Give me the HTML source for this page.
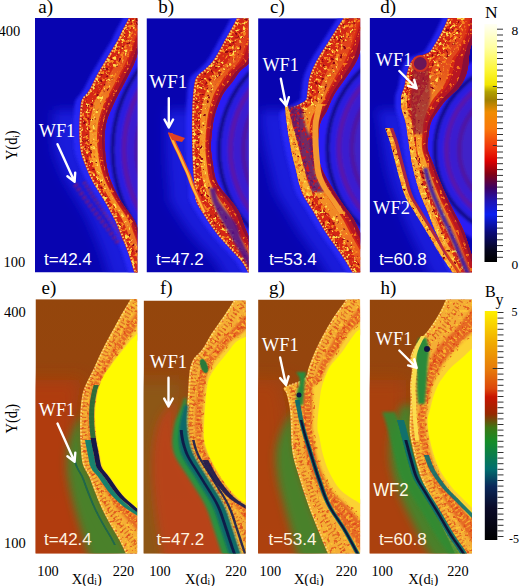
<!DOCTYPE html>
<html><head><meta charset="utf-8"><style>
html,body{margin:0;padding:0;background:#fff;}
body{width:520px;height:586px;overflow:hidden;position:relative;}
svg{position:absolute;left:0;top:0;}
</style></head><body>
<svg width="520" height="586" viewBox="0 0 520 586">
<defs>
<filter id="blur1" x="-20%" y="-20%" width="140%" height="140%"><feGaussianBlur stdDeviation="0.8"/></filter>
<filter id="blur2" x="-20%" y="-20%" width="140%" height="140%"><feGaussianBlur stdDeviation="1.5"/></filter>
<filter id="blur4" x="-20%" y="-20%" width="140%" height="140%"><feGaussianBlur stdDeviation="4"/></filter>
<filter id="blur07" x="-20%" y="-20%" width="140%" height="140%"><feGaussianBlur stdDeviation="0.7"/></filter>
<filter id="blur8" x="-30%" y="-30%" width="160%" height="160%"><feGaussianBlur stdDeviation="8"/></filter>
<filter id="blur3" x="-30%" y="-30%" width="160%" height="160%"><feGaussianBlur stdDeviation="3"/></filter>
<filter id="blur6" x="-30%" y="-30%" width="160%" height="160%"><feGaussianBlur stdDeviation="6"/></filter>
<filter id="blur05" x="-20%" y="-20%" width="140%" height="140%"><feGaussianBlur stdDeviation="0.5"/></filter>
<filter id="blur15" x="-20%" y="-20%" width="140%" height="140%"><feGaussianBlur stdDeviation="1.5"/></filter>
<filter id="speck" color-interpolation-filters="sRGB" x="0" y="0" width="520" height="586" filterUnits="userSpaceOnUse">
<feTurbulence type="fractalNoise" baseFrequency="0.28" numOctaves="2" seed="7" result="n"/>
<feColorMatrix in="n" type="matrix" values="0 0 0 0 0.97  0 0 0 0 0.52  0 0 0 0 0.12  9 0 0 0 -4.9" result="o"/>
<feColorMatrix in="n" type="matrix" values="0 0 0 0 1  0 0 0 0 0.88  0 0 0 0 0.3  0 10 0 0 -6.2" result="y"/>
<feColorMatrix in="n" type="matrix" values="0 0 0 0 0.55  0 0 0 0 0.02  0 0 0 0 0.08  0 0 9 0 -5.6" result="d"/>
<feMerge result="m"><feMergeNode in="d"/><feMergeNode in="o"/><feMergeNode in="y"/></feMerge>
<feComposite in="m" in2="SourceGraphic" operator="in"/>
<feGaussianBlur stdDeviation="0.45"/>
</filter>
<filter id="speckR" color-interpolation-filters="sRGB" x="0" y="0" width="520" height="586" filterUnits="userSpaceOnUse">
<feTurbulence type="fractalNoise" baseFrequency="0.3" numOctaves="2" seed="5" result="n"/>
<feColorMatrix in="n" type="matrix" values="0 0 0 0 0.8  0 0 0 0 0.08  0 0 0 0 0.12  9 0 0 0 -5.0"/>
<feComposite in2="SourceGraphic" operator="in"/>
<feGaussianBlur stdDeviation="0.5"/>
</filter>
<filter id="speckS" color-interpolation-filters="sRGB" x="0" y="0" width="520" height="586" filterUnits="userSpaceOnUse">
<feTurbulence type="fractalNoise" baseFrequency="0.3" numOctaves="2" seed="3" result="n"/>
<feColorMatrix in="n" type="matrix" values="0 0 0 0 0.96  0 0 0 0 0.45  0 0 0 0 0.1  10 0 0 0 -6.0"/>
<feComposite in2="SourceGraphic" operator="in"/>
<feGaussianBlur stdDeviation="0.5"/>
</filter>
<filter id="speckB" color-interpolation-filters="sRGB" x="0" y="0" width="520" height="586" filterUnits="userSpaceOnUse">
<feTurbulence type="fractalNoise" baseFrequency="0.3" numOctaves="2" seed="11" result="n"/>
<feColorMatrix in="n" type="matrix" values="0 0 0 0 1  0 0 0 0 0.82  0 0 0 0 0.2  9 0 0 0 -5.4" result="y"/>
<feColorMatrix in="n" type="matrix" values="0 0 0 0 0.85  0 0 0 0 0.2  0 0 0 0 0.08  0 9 0 0 -5.2" result="r"/>
<feMerge result="m"><feMergeNode in="r"/><feMergeNode in="y"/></feMerge>
<feComposite in="m" in2="SourceGraphic" operator="in"/>
</filter>
<linearGradient id="gBrown" gradientUnits="userSpaceOnUse" x1="0" y1="299" x2="0" y2="554">
<stop offset="0" stop-color="#94460c"/><stop offset="0.45" stop-color="#96440e"/><stop offset="1" stop-color="#a44414"/></linearGradient>
<linearGradient id="gGreen" gradientUnits="userSpaceOnUse" x1="0" y1="400" x2="0" y2="554">
<stop offset="0" stop-color="#3a8a2c"/><stop offset="1" stop-color="#3c8c28"/></linearGradient>
<linearGradient id="gEdge" gradientUnits="userSpaceOnUse" x1="0" y1="18" x2="0" y2="272">
<stop offset="0" stop-color="#f06a20"/><stop offset="0.35" stop-color="#f89028"/><stop offset="0.7" stop-color="#f07020"/><stop offset="1" stop-color="#e85018"/></linearGradient>
<linearGradient id="gMix" gradientUnits="userSpaceOnUse" x1="0" y1="18" x2="0" y2="272">
<stop offset="0" stop-color="#d83018"/><stop offset="0.35" stop-color="#e85a1c"/><stop offset="0.7" stop-color="#e04818"/><stop offset="1" stop-color="#d02818"/></linearGradient>
<linearGradient id="gCore" gradientUnits="userSpaceOnUse" x1="0" y1="18" x2="0" y2="272">
<stop offset="0" stop-color="#dc3018"/><stop offset="0.2" stop-color="#e4521c"/><stop offset="0.35" stop-color="#f08a26"/><stop offset="0.55" stop-color="#f8a42c"/><stop offset="0.8" stop-color="#f08426"/><stop offset="1" stop-color="#e44418"/></linearGradient>
</defs>
<clipPath id="clipa"><rect x="35.0" y="18.0" width="102.5" height="254.5"/></clipPath><g clip-path="url(#clipa)">
<rect x="35.0" y="18.0" width="102.5" height="254.5" fill="#0804b0"/>
<g filter="url(#blur15)">
<circle cx="249.5" cy="150.0" r="151.0" fill="#2a1ef5"/>
<circle cx="249.5" cy="150.0" r="142.0" fill="none" stroke="#2a1ef5" stroke-width="6.0"/>
<circle cx="249.5" cy="150.0" r="137.0" fill="none" stroke="#100a78" stroke-width="4.0"/>
<circle cx="249.5" cy="150.0" r="131.5" fill="none" stroke="#2c1ae0" stroke-width="7.0"/>
<circle cx="249.5" cy="150.0" r="125.5" fill="none" stroke="#5a18a8" stroke-width="5.0"/>
<circle cx="249.5" cy="150.0" r="119.0" fill="none" stroke="#3a1ad0" stroke-width="8.0"/>
<circle cx="249.5" cy="150.0" r="112.5" fill="none" stroke="#5018a0" stroke-width="5.0"/>
<circle cx="249.5" cy="150.0" r="110.0" fill="#4020c8"/>
</g>
<g filter="url(#blur6)">
<path d="M54.1,110C54,111 53.8,114 53.6,116C53.5,118 53.4,120 53.3,122C53.3,124 53.2,126 53.2,128C53.2,130 53.2,132 53.3,134C53.3,136 53.4,138 53.5,140C53.6,142 53.8,144 54,146C54.2,148 54.4,150 54.9,152C55.3,154 55.9,156 56.6,158C57.2,160 58,162 58.8,164C59.5,166 60.3,168 61.1,170C62,172 62.8,174 63.8,176C64.7,178 65.7,180 66.8,182C67.9,184 69.1,186 70.3,188C71.6,190 72.9,192 74.1,194C75.4,196 76.6,198 77.8,200C79,202 80.1,204 81.3,206C82.4,208 83.5,210 84.6,212C85.6,214 86.7,216 87.7,218C88.7,220 89.7,222 90.5,224C91.4,226 92.2,228 93,230C93.8,232 94.6,234 95.4,236C96.2,238 97.1,240 97.9,242C98.7,244 99.5,246 100.3,248C101,250 101.7,252 102.4,254C103.1,256 103.8,258 104.4,260C105.1,262 105.7,264 106.3,266C106.9,268 107.5,270 108.1,272C108.7,274 109.4,276.6 109.8,278C110.2,279.4 110.4,280.1 110.6,280.5 L138.6,280.5C138.4,280.1 138.2,279.4 137.8,278C137.4,276.6 136.7,274 136.1,272C135.5,270 134.9,268 134.3,266C133.7,264 133.1,262 132.4,260C131.8,258 131.1,256 130.4,254C129.7,252 129,250 128.3,248C127.5,246 126.7,244 125.9,242C125.1,240 124.2,238 123.4,236C122.6,234 121.8,232 121,230C120.2,228 119.4,226 118.5,224C117.7,222 116.7,220 115.7,218C114.7,216 113.6,214 112.6,212C111.5,210 110.4,208 109.3,206C108.1,204 107,202 105.8,200C104.6,198 103.4,196 102.1,194C100.9,192 99.6,190 98.3,188C97.1,186 95.9,184 94.8,182C93.7,180 92.7,178 91.8,176C90.8,174 90,172 89.1,170C88.3,168 87.5,166 86.8,164C86,162 85.2,160 84.6,158C83.9,156 83.3,154 82.9,152C82.4,150 82.2,148 82,146C81.8,144 81.6,142 81.5,140C81.4,138 81.3,136 81.3,134C81.2,132 81.2,130 81.2,128C81.2,126 81.3,124 81.3,122C81.4,120 81.5,118 81.6,116C81.8,114 82,111 82.1,110 Z" fill="#2a30ff" fill-opacity="0.55" />
</g>
<g filter="url(#blur2)">
<path d="M124.6,10C124.4,11 124.1,14 123.5,16C122.8,18 121.9,20 120.9,22C119.9,24 118.6,26 117.6,28C116.5,30 115.6,32 114.6,34C113.7,36 112.8,38 111.8,40C110.7,42 109.4,44 108.2,46C107,48 105.7,50 104.5,52C103.3,54 102.1,56 100.9,58C99.8,60 98.6,62 97.4,64C96.2,66 95,68 93.8,70C92.6,72 91.5,74 90.4,76C89.4,78 88.4,80 87.4,82C86.4,84 85.5,86 84.4,88C83.3,90 82,92 80.6,94C79.1,96 76.7,98 75.7,100C74.7,102 74.8,104 74.5,106C74.2,108 74.1,110 73.9,112C73.8,114 73.6,116 73.5,118C73.4,120 73.3,122 73.3,124C73.2,126 73.2,128 73.2,130C73.2,132 73.2,134 73.3,136C73.4,138 73.5,140 73.6,142C73.8,144 73.9,146 74.2,148C74.5,150 74.8,152 75.3,154C75.8,156 76.6,158 77.3,160C78,162 78.7,164 79.5,166C80.3,168 81.1,170 82,172C82.8,174 83.7,176 84.7,178C85.7,180 86.8,182 87.9,184C89.1,186 90.4,188 91.6,190C92.8,192 94.2,194 95.4,196C96.6,198 97.8,200 99,202C100.1,204 101.3,206 102.4,208C103.5,210 104.6,212 105.6,214C106.7,216 107.7,218 108.7,220C109.7,222 110.5,224 111.4,226C112.2,228 113,230 113.8,232C114.6,234 115.4,236 116.2,238C117.1,240 117.9,242 118.7,244C119.5,246 120.3,248 121,250C121.7,252 122.4,254 123.1,256C123.8,258 124.4,260 125.1,262C125.7,264 126.3,266 126.9,268C127.5,270 128.1,272 128.7,274C129.3,276 130.1,278.9 130.4,280C130.7,281.1 130.5,280.4 130.6,280.5 L138.6,280.5C138.5,280.4 138.7,281.1 138.4,280C138.1,278.9 137.3,276 136.7,274C136.1,272 135.5,270 134.9,268C134.3,266 133.7,264 133.1,262C132.4,260 131.8,258 131.1,256C130.4,254 129.7,252 129,250C128.3,248 127.5,246 126.7,244C125.9,242 125.1,240 124.2,238C123.4,236 122.6,234 121.8,232C121,230 120.2,228 119.4,226C118.5,224 117.7,222 116.7,220C115.7,218 114.7,216 113.6,214C112.6,212 111.5,210 110.4,208C109.3,206 108.1,204 107,202C105.8,200 104.6,198 103.4,196C102.2,194 100.8,192 99.6,190C98.4,188 97.1,186 95.9,184C94.8,182 93.7,180 92.7,178C91.7,176 90.8,174 90,172C89.1,170 88.3,168 87.5,166C86.7,164 86,162 85.3,160C84.6,158 83.8,156 83.3,154C82.8,152 82.5,150 82.2,148C81.9,146 81.8,144 81.6,142C81.5,140 81.4,138 81.3,136C81.2,134 81.2,132 81.2,130C81.2,128 81.2,126 81.3,124C81.3,122 81.4,120 81.5,118C81.6,116 81.8,114 81.9,112C82.1,110 82.2,108 82.5,106C82.8,104 82.7,102 83.7,100C84.7,98 87.1,96 88.6,94C90,92 91.3,90 92.4,88C93.5,86 94.4,84 95.4,82C96.4,80 97.4,78 98.4,76C99.5,74 100.6,72 101.8,70C103,68 104.2,66 105.4,64C106.6,62 107.8,60 108.9,58C110.1,56 111.3,54 112.5,52C113.7,50 115,48 116.2,46C117.4,44 118.7,42 119.8,40C120.8,38 121.7,36 122.6,34C123.6,32 124.5,30 125.6,28C126.6,26 127.9,24 128.9,22C129.9,20 130.8,18 131.5,16C132.1,14 132.4,11 132.6,10 Z" fill="#2c2cff" fill-opacity="0.8" />
</g>
<path d="M75,184 L86,200 L98,216 L109,230 L119,244" stroke="#a81850" stroke-width="5" fill="none" opacity="0.55" stroke-dasharray="3 2" filter="url(#blur1)"/>
<path d="M84,182 L94,198 L105,214 L116,228 L124,240" stroke="#b82040" stroke-width="4" fill="none" opacity="0.6" stroke-dasharray="2 2" filter="url(#blur1)"/>
<g filter="url(#blur05)">
<path d="M130.6,10C130.4,11 130.1,14 129.5,16C128.8,18 127.9,20 126.9,22C125.9,24 124.6,26 123.6,28C122.5,30 121.6,32 120.6,34C119.7,36 118.8,38 117.8,40C116.7,42 115.4,44 114.2,46C113,48 111.7,50 110.5,52C109.3,54 108.1,56 106.9,58C105.8,60 104.6,62 103.4,64C102.2,66 101,68 99.8,70C98.6,72 97.5,74 96.4,76C95.4,78 94.4,80 93.4,82C92.4,84 91.5,86 90.4,88C89.3,90 88,92 86.6,94C85.1,96 82.7,98 81.7,100C80.7,102 80.8,104 80.5,106C80.2,108 80.1,110 79.9,112C79.8,114 79.6,116 79.5,118C79.4,120 79.3,122 79.3,124C79.2,126 79.2,128 79.2,130C79.2,132 79.2,134 79.3,136C79.4,138 79.5,140 79.6,142C79.8,144 79.9,146 80.2,148C80.5,150 80.8,152 81.3,154C81.8,156 82.6,158 83.3,160C84,162 84.7,164 85.5,166C86.3,168 87.1,170 88,172C88.8,174 89.7,176 90.7,178C91.7,180 92.8,182 93.9,184C95.1,186 96.4,188 97.6,190C98.8,192 100.2,194 101.4,196C102.6,198 103.8,200 105,202C106.1,204 107.3,206 108.4,208C109.5,210 110.6,212 111.6,214C112.7,216 113.7,218 114.7,220C115.7,222 116.5,224 117.4,226C118.2,228 119,230 119.8,232C120.6,234 121.4,236 122.2,238C123.1,240 123.9,242 124.7,244C125.5,246 126.3,248 127,250C127.7,252 128.4,254 129.1,256C129.8,258 130.4,260 131.1,262C131.7,264 132.3,266 132.9,268C133.5,270 134.1,272 134.7,274C135.3,276 136.1,278.9 136.4,280C136.7,281.1 136.5,280.4 136.6,280.5 L154.6,280.5C154.5,280.4 154.7,281.1 154.4,280C154.1,278.9 153.3,276 152.7,274C152.1,272 151.5,270 150.9,268C150.3,266 149.7,264 149,262C148.4,260 147.7,258 147,256C146.4,254 145.7,252 145,250C144.3,248 143.7,246 143,244C142.4,242 141.7,240 141.1,238C140.4,236 139.7,234 138.9,232C138.2,230 137.6,228 136.8,226C136,224 135.1,222 134,220C132.9,218 131.5,216 130.1,214C128.7,212 127,210 125.6,208C124.1,206 122.7,204 121.4,202C120.1,200 119,198 117.9,196C116.9,194 115.8,192 114.8,190C113.8,188 112.9,186 112.1,184C111.2,182 110.4,180 109.7,178C109,176 108.4,174 108,172C107.5,170 107,168 106.7,166C106.3,164 106,162 105.8,160C105.6,158 105.4,156 105.3,154C105.1,152 105,150 104.8,148C104.7,146 104.6,144 104.5,142C104.5,140 104.5,138 104.6,136C104.7,134 104.9,132 105.1,130C105.4,128 105.6,126 106,124C106.5,122 107,120 107.6,118C108.3,116 109.2,114 110,112C110.9,110 111.8,108 112.7,106C113.6,104 114.5,102 115.5,100C116.5,98 117.5,96 118.5,94C119.6,92 120.7,90 121.7,88C122.8,86 123.8,84 124.9,82C125.9,80 127,78 128,76C129,74 130.1,72 131.1,70C132.1,68 133.1,66 134,64C134.8,62 135.5,60 136.2,58C136.9,56 137.4,54 138,52C138.6,50 139,48 139.5,46C140.1,44 140.5,42 141.2,40C141.8,38 142.7,36 143.5,34C144.2,32 145,30 145.7,28C146.4,26 147.2,24 147.8,22C148.4,20 149,18 149.5,16C150,14 150.4,11 150.6,10 Z" fill="#d42818" fill-opacity="1" />
<path d="M138.6,10C138.4,11 138,14 137.5,16C136.9,18 136.1,20 135.3,22C134.4,24 133.3,26 132.4,28C131.5,30 130.6,32 129.8,34C128.9,36 128,38 127.1,40C126.2,42 125.3,44 124.4,46C123.4,48 122.5,50 121.5,52C120.5,54 119.6,56 118.6,58C117.7,60 116.7,62 115.6,64C114.6,66 113.4,68 112.3,70C111.2,72 110.1,74 109.1,76C108,78 107,80 106,82C105,84 104,86 102.9,88C101.8,90 100.7,92 99.4,94C98.1,96 96.2,98 95.2,100C94.2,102 93.9,104 93.4,106C92.8,108 92.4,110 92,112C91.5,114 91.1,116 90.8,118C90.4,120 90.2,122 90,124C89.8,126 89.7,128 89.6,130C89.5,132 89.4,134 89.4,136C89.4,138 89.5,140 89.6,142C89.7,144 89.8,146 90.1,148C90.3,150 90.6,152 90.9,154C91.3,156 91.8,158 92.3,160C92.8,162 93.4,164 94,166C94.6,168 95.3,170 96,172C96.7,174 97.4,176 98.3,178C99.2,180 100.2,182 101.2,184C102.2,186 103.3,188 104.5,190C105.6,192 106.8,194 108,196C109.2,198 110.3,200 111.5,202C112.8,204 114,206 115.3,208C116.5,210 117.8,212 119,214C120.2,216 121.4,218 122.4,220C123.4,222 124.3,224 125.2,226C126,228 126.7,230 127.5,232C128.2,234 129,236 129.8,238C130.5,240 131.3,242 132,244C132.8,246 133.5,248 134.2,250C134.9,252 135.6,254 136.3,256C136.9,258 137.6,260 138.2,262C138.9,264 139.5,266 140.1,268C140.7,270 141.3,272 141.9,274C142.5,276 143.3,278.9 143.6,280C143.9,281.1 143.7,280.4 143.8,280.5 L149.2,280.5C149.1,280.4 149.3,281.1 149,280C148.7,278.9 147.9,276 147.3,274C146.7,272 146.1,270 145.5,268C144.9,266 144.3,264 143.6,262C143,260 142.3,258 141.7,256C141,254 140.3,252 139.6,250C138.9,248 138.2,246 137.5,244C136.8,242 136.1,240 135.4,238C134.7,236 133.9,234 133.2,232C132.5,230 131.8,228 131,226C130.1,224 129.3,222 128.2,220C127.1,218 125.8,216 124.5,214C123.2,212 121.8,210 120.4,208C119.1,206 117.7,204 116.5,202C115.2,200 114.1,198 113,196C111.8,194 110.7,192 109.7,190C108.6,188 107.6,186 106.6,184C105.7,182 104.8,180 104,178C103.2,176 102.6,174 102,172C101.4,170 100.8,168 100.3,166C99.9,164 99.4,162 99,160C98.7,158 98.4,156 98.1,154C97.8,152 97.6,150 97.5,148C97.3,146 97.1,144 97.1,142C97,140 97,138 97,136C97.1,134 97.2,132 97.3,130C97.5,128 97.7,126 98,124C98.3,122 98.7,120 99.2,118C99.7,116 100.4,114 101,112C101.6,110 102.3,108 103,106C103.8,104 104.4,102 105.4,100C106.4,98 107.8,96 109,94C110.1,92 111.2,90 112.3,88C113.4,86 114.4,84 115.4,82C116.5,80 117.5,78 118.5,76C119.6,74 120.6,72 121.7,70C122.7,68 123.8,66 124.8,64C125.8,62 126.6,60 127.4,58C128.2,56 129,54 129.8,52C130.5,50 131.2,48 131.9,46C132.7,44 133.4,42 134.1,40C134.9,38 135.8,36 136.6,34C137.4,32 138.2,30 139.1,28C139.9,26 140.8,24 141.5,22C142.3,20 143,18 143.5,16C144,14 144.4,11 144.6,10 Z" fill="url(#gCore)" fill-opacity="1" />
<path d="M145.8,10C145.6,11 145.2,14 144.7,16C144.2,18 143.5,20 142.8,22C142.1,24 141.2,26 140.4,28C139.6,30 138.8,32 138,34C137.2,36 136.3,38 135.5,40C134.8,42 134.1,44 133.5,46C132.8,48 132.1,50 131.4,52C130.7,54 130,56 129.2,58C128.4,60 127.6,62 126.6,64C125.7,66 124.6,68 123.6,70C122.5,72 121.4,74 120.4,76C119.4,78 118.4,80 117.3,82C116.3,84 115.3,86 114.2,88C113.1,90 112,92 110.9,94C109.7,96 108.4,98 107.4,100C106.4,102 105.7,104 105,106C104.2,108 103.5,110 102.8,112C102.1,114 101.4,116 100.9,118C100.4,120 99.9,122 99.6,124C99.3,126 99.1,128 98.9,130C98.7,132 98.6,134 98.5,136C98.5,138 98.5,140 98.5,142C98.6,144 98.8,146 98.9,148C99.1,150 99.3,152 99.5,154C99.8,156 100,158 100.4,160C100.7,162 101.1,164 101.6,166C102.1,168 102.6,170 103.2,172C103.7,174 104.4,176 105.1,178C105.9,180 106.8,182 107.7,184C108.6,186 109.6,188 110.7,190C111.7,192 112.8,194 114,196C115.1,198 116.2,200 117.5,202C118.7,204 120.1,206 121.5,208C122.8,210 124.3,212 125.6,214C127,216 128.3,218 129.4,220C130.5,222 131.3,224 132.1,226C133,228 133.6,230 134.3,232C135.1,234 135.8,236 136.5,238C137.3,240 138,242 138.6,244C139.3,246 140,248 140.7,250C141.4,252 142.1,254 142.7,256C143.4,258 144.1,260 144.7,262C145.4,264 146,266 146.6,268C147.2,270 147.8,272 148.4,274C148.9,276 149.8,278.9 150.1,280C150.4,281.1 150.2,280.4 150.2,280.5 L154.6,280.5C154.5,280.4 154.7,281.1 154.4,280C154.1,278.9 153.3,276 152.7,274C152.1,272 151.5,270 150.9,268C150.3,266 149.7,264 149,262C148.4,260 147.7,258 147,256C146.4,254 145.7,252 145,250C144.3,248 143.7,246 143,244C142.4,242 141.7,240 141.1,238C140.4,236 139.7,234 138.9,232C138.2,230 137.6,228 136.8,226C136,224 135.1,222 134,220C132.9,218 131.5,216 130.1,214C128.7,212 127,210 125.6,208C124.1,206 122.7,204 121.4,202C120.1,200 119,198 117.9,196C116.9,194 115.8,192 114.8,190C113.8,188 112.9,186 112.1,184C111.2,182 110.4,180 109.7,178C109,176 108.4,174 108,172C107.5,170 107,168 106.7,166C106.3,164 106,162 105.8,160C105.6,158 105.4,156 105.3,154C105.1,152 105,150 104.8,148C104.7,146 104.6,144 104.5,142C104.5,140 104.5,138 104.6,136C104.7,134 104.9,132 105.1,130C105.4,128 105.6,126 106,124C106.5,122 107,120 107.6,118C108.3,116 109.2,114 110,112C110.9,110 111.8,108 112.7,106C113.6,104 114.5,102 115.5,100C116.5,98 117.5,96 118.5,94C119.6,92 120.7,90 121.7,88C122.8,86 123.8,84 124.9,82C125.9,80 127,78 128,76C129,74 130.1,72 131.1,70C132.1,68 133.1,66 134,64C134.8,62 135.5,60 136.2,58C136.9,56 137.4,54 138,52C138.6,50 139,48 139.5,46C140.1,44 140.5,42 141.2,40C141.8,38 142.7,36 143.5,34C144.2,32 145,30 145.7,28C146.4,26 147.2,24 147.8,22C148.4,20 149,18 149.5,16C150,14 150.4,11 150.6,10 Z" fill="#b81820" fill-opacity="1" />
<path d="M148.6,10C148.4,11 148,14 147.5,16C147,18 146.4,20 145.7,22C145,24 144.3,26 143.5,28C142.7,30 142,32 141.2,34C140.4,36 139.5,38 138.8,40C138.1,42 137.6,44 137,46C136.4,48 135.9,50 135.2,52C134.6,54 134,56 133.3,58C132.6,60 131.8,62 130.9,64C130,66 128.9,68 127.9,70C126.9,72 125.9,74 124.8,76C123.8,78 122.8,80 121.7,82C120.7,84 119.7,86 118.6,88C117.5,90 116.4,92 115.3,94C114.3,96 113.1,98 112.1,100C111.2,102 110.3,104 109.5,106C108.6,108 107.8,110 107,112C106.3,114 105.4,116 104.8,118C104.2,120 103.7,122 103.4,124C103,126 102.7,128 102.5,130C102.3,132 102.1,134 102.1,136C102,138 102,140 102,142C102.1,144 102.2,146 102.4,148C102.5,150 102.7,152 102.9,154C103.1,156 103.3,158 103.5,160C103.8,162 104.2,164 104.6,166C105,168 105.4,170 106,172C106.5,174 107.1,176 107.8,178C108.5,180 109.4,182 110.2,184C111.1,186 112.1,188 113.1,190C114.1,192 115.2,194 116.3,196C117.4,198 118.5,200 119.8,202C121,204 122.5,206 123.9,208C125.3,210 126.9,212 128.2,214C129.6,216 131,218 132.1,220C133.2,222 134,224 134.9,226C135.7,228 136.3,230 137,232C137.7,234 138.5,236 139.2,238C139.9,240 140.5,242 141.2,244C141.9,246 142.5,248 143.2,250C143.9,252 144.6,254 145.2,256C145.9,258 146.6,260 147.2,262C147.9,264 148.5,266 149.1,268C149.7,270 150.3,272 150.9,274C151.5,276 152.3,278.9 152.6,280C152.9,281.1 152.7,280.4 152.8,280.5 L154.6,280.5C154.5,280.4 154.7,281.1 154.4,280C154.1,278.9 153.3,276 152.7,274C152.1,272 151.5,270 150.9,268C150.3,266 149.7,264 149,262C148.4,260 147.7,258 147,256C146.4,254 145.7,252 145,250C144.3,248 143.7,246 143,244C142.4,242 141.7,240 141.1,238C140.4,236 139.7,234 138.9,232C138.2,230 137.6,228 136.8,226C136,224 135.1,222 134,220C132.9,218 131.5,216 130.1,214C128.7,212 127,210 125.6,208C124.1,206 122.7,204 121.4,202C120.1,200 119,198 117.9,196C116.9,194 115.8,192 114.8,190C113.8,188 112.9,186 112.1,184C111.2,182 110.4,180 109.7,178C109,176 108.4,174 108,172C107.5,170 107,168 106.7,166C106.3,164 106,162 105.8,160C105.6,158 105.4,156 105.3,154C105.1,152 105,150 104.8,148C104.7,146 104.6,144 104.5,142C104.5,140 104.5,138 104.6,136C104.7,134 104.9,132 105.1,130C105.4,128 105.6,126 106,124C106.5,122 107,120 107.6,118C108.3,116 109.2,114 110,112C110.9,110 111.8,108 112.7,106C113.6,104 114.5,102 115.5,100C116.5,98 117.5,96 118.5,94C119.6,92 120.7,90 121.7,88C122.8,86 123.8,84 124.9,82C125.9,80 127,78 128,76C129,74 130.1,72 131.1,70C132.1,68 133.1,66 134,64C134.8,62 135.5,60 136.2,58C136.9,56 137.4,54 138,52C138.6,50 139,48 139.5,46C140.1,44 140.5,42 141.2,40C141.8,38 142.7,36 143.5,34C144.2,32 145,30 145.7,28C146.4,26 147.2,24 147.8,22C148.4,20 149,18 149.5,16C150,14 150.4,11 150.6,10 Z" fill="#8a0c38" fill-opacity="1" />
</g>
<g filter="url(#speck)">
<path d="M131.2,10C131,11 130.7,14 130.1,16C129.4,18 128.5,20 127.6,22C126.6,24 125.3,26 124.2,28C123.2,30 122.3,32 121.3,34C120.3,36 119.5,38 118.5,40C117.4,42 116.2,44 115,46C113.8,48 112.5,50 111.3,52C110.1,54 109,56 107.8,58C106.7,60 105.5,62 104.3,64C103.1,66 101.9,68 100.7,70C99.6,72 98.4,74 97.4,76C96.3,78 95.4,80 94.4,82C93.4,84 92.5,86 91.3,88C90.2,90 89,92 87.5,94C86.1,96 83.7,98 82.7,100C81.7,102 81.8,104 81.5,106C81.2,108 81,110 80.8,112C80.6,114 80.5,116 80.4,118C80.2,120 80.1,122 80.1,124C80,126 80,128 80,130C80,132 80,134 80.1,136C80.1,138 80.2,140 80.4,142C80.5,144 80.7,146 81,148C81.2,150 81.6,152 82.1,154C82.6,156 83.2,158 83.9,160C84.6,162 85.4,164 86.2,166C86.9,168 87.7,170 88.6,172C89.4,174 90.3,176 91.3,178C92.3,180 93.3,182 94.5,184C95.6,186 96.9,188 98.1,190C99.3,192 100.7,194 101.9,196C103.1,198 104.3,200 105.5,202C106.6,204 107.8,206 108.9,208C110,210 111.1,212 112.2,214C113.3,216 114.3,218 115.3,220C116.2,222 117.1,224 118,226C118.8,228 119.6,230 120.4,232C121.2,234 122,236 122.8,238C123.6,240 124.4,242 125.2,244C126,246 126.8,248 127.5,250C128.3,252 129,254 129.6,256C130.3,258 131,260 131.6,262C132.2,264 132.9,266 133.5,268C134.1,270 134.6,272 135.2,274C135.8,276 136.6,278.9 137,280C137.3,281.1 137.1,280.4 137.1,280.5 L147.4,280.5C147.3,280.4 147.5,281.1 147.2,280C146.9,278.9 146.1,276 145.5,274C144.9,272 144.3,270 143.7,268C143.1,266 142.5,264 141.8,262C141.2,260 140.5,258 139.9,256C139.2,254 138.5,252 137.8,250C137.1,248 136.4,246 135.7,244C135,242 134.3,240 133.5,238C132.8,236 132,234 131.3,232C130.5,230 129.9,228 129,226C128.2,224 127.3,222 126.3,220C125.2,218 124,216 122.7,214C121.4,212 120,210 118.7,208C117.4,206 116.1,204 114.8,202C113.6,200 112.5,198 111.3,196C110.2,194 109,192 107.9,190C106.8,188 105.8,186 104.8,184C103.8,182 102.9,180 102.1,178C101.3,176 100.6,174 100,172C99.3,170 98.8,168 98.2,166C97.7,164 97.2,162 96.8,160C96.4,158 96,156 95.7,154C95.4,152 95.2,150 95,148C94.8,146 94.7,144 94.6,142C94.5,140 94.4,138 94.5,136C94.5,134 94.6,132 94.8,130C94.9,128 95.1,126 95.3,124C95.6,122 95.9,120 96.4,118C96.8,116 97.4,114 98,112C98.6,110 99.2,108 99.8,106C100.5,104 101,102 102,100C103,98 104.6,96 105.8,94C107,92 108.1,90 109.2,88C110.3,86 111.3,84 112.3,82C113.3,80 114.3,78 115.4,76C116.4,74 117.5,72 118.6,70C119.6,68 120.8,66 121.7,64C122.7,62 123.6,60 124.5,58C125.4,56 126.2,54 127,52C127.8,50 128.6,48 129.4,46C130.2,44 131,42 131.8,40C132.6,38 133.5,36 134.3,34C135.2,32 136,30 136.9,28C137.7,26 138.7,24 139.4,22C140.2,20 140.9,18 141.5,16C142,14 142.4,11 142.6,10 Z" fill="#000" fill-opacity="1" />
</g>
<g filter="url(#speckS)">
<path d="M142.6,10C142.4,11 142,14 141.5,16C140.9,18 140.2,20 139.4,22C138.7,24 137.7,26 136.9,28C136,30 135.2,32 134.3,34C133.5,36 132.6,38 131.8,40C131,42 130.2,44 129.4,46C128.6,48 127.8,50 127,52C126.2,54 125.4,56 124.5,58C123.6,60 122.7,62 121.7,64C120.8,66 119.6,68 118.6,70C117.5,72 116.4,74 115.4,76C114.3,78 113.3,80 112.3,82C111.3,84 110.3,86 109.2,88C108.1,90 107,92 105.8,94C104.6,96 103,98 102,100C101,102 100.5,104 99.8,106C99.2,108 98.6,110 98,112C97.4,114 96.8,116 96.4,118C95.9,120 95.6,122 95.3,124C95.1,126 94.9,128 94.8,130C94.6,132 94.5,134 94.5,136C94.4,138 94.5,140 94.6,142C94.7,144 94.8,146 95,148C95.2,150 95.4,152 95.7,154C96,156 96.4,158 96.8,160C97.2,162 97.7,164 98.2,166C98.8,168 99.3,170 100,172C100.6,174 101.3,176 102.1,178C102.9,180 103.8,182 104.8,184C105.8,186 106.8,188 107.9,190C109,192 110.2,194 111.3,196C112.5,198 113.6,200 114.8,202C116.1,204 117.4,206 118.7,208C120,210 121.4,212 122.7,214C124,216 125.2,218 126.3,220C127.3,222 128.2,224 129,226C129.9,228 130.5,230 131.3,232C132,234 132.8,236 133.5,238C134.3,240 135,242 135.7,244C136.4,246 137.1,248 137.8,250C138.5,252 139.2,254 139.9,256C140.5,258 141.2,260 141.8,262C142.5,264 143.1,266 143.7,268C144.3,270 144.9,272 145.5,274C146.1,276 146.9,278.9 147.2,280C147.5,281.1 147.3,280.4 147.4,280.5 L152.8,280.5C152.7,280.4 152.9,281.1 152.6,280C152.3,278.9 151.5,276 150.9,274C150.3,272 149.7,270 149.1,268C148.5,266 147.9,264 147.2,262C146.6,260 145.9,258 145.2,256C144.6,254 143.9,252 143.2,250C142.5,248 141.9,246 141.2,244C140.5,242 139.9,240 139.2,238C138.5,236 137.7,234 137,232C136.3,230 135.7,228 134.9,226C134,224 133.2,222 132.1,220C131,218 129.6,216 128.2,214C126.9,212 125.3,210 123.9,208C122.5,206 121,204 119.8,202C118.5,200 117.4,198 116.3,196C115.2,194 114.1,192 113.1,190C112.1,188 111.1,186 110.2,184C109.4,182 108.5,180 107.8,178C107.1,176 106.5,174 106,172C105.4,170 105,168 104.6,166C104.2,164 103.8,162 103.5,160C103.3,158 103.1,156 102.9,154C102.7,152 102.5,150 102.4,148C102.2,146 102.1,144 102,142C102,140 102,138 102.1,136C102.1,134 102.3,132 102.5,130C102.7,128 103,126 103.4,124C103.7,122 104.2,120 104.8,118C105.4,116 106.3,114 107,112C107.8,110 108.6,108 109.5,106C110.3,104 111.2,102 112.1,100C113.1,98 114.3,96 115.3,94C116.4,92 117.5,90 118.6,88C119.7,86 120.7,84 121.7,82C122.8,80 123.8,78 124.8,76C125.9,74 126.9,72 127.9,70C128.9,68 130,66 130.9,64C131.8,62 132.6,60 133.3,58C134,56 134.6,54 135.2,52C135.9,50 136.4,48 137,46C137.6,44 138.1,42 138.8,40C139.5,38 140.4,36 141.2,34C142,32 142.7,30 143.5,28C144.3,26 145,24 145.7,22C146.4,20 147,18 147.5,16C148,14 148.4,11 148.6,10 Z" fill="#000" fill-opacity="1" />
</g>
<path d="M131.8,10C131.7,10.5 131.5,12 131.3,13C131.1,14 130.9,15 130.7,16C130.4,17 130,18 129.6,19C129.2,20 128.6,21 128.1,22C127.6,23 127,24 126.5,25C125.9,26 125.3,27 124.8,28C124.2,29 123.7,30 123.2,31C122.7,32 122.3,33 121.8,34C121.4,35 120.9,36 120.5,37C120,38 119.5,39 119,40C118.4,41 117.9,42 117.3,43C116.7,44 116.1,45 115.4,46C114.8,47 114.2,48 113.5,49C112.9,50 112.3,51 111.7,52C111.1,53 110.5,54 109.9,55C109.3,56 108.7,57 108.1,58C107.6,59 107,60 106.4,61C105.8,62 105.2,63 104.6,64C104,65 103.4,66 102.8,67C102.2,68 101.6,69 101,70C100.4,71 99.8,72 99.3,73C98.7,74 98.2,75 97.6,76C97.1,77 96.6,78 96.1,79C95.6,80 95.1,81 94.6,82C94.1,83 93.6,84 93.1,85C92.6,86 92.1,87 91.6,88C91.1,89 90.6,90 90,91C89.4,92 88.7,93 87.8,94C86.9,95 85.2,96 84.4,97C83.6,98 83.3,99 82.9,100C82.5,101 82.3,102 82.1,103C81.9,104 81.8,105 81.7,106C81.6,107 81.5,108 81.4,109C81.3,110 81.2,111 81.1,112C81,113 81,114 80.9,115C80.8,116 80.8,117 80.7,118C80.7,119 80.6,120 80.6,121C80.5,122 80.5,123 80.5,124C80.4,125 80.4,126 80.4,127C80.4,128 80.4,129 80.4,130C80.4,131 80.4,132 80.4,133C80.4,134 80.5,135 80.5,136C80.5,137 80.6,138 80.6,139C80.7,140 80.7,141 80.8,142C80.9,143 81,144 81.1,145C81.2,146 81.3,147 81.4,148C81.6,149 81.7,150 81.9,151C82.1,152 82.3,153 82.5,154C82.8,155 83.1,156 83.4,157C83.7,158 84.1,159 84.5,160C84.8,161 85.2,162 85.6,163C86,164 86.3,165 86.7,166C87.1,167 87.5,168 87.9,169C88.3,170 88.8,171 89.2,172C89.6,173 90.1,174 90.5,175C91,176 91.4,177 91.9,178C92.4,179 92.9,180 93.5,181C94,182 94.6,183 95.1,184C95.7,185 96.3,186 96.9,187C97.5,188 98.2,189 98.8,190C99.4,191 100.1,192 100.7,193C101.3,194 102,195 102.6,196C103.2,197 103.8,198 104.4,199C105,200 105.6,201 106.2,202C106.8,203 107.3,204 107.9,205C108.5,206 109,207 109.6,208C110.1,209 110.7,210 111.2,211C111.8,212 112.3,213 112.8,214C113.4,215 113.9,216 114.4,217C114.9,218 115.4,219 115.9,220C116.4,221 116.8,222 117.3,223C117.7,224 118.2,225 118.6,226C119,227 119.4,228 119.8,229C120.2,230 120.6,231 121,232C121.4,233 121.8,234 122.2,235C122.6,236 123,237 123.4,238C123.8,239 124.3,240 124.7,241C125.1,242 125.5,243 125.9,244C126.3,245 126.7,246 127.1,247C127.5,248 127.8,249 128.2,250C128.6,251 128.9,252 129.3,253C129.6,254 130,255 130.3,256C130.6,257 131,258 131.3,259C131.6,260 131.9,261 132.3,262C132.6,263 132.9,264 133.2,265C133.5,266 133.8,267 134.1,268C134.4,269 134.7,270 135,271C135.3,272 135.6,273 135.9,274C136.2,275 136.6,276.5 136.7,277" fill="none" stroke="#ffd870" stroke-width="1.8" stroke-dasharray="1.6 1.6" opacity="0.9"/>
</g>
<clipPath id="clipb"><rect x="146.5" y="18.2" width="102.2" height="254.3"/></clipPath><g clip-path="url(#clipb)">
<rect x="146.5" y="18.2" width="102.2" height="254.3" fill="#0804b0"/>
<g filter="url(#blur15)">
<circle cx="332.0" cy="150.0" r="127.0" fill="#2a1ef5"/>
<circle cx="332.0" cy="150.0" r="118.0" fill="none" stroke="#2a1ef5" stroke-width="6.0"/>
<circle cx="332.0" cy="150.0" r="113.0" fill="none" stroke="#100a78" stroke-width="4.0"/>
<circle cx="332.0" cy="150.0" r="107.5" fill="none" stroke="#2c1ae0" stroke-width="7.0"/>
<circle cx="332.0" cy="150.0" r="101.5" fill="none" stroke="#5a18a8" stroke-width="5.0"/>
<circle cx="332.0" cy="150.0" r="95.0" fill="none" stroke="#3a1ad0" stroke-width="8.0"/>
<circle cx="332.0" cy="150.0" r="88.5" fill="none" stroke="#5018a0" stroke-width="5.0"/>
<circle cx="332.0" cy="150.0" r="86.0" fill="#4020c8"/>
</g>
<g filter="url(#blur6)">
<path d="M166.2,110C166.2,111 166.1,114 166,116C166,118 166,120 166,122C165.9,124 165.9,126 165.9,128C166,130 166,132 166,134C166,136 166,138 166,140C166.1,142 166.1,144 166.1,146C166.2,148 166.2,150 166.3,152C166.4,154 166.4,156 166.5,158C166.6,160 166.7,162 166.8,164C166.9,166 167,168 167.1,170C167.3,172 167.4,174 167.6,176C167.8,178 168,180 168.2,182C168.4,184 168.7,186 168.8,188C169,190 168.9,192 169,194C169.1,196 168.9,198 169.5,200C170.1,202 171.3,204 172.4,206C173.5,208 174.9,210 176.1,212C177.4,214 178.6,216 179.9,218C181.2,220 182.5,222 183.9,224C185.3,226 186.7,228 188.2,230C189.6,232 191.1,234 192.8,236C194.4,238 196.2,240 198,242C199.8,244 201.7,246 203.5,248C205.4,250 207.3,252 209.1,254C210.9,256 212.9,258 214.5,260C216.1,262 217.4,264 218.7,266C219.9,268 220.8,270 221.8,272C222.8,274 223.8,276.6 224.4,278C225,279.4 225.2,280.1 225.4,280.5 L253.4,280.5C253.2,280.1 253,279.4 252.4,278C251.8,276.6 250.8,274 249.8,272C248.8,270 247.9,268 246.7,266C245.4,264 244.1,262 242.5,260C240.9,258 238.9,256 237.1,254C235.3,252 233.4,250 231.5,248C229.7,246 227.8,244 226,242C224.2,240 222.4,238 220.8,236C219.1,234 217.6,232 216.2,230C214.7,228 213.3,226 211.9,224C210.5,222 209.2,220 207.9,218C206.6,216 205.4,214 204.1,212C202.9,210 201.5,208 200.4,206C199.3,204 198.1,202 197.5,200C196.9,198 197.1,196 197,194C196.9,192 197,190 196.8,188C196.7,186 196.4,184 196.2,182C196,180 195.8,178 195.6,176C195.4,174 195.3,172 195.1,170C195,168 194.9,166 194.8,164C194.7,162 194.6,160 194.5,158C194.4,156 194.4,154 194.3,152C194.2,150 194.2,148 194.1,146C194.1,144 194.1,142 194,140C194,138 194,136 194,134C194,132 194,130 193.9,128C193.9,126 193.9,124 194,122C194,120 194,118 194,116C194.1,114 194.2,111 194.2,110 Z" fill="#2a30ff" fill-opacity="0.55" />
</g>
<g filter="url(#blur2)">
<path d="M233.4,10.2C233.1,11.2 232.5,14.2 231.7,16.2C231,18.2 229.9,20.2 228.9,22.2C227.9,24.2 226.8,26.2 225.7,28.2C224.6,30.2 223.4,32.2 222.3,34.2C221.2,36.2 220,38.2 218.9,40.2C217.8,42.2 216.7,44.2 215.7,46.2C214.6,48.2 213.5,50.2 212.4,52.2C211.3,54.2 210.2,56.2 208.9,58.2C207.5,60.2 206.1,62.2 204.3,64.2C202.5,66.2 200.3,68.2 198.1,70.2C195.9,72.2 192.7,74.2 191.1,76.2C189.5,78.2 189.3,80.2 188.7,82.2C188.2,84.2 188,86.2 187.7,88.2C187.4,90.2 187.2,92.2 187.1,94.2C186.9,96.2 186.7,98.2 186.6,100.2C186.5,102.2 186.4,104.2 186.3,106.2C186.3,108.2 186.2,110.2 186.2,112.2C186.1,114.2 186,116.2 186,118.2C186,120.2 186,122.2 185.9,124.2C185.9,126.2 185.9,128.2 186,130.2C186,132.2 186,134.2 186,136.2C186,138.2 186,140.2 186.1,142.2C186.1,144.2 186.1,146.2 186.2,148.2C186.2,150.2 186.3,152.2 186.4,154.2C186.4,156.2 186.5,158.2 186.6,160.2C186.7,162.2 186.8,164.2 186.9,166.2C187,168.2 187.1,170.2 187.3,172.2C187.4,174.2 187.6,176.2 187.8,178.2C188,180.2 188.2,182.2 188.4,184.2C188.6,186.2 188.9,188.2 189,190.2C189.1,192.2 188.7,194.2 188.9,196.2C189.2,198.2 189.6,200.2 190.4,202.2C191.2,204.2 192.6,206.2 193.7,208.2C194.9,210.2 196.2,212.2 197.5,214.2C198.7,216.2 200,218.2 201.3,220.2C202.6,222.2 204,224.2 205.4,226.2C206.8,228.2 208.3,230.2 209.8,232.2C211.3,234.2 212.9,236.2 214.6,238.2C216.3,240.2 218.2,242.2 220,244.2C221.8,246.2 223.7,248.2 225.5,250.2C227.4,252.2 229.4,254.2 231.2,256.2C233,258.2 234.8,260.2 236.2,262.2C237.7,264.2 238.8,266.2 239.9,268.2C241,270.2 241.9,272.2 242.8,274.2C243.7,276.2 244.8,279.1 245.3,280.2C245.7,281.2 245.4,280.4 245.4,280.5 L253.4,280.5C253.4,280.4 253.7,281.2 253.3,280.2C252.8,279.1 251.7,276.2 250.8,274.2C249.9,272.2 249,270.2 247.9,268.2C246.8,266.2 245.7,264.2 244.2,262.2C242.8,260.2 241,258.2 239.2,256.2C237.4,254.2 235.4,252.2 233.5,250.2C231.7,248.2 229.8,246.2 228,244.2C226.2,242.2 224.3,240.2 222.6,238.2C220.9,236.2 219.3,234.2 217.8,232.2C216.3,230.2 214.8,228.2 213.4,226.2C212,224.2 210.6,222.2 209.3,220.2C208,218.2 206.7,216.2 205.5,214.2C204.2,212.2 202.9,210.2 201.7,208.2C200.6,206.2 199.2,204.2 198.4,202.2C197.6,200.2 197.2,198.2 196.9,196.2C196.7,194.2 197.1,192.2 197,190.2C196.9,188.2 196.6,186.2 196.4,184.2C196.2,182.2 196,180.2 195.8,178.2C195.6,176.2 195.4,174.2 195.3,172.2C195.1,170.2 195,168.2 194.9,166.2C194.8,164.2 194.7,162.2 194.6,160.2C194.5,158.2 194.4,156.2 194.4,154.2C194.3,152.2 194.2,150.2 194.2,148.2C194.1,146.2 194.1,144.2 194.1,142.2C194,140.2 194,138.2 194,136.2C194,134.2 194,132.2 194,130.2C193.9,128.2 193.9,126.2 193.9,124.2C194,122.2 194,120.2 194,118.2C194,116.2 194.1,114.2 194.2,112.2C194.2,110.2 194.3,108.2 194.3,106.2C194.4,104.2 194.5,102.2 194.6,100.2C194.7,98.2 194.9,96.2 195.1,94.2C195.2,92.2 195.4,90.2 195.7,88.2C196,86.2 196.2,84.2 196.7,82.2C197.3,80.2 197.5,78.2 199.1,76.2C200.7,74.2 203.9,72.2 206.1,70.2C208.3,68.2 210.5,66.2 212.3,64.2C214.1,62.2 215.5,60.2 216.9,58.2C218.2,56.2 219.3,54.2 220.4,52.2C221.5,50.2 222.6,48.2 223.7,46.2C224.7,44.2 225.8,42.2 226.9,40.2C228,38.2 229.2,36.2 230.3,34.2C231.4,32.2 232.6,30.2 233.7,28.2C234.8,26.2 235.9,24.2 236.9,22.2C237.9,20.2 239,18.2 239.7,16.2C240.5,14.2 241.1,11.2 241.4,10.2 Z" fill="#2c2cff" fill-opacity="0.8" />
</g>
<g filter="url(#blur05)">
<path d="M239.4,10.2C239.1,11.2 238.5,14.2 237.7,16.2C237,18.2 235.9,20.2 234.9,22.2C233.9,24.2 232.8,26.2 231.7,28.2C230.6,30.2 229.4,32.2 228.3,34.2C227.2,36.2 226,38.2 224.9,40.2C223.8,42.2 222.7,44.2 221.7,46.2C220.6,48.2 219.5,50.2 218.4,52.2C217.3,54.2 216.2,56.2 214.9,58.2C213.5,60.2 212.1,62.2 210.3,64.2C208.5,66.2 206.3,68.2 204.1,70.2C201.9,72.2 198.7,74.2 197.1,76.2C195.5,78.2 195.3,80.2 194.7,82.2C194.2,84.2 194,86.2 193.7,88.2C193.4,90.2 193.2,92.2 193.1,94.2C192.9,96.2 192.7,98.2 192.6,100.2C192.5,102.2 192.4,104.2 192.3,106.2C192.3,108.2 192.2,110.2 192.2,112.2C192.1,114.2 192,116.2 192,118.2C192,120.2 192,122.2 191.9,124.2C191.9,126.2 191.9,128.2 192,130.2C192,132.2 192,134.2 192,136.2C192,138.2 192,140.2 192.1,142.2C192.1,144.2 192.1,146.2 192.2,148.2C192.2,150.2 192.3,152.2 192.4,154.2C192.4,156.2 192.5,158.2 192.6,160.2C192.7,162.2 192.8,164.2 192.9,166.2C193,168.2 193.1,170.2 193.3,172.2C193.4,174.2 193.6,176.2 193.8,178.2C194,180.2 194.2,182.2 194.4,184.2C194.6,186.2 194.9,188.2 195,190.2C195.1,192.2 194.7,194.2 194.9,196.2C195.2,198.2 195.6,200.2 196.4,202.2C197.2,204.2 198.6,206.2 199.7,208.2C200.9,210.2 202.2,212.2 203.5,214.2C204.7,216.2 206,218.2 207.3,220.2C208.6,222.2 210,224.2 211.4,226.2C212.8,228.2 214.3,230.2 215.8,232.2C217.3,234.2 218.9,236.2 220.6,238.2C222.3,240.2 224.2,242.2 226,244.2C227.8,246.2 229.7,248.2 231.5,250.2C233.4,252.2 235.4,254.2 237.2,256.2C239,258.2 240.8,260.2 242.2,262.2C243.7,264.2 244.8,266.2 245.9,268.2C247,270.2 247.9,272.2 248.8,274.2C249.7,276.2 250.8,279.1 251.3,280.2C251.7,281.2 251.4,280.4 251.4,280.5 L269.5,280.5C269.5,280.4 269.7,281.2 269.4,280.2C269,279.1 268.1,276.2 267.4,274.2C266.7,272.2 266.1,270.2 265.3,268.2C264.5,266.2 263.7,264.2 262.7,262.2C261.7,260.2 260.6,258.2 259.5,256.2C258.4,254.2 257.2,252.2 256.1,250.2C255,248.2 253.9,246.2 252.8,244.2C251.7,242.2 250.6,240.2 249.6,238.2C248.6,236.2 247.7,234.2 246.9,232.2C246,230.2 245.2,228.2 244.5,226.2C243.7,224.2 243,222.2 242.3,220.2C241.6,218.2 241,216.2 240.1,214.2C239.1,212.2 238,210.2 236.7,208.2C235.4,206.2 233.9,204.2 232.3,202.2C230.7,200.2 229,198.2 227.3,196.2C225.7,194.2 223.7,192.2 222.1,190.2C220.6,188.2 219.2,186.2 218,184.2C216.9,182.2 216.1,180.2 215.4,178.2C214.8,176.2 214.5,174.2 214.1,172.2C213.7,170.2 213.5,168.2 213.2,166.2C212.9,164.2 212.5,162.2 212.2,160.2C211.9,158.2 211.6,156.2 211.4,154.2C211.1,152.2 211,150.2 210.9,148.2C210.9,146.2 210.9,144.2 211,142.2C211.1,140.2 211.3,138.2 211.5,136.2C211.7,134.2 211.9,132.2 212.1,130.2C212.4,128.2 212.6,126.2 212.9,124.2C213.2,122.2 213.5,120.2 214,118.2C214.4,116.2 214.9,114.2 215.5,112.2C216.1,110.2 216.8,108.2 217.6,106.2C218.3,104.2 219.2,102.2 220.1,100.2C220.9,98.2 221.7,96.2 222.9,94.2C224.1,92.2 225.5,90.2 227.1,88.2C228.6,86.2 230.5,84.2 232.1,82.2C233.6,80.2 234.8,78.2 236.2,76.2C237.7,74.2 238.8,72.2 240.8,70.2C242.8,68.2 246.2,66.2 248.1,64.2C250,62.2 251.3,60.2 252.2,58.2C253.2,56.2 253.5,54.2 253.9,52.2C254.4,50.2 254.6,48.2 255,46.2C255.3,44.2 255.6,42.2 256,40.2C256.3,38.2 256.8,36.2 257.1,34.2C257.5,32.2 257.8,30.2 258.2,28.2C258.5,26.2 258.9,24.2 259.2,22.2C259.6,20.2 260,18.2 260.3,16.2C260.7,14.2 261.4,11.2 261.6,10.2 Z" fill="#d42818" fill-opacity="1" />
<path d="M248.3,10.2C248,11.2 247.4,14.2 246.8,16.2C246.2,18.2 245.4,20.2 244.7,22.2C243.9,24.2 243.1,26.2 242.3,28.2C241.5,30.2 240.7,32.2 239.8,34.2C239,36.2 238.1,38.2 237.3,40.2C236.5,42.2 235.8,44.2 235,46.2C234.2,48.2 233.5,50.2 232.6,52.2C231.8,54.2 231,56.2 229.8,58.2C228.6,60.2 227.3,62.2 225.4,64.2C223.6,66.2 220.9,68.2 218.8,70.2C216.7,72.2 214.3,74.2 212.7,76.2C211.2,78.2 210.6,80.2 209.7,82.2C208.7,84.2 207.8,86.2 207.1,88.2C206.3,90.2 205.6,92.2 205,94.2C204.4,96.2 204,98.2 203.6,100.2C203.1,102.2 202.8,104.2 202.4,106.2C202.1,108.2 201.8,110.2 201.5,112.2C201.2,114.2 201,116.2 200.8,118.2C200.6,120.2 200.4,122.2 200.3,124.2C200.2,126.2 200.1,128.2 200,130.2C199.9,132.2 199.9,134.2 199.8,136.2C199.7,138.2 199.7,140.2 199.6,142.2C199.6,144.2 199.6,146.2 199.7,148.2C199.7,150.2 199.8,152.2 200,154.2C200.1,156.2 200.3,158.2 200.4,160.2C200.6,162.2 200.8,164.2 201,166.2C201.2,168.2 201.4,170.2 201.6,172.2C201.8,174.2 202.1,176.2 202.4,178.2C202.8,180.2 203.3,182.2 203.9,184.2C204.5,186.2 205.2,188.2 205.9,190.2C206.5,192.2 207.1,194.2 207.9,196.2C208.7,198.2 209.6,200.2 210.7,202.2C211.8,204.2 213.3,206.2 214.5,208.2C215.7,210.2 217,212.2 218.1,214.2C219.2,216.2 220.2,218.2 221.3,220.2C222.4,222.2 223.5,224.2 224.6,226.2C225.8,228.2 227,230.2 228.2,232.2C229.5,234.2 230.8,236.2 232.2,238.2C233.6,240.2 235.2,242.2 236.7,244.2C238.2,246.2 239.8,248.2 241.4,250.2C242.9,252.2 244.6,254.2 246.1,256.2C247.6,258.2 249.1,260.2 250.4,262.2C251.7,264.2 252.7,266.2 253.6,268.2C254.6,270.2 255.5,272.2 256.3,274.2C257.1,276.2 258.1,279.1 258.5,280.2C258.9,281.2 258.6,280.4 258.6,280.5 L264.1,280.5C264,280.4 264.3,281.2 263.9,280.2C263.6,279.1 262.6,276.2 261.8,274.2C261.1,272.2 260.4,270.2 259.5,268.2C258.6,266.2 257.7,264.2 256.5,262.2C255.4,260.2 254.1,258.2 252.8,256.2C251.5,254.2 250.1,252.2 248.7,250.2C247.4,248.2 246.1,246.2 244.8,244.2C243.5,242.2 242.1,240.2 240.9,238.2C239.7,236.2 238.6,234.2 237.5,232.2C236.5,230.2 235.5,228.2 234.6,226.2C233.6,224.2 232.7,222.2 231.8,220.2C230.9,218.2 230.1,216.2 229.1,214.2C228.1,212.2 226.9,210.2 225.6,208.2C224.3,206.2 222.9,204.2 221.5,202.2C220.2,200.2 218.9,198.2 217.6,196.2C216.4,194.2 215.1,192.2 214,190.2C212.9,188.2 211.8,186.2 211,184.2C210.1,182.2 209.4,180.2 208.9,178.2C208.4,176.2 208.2,174.2 207.8,172.2C207.5,170.2 207.4,168.2 207.1,166.2C206.8,164.2 206.6,162.2 206.3,160.2C206.1,158.2 205.8,156.2 205.7,154.2C205.5,152.2 205.4,150.2 205.3,148.2C205.3,146.2 205.3,144.2 205.3,142.2C205.4,140.2 205.5,138.2 205.6,136.2C205.8,134.2 205.9,132.2 206.1,130.2C206.2,128.2 206.4,126.2 206.6,124.2C206.8,122.2 207.1,120.2 207.4,118.2C207.7,116.2 208.1,114.2 208.5,112.2C209,110.2 209.5,108.2 210,106.2C210.6,104.2 211.2,102.2 211.8,100.2C212.5,98.2 213.1,96.2 213.9,94.2C214.8,92.2 215.9,90.2 217.1,88.2C218.2,86.2 219.6,84.2 220.9,82.2C222.1,80.2 223,78.2 224.5,76.2C226,74.2 227.8,72.2 229.8,70.2C231.9,68.2 234.9,66.2 236.8,64.2C238.6,62.2 239.9,60.2 241,58.2C242.1,56.2 242.6,54.2 243.3,52.2C243.9,50.2 244.4,48.2 245,46.2C245.5,44.2 246.1,42.2 246.6,40.2C247.2,38.2 247.9,36.2 248.5,34.2C249.1,32.2 249.7,30.2 250.2,28.2C250.8,26.2 251.4,24.2 251.9,22.2C252.5,20.2 253.1,18.2 253.6,16.2C254.1,14.2 254.7,11.2 254.9,10.2 Z" fill="url(#gCore)" fill-opacity="1" />
<path d="M256.2,10.2C256,11.2 255.4,14.2 254.9,16.2C254.4,18.2 253.9,20.2 253.4,22.2C252.9,24.2 252.4,26.2 251.8,28.2C251.3,30.2 250.8,32.2 250.2,34.2C249.7,36.2 249,38.2 248.5,40.2C248,42.2 247.5,44.2 247,46.2C246.4,48.2 246,50.2 245.4,52.2C244.8,54.2 244.3,56.2 243.3,58.2C242.2,60.2 240.9,62.2 239,64.2C237.1,66.2 234,68.2 232,70.2C230,72.2 228.3,74.2 226.8,76.2C225.3,78.2 224.4,80.2 223.1,82.2C221.8,84.2 220.3,86.2 219.1,88.2C217.8,90.2 216.7,92.2 215.7,94.2C214.8,96.2 214.2,98.2 213.5,100.2C212.8,102.2 212.1,104.2 211.5,106.2C210.9,108.2 210.4,110.2 209.9,112.2C209.4,114.2 209,116.2 208.7,118.2C208.3,120.2 208.1,122.2 207.9,124.2C207.6,126.2 207.5,128.2 207.3,130.2C207.1,132.2 206.9,134.2 206.8,136.2C206.7,138.2 206.5,140.2 206.5,142.2C206.4,144.2 206.4,146.2 206.4,148.2C206.5,150.2 206.6,152.2 206.8,154.2C207,156.2 207.2,158.2 207.5,160.2C207.7,162.2 208.1,164.2 208.3,166.2C208.6,168.2 208.8,170.2 209.1,172.2C209.4,174.2 209.7,176.2 210.2,178.2C210.8,180.2 211.5,182.2 212.4,184.2C213.3,186.2 214.4,188.2 215.6,190.2C216.8,192.2 218.2,194.2 219.6,196.2C220.9,198.2 222.3,200.2 223.7,202.2C225.1,204.2 226.6,206.2 227.8,208.2C229.1,210.2 230.3,212.2 231.3,214.2C232.3,216.2 233,218.2 233.9,220.2C234.8,222.2 235.6,224.2 236.5,226.2C237.5,228.2 238.4,230.2 239.4,232.2C240.4,234.2 241.5,236.2 242.6,238.2C243.8,240.2 245.1,242.2 246.4,244.2C247.6,246.2 248.9,248.2 250.2,250.2C251.5,252.2 252.8,254.2 254.1,256.2C255.4,258.2 256.7,260.2 257.8,262.2C258.9,264.2 259.8,266.2 260.6,268.2C261.5,270.2 262.2,272.2 263,274.2C263.7,276.2 264.7,279.1 265,280.2C265.4,281.2 265.1,280.4 265.1,280.5 L269.5,280.5C269.5,280.4 269.7,281.2 269.4,280.2C269,279.1 268.1,276.2 267.4,274.2C266.7,272.2 266.1,270.2 265.3,268.2C264.5,266.2 263.7,264.2 262.7,262.2C261.7,260.2 260.6,258.2 259.5,256.2C258.4,254.2 257.2,252.2 256.1,250.2C255,248.2 253.9,246.2 252.8,244.2C251.7,242.2 250.6,240.2 249.6,238.2C248.6,236.2 247.7,234.2 246.9,232.2C246,230.2 245.2,228.2 244.5,226.2C243.7,224.2 243,222.2 242.3,220.2C241.6,218.2 241,216.2 240.1,214.2C239.1,212.2 238,210.2 236.7,208.2C235.4,206.2 233.9,204.2 232.3,202.2C230.7,200.2 229,198.2 227.3,196.2C225.7,194.2 223.7,192.2 222.1,190.2C220.6,188.2 219.2,186.2 218,184.2C216.9,182.2 216.1,180.2 215.4,178.2C214.8,176.2 214.5,174.2 214.1,172.2C213.7,170.2 213.5,168.2 213.2,166.2C212.9,164.2 212.5,162.2 212.2,160.2C211.9,158.2 211.6,156.2 211.4,154.2C211.1,152.2 211,150.2 210.9,148.2C210.9,146.2 210.9,144.2 211,142.2C211.1,140.2 211.3,138.2 211.5,136.2C211.7,134.2 211.9,132.2 212.1,130.2C212.4,128.2 212.6,126.2 212.9,124.2C213.2,122.2 213.5,120.2 214,118.2C214.4,116.2 214.9,114.2 215.5,112.2C216.1,110.2 216.8,108.2 217.6,106.2C218.3,104.2 219.2,102.2 220.1,100.2C220.9,98.2 221.7,96.2 222.9,94.2C224.1,92.2 225.5,90.2 227.1,88.2C228.6,86.2 230.5,84.2 232.1,82.2C233.6,80.2 234.8,78.2 236.2,76.2C237.7,74.2 238.8,72.2 240.8,70.2C242.8,68.2 246.2,66.2 248.1,64.2C250,62.2 251.3,60.2 252.2,58.2C253.2,56.2 253.5,54.2 253.9,52.2C254.4,50.2 254.6,48.2 255,46.2C255.3,44.2 255.6,42.2 256,40.2C256.3,38.2 256.8,36.2 257.1,34.2C257.5,32.2 257.8,30.2 258.2,28.2C258.5,26.2 258.9,24.2 259.2,22.2C259.6,20.2 260,18.2 260.3,16.2C260.7,14.2 261.4,11.2 261.6,10.2 Z" fill="#b81820" fill-opacity="1" />
<path d="M259.3,10.2C259.1,11.2 258.5,14.2 258.1,16.2C257.7,18.2 257.2,20.2 256.8,22.2C256.4,24.2 256,26.2 255.5,28.2C255.1,30.2 254.7,32.2 254.3,34.2C253.8,36.2 253.3,38.2 252.9,40.2C252.4,42.2 252,44.2 251.6,46.2C251.2,48.2 250.9,50.2 250.4,52.2C249.9,54.2 249.5,56.2 248.5,58.2C247.5,60.2 246.2,62.2 244.3,64.2C242.4,66.2 239.2,68.2 237.2,70.2C235.2,72.2 233.8,74.2 232.3,76.2C230.8,78.2 229.8,80.2 228.3,82.2C226.9,84.2 225.1,86.2 223.7,88.2C222.3,90.2 221,92.2 219.9,94.2C218.8,96.2 218.1,98.2 217.3,100.2C216.5,102.2 215.8,104.2 215.1,106.2C214.4,108.2 213.7,110.2 213.2,112.2C212.6,114.2 212.2,116.2 211.8,118.2C211.4,120.2 211.1,122.2 210.8,124.2C210.5,126.2 210.3,128.2 210.1,130.2C209.9,132.2 209.7,134.2 209.5,136.2C209.4,138.2 209.2,140.2 209.1,142.2C209,144.2 209,146.2 209.1,148.2C209.1,150.2 209.3,152.2 209.5,154.2C209.7,156.2 210,158.2 210.2,160.2C210.5,162.2 210.9,164.2 211.2,166.2C211.5,168.2 211.7,170.2 212,172.2C212.4,174.2 212.6,176.2 213.2,178.2C213.9,180.2 214.7,182.2 215.7,184.2C216.7,186.2 218,188.2 219.4,190.2C220.8,192.2 222.6,194.2 224.1,196.2C225.6,198.2 227.2,200.2 228.7,202.2C230.2,204.2 231.7,206.2 233,208.2C234.3,210.2 235.4,212.2 236.4,214.2C237.4,216.2 238,218.2 238.8,220.2C239.6,222.2 240.3,224.2 241.2,226.2C242,228.2 242.8,230.2 243.8,232.2C244.7,234.2 245.6,236.2 246.7,238.2C247.7,240.2 249,242.2 250.1,244.2C251.3,246.2 252.5,248.2 253.6,250.2C254.8,252.2 256.1,254.2 257.2,256.2C258.4,258.2 259.6,260.2 260.6,262.2C261.7,264.2 262.5,266.2 263.4,268.2C264.2,270.2 264.9,272.2 265.6,274.2C266.3,276.2 267.2,279.1 267.6,280.2C267.9,281.2 267.7,280.4 267.7,280.5 L269.5,280.5C269.5,280.4 269.7,281.2 269.4,280.2C269,279.1 268.1,276.2 267.4,274.2C266.7,272.2 266.1,270.2 265.3,268.2C264.5,266.2 263.7,264.2 262.7,262.2C261.7,260.2 260.6,258.2 259.5,256.2C258.4,254.2 257.2,252.2 256.1,250.2C255,248.2 253.9,246.2 252.8,244.2C251.7,242.2 250.6,240.2 249.6,238.2C248.6,236.2 247.7,234.2 246.9,232.2C246,230.2 245.2,228.2 244.5,226.2C243.7,224.2 243,222.2 242.3,220.2C241.6,218.2 241,216.2 240.1,214.2C239.1,212.2 238,210.2 236.7,208.2C235.4,206.2 233.9,204.2 232.3,202.2C230.7,200.2 229,198.2 227.3,196.2C225.7,194.2 223.7,192.2 222.1,190.2C220.6,188.2 219.2,186.2 218,184.2C216.9,182.2 216.1,180.2 215.4,178.2C214.8,176.2 214.5,174.2 214.1,172.2C213.7,170.2 213.5,168.2 213.2,166.2C212.9,164.2 212.5,162.2 212.2,160.2C211.9,158.2 211.6,156.2 211.4,154.2C211.1,152.2 211,150.2 210.9,148.2C210.9,146.2 210.9,144.2 211,142.2C211.1,140.2 211.3,138.2 211.5,136.2C211.7,134.2 211.9,132.2 212.1,130.2C212.4,128.2 212.6,126.2 212.9,124.2C213.2,122.2 213.5,120.2 214,118.2C214.4,116.2 214.9,114.2 215.5,112.2C216.1,110.2 216.8,108.2 217.6,106.2C218.3,104.2 219.2,102.2 220.1,100.2C220.9,98.2 221.7,96.2 222.9,94.2C224.1,92.2 225.5,90.2 227.1,88.2C228.6,86.2 230.5,84.2 232.1,82.2C233.6,80.2 234.8,78.2 236.2,76.2C237.7,74.2 238.8,72.2 240.8,70.2C242.8,68.2 246.2,66.2 248.1,64.2C250,62.2 251.3,60.2 252.2,58.2C253.2,56.2 253.5,54.2 253.9,52.2C254.4,50.2 254.6,48.2 255,46.2C255.3,44.2 255.6,42.2 256,40.2C256.3,38.2 256.8,36.2 257.1,34.2C257.5,32.2 257.8,30.2 258.2,28.2C258.5,26.2 258.9,24.2 259.2,22.2C259.6,20.2 260,18.2 260.3,16.2C260.7,14.2 261.4,11.2 261.6,10.2 Z" fill="#8a0c38" fill-opacity="1" />
</g>
<g filter="url(#speck)">
<path d="M240.1,10.2C239.8,11.2 239.2,14.2 238.4,16.2C237.7,18.2 236.6,20.2 235.7,22.2C234.7,24.2 233.6,26.2 232.5,28.2C231.4,30.2 230.3,32.2 229.2,34.2C228,36.2 226.9,38.2 225.8,40.2C224.7,42.2 223.7,44.2 222.7,46.2C221.6,48.2 220.6,50.2 219.5,52.2C218.4,54.2 217.3,56.2 216,58.2C214.6,60.2 213.2,62.2 211.5,64.2C209.7,66.2 207.4,68.2 205.2,70.2C203,72.2 199.8,74.2 198.3,76.2C196.7,78.2 196.4,80.2 195.8,82.2C195.2,84.2 195,86.2 194.7,88.2C194.4,90.2 194.2,92.2 194,94.2C193.7,96.2 193.6,98.2 193.4,100.2C193.3,102.2 193.2,104.2 193.1,106.2C193,108.2 192.9,110.2 192.9,112.2C192.8,114.2 192.7,116.2 192.7,118.2C192.6,120.2 192.6,122.2 192.6,124.2C192.6,126.2 192.6,128.2 192.6,130.2C192.6,132.2 192.6,134.2 192.6,136.2C192.6,138.2 192.6,140.2 192.6,142.2C192.7,144.2 192.7,146.2 192.8,148.2C192.8,150.2 192.9,152.2 192.9,154.2C193,156.2 193.1,158.2 193.2,160.2C193.3,162.2 193.4,164.2 193.5,166.2C193.6,168.2 193.8,170.2 193.9,172.2C194.1,174.2 194.2,176.2 194.4,178.2C194.6,180.2 194.9,182.2 195.1,184.2C195.4,186.2 195.7,188.2 195.8,190.2C196,192.2 195.6,194.2 195.9,196.2C196.2,198.2 196.6,200.2 197.4,202.2C198.3,204.2 199.7,206.2 200.8,208.2C202,210.2 203.3,212.2 204.6,214.2C205.8,216.2 207,218.2 208.4,220.2C209.7,222.2 211,224.2 212.4,226.2C213.8,228.2 215.2,230.2 216.7,232.2C218.2,234.2 219.8,236.2 221.5,238.2C223.1,240.2 225,242.2 226.8,244.2C228.6,246.2 230.4,248.2 232.3,250.2C234.1,252.2 236.1,254.2 237.8,256.2C239.6,258.2 241.4,260.2 242.8,262.2C244.3,264.2 245.4,266.2 246.4,268.2C247.5,270.2 248.5,272.2 249.4,274.2C250.3,276.2 251.4,279.1 251.8,280.2C252.2,281.2 251.9,280.4 251.9,280.5 L262.2,280.5C262.2,280.4 262.5,281.2 262.1,280.2C261.8,279.1 260.7,276.2 260,274.2C259.2,272.2 258.4,270.2 257.5,268.2C256.6,266.2 255.7,264.2 254.5,262.2C253.3,260.2 251.9,258.2 250.5,256.2C249.2,254.2 247.7,252.2 246.3,250.2C244.9,248.2 243.5,246.2 242.1,244.2C240.7,242.2 239.3,240.2 238,238.2C236.7,236.2 235.6,234.2 234.4,232.2C233.3,230.2 232.3,228.2 231.3,226.2C230.2,224.2 229.3,222.2 228.3,220.2C227.3,218.2 226.5,216.2 225.4,214.2C224.4,212.2 223.2,210.2 221.9,208.2C220.7,206.2 219.2,204.2 217.9,202.2C216.7,200.2 215.5,198.2 214.4,196.2C213.3,194.2 212.3,192.2 211.3,190.2C210.3,188.2 209.4,186.2 208.6,184.2C207.8,182.2 207.2,180.2 206.8,178.2C206.3,176.2 206,174.2 205.8,172.2C205.5,170.2 205.3,168.2 205.1,166.2C204.8,164.2 204.6,162.2 204.4,160.2C204.1,158.2 203.9,156.2 203.8,154.2C203.6,152.2 203.5,150.2 203.4,148.2C203.4,146.2 203.4,144.2 203.4,142.2C203.5,140.2 203.6,138.2 203.7,136.2C203.8,134.2 203.9,132.2 204.1,130.2C204.2,128.2 204.3,126.2 204.5,124.2C204.7,122.2 204.9,120.2 205.2,118.2C205.5,116.2 205.8,114.2 206.2,112.2C206.6,110.2 207,108.2 207.5,106.2C208,104.2 208.5,102.2 209.1,100.2C209.6,98.2 210.2,96.2 211,94.2C211.7,92.2 212.7,90.2 213.7,88.2C214.8,86.2 216,84.2 217.1,82.2C218.3,80.2 219.1,78.2 220.6,76.2C222.1,74.2 224.1,72.2 226.1,70.2C228.2,68.2 231.1,66.2 233,64.2C234.8,62.2 236.2,60.2 237.3,58.2C238.4,56.2 239,54.2 239.7,52.2C240.5,50.2 241,48.2 241.6,46.2C242.3,44.2 242.9,42.2 243.5,40.2C244.2,38.2 244.9,36.2 245.6,34.2C246.3,32.2 246.9,30.2 247.6,28.2C248.2,26.2 248.9,24.2 249.5,22.2C250.1,20.2 250.8,18.2 251.3,16.2C251.8,14.2 252.5,11.2 252.7,10.2 Z" fill="#000" fill-opacity="1" />
</g>
<g filter="url(#speckS)">
<path d="M252.7,10.2C252.5,11.2 251.8,14.2 251.3,16.2C250.8,18.2 250.1,20.2 249.5,22.2C248.9,24.2 248.2,26.2 247.6,28.2C246.9,30.2 246.3,32.2 245.6,34.2C244.9,36.2 244.2,38.2 243.5,40.2C242.9,42.2 242.3,44.2 241.6,46.2C241,48.2 240.5,50.2 239.7,52.2C239,54.2 238.4,56.2 237.3,58.2C236.2,60.2 234.8,62.2 233,64.2C231.1,66.2 228.2,68.2 226.1,70.2C224.1,72.2 222.1,74.2 220.6,76.2C219.1,78.2 218.3,80.2 217.1,82.2C216,84.2 214.8,86.2 213.7,88.2C212.7,90.2 211.7,92.2 211,94.2C210.2,96.2 209.6,98.2 209.1,100.2C208.5,102.2 208,104.2 207.5,106.2C207,108.2 206.6,110.2 206.2,112.2C205.8,114.2 205.5,116.2 205.2,118.2C204.9,120.2 204.7,122.2 204.5,124.2C204.3,126.2 204.2,128.2 204.1,130.2C203.9,132.2 203.8,134.2 203.7,136.2C203.6,138.2 203.5,140.2 203.4,142.2C203.4,144.2 203.4,146.2 203.4,148.2C203.5,150.2 203.6,152.2 203.8,154.2C203.9,156.2 204.1,158.2 204.4,160.2C204.6,162.2 204.8,164.2 205.1,166.2C205.3,168.2 205.5,170.2 205.8,172.2C206,174.2 206.3,176.2 206.8,178.2C207.2,180.2 207.8,182.2 208.6,184.2C209.4,186.2 210.3,188.2 211.3,190.2C212.3,192.2 213.3,194.2 214.4,196.2C215.5,198.2 216.7,200.2 217.9,202.2C219.2,204.2 220.7,206.2 221.9,208.2C223.2,210.2 224.4,212.2 225.4,214.2C226.5,216.2 227.3,218.2 228.3,220.2C229.3,222.2 230.2,224.2 231.3,226.2C232.3,228.2 233.3,230.2 234.4,232.2C235.6,234.2 236.7,236.2 238,238.2C239.3,240.2 240.7,242.2 242.1,244.2C243.5,246.2 244.9,248.2 246.3,250.2C247.7,252.2 249.2,254.2 250.5,256.2C251.9,258.2 253.3,260.2 254.5,262.2C255.7,264.2 256.6,266.2 257.5,268.2C258.4,270.2 259.2,272.2 260,274.2C260.7,276.2 261.8,279.1 262.1,280.2C262.5,281.2 262.2,280.4 262.2,280.5 L267.7,280.5C267.7,280.4 267.9,281.2 267.6,280.2C267.2,279.1 266.3,276.2 265.6,274.2C264.9,272.2 264.2,270.2 263.4,268.2C262.5,266.2 261.7,264.2 260.6,262.2C259.6,260.2 258.4,258.2 257.2,256.2C256.1,254.2 254.8,252.2 253.6,250.2C252.5,248.2 251.3,246.2 250.1,244.2C249,242.2 247.7,240.2 246.7,238.2C245.6,236.2 244.7,234.2 243.8,232.2C242.8,230.2 242,228.2 241.2,226.2C240.3,224.2 239.6,222.2 238.8,220.2C238,218.2 237.4,216.2 236.4,214.2C235.4,212.2 234.3,210.2 233,208.2C231.7,206.2 230.2,204.2 228.7,202.2C227.2,200.2 225.6,198.2 224.1,196.2C222.6,194.2 220.8,192.2 219.4,190.2C218,188.2 216.7,186.2 215.7,184.2C214.7,182.2 213.9,180.2 213.2,178.2C212.6,176.2 212.4,174.2 212,172.2C211.7,170.2 211.5,168.2 211.2,166.2C210.9,164.2 210.5,162.2 210.2,160.2C210,158.2 209.7,156.2 209.5,154.2C209.3,152.2 209.1,150.2 209.1,148.2C209,146.2 209,144.2 209.1,142.2C209.2,140.2 209.4,138.2 209.5,136.2C209.7,134.2 209.9,132.2 210.1,130.2C210.3,128.2 210.5,126.2 210.8,124.2C211.1,122.2 211.4,120.2 211.8,118.2C212.2,116.2 212.6,114.2 213.2,112.2C213.7,110.2 214.4,108.2 215.1,106.2C215.8,104.2 216.5,102.2 217.3,100.2C218.1,98.2 218.8,96.2 219.9,94.2C221,92.2 222.3,90.2 223.7,88.2C225.1,86.2 226.9,84.2 228.3,82.2C229.8,80.2 230.8,78.2 232.3,76.2C233.8,74.2 235.2,72.2 237.2,70.2C239.2,68.2 242.4,66.2 244.3,64.2C246.2,62.2 247.5,60.2 248.5,58.2C249.5,56.2 249.9,54.2 250.4,52.2C250.9,50.2 251.2,48.2 251.6,46.2C252,44.2 252.4,42.2 252.9,40.2C253.3,38.2 253.8,36.2 254.3,34.2C254.7,32.2 255.1,30.2 255.5,28.2C256,26.2 256.4,24.2 256.8,22.2C257.2,20.2 257.7,18.2 258.1,16.2C258.5,14.2 259.1,11.2 259.3,10.2 Z" fill="#000" fill-opacity="1" />
</g>
<path d="M240.7,10C240.5,10.5 240.2,12 239.9,13C239.6,14 239.4,15 239,16C238.7,17 238.2,18 237.7,19C237.3,20 236.7,21 236.2,22C235.7,23 235.2,24 234.7,25C234.1,26 233.6,27 233,28C232.4,29 231.9,30 231.3,31C230.7,32 230.2,33 229.6,34C229,35 228.5,36 227.9,37C227.3,38 226.8,39 226.2,40C225.6,41 225.1,42 224.6,43C224,44 223.5,45 223,46C222.4,47 221.9,48 221.4,49C220.8,50 220.3,51 219.7,52C219.2,53 218.6,54 218,55C217.4,56 216.8,57 216.2,58C215.5,59 214.9,60 214.2,61C213.5,62 212.6,63 211.7,64C210.8,65 209.7,66 208.7,67C207.6,68 206.6,69 205.5,70C204.4,71 203,72 201.8,73C200.7,74 199.3,75 198.5,76C197.6,77 197.3,78 196.9,79C196.5,80 196.2,81 196,82C195.7,83 195.5,84 195.4,85C195.2,86 195.1,87 194.9,88C194.8,89 194.7,90 194.6,91C194.5,92 194.4,93 194.3,94C194.2,95 194.1,96 194,97C193.9,98 193.9,99 193.8,100C193.7,101 193.7,102 193.6,103C193.6,104 193.6,105 193.5,106C193.5,107 193.5,108 193.4,109C193.4,110 193.4,111 193.4,112C193.3,113 193.3,114 193.3,115C193.2,116 193.2,117 193.2,118C193.2,119 193.2,120 193.2,121C193.2,122 193.2,123 193.1,124C193.1,125 193.1,126 193.1,127C193.1,128 193.1,129 193.2,130C193.2,131 193.2,132 193.2,133C193.2,134 193.2,135 193.2,136C193.2,137 193.2,138 193.2,139C193.2,140 193.3,141 193.3,142C193.3,143 193.3,144 193.3,145C193.3,146 193.4,147 193.4,148C193.4,149 193.4,150 193.5,151C193.5,152 193.5,153 193.6,154C193.6,155 193.6,156 193.7,157C193.7,158 193.7,159 193.8,160C193.8,161 193.9,162 193.9,163C194,164 194,165 194.1,166C194.1,167 194.2,168 194.3,169C194.3,170 194.4,171 194.5,172C194.5,173 194.6,174 194.7,175C194.8,176 194.9,177 195,178C195.1,179 195.2,180 195.3,181C195.4,182 195.5,183 195.6,184C195.7,185 195.8,186 195.9,187C196,188 196.2,189 196.2,190C196.2,191 196.2,192 196.2,193C196.2,194 196.1,195 196.1,196C196.2,197 196.2,198 196.4,199C196.7,200 197,201 197.5,202C197.9,203 198.5,204 199,205C199.6,206 200.2,207 200.8,208C201.4,209 202.1,210 202.7,211C203.3,212 203.9,213 204.5,214C205.2,215 205.8,216 206.4,217C207.1,218 207.7,219 208.4,220C209,221 209.7,222 210.4,223C211.1,224 211.8,225 212.5,226C213.2,227 213.9,228 214.6,229C215.4,230 216.1,231 216.8,232C217.6,233 218.4,234 219.2,235C220,236 220.8,237 221.6,238C222.5,239 223.4,240 224.3,241C225.2,242 226.1,243 227,244C227.9,245 228.9,246 229.8,247C230.7,248 231.6,249 232.5,250C233.5,251 234.4,252 235.3,253C236.3,254 237.3,255 238.2,256C239.1,257 240,258 240.9,259C241.7,260 242.5,261 243.3,262C244,263 244.6,264 245.3,265C245.9,266 246.4,267 247,268C247.5,269 248,270 248.5,271C249,272 249.5,273 249.9,274C250.4,275 251,276.5 251.2,277" fill="none" stroke="#ffd870" stroke-width="1.8" stroke-dasharray="1.6 1.6" opacity="0.9"/>
<g filter="url(#blur05)">
<path d="M168,133C168.4,134 169.5,137 170.3,139C171.1,141 171.9,143 172.8,145C173.7,147 174.8,149 175.7,151C176.7,153 177.6,155 178.5,157C179.4,159 180.2,161 181.1,163C181.9,165 182.9,167 183.8,169C184.8,171 185.7,173 186.5,175C187.3,177 187.9,179 188.6,181C189.4,183 190.1,185 190.9,187C191.7,189 192.7,191 193.6,193C194.5,195 195.5,197 196.4,199C197.3,201 198.2,203 199.2,205C200.1,207 201.4,209.8 202,211C202.5,212.2 202.4,211.8 202.5,212 L207,212C206.9,211.8 207,212.2 206.5,211C205.9,209.8 204.6,207 203.7,205C202.7,203 201.8,201 200.9,199C200,197 199,195 198.1,193C197.2,191 196.2,189 195.4,187C194.6,185 193.9,183 193.1,181C192.4,179 191.8,177 191,175C190.2,173 189.3,171 188.3,169C187.4,167 186.4,165 185.6,163C184.7,161 183.9,159 183,157C182.1,155 181.2,153 180.2,151C179.3,149 178.2,147 177.3,145C176.4,143 175.6,141 174.8,139C174,137 172.9,134 172.5,133 Z" fill="#e85020" fill-opacity="1" />
</g>
<g filter="url(#blur05)">
<path d="M169.7,136C170.1,137 171.2,140 172,142C172.9,144 173.8,146 174.7,148C175.7,150 176.8,152 177.7,154C178.6,156 179.4,158 180.3,160C181.2,162 182,164 182.9,166C183.8,168 184.9,170 185.7,172C186.6,174 187.4,176 188.1,178C188.9,180 189.4,182 190.2,184C191,186 191.9,188 192.7,190C193.6,192 194.6,194 195.5,196C196.5,198 197.4,200 198.3,202C199.2,204 200.3,206.3 201.1,208C201.8,209.7 202.7,211.3 203,212 L205.5,212C205.2,211.3 204.3,209.7 203.6,208C202.8,206.3 201.7,204 200.8,202C199.9,200 199,198 198,196C197.1,194 196.1,192 195.2,190C194.4,188 193.5,186 192.7,184C191.9,182 191.4,180 190.6,178C189.9,176 189.1,174 188.2,172C187.4,170 186.3,168 185.4,166C184.5,164 183.7,162 182.8,160C181.9,158 181.1,156 180.2,154C179.3,152 178.2,150 177.2,148C176.3,146 175.4,144 174.5,142C173.7,140 172.6,137 172.2,136 Z" fill="#ffb838" fill-opacity="1" />
</g>
<path d="M168,132 L185,138 L182,142 L172,140 Z" fill="#e04020" filter="url(#blur05)"/>
<g filter="url(#blur1)">
<path d="M209.4,188C209.6,189 210.1,192 210.5,194C211,196 211.4,198 212,200C212.6,202 213.4,204 214.2,206C215.1,208 216,210 217,212C218,214 219.1,216 220.2,218C221.3,220 222.5,222 223.7,224C224.8,226 225.9,228 227,230C228.2,232 229.3,234 230.4,236C231.6,238 232.7,240 233.9,242C235.1,244 236.2,246 237.4,248C238.6,250 239.8,252 240.9,254C242.1,256 243.3,258 244.4,260C245.6,262 246.7,264 247.8,266C248.9,268 250.6,271 251.1,272 L256.9,272C256.4,271 255.1,268 254.3,266C253.4,264 252.5,262 251.5,260C250.6,258 249.5,256 248.5,254C247.5,252 246.5,250 245.5,248C244.5,246 243.5,244 242.6,242C241.7,240 240.7,238 240,236C239.4,234 239.2,232 238.6,230C238,228 237.5,226 236.4,224C235.2,222 233.5,220 231.9,218C230.3,216 228.5,214 226.9,212C225.3,210 223.6,208 222.2,206C220.7,204 219.3,202 218.3,200C217.3,198 216.9,196 216.5,194C216,192 215.6,189 215.4,188 Z" fill="#4a1090" fill-opacity="0.85" />
</g>
</g>
<clipPath id="clipc"><rect x="258.1" y="18.2" width="102.2" height="254.3"/></clipPath><g clip-path="url(#clipc)">
<rect x="258.1" y="18.2" width="102.2" height="254.3" fill="#0804b0"/>
<g filter="url(#blur15)">
<circle cx="434.5" cy="148.0" r="121.0" fill="#2a1ef5"/>
<circle cx="434.5" cy="148.0" r="112.0" fill="none" stroke="#2a1ef5" stroke-width="6.0"/>
<circle cx="434.5" cy="148.0" r="107.0" fill="none" stroke="#100a78" stroke-width="4.0"/>
<circle cx="434.5" cy="148.0" r="101.5" fill="none" stroke="#2c1ae0" stroke-width="7.0"/>
<circle cx="434.5" cy="148.0" r="95.5" fill="none" stroke="#5a18a8" stroke-width="5.0"/>
<circle cx="434.5" cy="148.0" r="89.0" fill="none" stroke="#3a1ad0" stroke-width="8.0"/>
<circle cx="434.5" cy="148.0" r="82.5" fill="none" stroke="#5018a0" stroke-width="5.0"/>
<circle cx="434.5" cy="148.0" r="80.0" fill="#4020c8"/>
</g>
<g filter="url(#blur6)">
<path d="M261,110C260.8,111 260,114 259.9,116C259.9,118 260.5,120 260.7,122C260.9,124 261.2,126 261.4,128C261.7,130 262,132 262.3,134C262.6,136 263,138 263.3,140C263.7,142 264,144 264.4,146C264.8,148 265.2,150 265.6,152C266.1,154 266.5,156 267,158C267.4,160 268,162 268.5,164C269,166 269.5,168 270,170C270.5,172 270.9,174 271.4,176C271.8,178 272.2,180 272.7,182C273.2,184 273.7,186 274.3,188C275,190 275.6,192 276.5,194C277.4,196 278.7,198 279.9,200C281.1,202 282.5,204 283.7,206C285,208 286.3,210 287.5,212C288.7,214 289.9,216 291,218C292.2,220 293.3,222 294.5,224C295.7,226 296.9,228 298.2,230C299.4,232 300.7,234 302.1,236C303.5,238 304.9,240 306.4,242C307.8,244 309.3,246 310.7,248C312.1,250 313.5,252 314.9,254C316.2,256 317.5,258 318.8,260C320,262 321.3,264 322.5,266C323.7,268 325,270 326.2,272C327.4,274 328.9,276.6 329.7,278C330.5,279.4 330.9,280.1 331.1,280.5 L359.1,280.5C358.9,280.1 358.5,279.4 357.7,278C356.9,276.6 355.4,274 354.2,272C353,270 351.7,268 350.5,266C349.3,264 348,262 346.8,260C345.5,258 344.2,256 342.9,254C341.5,252 340.1,250 338.7,248C337.3,246 335.8,244 334.4,242C332.9,240 331.5,238 330.1,236C328.7,234 327.4,232 326.2,230C324.9,228 323.7,226 322.5,224C321.3,222 320.2,220 319,218C317.9,216 316.7,214 315.5,212C314.3,210 313,208 311.7,206C310.5,204 309.1,202 307.9,200C306.7,198 305.4,196 304.5,194C303.6,192 303,190 302.3,188C301.7,186 301.2,184 300.7,182C300.2,180 299.8,178 299.4,176C298.9,174 298.5,172 298,170C297.5,168 297,166 296.5,164C296,162 295.4,160 295,158C294.5,156 294.1,154 293.6,152C293.2,150 292.8,148 292.4,146C292,144 291.7,142 291.3,140C291,138 290.6,136 290.3,134C290,132 289.7,130 289.4,128C289.2,126 288.9,124 288.7,122C288.5,120 287.9,118 287.9,116C288,114 288.8,111 289,110 Z" fill="#2a30ff" fill-opacity="0.55" />
</g>
<g filter="url(#blur2)">
<path d="M343.3,10.2C342.6,11.2 340.3,14.2 338.8,16.2C337.4,18.2 336.1,20.2 334.8,22.2C333.5,24.2 332.2,26.2 330.9,28.2C329.7,30.2 328.4,32.2 327.1,34.2C325.9,36.2 324.6,38.2 323.4,40.2C322.1,42.2 320.8,44.2 319.5,46.2C318.2,48.2 316.9,50.2 315.7,52.2C314.4,54.2 313.2,56.2 312.1,58.2C310.9,60.2 309.8,62.2 308.8,64.2C307.8,66.2 306.9,68.2 306,70.2C305.2,72.2 304.4,74.2 303.8,76.2C303.3,78.2 302.9,80.2 302.5,82.2C302.2,84.2 302.1,86.2 301.8,88.2C301.6,90.2 301.3,92.2 301,94.2C300.6,96.2 301.7,98.2 299.7,100.2C297.8,102.2 292.8,104.2 289.5,106.2C286.3,108.2 281.8,110.2 280.3,112.2C278.7,114.2 280,116.2 280.1,118.2C280.2,120.2 280.8,122.2 281,124.2C281.3,126.2 281.4,128.2 281.7,130.2C282,132.2 282.3,134.2 282.6,136.2C283,138.2 283.3,140.2 283.7,142.2C284.1,144.2 284.5,146.2 284.9,148.2C285.3,150.2 285.7,152.2 286.1,154.2C286.6,156.2 287,158.2 287.5,160.2C288,162.2 288.5,164.2 289,166.2C289.5,168.2 290,170.2 290.5,172.2C291,174.2 291.4,176.2 291.8,178.2C292.3,180.2 292.7,182.2 293.3,184.2C293.8,186.2 294.3,188.2 295,190.2C295.8,192.2 296.6,194.2 297.6,196.2C298.7,198.2 300,200.2 301.3,202.2C302.5,204.2 303.9,206.2 305.2,208.2C306.4,210.2 307.6,212.2 308.8,214.2C310,216.2 311.1,218.2 312.3,220.2C313.5,222.2 314.6,224.2 315.8,226.2C317,228.2 318.3,230.2 319.6,232.2C320.9,234.2 322.2,236.2 323.6,238.2C325,240.2 326.5,242.2 327.9,244.2C329.4,246.2 330.9,248.2 332.2,250.2C333.6,252.2 335,254.2 336.3,256.2C337.6,258.2 338.9,260.2 340.2,262.2C341.4,264.2 342.6,266.2 343.9,268.2C345.1,270.2 346.3,272.2 347.5,274.2C348.7,276.2 350.4,279.1 351,280.2C351.6,281.2 351.1,280.4 351.1,280.5 L359.1,280.5C359.1,280.4 359.6,281.2 359,280.2C358.4,279.1 356.7,276.2 355.5,274.2C354.3,272.2 353.1,270.2 351.9,268.2C350.6,266.2 349.4,264.2 348.2,262.2C346.9,260.2 345.6,258.2 344.3,256.2C343,254.2 341.6,252.2 340.2,250.2C338.9,248.2 337.4,246.2 335.9,244.2C334.5,242.2 333,240.2 331.6,238.2C330.2,236.2 328.9,234.2 327.6,232.2C326.3,230.2 325,228.2 323.8,226.2C322.6,224.2 321.5,222.2 320.3,220.2C319.1,218.2 318,216.2 316.8,214.2C315.6,212.2 314.4,210.2 313.2,208.2C311.9,206.2 310.5,204.2 309.3,202.2C308,200.2 306.7,198.2 305.6,196.2C304.6,194.2 303.8,192.2 303,190.2C302.3,188.2 301.8,186.2 301.3,184.2C300.7,182.2 300.3,180.2 299.8,178.2C299.4,176.2 299,174.2 298.5,172.2C298,170.2 297.5,168.2 297,166.2C296.5,164.2 296,162.2 295.5,160.2C295,158.2 294.6,156.2 294.1,154.2C293.7,152.2 293.3,150.2 292.9,148.2C292.5,146.2 292.1,144.2 291.7,142.2C291.3,140.2 291,138.2 290.6,136.2C290.3,134.2 290,132.2 289.7,130.2C289.4,128.2 289.3,126.2 289,124.2C288.8,122.2 288.2,120.2 288.1,118.2C288,116.2 286.7,114.2 288.3,112.2C289.8,110.2 294.3,108.2 297.5,106.2C300.8,104.2 305.8,102.2 307.7,100.2C309.7,98.2 308.6,96.2 309,94.2C309.3,92.2 309.6,90.2 309.8,88.2C310.1,86.2 310.2,84.2 310.5,82.2C310.9,80.2 311.3,78.2 311.8,76.2C312.4,74.2 313.2,72.2 314,70.2C314.9,68.2 315.8,66.2 316.8,64.2C317.8,62.2 318.9,60.2 320.1,58.2C321.2,56.2 322.4,54.2 323.7,52.2C324.9,50.2 326.2,48.2 327.5,46.2C328.8,44.2 330.1,42.2 331.4,40.2C332.6,38.2 333.9,36.2 335.1,34.2C336.4,32.2 337.7,30.2 338.9,28.2C340.2,26.2 341.5,24.2 342.8,22.2C344.1,20.2 345.4,18.2 346.8,16.2C348.3,14.2 350.6,11.2 351.3,10.2 Z" fill="#2c2cff" fill-opacity="0.8" />
</g>
<g filter="url(#blur05)">
<path d="M349.3,10.2C348.6,11.2 346.3,14.2 344.8,16.2C343.4,18.2 342.1,20.2 340.8,22.2C339.5,24.2 338.2,26.2 336.9,28.2C335.7,30.2 334.4,32.2 333.1,34.2C331.9,36.2 330.6,38.2 329.4,40.2C328.1,42.2 326.8,44.2 325.5,46.2C324.2,48.2 322.9,50.2 321.7,52.2C320.4,54.2 319.2,56.2 318.1,58.2C316.9,60.2 315.8,62.2 314.8,64.2C313.8,66.2 312.9,68.2 312,70.2C311.2,72.2 310.4,74.2 309.8,76.2C309.3,78.2 308.9,80.2 308.5,82.2C308.2,84.2 308.1,86.2 307.8,88.2C307.6,90.2 307.3,92.2 307,94.2C306.6,96.2 307.7,98.2 305.7,100.2C303.8,102.2 298.8,104.2 295.5,106.2C292.3,108.2 287.8,110.2 286.3,112.2C284.7,114.2 286,116.2 286.1,118.2C286.2,120.2 286.8,122.2 287,124.2C287.3,126.2 287.4,128.2 287.7,130.2C288,132.2 288.3,134.2 288.6,136.2C289,138.2 289.3,140.2 289.7,142.2C290.1,144.2 290.5,146.2 290.9,148.2C291.3,150.2 291.7,152.2 292.1,154.2C292.6,156.2 293,158.2 293.5,160.2C294,162.2 294.5,164.2 295,166.2C295.5,168.2 296,170.2 296.5,172.2C297,174.2 297.4,176.2 297.8,178.2C298.3,180.2 298.7,182.2 299.3,184.2C299.8,186.2 300.3,188.2 301,190.2C301.8,192.2 302.6,194.2 303.6,196.2C304.7,198.2 306,200.2 307.3,202.2C308.5,204.2 309.9,206.2 311.2,208.2C312.4,210.2 313.6,212.2 314.8,214.2C316,216.2 317.1,218.2 318.3,220.2C319.5,222.2 320.6,224.2 321.8,226.2C323,228.2 324.3,230.2 325.6,232.2C326.9,234.2 328.2,236.2 329.6,238.2C331,240.2 332.5,242.2 333.9,244.2C335.4,246.2 336.9,248.2 338.2,250.2C339.6,252.2 341,254.2 342.3,256.2C343.6,258.2 344.9,260.2 346.2,262.2C347.4,264.2 348.6,266.2 349.9,268.2C351.1,270.2 352.3,272.2 353.5,274.2C354.7,276.2 356.4,279.1 357,280.2C357.6,281.2 357.1,280.4 357.1,280.5 L381.5,280.5C381.5,280.4 381.7,281.2 381.4,280.2C381,279.1 380.1,276.2 379.4,274.2C378.7,272.2 378.1,270.2 377.4,268.2C376.6,266.2 375.9,264.2 375.1,262.2C374.2,260.2 373.3,258.2 372.3,256.2C371.3,254.2 370.2,252.2 369.2,250.2C368.1,248.2 367.1,246.2 366.1,244.2C365.1,242.2 364.1,240.2 363.1,238.2C362.1,236.2 361.1,234.2 360.1,232.2C359.1,230.2 358.2,228.2 357.3,226.2C356.3,224.2 355.4,222.2 354.3,220.2C353.1,218.2 351.8,216.2 350.4,214.2C349,212.2 347.3,210.2 345.8,208.2C344.4,206.2 342.8,204.2 341.5,202.2C340.1,200.2 338.8,198.2 337.5,196.2C336.2,194.2 335,192.2 333.7,190.2C332.5,188.2 331.3,186.2 330,184.2C328.8,182.2 327.6,180.2 326.5,178.2C325.4,176.2 324.4,174.2 323.4,172.2C322.5,170.2 321.5,168.2 320.8,166.2C320,164.2 319.4,162.2 318.9,160.2C318.4,158.2 318.2,156.2 318,154.2C317.8,152.2 317.8,150.2 317.7,148.2C317.7,146.2 317.7,144.2 317.8,142.2C317.9,140.2 318.2,138.2 318.4,136.2C318.6,134.2 318.7,132.2 318.9,130.2C319.2,128.2 319.3,126.2 319.9,124.2C320.4,122.2 321.3,120.2 322.3,118.2C323.4,116.2 325,114.2 326.1,112.2C327.1,110.2 328,108.2 328.9,106.2C329.7,104.2 330.4,102.2 331.3,100.2C332.2,98.2 333.1,96.2 334.3,94.2C335.4,92.2 336.8,90.2 338.2,88.2C339.6,86.2 341.2,84.2 342.6,82.2C344.1,80.2 345.4,78.2 346.8,76.2C348.2,74.2 349.6,72.2 351,70.2C352.3,68.2 353.7,66.2 354.8,64.2C355.9,62.2 356.9,60.2 357.8,58.2C358.6,56.2 359.2,54.2 359.8,52.2C360.5,50.2 360.9,48.2 361.5,46.2C362,44.2 362.5,42.2 362.9,40.2C363.4,38.2 363.9,36.2 364.3,34.2C364.8,32.2 365.1,30.2 365.5,28.2C365.9,26.2 366.3,24.2 366.8,22.2C367.4,20.2 367.8,18.2 368.7,16.2C369.5,14.2 371.3,11.2 371.8,10.2 Z" fill="#d42818" fill-opacity="1" />
<path d="M358.3,10.2C357.7,11.2 355.6,14.2 354.4,16.2C353.2,18.2 352.2,20.2 351.2,22.2C350.2,24.2 349.3,26.2 348.4,28.2C347.4,30.2 346.6,32.2 345.6,34.2C344.7,36.2 343.8,38.2 342.8,40.2C341.8,42.2 340.9,44.2 339.9,46.2C338.9,48.2 337.9,50.2 336.9,52.2C336,54.2 335,56.2 333.9,58.2C332.9,60.2 331.9,62.2 330.8,64.2C329.8,66.2 328.6,68.2 327.6,70.2C326.6,72.2 325.5,74.2 324.6,76.2C323.7,78.2 322.9,80.2 322.2,82.2C321.4,84.2 320.7,86.2 320,88.2C319.3,90.2 318.6,92.2 317.9,94.2C317.2,96.2 317.5,98.2 316,100.2C314.5,102.2 311.2,104.2 308.9,106.2C306.6,108.2 303.6,110.2 302.2,112.2C300.8,114.2 300.9,116.2 300.6,118.2C300.3,120.2 300.2,122.2 300.2,124.2C300.1,126.2 300.1,128.2 300.2,130.2C300.3,132.2 300.4,134.2 300.5,136.2C300.7,138.2 300.8,140.2 301,142.2C301.1,144.2 301.4,146.2 301.6,148.2C301.9,150.2 302.1,152.2 302.5,154.2C302.8,156.2 303.2,158.2 303.7,160.2C304.1,162.2 304.7,164.2 305.3,166.2C305.9,168.2 306.6,170.2 307.3,172.2C307.9,174.2 308.6,176.2 309.3,178.2C310,180.2 310.8,182.2 311.6,184.2C312.4,186.2 313.2,188.2 314.1,190.2C315,192.2 316,194.2 317.2,196.2C318.3,198.2 319.6,200.2 320.9,202.2C322.2,204.2 323.7,206.2 325,208.2C326.4,210.2 327.8,212.2 329.1,214.2C330.3,216.2 331.5,218.2 332.7,220.2C333.9,222.2 334.9,224.2 336,226.2C337.1,228.2 338.2,230.2 339.4,232.2C340.6,234.2 341.8,236.2 343,238.2C344.3,240.2 345.5,242.2 346.8,244.2C348.1,246.2 349.4,248.2 350.6,250.2C351.9,252.2 353.1,254.2 354.3,256.2C355.5,258.2 356.6,260.2 357.7,262.2C358.8,264.2 359.8,266.2 360.9,268.2C361.9,270.2 362.9,272.2 363.9,274.2C364.8,276.2 366.2,279.1 366.7,280.2C367.2,281.2 366.8,280.4 366.9,280.5 L374.2,280.5C374.2,280.4 374.5,281.2 374.1,280.2C373.6,279.1 372.4,276.2 371.6,274.2C370.8,272.2 370,270.2 369.1,268.2C368.2,266.2 367.4,264.2 366.4,262.2C365.4,260.2 364.4,258.2 363.3,256.2C362.2,254.2 361,252.2 359.9,250.2C358.8,248.2 357.6,246.2 356.5,244.2C355.3,242.2 354.2,240.2 353.1,238.2C351.9,236.2 350.8,234.2 349.7,232.2C348.7,230.2 347.7,228.2 346.6,226.2C345.6,224.2 344.6,222.2 343.5,220.2C342.3,218.2 341.1,216.2 339.7,214.2C338.4,212.2 336.9,210.2 335.4,208.2C334,206.2 332.5,204.2 331.2,202.2C329.8,200.2 328.5,198.2 327.3,196.2C326.1,194.2 325,192.2 323.9,190.2C322.8,188.2 321.8,186.2 320.8,184.2C319.8,182.2 318.8,180.2 317.9,178.2C317,176.2 316.2,174.2 315.4,172.2C314.5,170.2 313.7,168.2 313.1,166.2C312.4,164.2 311.8,162.2 311.3,160.2C310.8,158.2 310.5,156.2 310.2,154.2C310,152.2 309.8,150.2 309.7,148.2C309.5,146.2 309.4,144.2 309.4,142.2C309.3,140.2 309.4,138.2 309.5,136.2C309.5,134.2 309.5,132.2 309.6,130.2C309.7,128.2 309.7,126.2 310,124.2C310.3,122.2 310.8,120.2 311.5,118.2C312.2,116.2 312.9,114.2 314.1,112.2C315.4,110.2 317.3,108.2 318.9,106.2C320.5,104.2 322.5,102.2 323.7,100.2C324.9,98.2 325.2,96.2 326.1,94.2C327,92.2 328,90.2 329.1,88.2C330.1,86.2 331.3,84.2 332.4,82.2C333.5,80.2 334.6,78.2 335.7,76.2C336.9,74.2 338.1,72.2 339.3,70.2C340.5,68.2 341.7,66.2 342.8,64.2C343.9,62.2 344.9,60.2 345.9,58.2C346.8,56.2 347.6,54.2 348.4,52.2C349.2,50.2 349.9,48.2 350.7,46.2C351.4,44.2 352.2,42.2 352.9,40.2C353.6,38.2 354.3,36.2 355,34.2C355.7,32.2 356.3,30.2 356.9,28.2C357.6,26.2 358.3,24.2 359,22.2C359.8,20.2 360.5,18.2 361.5,16.2C362.5,14.2 364.5,11.2 365.1,10.2 Z" fill="url(#gCore)" fill-opacity="1" />
<path d="M366.4,10.2C365.9,11.2 363.9,14.2 363,16.2C362,18.2 361.3,20.2 360.6,22.2C359.9,24.2 359.3,26.2 358.7,28.2C358,30.2 357.5,32.2 356.8,34.2C356.2,36.2 355.6,38.2 354.9,40.2C354.2,42.2 353.5,44.2 352.8,46.2C352.1,48.2 351.5,50.2 350.7,52.2C349.9,54.2 349.2,56.2 348.2,58.2C347.3,60.2 346.3,62.2 345.2,64.2C344.1,66.2 342.8,68.2 341.6,70.2C340.4,72.2 339.2,74.2 338,76.2C336.8,78.2 335.6,80.2 334.4,82.2C333.3,84.2 332,86.2 330.9,88.2C329.8,90.2 328.7,92.2 327.7,94.2C326.8,96.2 326.3,98.2 325.2,100.2C324.1,102.2 322.3,104.2 320.9,106.2C319.4,108.2 317.7,110.2 316.5,112.2C315.3,114.2 314.4,116.2 313.6,118.2C312.9,120.2 312.4,122.2 312,124.2C311.6,126.2 311.6,128.2 311.4,130.2C311.3,132.2 311.3,134.2 311.2,136.2C311.2,138.2 311.1,140.2 311.1,142.2C311.1,144.2 311.2,146.2 311.3,148.2C311.4,150.2 311.5,152.2 311.8,154.2C312.1,156.2 312.3,158.2 312.8,160.2C313.3,162.2 313.9,164.2 314.6,166.2C315.3,168.2 316.1,170.2 317,172.2C317.8,174.2 318.7,176.2 319.6,178.2C320.6,180.2 321.6,182.2 322.7,184.2C323.7,186.2 324.8,188.2 325.9,190.2C327,192.2 328.1,194.2 329.4,196.2C330.6,198.2 331.9,200.2 333.2,202.2C334.6,204.2 336.1,206.2 337.5,208.2C339,210.2 340.5,212.2 341.9,214.2C343.2,216.2 344.5,218.2 345.7,220.2C346.8,222.2 347.7,224.2 348.8,226.2C349.8,228.2 350.8,230.2 351.8,232.2C352.9,234.2 354,236.2 355.1,238.2C356.2,240.2 357.3,242.2 358.4,244.2C359.5,246.2 360.6,248.2 361.7,250.2C362.9,252.2 364,254.2 365.1,256.2C366.2,258.2 367.2,260.2 368.1,262.2C369.1,264.2 369.9,266.2 370.8,268.2C371.6,270.2 372.4,272.2 373.2,274.2C374,276.2 375.1,279.1 375.5,280.2C375.9,281.2 375.6,280.4 375.6,280.5 L381.5,280.5C381.5,280.4 381.7,281.2 381.4,280.2C381,279.1 380.1,276.2 379.4,274.2C378.7,272.2 378.1,270.2 377.4,268.2C376.6,266.2 375.9,264.2 375.1,262.2C374.2,260.2 373.3,258.2 372.3,256.2C371.3,254.2 370.2,252.2 369.2,250.2C368.1,248.2 367.1,246.2 366.1,244.2C365.1,242.2 364.1,240.2 363.1,238.2C362.1,236.2 361.1,234.2 360.1,232.2C359.1,230.2 358.2,228.2 357.3,226.2C356.3,224.2 355.4,222.2 354.3,220.2C353.1,218.2 351.8,216.2 350.4,214.2C349,212.2 347.3,210.2 345.8,208.2C344.4,206.2 342.8,204.2 341.5,202.2C340.1,200.2 338.8,198.2 337.5,196.2C336.2,194.2 335,192.2 333.7,190.2C332.5,188.2 331.3,186.2 330,184.2C328.8,182.2 327.6,180.2 326.5,178.2C325.4,176.2 324.4,174.2 323.4,172.2C322.5,170.2 321.5,168.2 320.8,166.2C320,164.2 319.4,162.2 318.9,160.2C318.4,158.2 318.2,156.2 318,154.2C317.8,152.2 317.8,150.2 317.7,148.2C317.7,146.2 317.7,144.2 317.8,142.2C317.9,140.2 318.2,138.2 318.4,136.2C318.6,134.2 318.7,132.2 318.9,130.2C319.2,128.2 319.3,126.2 319.9,124.2C320.4,122.2 321.3,120.2 322.3,118.2C323.4,116.2 325,114.2 326.1,112.2C327.1,110.2 328,108.2 328.9,106.2C329.7,104.2 330.4,102.2 331.3,100.2C332.2,98.2 333.1,96.2 334.3,94.2C335.4,92.2 336.8,90.2 338.2,88.2C339.6,86.2 341.2,84.2 342.6,82.2C344.1,80.2 345.4,78.2 346.8,76.2C348.2,74.2 349.6,72.2 351,70.2C352.3,68.2 353.7,66.2 354.8,64.2C355.9,62.2 356.9,60.2 357.8,58.2C358.6,56.2 359.2,54.2 359.8,52.2C360.5,50.2 360.9,48.2 361.5,46.2C362,44.2 362.5,42.2 362.9,40.2C363.4,38.2 363.9,36.2 364.3,34.2C364.8,32.2 365.1,30.2 365.5,28.2C365.9,26.2 366.3,24.2 366.8,22.2C367.4,20.2 367.8,18.2 368.7,16.2C369.5,14.2 371.3,11.2 371.8,10.2 Z" fill="#b81820" fill-opacity="1" />
<path d="M369.6,10.2C369,11.2 367.2,14.2 366.3,16.2C365.4,18.2 364.8,20.2 364.2,22.2C363.6,24.2 363.2,26.2 362.7,28.2C362.2,30.2 361.7,32.2 361.2,34.2C360.7,36.2 360.1,38.2 359.6,40.2C359,42.2 358.5,44.2 357.9,46.2C357.3,48.2 356.7,50.2 356,52.2C355.4,54.2 354.7,56.2 353.8,58.2C352.9,60.2 351.9,62.2 350.8,64.2C349.7,66.2 348.3,68.2 347.1,70.2C345.8,72.2 344.4,74.2 343.1,76.2C341.8,78.2 340.5,80.2 339.2,82.2C337.9,84.2 336.4,86.2 335.2,88.2C333.9,90.2 332.6,92.2 331.6,94.2C330.5,96.2 329.8,98.2 328.8,100.2C327.8,102.2 326.6,104.2 325.5,106.2C324.4,108.2 323.2,110.2 322.1,112.2C320.9,114.2 319.6,116.2 318.7,118.2C317.8,120.2 317.1,122.2 316.6,124.2C316.1,126.2 316,128.2 315.8,130.2C315.6,132.2 315.5,134.2 315.4,136.2C315.3,138.2 315.1,140.2 315,142.2C314.9,144.2 315,146.2 315,148.2C315.1,150.2 315.2,152.2 315.4,154.2C315.7,156.2 315.9,158.2 316.4,160.2C316.8,162.2 317.5,164.2 318.2,166.2C318.9,168.2 319.8,170.2 320.7,172.2C321.6,174.2 322.6,176.2 323.6,178.2C324.7,180.2 325.8,182.2 327,184.2C328.1,186.2 329.3,188.2 330.5,190.2C331.7,192.2 332.8,194.2 334.1,196.2C335.4,198.2 336.7,200.2 338,202.2C339.4,204.2 340.9,206.2 342.4,208.2C343.9,210.2 345.5,212.2 346.9,214.2C348.2,216.2 349.5,218.2 350.7,220.2C351.8,222.2 352.7,224.2 353.7,226.2C354.7,228.2 355.6,230.2 356.6,232.2C357.7,234.2 358.7,236.2 359.8,238.2C360.8,240.2 361.8,242.2 362.9,244.2C363.9,246.2 365,248.2 366.1,250.2C367.1,252.2 368.3,254.2 369.3,256.2C370.3,258.2 371.3,260.2 372.2,262.2C373.1,264.2 373.8,266.2 374.6,268.2C375.4,270.2 376.1,272.2 376.8,274.2C377.5,276.2 378.6,279.1 378.9,280.2C379.3,281.2 379,280.4 379,280.5 L381.5,280.5C381.5,280.4 381.7,281.2 381.4,280.2C381,279.1 380.1,276.2 379.4,274.2C378.7,272.2 378.1,270.2 377.4,268.2C376.6,266.2 375.9,264.2 375.1,262.2C374.2,260.2 373.3,258.2 372.3,256.2C371.3,254.2 370.2,252.2 369.2,250.2C368.1,248.2 367.1,246.2 366.1,244.2C365.1,242.2 364.1,240.2 363.1,238.2C362.1,236.2 361.1,234.2 360.1,232.2C359.1,230.2 358.2,228.2 357.3,226.2C356.3,224.2 355.4,222.2 354.3,220.2C353.1,218.2 351.8,216.2 350.4,214.2C349,212.2 347.3,210.2 345.8,208.2C344.4,206.2 342.8,204.2 341.5,202.2C340.1,200.2 338.8,198.2 337.5,196.2C336.2,194.2 335,192.2 333.7,190.2C332.5,188.2 331.3,186.2 330,184.2C328.8,182.2 327.6,180.2 326.5,178.2C325.4,176.2 324.4,174.2 323.4,172.2C322.5,170.2 321.5,168.2 320.8,166.2C320,164.2 319.4,162.2 318.9,160.2C318.4,158.2 318.2,156.2 318,154.2C317.8,152.2 317.8,150.2 317.7,148.2C317.7,146.2 317.7,144.2 317.8,142.2C317.9,140.2 318.2,138.2 318.4,136.2C318.6,134.2 318.7,132.2 318.9,130.2C319.2,128.2 319.3,126.2 319.9,124.2C320.4,122.2 321.3,120.2 322.3,118.2C323.4,116.2 325,114.2 326.1,112.2C327.1,110.2 328,108.2 328.9,106.2C329.7,104.2 330.4,102.2 331.3,100.2C332.2,98.2 333.1,96.2 334.3,94.2C335.4,92.2 336.8,90.2 338.2,88.2C339.6,86.2 341.2,84.2 342.6,82.2C344.1,80.2 345.4,78.2 346.8,76.2C348.2,74.2 349.6,72.2 351,70.2C352.3,68.2 353.7,66.2 354.8,64.2C355.9,62.2 356.9,60.2 357.8,58.2C358.6,56.2 359.2,54.2 359.8,52.2C360.5,50.2 360.9,48.2 361.5,46.2C362,44.2 362.5,42.2 362.9,40.2C363.4,38.2 363.9,36.2 364.3,34.2C364.8,32.2 365.1,30.2 365.5,28.2C365.9,26.2 366.3,24.2 366.8,22.2C367.4,20.2 367.8,18.2 368.7,16.2C369.5,14.2 371.3,11.2 371.8,10.2 Z" fill="#8a0c38" fill-opacity="1" />
</g>
<g filter="url(#speck)">
<path d="M350,10.2C349.3,11.2 347,14.2 345.6,16.2C344.2,18.2 342.9,20.2 341.6,22.2C340.3,24.2 339.1,26.2 337.8,28.2C336.5,30.2 335.3,32.2 334.1,34.2C332.8,36.2 331.6,38.2 330.4,40.2C329.1,42.2 327.9,44.2 326.6,46.2C325.3,48.2 324.1,50.2 322.8,52.2C321.6,54.2 320.4,56.2 319.3,58.2C318.1,60.2 317,62.2 316,64.2C315,66.2 314,68.2 313.2,70.2C312.4,72.2 311.6,74.2 310.9,76.2C310.3,78.2 309.9,80.2 309.5,82.2C309.2,84.2 309,86.2 308.8,88.2C308.5,90.2 308.2,92.2 307.8,94.2C307.4,96.2 308.4,98.2 306.5,100.2C304.6,102.2 299.7,104.2 296.5,106.2C293.4,108.2 289,110.2 287.5,112.2C285.9,114.2 287.1,116.2 287.2,118.2C287.3,120.2 287.8,122.2 288,124.2C288.3,126.2 288.4,128.2 288.6,130.2C288.9,132.2 289.2,134.2 289.5,136.2C289.9,138.2 290.2,140.2 290.6,142.2C290.9,144.2 291.3,146.2 291.7,148.2C292.1,150.2 292.5,152.2 292.9,154.2C293.3,156.2 293.8,158.2 294.3,160.2C294.7,162.2 295.3,164.2 295.8,166.2C296.3,168.2 296.8,170.2 297.3,172.2C297.8,174.2 298.2,176.2 298.7,178.2C299.2,180.2 299.7,182.2 300.2,184.2C300.8,186.2 301.3,188.2 302,190.2C302.8,192.2 303.6,194.2 304.7,196.2C305.7,198.2 307,200.2 308.3,202.2C309.5,204.2 310.9,206.2 312.2,208.2C313.5,210.2 314.7,212.2 315.9,214.2C317.1,216.2 318.2,218.2 319.4,220.2C320.6,222.2 321.7,224.2 322.9,226.2C324.1,228.2 325.3,230.2 326.6,232.2C327.9,234.2 329.3,236.2 330.6,238.2C332,240.2 333.5,242.2 334.9,244.2C336.3,246.2 337.8,248.2 339.2,250.2C340.6,252.2 341.9,254.2 343.2,256.2C344.5,258.2 345.8,260.2 347,262.2C348.3,264.2 349.5,266.2 350.7,268.2C351.9,270.2 353.1,272.2 354.3,274.2C355.4,276.2 357.1,279.1 357.7,280.2C358.3,281.2 357.8,280.4 357.9,280.5 L371.7,280.5C371.7,280.4 372.1,281.2 371.6,280.2C371.2,279.1 369.9,276.2 369,274.2C368.2,272.2 367.3,270.2 366.4,268.2C365.4,266.2 364.5,264.2 363.5,262.2C362.5,260.2 361.4,258.2 360.3,256.2C359.2,254.2 358,252.2 356.8,250.2C355.6,248.2 354.4,246.2 353.2,244.2C352.1,242.2 350.9,240.2 349.7,238.2C348.6,236.2 347.4,234.2 346.3,232.2C345.2,230.2 344.2,228.2 343.1,226.2C342,224.2 341,222.2 339.9,220.2C338.7,218.2 337.5,216.2 336.2,214.2C334.9,212.2 333.4,210.2 332,208.2C330.6,206.2 329.1,204.2 327.8,202.2C326.4,200.2 325.1,198.2 324,196.2C322.8,194.2 321.7,192.2 320.7,190.2C319.6,188.2 318.7,186.2 317.7,184.2C316.8,182.2 315.9,180.2 315,178.2C314.2,176.2 313.4,174.2 312.7,172.2C311.9,170.2 311.1,168.2 310.5,166.2C309.8,164.2 309.2,162.2 308.7,160.2C308.3,158.2 308,156.2 307.7,154.2C307.4,152.2 307.2,150.2 307,148.2C306.8,146.2 306.7,144.2 306.6,142.2C306.5,140.2 306.5,138.2 306.5,136.2C306.5,134.2 306.4,132.2 306.4,130.2C306.5,128.2 306.5,126.2 306.7,124.2C307,122.2 307.3,120.2 307.8,118.2C308.4,116.2 308.9,114.2 310.1,112.2C311.4,110.2 313.7,108.2 315.5,106.2C317.4,104.2 319.8,102.2 321.1,100.2C322.4,98.2 322.5,96.2 323.4,94.2C324.2,92.2 325.1,90.2 326.1,88.2C327,86.2 328,84.2 329,82.2C330,80.2 331,78.2 332,76.2C333.1,74.2 334.3,72.2 335.4,70.2C336.5,68.2 337.7,66.2 338.8,64.2C339.9,62.2 340.9,60.2 341.9,58.2C342.8,56.2 343.7,54.2 344.6,52.2C345.4,50.2 346.3,48.2 347.1,46.2C347.9,44.2 348.7,42.2 349.5,40.2C350.3,38.2 351.1,36.2 351.9,34.2C352.6,32.2 353.3,30.2 354.1,28.2C354.9,26.2 355.6,24.2 356.4,22.2C357.3,20.2 358.1,18.2 359.1,16.2C360.2,14.2 362.2,11.2 362.8,10.2 Z" fill="#000" fill-opacity="1" />
</g>
<g filter="url(#speckS)">
<path d="M362.8,10.2C362.2,11.2 360.2,14.2 359.1,16.2C358.1,18.2 357.3,20.2 356.4,22.2C355.6,24.2 354.9,26.2 354.1,28.2C353.3,30.2 352.6,32.2 351.9,34.2C351.1,36.2 350.3,38.2 349.5,40.2C348.7,42.2 347.9,44.2 347.1,46.2C346.3,48.2 345.4,50.2 344.6,52.2C343.7,54.2 342.8,56.2 341.9,58.2C340.9,60.2 339.9,62.2 338.8,64.2C337.7,66.2 336.5,68.2 335.4,70.2C334.3,72.2 333.1,74.2 332,76.2C331,78.2 330,80.2 329,82.2C328,84.2 327,86.2 326.1,88.2C325.1,90.2 324.2,92.2 323.4,94.2C322.5,96.2 322.4,98.2 321.1,100.2C319.8,102.2 317.4,104.2 315.5,106.2C313.7,108.2 311.4,110.2 310.1,112.2C308.9,114.2 308.4,116.2 307.8,118.2C307.3,120.2 307,122.2 306.7,124.2C306.5,126.2 306.5,128.2 306.4,130.2C306.4,132.2 306.5,134.2 306.5,136.2C306.5,138.2 306.5,140.2 306.6,142.2C306.7,144.2 306.8,146.2 307,148.2C307.2,150.2 307.4,152.2 307.7,154.2C308,156.2 308.3,158.2 308.7,160.2C309.2,162.2 309.8,164.2 310.5,166.2C311.1,168.2 311.9,170.2 312.7,172.2C313.4,174.2 314.2,176.2 315,178.2C315.9,180.2 316.8,182.2 317.7,184.2C318.7,186.2 319.6,188.2 320.7,190.2C321.7,192.2 322.8,194.2 324,196.2C325.1,198.2 326.4,200.2 327.8,202.2C329.1,204.2 330.6,206.2 332,208.2C333.4,210.2 334.9,212.2 336.2,214.2C337.5,216.2 338.7,218.2 339.9,220.2C341,222.2 342,224.2 343.1,226.2C344.2,228.2 345.2,230.2 346.3,232.2C347.4,234.2 348.6,236.2 349.7,238.2C350.9,240.2 352.1,242.2 353.2,244.2C354.4,246.2 355.6,248.2 356.8,250.2C358,252.2 359.2,254.2 360.3,256.2C361.4,258.2 362.5,260.2 363.5,262.2C364.5,264.2 365.4,266.2 366.4,268.2C367.3,270.2 368.2,272.2 369,274.2C369.9,276.2 371.2,279.1 371.6,280.2C372.1,281.2 371.7,280.4 371.7,280.5 L379,280.5C379,280.4 379.3,281.2 378.9,280.2C378.6,279.1 377.5,276.2 376.8,274.2C376.1,272.2 375.4,270.2 374.6,268.2C373.8,266.2 373.1,264.2 372.2,262.2C371.3,260.2 370.3,258.2 369.3,256.2C368.3,254.2 367.1,252.2 366.1,250.2C365,248.2 363.9,246.2 362.9,244.2C361.8,242.2 360.8,240.2 359.8,238.2C358.7,236.2 357.7,234.2 356.6,232.2C355.6,230.2 354.7,228.2 353.7,226.2C352.7,224.2 351.8,222.2 350.7,220.2C349.5,218.2 348.2,216.2 346.9,214.2C345.5,212.2 343.9,210.2 342.4,208.2C340.9,206.2 339.4,204.2 338,202.2C336.7,200.2 335.4,198.2 334.1,196.2C332.8,194.2 331.7,192.2 330.5,190.2C329.3,188.2 328.1,186.2 327,184.2C325.8,182.2 324.7,180.2 323.6,178.2C322.6,176.2 321.6,174.2 320.7,172.2C319.8,170.2 318.9,168.2 318.2,166.2C317.5,164.2 316.8,162.2 316.4,160.2C315.9,158.2 315.7,156.2 315.4,154.2C315.2,152.2 315.1,150.2 315,148.2C315,146.2 314.9,144.2 315,142.2C315.1,140.2 315.3,138.2 315.4,136.2C315.5,134.2 315.6,132.2 315.8,130.2C316,128.2 316.1,126.2 316.6,124.2C317.1,122.2 317.8,120.2 318.7,118.2C319.6,116.2 320.9,114.2 322.1,112.2C323.2,110.2 324.4,108.2 325.5,106.2C326.6,104.2 327.8,102.2 328.8,100.2C329.8,98.2 330.5,96.2 331.6,94.2C332.6,92.2 333.9,90.2 335.2,88.2C336.4,86.2 337.9,84.2 339.2,82.2C340.5,80.2 341.8,78.2 343.1,76.2C344.4,74.2 345.8,72.2 347.1,70.2C348.3,68.2 349.7,66.2 350.8,64.2C351.9,62.2 352.9,60.2 353.8,58.2C354.7,56.2 355.4,54.2 356,52.2C356.7,50.2 357.3,48.2 357.9,46.2C358.5,44.2 359,42.2 359.6,40.2C360.1,38.2 360.7,36.2 361.2,34.2C361.7,32.2 362.2,30.2 362.7,28.2C363.2,26.2 363.6,24.2 364.2,22.2C364.8,20.2 365.4,18.2 366.3,16.2C367.2,14.2 369,11.2 369.6,10.2 Z" fill="#000" fill-opacity="1" />
</g>
<path d="M350.7,10C350.3,10.5 349.2,12 348.4,13C347.7,14 346.9,15 346.2,16C345.5,17 344.8,18 344.1,19C343.5,20 342.8,21 342.1,22C341.5,23 340.8,24 340.2,25C339.6,26 338.9,27 338.3,28C337.6,29 337,30 336.4,31C335.7,32 335.1,33 334.5,34C333.8,35 333.2,36 332.6,37C332,38 331.3,39 330.7,40C330.1,41 329.4,42 328.8,43C328.1,44 327.5,45 326.9,46C326.2,47 325.6,48 324.9,49C324.3,50 323.6,51 323,52C322.4,53 321.8,54 321.2,55C320.5,56 319.9,57 319.4,58C318.8,59 318.2,60 317.7,61C317.2,62 316.6,63 316.1,64C315.6,65 315.1,66 314.7,67C314.2,68 313.7,69 313.3,70C312.9,71 312.5,72 312.1,73C311.8,74 311.4,75 311.1,76C310.8,77 310.5,78 310.3,79C310.1,80 309.9,81 309.8,82C309.6,83 309.5,84 309.4,85C309.3,86 309.2,87 309.1,88C308.9,89 308.8,90 308.7,91C308.6,92 308.3,93 308.2,94C308.1,95 308,96 307.8,97C307.6,98 307.6,99 307,100C306.5,101 305.9,102 304.3,103C302.6,104 299.7,105 297.2,106C294.7,107 291.1,108 289.4,109C287.8,110 287.9,111 287.5,112C287.1,113 287.2,114 287.1,115C287.1,116 287.2,117 287.3,118C287.4,119 287.6,120 287.7,121C287.9,122 288.1,123 288.2,124C288.3,125 288.4,126 288.5,127C288.6,128 288.7,129 288.9,130C289,131 289.2,132 289.3,133C289.5,134 289.6,135 289.8,136C290,137 290.2,138 290.3,139C290.5,140 290.7,141 290.9,142C291.1,143 291.2,144 291.4,145C291.6,146 291.8,147 292,148C292.2,149 292.4,150 292.6,151C292.8,152 293.1,153 293.3,154C293.5,155 293.7,156 293.9,157C294.2,158 294.4,159 294.6,160C294.9,161 295.1,162 295.4,163C295.7,164 295.9,165 296.2,166C296.4,167 296.7,168 296.9,169C297.2,170 297.4,171 297.7,172C297.9,173 298.1,174 298.4,175C298.6,176 298.8,177 299,178C299.2,179 299.4,180 299.7,181C299.9,182 300.2,183 300.4,184C300.7,185 301,186 301.3,187C301.6,188 301.8,189 302.2,190C302.5,191 302.8,192 303.3,193C303.7,194 304.2,195 304.7,196C305.3,197 305.9,198 306.5,199C307.1,200 307.7,201 308.3,202C309,203 309.6,204 310.3,205C310.9,206 311.6,207 312.2,208C312.9,209 313.5,210 314.1,211C314.7,212 315.3,213 315.9,214C316.5,215 317.1,216 317.6,217C318.2,218 318.8,219 319.4,220C320,221 320.6,222 321.1,223C321.7,224 322.3,225 322.9,226C323.5,227 324.1,228 324.7,229C325.4,230 326,231 326.6,232C327.3,233 328,234 328.6,235C329.3,236 330,237 330.7,238C331.4,239 332.1,240 332.8,241C333.6,242 334.3,243 335,244C335.7,245 336.5,246 337.2,247C337.9,248 338.6,249 339.3,250C340,251 340.7,252 341.4,253C342.1,254 342.7,255 343.4,256C344.1,257 344.7,258 345.3,259C346,260 346.6,261 347.2,262C347.9,263 348.5,264 349.1,265C349.7,266 350.3,267 350.9,268C351.6,269 352.2,270 352.8,271C353.4,272 354,273 354.6,274C355.2,275 356,276.5 356.3,277" fill="none" stroke="#ffd870" stroke-width="1.8" stroke-dasharray="1.6 1.6" opacity="0.9"/>
<g filter="url(#blur1)">
<path d="M287.9,106C288.1,107 288.8,110 289.3,112C289.7,114 290.2,116 290.6,118C291.1,120 291.6,122 292.1,124C292.6,126 293.1,128 293.7,130C294.3,132 294.9,134 295.5,136C296.1,138 296.7,140 297.3,142C297.8,144 298.3,146 298.9,148C299.4,150 299.9,152 300.4,154C300.9,156 301.4,158 301.9,160C302.4,162 302.9,164 303.4,166C303.9,168 304.5,170 305,172C305.5,174 306,176 306.6,178C307.2,180 307.6,182 308.4,184C309.1,186 310.4,188.7 311,190C311.6,191.3 311.6,191.7 311.7,192 L324.1,192C323.9,191.7 323.7,191.3 323,190C322.3,188.7 320.9,186 319.9,184C319,182 317.9,180 317.1,178C316.3,176 315.7,174 315.2,172C314.8,170 314.7,168 314.4,166C314.2,164 314,162 313.8,160C313.6,158 313.4,156 313.3,154C313.1,152 313,150 313,148C312.9,146 313.3,144 312.9,142C312.5,140 311.6,138 310.6,136C309.6,134 307.9,132 306.9,130C306,128 305.5,126 305,124C304.5,122 304.4,120 304,118C303.6,116 302.9,114 302.4,112C301.8,110 300.9,107 300.6,106 Z" fill="#5a1470" fill-opacity="0.85" />
</g>
<g filter="url(#speckR)">
<path d="M287.9,106C288.1,107 288.8,110 289.3,112C289.7,114 290.2,116 290.6,118C291.1,120 291.6,122 292.1,124C292.6,126 293.1,128 293.7,130C294.3,132 294.9,134 295.5,136C296.1,138 296.7,140 297.3,142C297.8,144 298.3,146 298.9,148C299.4,150 299.9,152 300.4,154C300.9,156 301.4,158 301.9,160C302.4,162 302.9,164 303.4,166C303.9,168 304.5,170 305,172C305.5,174 306,176 306.6,178C307.2,180 307.6,182 308.4,184C309.1,186 310.4,188.7 311,190C311.6,191.3 311.6,191.7 311.7,192 L324.1,192C323.9,191.7 323.7,191.3 323,190C322.3,188.7 320.9,186 319.9,184C319,182 317.9,180 317.1,178C316.3,176 315.7,174 315.2,172C314.8,170 314.7,168 314.4,166C314.2,164 314,162 313.8,160C313.6,158 313.4,156 313.3,154C313.1,152 313,150 313,148C312.9,146 313.3,144 312.9,142C312.5,140 311.6,138 310.6,136C309.6,134 307.9,132 306.9,130C306,128 305.5,126 305,124C304.5,122 304.4,120 304,118C303.6,116 302.9,114 302.4,112C301.8,110 300.9,107 300.6,106 Z" fill="#000" fill-opacity="1" />
</g>
<g filter="url(#blur05)">
<path d="M317,104C316.7,105 315.9,108 315.4,110C314.9,112 314.4,114 314,116C313.6,118 313.1,120 312.8,122C312.6,124 312.4,126 312.4,128C312.3,130 312.3,132 312.4,134C312.4,136 312.4,138 312.5,140C312.6,142 312.6,144 312.7,146C312.9,148 313,150 313.1,152C313.3,154 313.4,156 313.6,158C313.8,160 314,162 314.2,164C314.4,166 314.5,168 314.9,170C315.3,172 315.7,174 316.3,176C317,178 317.9,180 318.8,182C319.8,184 320.8,186 322,188C323.2,190 324.5,192 325.8,194C327.2,196 328.6,198 330,200C331.4,202 332.7,204 334,206C335.3,208 337.1,210.7 338,212C338.9,213.3 339.1,213.7 339.3,214 L345.3,214C345.1,213.7 344.9,213.3 344,212C343.1,210.7 341.3,208 340,206C338.7,204 337.4,202 336,200C334.6,198 333.2,196 331.8,194C330.5,192 329.2,190 328,188C326.8,186 325.8,184 324.8,182C323.9,180 323,178 322.3,176C321.7,174 321.3,172 320.9,170C320.5,168 320.4,166 320.2,164C320,162 319.8,160 319.6,158C319.4,156 319.3,154 319.1,152C319,150 318.9,148 318.7,146C318.6,144 318.6,142 318.5,140C318.4,138 318.4,136 318.4,134C318.3,132 318.3,130 318.4,128C318.4,126 318.6,124 318.8,122C319.1,120 319.6,118 320,116C320.4,114 320.9,112 321.4,110C321.9,108 322.7,105 323,104 Z" fill="#f8a030" fill-opacity="0.95" />
</g>
<g filter="url(#blur05)">
<path d="M284.8,106C285,107 285.3,110 285.5,112C285.8,114 286,116 286.2,118C286.5,120 286.7,122 287,124C287.2,126 287.5,128 287.8,130C288.1,132 288.4,134 288.7,136C289,138 289.3,140 289.7,142C290,144 290.4,146 290.8,148C291.2,150 291.6,152 292.1,154C292.5,156 293,158 293.4,160C293.9,162 294.5,164 295,166C295.5,168 296,170 296.5,172C296.9,174 297.3,176 297.8,178C298.2,180 298.5,182 299.2,184C299.9,186 301.2,188 302.2,190C303.1,192 304.3,195 304.7,196 L313,196C312.7,195 311.8,192 311,190C310.2,188 309.1,186 308.4,184C307.6,182 307.2,180 306.6,178C306,176 305.5,174 305,172C304.5,170 303.9,168 303.4,166C302.9,164 302.4,162 301.9,160C301.4,158 300.9,156 300.4,154C299.9,152 299.4,150 298.9,148C298.3,146 297.8,144 297.3,142C296.7,140 296.1,138 295.5,136C294.9,134 294.3,132 293.7,130C293.1,128 292.6,126 292.1,124C291.6,122 291.1,120 290.6,118C290.2,116 289.7,114 289.3,112C288.8,110 288.1,107 287.9,106 Z" fill="#f8b030" fill-opacity="1" />
</g>
<g filter="url(#speck)">
<path d="M284.8,106C285,107 285.3,110 285.5,112C285.8,114 286,116 286.2,118C286.5,120 286.7,122 287,124C287.2,126 287.5,128 287.8,130C288.1,132 288.4,134 288.7,136C289,138 289.3,140 289.7,142C290,144 290.4,146 290.8,148C291.2,150 291.6,152 292.1,154C292.5,156 293,158 293.4,160C293.9,162 294.5,164 295,166C295.5,168 296,170 296.5,172C296.9,174 297.3,176 297.8,178C298.2,180 298.5,182 299.2,184C299.9,186 301.2,188 302.2,190C303.1,192 304.3,195 304.7,196 L313,196C312.7,195 311.8,192 311,190C310.2,188 309.1,186 308.4,184C307.6,182 307.2,180 306.6,178C306,176 305.5,174 305,172C304.5,170 303.9,168 303.4,166C302.9,164 302.4,162 301.9,160C301.4,158 300.9,156 300.4,154C299.9,152 299.4,150 298.9,148C298.3,146 297.8,144 297.3,142C296.7,140 296.1,138 295.5,136C294.9,134 294.3,132 293.7,130C293.1,128 292.6,126 292.1,124C291.6,122 291.1,120 290.6,118C290.2,116 289.7,114 289.3,112C288.8,110 288.1,107 287.9,106 Z" fill="#000" fill-opacity="1" />
</g>
</g>
<clipPath id="clipd"><rect x="369.6" y="18.0" width="102.4" height="254.5"/></clipPath><g clip-path="url(#clipd)">
<rect x="369.6" y="18.0" width="102.4" height="254.5" fill="#0804b0"/>
<g filter="url(#blur15)">
<circle cx="523.0" cy="150.0" r="102.0" fill="#2a1ef5"/>
<circle cx="523.0" cy="150.0" r="93.0" fill="none" stroke="#2a1ef5" stroke-width="6.0"/>
<circle cx="523.0" cy="150.0" r="88.0" fill="none" stroke="#100a78" stroke-width="4.0"/>
<circle cx="523.0" cy="150.0" r="82.5" fill="none" stroke="#2c1ae0" stroke-width="7.0"/>
<circle cx="523.0" cy="150.0" r="76.5" fill="none" stroke="#5a18a8" stroke-width="5.0"/>
<circle cx="523.0" cy="150.0" r="70.0" fill="none" stroke="#3a1ad0" stroke-width="8.0"/>
<circle cx="523.0" cy="150.0" r="63.5" fill="none" stroke="#5018a0" stroke-width="5.0"/>
<circle cx="523.0" cy="150.0" r="61.0" fill="#4020c8"/>
</g>
<g filter="url(#blur6)">
<path d="M375.8,110C376.1,111 377.1,114 377.7,116C378.4,118 379.1,120 379.6,122C380.1,124 380.4,126 380.6,128C380.9,130 381.1,132 381.4,134C381.7,136 382,138 382.3,140C382.6,142 382.9,144 383.2,146C383.5,148 383.8,150 384.1,152C384.4,154 384.7,156 385,158C385.4,160 385.7,162 386.1,164C386.5,166 386.9,168 387.4,170C387.9,172 388.4,174 388.9,176C389.4,178 390,180 390.6,182C391.1,184 391.7,186 392.3,188C392.9,190 393.6,192 394.3,194C395,196 395.8,198 396.6,200C397.4,202 398.4,204 399.3,206C400.1,208 401,210 401.8,212C402.6,214 403.4,216 404.2,218C404.9,220 405.7,222 406.5,224C407.3,226 408.1,228 409,230C409.9,232 410.8,234 411.8,236C412.7,238 413.7,240 414.6,242C415.6,244 416.6,246 417.6,248C418.6,250 419.5,252 420.5,254C421.4,256 422.4,258 423.3,260C424.3,262 425.2,264 426.1,266C427.1,268 428,270 429,272C430,274 431.3,276.6 432,278C432.7,279.4 433,280.1 433.2,280.5 L461.2,280.5C461,280.1 460.7,279.4 460,278C459.3,276.6 458,274 457,272C456,270 455.1,268 454.1,266C453.2,264 452.3,262 451.3,260C450.4,258 449.4,256 448.5,254C447.5,252 446.6,250 445.6,248C444.6,246 443.6,244 442.6,242C441.7,240 440.7,238 439.8,236C438.8,234 437.9,232 437,230C436.1,228 435.3,226 434.5,224C433.7,222 432.9,220 432.2,218C431.4,216 430.6,214 429.8,212C429,210 428.1,208 427.3,206C426.4,204 425.4,202 424.6,200C423.8,198 423,196 422.3,194C421.6,192 420.9,190 420.3,188C419.7,186 419.1,184 418.6,182C418,180 417.4,178 416.9,176C416.4,174 415.9,172 415.4,170C414.9,168 414.5,166 414.1,164C413.7,162 413.4,160 413,158C412.7,156 412.4,154 412.1,152C411.8,150 411.5,148 411.2,146C410.9,144 410.6,142 410.3,140C410,138 409.7,136 409.4,134C409.1,132 408.9,130 408.6,128C408.4,126 408.1,124 407.6,122C407.1,120 406.4,118 405.7,116C405.1,114 404.1,111 403.8,110 Z" fill="#2a30ff" fill-opacity="0.55" />
</g>
<g filter="url(#blur2)">
<path d="M444.4,10C444.1,11 443.4,14 442.7,16C442,18 441.2,20 440.4,22C439.5,24 438.6,26 437.7,28C436.7,30 435.7,32 434.7,34C433.6,36 432.6,38 431.4,40C430.2,42 429,44 427.7,46C426.4,48 426.6,50 423.5,52C420.4,54 412.3,56 409,58C405.7,60 405.2,62 404,64C402.8,66 402.4,68 401.8,70C401.2,72 400.7,74 400.3,76C399.9,78 399.6,80 399.2,82C398.8,84 398.5,86 397.9,88C397.3,90 396.2,92 395.7,94C395.2,96 395.2,98 395.1,100C395,102 395,104 395.2,106C395.4,108 395.8,110 396.3,112C396.9,114 397.8,116 398.4,118C399.1,120 399.6,122 400,124C400.4,126 400.6,128 400.9,130C401.2,132 401.4,134 401.7,136C402,138 402.3,140 402.6,142C402.9,144 403.2,146 403.5,148C403.8,150 404.1,152 404.4,154C404.7,156 405,158 405.4,160C405.7,162 406.1,164 406.5,166C406.9,168 407.4,170 407.9,172C408.4,174 408.9,176 409.4,178C410,180 410.6,182 411.1,184C411.7,186 412.3,188 413,190C413.6,192 414.2,194 415,196C415.8,198 416.6,200 417.5,202C418.3,204 419.3,206 420.2,208C421,210 421.8,212 422.6,214C423.4,216 424.1,218 424.9,220C425.7,222 426.5,224 427.3,226C428.1,228 429,230 429.9,232C430.8,234 431.8,236 432.7,238C433.7,240 434.6,242 435.6,244C436.6,246 437.6,248 438.6,250C439.5,252 440.5,254 441.4,256C442.4,258 443.3,260 444.2,262C445.2,264 446.1,266 447.1,268C448,270 449,272 450,274C451,276 452.4,278.9 453,280C453.5,281.1 453.2,280.4 453.2,280.5 L461.2,280.5C461.2,280.4 461.5,281.1 461,280C460.4,278.9 459,276 458,274C457,272 456,270 455.1,268C454.1,266 453.2,264 452.2,262C451.3,260 450.4,258 449.4,256C448.5,254 447.5,252 446.6,250C445.6,248 444.6,246 443.6,244C442.6,242 441.7,240 440.7,238C439.8,236 438.8,234 437.9,232C437,230 436.1,228 435.3,226C434.5,224 433.7,222 432.9,220C432.1,218 431.4,216 430.6,214C429.8,212 429,210 428.2,208C427.3,206 426.3,204 425.5,202C424.6,200 423.8,198 423,196C422.2,194 421.6,192 421,190C420.3,188 419.7,186 419.1,184C418.6,182 418,180 417.4,178C416.9,176 416.4,174 415.9,172C415.4,170 414.9,168 414.5,166C414.1,164 413.7,162 413.4,160C413,158 412.7,156 412.4,154C412.1,152 411.8,150 411.5,148C411.2,146 410.9,144 410.6,142C410.3,140 410,138 409.7,136C409.4,134 409.2,132 408.9,130C408.6,128 408.4,126 408,124C407.6,122 407.1,120 406.4,118C405.8,116 404.9,114 404.3,112C403.8,110 403.4,108 403.2,106C403,104 403,102 403.1,100C403.2,98 403.2,96 403.7,94C404.2,92 405.3,90 405.9,88C406.5,86 406.8,84 407.2,82C407.6,80 407.9,78 408.3,76C408.7,74 409.2,72 409.8,70C410.4,68 410.8,66 412,64C413.2,62 413.7,60 417,58C420.3,56 428.4,54 431.5,52C434.6,50 434.4,48 435.7,46C437,44 438.2,42 439.4,40C440.6,38 441.6,36 442.7,34C443.7,32 444.7,30 445.7,28C446.6,26 447.5,24 448.4,22C449.2,20 450,18 450.7,16C451.4,14 452.1,11 452.4,10 Z" fill="#2c2cff" fill-opacity="0.8" />
</g>
<g filter="url(#blur05)">
<path d="M450.4,10C450.1,11 449.4,14 448.7,16C448,18 447.2,20 446.4,22C445.5,24 444.6,26 443.7,28C442.7,30 441.7,32 440.7,34C439.6,36 438.6,38 437.4,40C436.2,42 435,44 433.7,46C432.4,48 432.6,50 429.5,52C426.4,54 418.3,56 415,58C411.7,60 411.2,62 410,64C408.8,66 408.4,68 407.8,70C407.2,72 406.7,74 406.3,76C405.9,78 405.6,80 405.2,82C404.8,84 404.5,86 403.9,88C403.3,90 402.2,92 401.7,94C401.2,96 401.2,98 401.1,100C401,102 401,104 401.2,106C401.4,108 401.8,110 402.3,112C402.9,114 403.8,116 404.4,118C405.1,120 405.6,122 406,124C406.4,126 406.6,128 406.9,130C407.2,132 407.4,134 407.7,136C408,138 408.3,140 408.6,142C408.9,144 409.2,146 409.5,148C409.8,150 410.1,152 410.4,154C410.7,156 411,158 411.4,160C411.7,162 412.1,164 412.5,166C412.9,168 413.4,170 413.9,172C414.4,174 414.9,176 415.4,178C416,180 416.6,182 417.1,184C417.7,186 418.3,188 419,190C419.6,192 420.2,194 421,196C421.8,198 422.6,200 423.5,202C424.3,204 425.3,206 426.2,208C427,210 427.8,212 428.6,214C429.4,216 430.1,218 430.9,220C431.7,222 432.5,224 433.3,226C434.1,228 435,230 435.9,232C436.8,234 437.8,236 438.7,238C439.7,240 440.6,242 441.6,244C442.6,246 443.6,248 444.6,250C445.5,252 446.5,254 447.4,256C448.4,258 449.3,260 450.2,262C451.2,264 452.1,266 453.1,268C454,270 455,272 456,274C457,276 458.4,278.9 459,280C459.5,281.1 459.2,280.4 459.2,280.5 L482.2,280.5C482.2,280.4 482.5,281.1 482,280C481.4,278.9 479.8,276 478.9,274C478,272 477.2,270 476.4,268C475.6,266 474.9,264 474.2,262C473.4,260 472.7,258 472,256C471.4,254 470.6,252 470,250C469.3,248 468.7,246 468.1,244C467.5,242 466.9,240 466.2,238C465.6,236 464.9,234 464.1,232C463.3,230 462.4,228 461.5,226C460.5,224 459.4,222 458.4,220C457.3,218 456.2,216 455.1,214C454,212 453,210 452,208C451,206 450.1,204 449.1,202C448.2,200 447.3,198 446.4,196C445.5,194 444.6,192 443.7,190C442.8,188 441.9,186 441.1,184C440.3,182 439.5,180 438.7,178C437.9,176 437.1,174 436.3,172C435.5,170 434.8,168 434,166C433.2,164 432.4,162 431.6,160C430.7,158 429.7,156 429,154C428.3,152 427.6,150 427.4,148C427.2,146 427.3,144 427.5,142C427.7,140 428.1,138 428.4,136C428.6,134 428.8,132 429.2,130C429.5,128 429.8,126 430.4,124C431,122 431.9,120 433,118C434.1,116 435.7,114 437,112C438.4,110 439.7,108 441.2,106C442.7,104 444.1,102 446,100C447.9,98 450.3,96 452.4,94C454.5,92 457,90 458.7,88C460.4,86 461.6,84 462.8,82C463.9,80 464.8,78 465.6,76C466.4,74 467,72 467.4,70C467.9,68 468.1,66 468.4,64C468.6,62 468.7,60 468.9,58C469.1,56 469.2,54 469.6,52C469.9,50 470.3,48 471,46C471.6,44 472.6,42 473.4,40C474.2,38 475.2,36 475.7,34C476.3,32 476.6,30 476.9,28C477.1,26 477.1,24 477.4,22C477.7,20 478,18 478.5,16C479,14 480.1,11 480.4,10 Z" fill="#d42818" fill-opacity="1" />
<path d="M462.4,10C462.1,11 461.2,14 460.6,16C460,18 459.4,20 458.8,22C458.2,24 457.6,26 457,28C456.3,30 455.6,32 454.7,34C453.8,36 452.8,38 451.8,40C450.8,42 449.7,44 448.6,46C447.6,48 447.5,50 445.5,52C443.5,54 438.6,56 436.6,58C434.5,60 434.2,62 433.3,64C432.5,66 432.2,68 431.6,70C431.1,72 430.6,74 430,76C429.5,78 428.9,80 428.2,82C427.5,84 426.9,86 425.8,88C424.8,90 423.1,92 422,94C420.8,96 419.8,98 419,100C418.3,102 417.7,104 417.2,106C416.7,108 416.4,110 416.2,112C416,114 415.9,116 415.9,118C415.8,120 415.8,122 415.8,124C415.8,126 415.8,128 415.8,130C415.8,132 415.9,134 416,136C416,138 416,140 416.1,142C416.3,144 416.4,146 416.6,148C416.9,150 417.4,152 417.8,154C418.3,156 418.9,158 419.4,160C420,162 420.5,164 421.1,166C421.7,168 422.2,170 422.8,172C423.5,174 424.1,176 424.7,178C425.4,180 426,182 426.7,184C427.4,186 428.1,188 428.8,190C429.6,192 430.3,194 431.1,196C432,198 432.8,200 433.7,202C434.6,204 435.6,206 436.5,208C437.4,210 438.3,212 439.2,214C440.1,216 441,218 441.9,220C442.8,222 443.7,224 444.6,226C445.4,228 446.3,230 447.2,232C448,234 448.9,236 449.7,238C450.6,240 451.4,242 452.2,244C453.1,246 453.9,248 454.7,250C455.6,252 456.4,254 457.3,256C458.1,258 459,260 459.8,262C460.7,264 461.5,266 462.4,268C463.3,270 464.2,272 465.1,274C466.1,276 467.6,278.9 468.2,280C468.7,281.1 468.4,280.4 468.4,280.5 L475.3,280.5C475.3,280.4 475.6,281.1 475.1,280C474.5,278.9 473,276 472,274C471.1,272 470.2,270 469.4,268C468.6,266 467.8,264 467,262C466.2,260 465.4,258 464.7,256C463.9,254 463.1,252 462.4,250C461.6,248 460.9,246 460.2,244C459.4,242 458.7,240 458,238C457.2,236 456.5,234 455.6,232C454.8,230 453.9,228 453,226C452.1,224 451.1,222 450.1,220C449.2,218 448.1,216 447.1,214C446.2,212 445.2,210 444.2,208C443.3,206 442.4,204 441.4,202C440.5,200 439.6,198 438.8,196C437.9,194 437.1,192 436.3,190C435.5,188 434.7,186 433.9,184C433.2,182 432.4,180 431.7,178C431,176 430.3,174 429.6,172C428.9,170 428.2,168 427.5,166C426.9,164 426.2,162 425.5,160C424.8,158 424,156 423.4,154C422.8,152 422.3,150 422,148C421.8,146 421.8,144 421.8,142C421.8,140 422,138 422.2,136C422.3,134 422.3,132 422.5,130C422.7,128 422.8,126 423.1,124C423.4,122 423.8,120 424.4,118C425,116 425.8,114 426.6,112C427.4,110 428.2,108 429.2,106C430.2,104 431.2,102 432.5,100C433.8,98 435.6,96 437.2,94C438.8,92 440.9,90 442.3,88C443.7,86 444.6,84 445.5,82C446.4,80 447.1,78 447.8,76C448.5,74 449,72 449.5,70C450,68 450.3,66 450.9,64C451.4,62 451.6,60 452.7,58C453.9,56 456.4,54 457.5,52C458.7,50 459,48 459.8,46C460.6,44 461.7,42 462.6,40C463.5,38 464.5,36 465.2,34C465.9,32 466.4,30 466.9,28C467.4,26 467.7,24 468.1,22C468.5,20 469,18 469.5,16C470.1,14 471.1,11 471.4,10 Z" fill="url(#gCore)" fill-opacity="1" />
<path d="M473.2,10C472.9,11 471.9,14 471.3,16C470.8,18 470.4,20 470,22C469.6,24 469.3,26 468.9,28C468.5,30 468,32 467.3,34C466.6,36 465.7,38 464.8,40C463.9,42 462.8,44 462,46C461.2,48 461,50 459.9,52C458.9,54 456.9,56 456,58C455,60 454.8,62 454.4,64C453.9,66 453.6,68 453.1,70C452.6,72 452,74 451.4,76C450.7,78 449.9,80 449,82C448,84 447,86 445.6,88C444.1,90 441.9,92 440.2,94C438.5,96 436.7,98 435.2,100C433.8,102 432.7,104 431.6,106C430.5,108 429.6,110 428.7,112C427.8,114 426.8,116 426.1,118C425.5,120 424.9,122 424.6,124C424.2,126 424,128 423.8,130C423.6,132 423.5,134 423.4,136C423.3,138 423,140 423,142C422.9,144 422.8,146 423.1,148C423.4,150 423.9,152 424.5,154C425.1,156 426,158 426.7,160C427.4,162 428.1,164 428.8,166C429.5,168 430.2,170 430.9,172C431.6,174 432.3,176 433.1,178C433.8,180 434.6,182 435.4,184C436.1,186 436.9,188 437.8,190C438.6,192 439.4,194 440.3,196C441.1,198 442.1,200 443,202C443.9,204 444.8,206 445.8,208C446.8,210 447.7,212 448.7,214C449.7,216 450.8,218 451.8,220C452.8,222 453.8,224 454.7,226C455.6,228 456.5,230 457.3,232C458.2,234 458.9,236 459.6,238C460.4,240 461.1,242 461.8,244C462.5,246 463.2,248 463.9,250C464.6,252 465.4,254 466.1,256C466.9,258 467.6,260 468.4,262C469.2,264 470,266 470.8,268C471.6,270 472.4,272 473.4,274C474.3,276 475.9,278.9 476.5,280C477,281.1 476.7,280.4 476.7,280.5 L482.2,280.5C482.2,280.4 482.5,281.1 482,280C481.4,278.9 479.8,276 478.9,274C478,272 477.2,270 476.4,268C475.6,266 474.9,264 474.2,262C473.4,260 472.7,258 472,256C471.4,254 470.6,252 470,250C469.3,248 468.7,246 468.1,244C467.5,242 466.9,240 466.2,238C465.6,236 464.9,234 464.1,232C463.3,230 462.4,228 461.5,226C460.5,224 459.4,222 458.4,220C457.3,218 456.2,216 455.1,214C454,212 453,210 452,208C451,206 450.1,204 449.1,202C448.2,200 447.3,198 446.4,196C445.5,194 444.6,192 443.7,190C442.8,188 441.9,186 441.1,184C440.3,182 439.5,180 438.7,178C437.9,176 437.1,174 436.3,172C435.5,170 434.8,168 434,166C433.2,164 432.4,162 431.6,160C430.7,158 429.7,156 429,154C428.3,152 427.6,150 427.4,148C427.2,146 427.3,144 427.5,142C427.7,140 428.1,138 428.4,136C428.6,134 428.8,132 429.2,130C429.5,128 429.8,126 430.4,124C431,122 431.9,120 433,118C434.1,116 435.7,114 437,112C438.4,110 439.7,108 441.2,106C442.7,104 444.1,102 446,100C447.9,98 450.3,96 452.4,94C454.5,92 457,90 458.7,88C460.4,86 461.6,84 462.8,82C463.9,80 464.8,78 465.6,76C466.4,74 467,72 467.4,70C467.9,68 468.1,66 468.4,64C468.6,62 468.7,60 468.9,58C469.1,56 469.2,54 469.6,52C469.9,50 470.3,48 471,46C471.6,44 472.6,42 473.4,40C474.2,38 475.2,36 475.7,34C476.3,32 476.6,30 476.9,28C477.1,26 477.1,24 477.4,22C477.7,20 478,18 478.5,16C479,14 480.1,11 480.4,10 Z" fill="#b81820" fill-opacity="1" />
<path d="M477.4,10C477.1,11 476,14 475.5,16C475,18 474.6,20 474.3,22C474,24 473.9,26 473.5,28C473.2,30 472.8,32 472.2,34C471.6,36 470.6,38 469.8,40C469,42 468,44 467.3,46C466.5,48 466.2,50 465.6,52C464.9,54 464,56 463.5,58C463,60 462.9,62 462.5,64C462.2,66 461.9,68 461.5,70C461,72 460.4,74 459.7,76C458.9,78 458.1,80 457,82C455.9,84 454.8,86 453.2,88C451.6,90 449.3,92 447.3,94C445.4,96 443.2,98 441.5,100C439.8,102 438.5,104 437.2,106C435.9,108 434.7,110 433.6,112C432.4,114 431.1,116 430.1,118C429.2,120 428.5,122 428,124C427.4,126 427.2,128 427,130C426.7,132 426.5,134 426.3,136C426.1,138 425.7,140 425.6,142C425.5,144 425.4,146 425.6,148C425.9,150 426.5,152 427.1,154C427.8,156 428.8,158 429.6,160C430.3,162 431.1,164 431.8,166C432.6,168 433.3,170 434.1,172C434.8,174 435.6,176 436.3,178C437.1,180 437.9,182 438.7,184C439.5,186 440.4,188 441.2,190C442.1,192 442.9,194 443.8,196C444.7,198 445.6,200 446.6,202C447.5,204 448.4,206 449.4,208C450.4,210 451.4,212 452.4,214C453.5,216 454.6,218 455.6,220C456.7,222 457.7,224 458.7,226C459.6,228 460.5,230 461.3,232C462.1,234 462.8,236 463.5,238C464.2,240 464.8,242 465.5,244C466.1,246 466.8,248 467.4,250C468.1,252 468.9,254 469.6,256C470.3,258 471,260 471.8,262C472.5,264 473.3,266 474.1,268C474.9,270 475.7,272 476.6,274C477.5,276 479.1,278.9 479.7,280C480.2,281.1 479.9,280.4 479.9,280.5 L482.2,280.5C482.2,280.4 482.5,281.1 482,280C481.4,278.9 479.8,276 478.9,274C478,272 477.2,270 476.4,268C475.6,266 474.9,264 474.2,262C473.4,260 472.7,258 472,256C471.4,254 470.6,252 470,250C469.3,248 468.7,246 468.1,244C467.5,242 466.9,240 466.2,238C465.6,236 464.9,234 464.1,232C463.3,230 462.4,228 461.5,226C460.5,224 459.4,222 458.4,220C457.3,218 456.2,216 455.1,214C454,212 453,210 452,208C451,206 450.1,204 449.1,202C448.2,200 447.3,198 446.4,196C445.5,194 444.6,192 443.7,190C442.8,188 441.9,186 441.1,184C440.3,182 439.5,180 438.7,178C437.9,176 437.1,174 436.3,172C435.5,170 434.8,168 434,166C433.2,164 432.4,162 431.6,160C430.7,158 429.7,156 429,154C428.3,152 427.6,150 427.4,148C427.2,146 427.3,144 427.5,142C427.7,140 428.1,138 428.4,136C428.6,134 428.8,132 429.2,130C429.5,128 429.8,126 430.4,124C431,122 431.9,120 433,118C434.1,116 435.7,114 437,112C438.4,110 439.7,108 441.2,106C442.7,104 444.1,102 446,100C447.9,98 450.3,96 452.4,94C454.5,92 457,90 458.7,88C460.4,86 461.6,84 462.8,82C463.9,80 464.8,78 465.6,76C466.4,74 467,72 467.4,70C467.9,68 468.1,66 468.4,64C468.6,62 468.7,60 468.9,58C469.1,56 469.2,54 469.6,52C469.9,50 470.3,48 471,46C471.6,44 472.6,42 473.4,40C474.2,38 475.2,36 475.7,34C476.3,32 476.6,30 476.9,28C477.1,26 477.1,24 477.4,22C477.7,20 478,18 478.5,16C479,14 480.1,11 480.4,10 Z" fill="#8a0c38" fill-opacity="1" />
</g>
<g filter="url(#speck)">
<path d="M451.3,10C451,11 450.3,14 449.6,16C448.9,18 448.1,20 447.3,22C446.5,24 445.6,26 444.7,28C443.8,30 442.8,32 441.7,34C440.7,36 439.6,38 438.5,40C437.3,42 436.1,44 434.8,46C433.5,48 433.7,50 430.7,52C427.7,54 419.8,56 416.6,58C413.5,60 412.9,62 411.7,64C410.6,66 410.2,68 409.6,70C409,72 408.5,74 408.1,76C407.7,78 407.4,80 407,82C406.5,84 406.2,86 405.6,88C404.9,90 403.7,92 403.2,94C402.7,96 402.6,98 402.4,100C402.3,102 402.2,104 402.4,106C402.6,108 402.9,110 403.4,112C403.9,114 404.7,116 405.3,118C405.9,120 406.4,122 406.8,124C407.1,126 407.3,128 407.6,130C407.8,132 408,134 408.3,136C408.6,138 408.9,140 409.1,142C409.4,144 409.7,146 410,148C410.3,150 410.6,152 411,154C411.3,156 411.6,158 412,160C412.3,162 412.7,164 413.2,166C413.6,168 414.1,170 414.6,172C415.1,174 415.6,176 416.1,178C416.7,180 417.3,182 417.9,184C418.4,186 419,188 419.7,190C420.3,192 421,194 421.8,196C422.5,198 423.4,200 424.2,202C425.1,204 426.1,206 426.9,208C427.8,210 428.6,212 429.4,214C430.2,216 431,218 431.7,220C432.5,222 433.3,224 434.1,226C435,228 435.8,230 436.7,232C437.6,234 438.6,236 439.5,238C440.5,240 441.5,242 442.4,244C443.4,246 444.4,248 445.3,250C446.3,252 447.2,254 448.2,256C449.1,258 450,260 451,262C451.9,264 452.8,266 453.8,268C454.7,270 455.7,272 456.7,274C457.6,276 459.1,278.9 459.7,280C460.2,281.1 459.9,280.4 459.9,280.5 L473,280.5C473,280.4 473.3,281.1 472.8,280C472.2,278.9 470.7,276 469.7,274C468.8,272 467.9,270 467.1,268C466.2,266 465.4,264 464.6,262C463.8,260 463,258 462.2,256C461.4,254 460.6,252 459.8,250C459,248 458.3,246 457.5,244C456.8,242 456,240 455.2,238C454.4,236 453.7,234 452.8,232C452,230 451.1,228 450.2,226C449.3,224 448.3,222 447.4,220C446.4,218 445.5,216 444.5,214C443.5,212 442.6,210 441.7,208C440.7,206 439.8,204 438.9,202C438,200 437.1,198 436.2,196C435.4,194 434.6,192 433.8,190C433,188 432.3,186 431.5,184C430.8,182 430.1,180 429.4,178C428.7,176 428,174 427.3,172C426.7,170 426,168 425.4,166C424.7,164 424.1,162 423.5,160C422.8,158 422.1,156 421.5,154C421,152 420.5,150 420.2,148C420,146 420,144 419.9,142C419.9,140 420,138 420.1,136C420.2,134 420.2,132 420.3,130C420.4,128 420.4,126 420.7,124C420.9,122 421.2,120 421.6,118C422,116 422.5,114 423.2,112C423.8,110 424.4,108 425.2,106C426,104 426.9,102 428,100C429.2,98 430.6,96 432.1,94C433.6,92 435.5,90 436.8,88C438.1,86 438.9,84 439.7,82C440.6,80 441.2,78 441.9,76C442.5,74 443,72 443.6,70C444.1,68 444.4,66 445,64C445.7,62 445.9,60 447.3,58C448.8,56 452.1,54 453.5,52C455,50 455.2,48 456.1,46C457,44 458.1,42 459,40C460,38 460.9,36 461.7,34C462.5,32 463,30 463.6,28C464.1,26 464.5,24 465,22C465.5,20 466,18 466.6,16C467.1,14 468.1,11 468.4,10 Z" fill="#000" fill-opacity="1" />
</g>
<g filter="url(#speckS)">
<path d="M468.4,10C468.1,11 467.1,14 466.6,16C466,18 465.5,20 465,22C464.5,24 464.1,26 463.6,28C463,30 462.5,32 461.7,34C460.9,36 460,38 459,40C458.1,42 457,44 456.1,46C455.2,48 455,50 453.5,52C452.1,54 448.8,56 447.3,58C445.9,60 445.7,62 445,64C444.4,66 444.1,68 443.6,70C443,72 442.5,74 441.9,76C441.2,78 440.6,80 439.7,82C438.9,84 438.1,86 436.8,88C435.5,90 433.6,92 432.1,94C430.6,96 429.2,98 428,100C426.9,102 426,104 425.2,106C424.4,108 423.8,110 423.2,112C422.5,114 422,116 421.6,118C421.2,120 420.9,122 420.7,124C420.4,126 420.4,128 420.3,130C420.2,132 420.2,134 420.1,136C420,138 419.9,140 419.9,142C420,144 420,146 420.2,148C420.5,150 421,152 421.5,154C422.1,156 422.8,158 423.5,160C424.1,162 424.7,164 425.4,166C426,168 426.7,170 427.3,172C428,174 428.7,176 429.4,178C430.1,180 430.8,182 431.5,184C432.3,186 433,188 433.8,190C434.6,192 435.4,194 436.2,196C437.1,198 438,200 438.9,202C439.8,204 440.7,206 441.7,208C442.6,210 443.5,212 444.5,214C445.5,216 446.4,218 447.4,220C448.3,222 449.3,224 450.2,226C451.1,228 452,230 452.8,232C453.7,234 454.4,236 455.2,238C456,240 456.8,242 457.5,244C458.3,246 459,248 459.8,250C460.6,252 461.4,254 462.2,256C463,258 463.8,260 464.6,262C465.4,264 466.2,266 467.1,268C467.9,270 468.8,272 469.7,274C470.7,276 472.2,278.9 472.8,280C473.3,281.1 473,280.4 473,280.5 L479.9,280.5C479.9,280.4 480.2,281.1 479.7,280C479.1,278.9 477.5,276 476.6,274C475.7,272 474.9,270 474.1,268C473.3,266 472.5,264 471.8,262C471,260 470.3,258 469.6,256C468.9,254 468.1,252 467.4,250C466.8,248 466.1,246 465.5,244C464.8,242 464.2,240 463.5,238C462.8,236 462.1,234 461.3,232C460.5,230 459.6,228 458.7,226C457.7,224 456.7,222 455.6,220C454.6,218 453.5,216 452.4,214C451.4,212 450.4,210 449.4,208C448.4,206 447.5,204 446.6,202C445.6,200 444.7,198 443.8,196C442.9,194 442.1,192 441.2,190C440.4,188 439.5,186 438.7,184C437.9,182 437.1,180 436.3,178C435.6,176 434.8,174 434.1,172C433.3,170 432.6,168 431.8,166C431.1,164 430.3,162 429.6,160C428.8,158 427.8,156 427.1,154C426.5,152 425.9,150 425.6,148C425.4,146 425.5,144 425.6,142C425.7,140 426.1,138 426.3,136C426.5,134 426.7,132 427,130C427.2,128 427.4,126 428,124C428.5,122 429.2,120 430.1,118C431.1,116 432.4,114 433.6,112C434.7,110 435.9,108 437.2,106C438.5,104 439.8,102 441.5,100C443.2,98 445.4,96 447.3,94C449.3,92 451.6,90 453.2,88C454.8,86 455.9,84 457,82C458.1,80 458.9,78 459.7,76C460.4,74 461,72 461.5,70C461.9,68 462.2,66 462.5,64C462.9,62 463,60 463.5,58C464,56 464.9,54 465.6,52C466.2,50 466.5,48 467.3,46C468,44 469,42 469.8,40C470.6,38 471.6,36 472.2,34C472.8,32 473.2,30 473.5,28C473.9,26 474,24 474.3,22C474.6,20 475,18 475.5,16C476,14 477.1,11 477.4,10 Z" fill="#000" fill-opacity="1" />
</g>
<path d="M451.6,10C451.5,10.5 451.1,12 450.8,13C450.5,14 450.3,15 449.9,16C449.6,17 449.2,18 448.8,19C448.4,20 448,21 447.6,22C447.1,23 446.7,24 446.3,25C445.8,26 445.4,27 444.9,28C444.4,29 443.9,30 443.4,31C442.9,32 442.4,33 441.9,34C441.4,35 440.8,36 440.3,37C439.7,38 439.2,39 438.6,40C438,41 437.4,42 436.8,43C436.2,44 435.6,45 434.9,46C434.2,47 433.5,48 432.8,49C432.1,50 431.5,51 430.7,52C429.8,53 430,54 427.6,55C425.2,56 418.7,57 416.2,58C413.7,59 413.5,60 412.7,61C411.9,62 411.6,63 411.2,64C410.7,65 410.3,66 409.9,67C409.6,68 409.3,69 409,70C408.7,71 408.4,72 408.2,73C407.9,74 407.7,75 407.5,76C407.3,77 407.1,78 407,79C406.8,80 406.6,81 406.4,82C406.3,83 406.1,84 405.9,85C405.6,86 405.4,87 405.1,88C404.8,89 404.3,90 403.9,91C403.6,92 403.1,93 402.9,94C402.6,95 402.6,96 402.5,97C402.4,98 402.3,99 402.3,100C402.2,101 402.2,102 402.2,103C402.3,104 402.3,105 402.4,106C402.5,107 402.6,108 402.8,109C403,110 403.2,111 403.5,112C403.8,113 404.2,114 404.6,115C404.9,116 405.3,117 405.6,118C406,119 406.3,120 406.6,121C406.8,122 407,123 407.2,124C407.4,125 407.6,126 407.7,127C407.9,128 408,129 408.1,130C408.2,131 408.3,132 408.5,133C408.6,134 408.7,135 408.9,136C409,137 409.2,138 409.3,139C409.5,140 409.6,141 409.8,142C409.9,143 410.1,144 410.2,145C410.4,146 410.5,147 410.7,148C410.8,149 411,150 411.1,151C411.3,152 411.4,153 411.6,154C411.8,155 411.9,156 412.1,157C412.2,158 412.4,159 412.6,160C412.7,161 412.9,162 413.1,163C413.3,164 413.5,165 413.7,166C413.9,167 414.1,168 414.4,169C414.6,170 414.8,171 415.1,172C415.3,173 415.6,174 415.8,175C416.1,176 416.4,177 416.6,178C416.9,179 417.2,180 417.5,181C417.8,182 418,183 418.3,184C418.6,185 418.9,186 419.2,187C419.5,188 419.8,189 420.2,190C420.5,191 420.8,192 421.1,193C421.5,194 421.8,195 422.2,196C422.6,197 423,198 423.4,199C423.8,200 424.2,201 424.7,202C425.1,203 425.6,204 426,205C426.5,206 426.9,207 427.4,208C427.8,209 428.2,210 428.6,211C429,212 429.4,213 429.8,214C430.2,215 430.6,216 431,217C431.4,218 431.7,219 432.1,220C432.5,221 432.9,222 433.3,223C433.7,224 434.1,225 434.5,226C434.9,227 435.3,228 435.8,229C436.2,230 436.6,231 437.1,232C437.5,233 438,234 438.5,235C438.9,236 439.4,237 439.9,238C440.4,239 440.9,240 441.4,241C441.8,242 442.3,243 442.8,244C443.3,245 443.8,246 444.3,247C444.8,248 445.3,249 445.8,250C446.2,251 446.7,252 447.2,253C447.7,254 448.1,255 448.6,256C449.1,257 449.6,258 450,259C450.5,260 451,261 451.4,262C451.9,263 452.4,264 452.9,265C453.3,266 453.8,267 454.3,268C454.8,269 455.2,270 455.7,271C456.2,272 456.7,273 457.2,274C457.7,275 458.4,276.5 458.7,277" fill="none" stroke="#ffd870" stroke-width="1.8" stroke-dasharray="1.6 1.6" opacity="0.9"/>
<g filter="url(#blur1)">
<path d="M413.4,60C413.2,61 412.1,64 412,66C411.9,68 412.6,70 412.7,72C412.9,74 412.9,76 412.8,78C412.7,80 412.2,82 411.9,84C411.6,86 411.4,88 411.1,90C410.8,92 410.5,94 410.3,96C410.1,98 410,100 410,102C410,104 410.2,106 410.3,108C410.5,110 410.7,112 410.9,114C411.1,116 411.4,118 411.7,120C412,122 412.4,124 412.7,126C413,128 413.3,130.7 413.5,132C413.7,133.3 413.7,133.7 413.8,134 L423.2,134C423.3,133.7 423.2,133.3 423.4,132C423.6,130.7 424,128 424.4,126C424.8,124 425.3,122 425.8,120C426.3,118 426.7,116 427.2,114C427.7,112 428.3,110 428.7,108C429.1,106 429.5,104 429.8,102C430.1,100 430.2,98 430.3,96C430.4,94 430.4,92 430.4,90C430.3,88 430.3,86 430.1,84C430,82 429.7,80 429.4,78C429.2,76 428.9,74 428.8,72C428.7,70 429.1,68 429,66C428.9,64 428.4,61 428.3,60 Z" fill="#901838" fill-opacity="0.7" />
</g>
<circle cx="420.3" cy="63.5" r="7.5" fill="#6a1458" stroke="#d03020" stroke-width="2.2" filter="url(#blur05)"/>
<g filter="url(#blur05)">
<path d="M401.5,95C401.4,96 401.1,99 401,101C401,103 401,105 401.3,107C401.6,109 402.1,111 402.7,113C403.2,115 404.2,117 404.8,119C405.4,121 405.8,123 406.2,125C406.6,127 406.8,129 407,131C407.3,133 407.6,135 407.8,137C408.1,139 408.4,141 408.7,143C409,145 409.3,147 409.6,149C409.9,151 410.2,153 410.6,155C410.9,157 411.2,159 411.5,161C411.9,163 412.3,165 412.7,167C413.2,169 413.6,171 414.1,173C414.6,175 415.2,177 415.7,179C416.3,181 416.8,183 417.4,185C418,187 418.6,189 419.3,191C419.9,193 420.6,195 421.4,197C422.2,199 423.1,201 423.9,203C424.8,205 425.7,207 426.6,209C427.4,211 428.2,213 429,215C429.8,217 430.5,219 431.3,221C432.1,223 432.9,225 433.7,227C434.6,229 435.4,231 436.4,233C437.3,235 438.2,237 439.2,239C440.1,241 441.1,243 442.1,245C443.1,247 444.1,249 445,251C446,253 446.9,255 447.9,257C448.8,259 449.8,261 450.7,263C451.7,265 452.6,267 453.6,269C454.5,271 455.5,273 456.5,275C457.5,277 458.9,279.8 459.5,281C460.1,282.2 459.9,281.8 460,282 L466,282C465.9,281.8 466.1,282.2 465.5,281C464.9,279.8 463.5,277 462.5,275C461.5,273 460.5,271 459.6,269C458.6,267 457.7,265 456.7,263C455.8,261 454.8,259 453.9,257C452.9,255 452,253 451,251C450.1,249 449.1,247 448.1,245C447.1,243 446.1,241 445.2,239C444.2,237 443.3,235 442.4,233C441.4,231 440.6,229 439.7,227C438.9,225 438.1,223 437.3,221C436.5,219 435.8,217 435,215C434.2,213 433.4,211 432.6,209C431.7,207 430.8,205 429.9,203C429.1,201 428.2,199 427.4,197C426.6,195 425.9,193 425.3,191C424.6,189 424,187 423.4,185C422.8,183 422.3,181 421.7,179C421.2,177 420.6,175 420.1,173C419.6,171 419.2,169 418.7,167C418.3,165 417.9,163 417.5,161C417.2,159 416.9,157 416.6,155C416.2,153 415.9,151 415.6,149C415.3,147 415,145 414.7,143C414.4,141 414.1,139 413.8,137C413.6,135 413.3,133 413,131C412.8,129 412.6,127 412.2,125C411.8,123 411.4,121 410.8,119C410.2,117 409.2,115 408.7,113C408.1,111 407.6,109 407.3,107C407,105 407,103 407,101C407.1,99 407.4,96 407.5,95 Z" fill="#fcb838" fill-opacity="0.9" />
</g>
<g filter="url(#speck)">
<path d="M401.5,95C401.4,96 401.1,99 401,101C401,103 401,105 401.3,107C401.6,109 402.1,111 402.7,113C403.2,115 404.2,117 404.8,119C405.4,121 405.8,123 406.2,125C406.6,127 406.8,129 407,131C407.3,133 407.6,135 407.8,137C408.1,139 408.4,141 408.7,143C409,145 409.3,147 409.6,149C409.9,151 410.2,153 410.6,155C410.9,157 411.2,159 411.5,161C411.9,163 412.3,165 412.7,167C413.2,169 413.6,171 414.1,173C414.6,175 415.2,177 415.7,179C416.3,181 416.8,183 417.4,185C418,187 418.6,189 419.3,191C419.9,193 420.6,195 421.4,197C422.2,199 423.1,201 423.9,203C424.8,205 425.7,207 426.6,209C427.4,211 428.2,213 429,215C429.8,217 430.5,219 431.3,221C432.1,223 432.9,225 433.7,227C434.6,229 435.4,231 436.4,233C437.3,235 438.2,237 439.2,239C440.1,241 441.1,243 442.1,245C443.1,247 444.1,249 445,251C446,253 446.9,255 447.9,257C448.8,259 449.8,261 450.7,263C451.7,265 452.6,267 453.6,269C454.5,271 455.5,273 456.5,275C457.5,277 458.9,279.8 459.5,281C460.1,282.2 459.9,281.8 460,282 L466,282C465.9,281.8 466.1,282.2 465.5,281C464.9,279.8 463.5,277 462.5,275C461.5,273 460.5,271 459.6,269C458.6,267 457.7,265 456.7,263C455.8,261 454.8,259 453.9,257C452.9,255 452,253 451,251C450.1,249 449.1,247 448.1,245C447.1,243 446.1,241 445.2,239C444.2,237 443.3,235 442.4,233C441.4,231 440.6,229 439.7,227C438.9,225 438.1,223 437.3,221C436.5,219 435.8,217 435,215C434.2,213 433.4,211 432.6,209C431.7,207 430.8,205 429.9,203C429.1,201 428.2,199 427.4,197C426.6,195 425.9,193 425.3,191C424.6,189 424,187 423.4,185C422.8,183 422.3,181 421.7,179C421.2,177 420.6,175 420.1,173C419.6,171 419.2,169 418.7,167C418.3,165 417.9,163 417.5,161C417.2,159 416.9,157 416.6,155C416.2,153 415.9,151 415.6,149C415.3,147 415,145 414.7,143C414.4,141 414.1,139 413.8,137C413.6,135 413.3,133 413,131C412.8,129 412.6,127 412.2,125C411.8,123 411.4,121 410.8,119C410.2,117 409.2,115 408.7,113C408.1,111 407.6,109 407.3,107C407,105 407,103 407,101C407.1,99 407.4,96 407.5,95 Z" fill="#000" fill-opacity="1" />
</g>
<g filter="url(#blur1)">
<path d="M423,168C423.3,169 423.9,172 424.4,174C424.9,176 425.5,178 426,180C426.6,182 427.2,184 427.9,186C428.6,188 429.3,190 430,192C430.8,194 431.6,196 432.4,198C433.3,200 434.1,202 435,204C435.8,206 436.7,208 437.6,210C438.5,212 439.4,214 440.4,216C441.3,218 442.3,220 443.2,222C444.2,224 445.2,226 446.1,228C447,230 447.9,232 448.8,234C449.7,236 450.5,238 451.4,240C452.3,242 453.1,244 454,246C454.9,248 455.7,250 456.6,252C457.4,254 458.3,256 459.1,258C459.9,260 460.7,262 461.6,264C462.4,266 463.2,268 464.1,270C465,272 465.9,274 466.9,276C467.9,278 469.5,281 470,282 L474.5,282C474,281 472.4,278 471.4,276C470.4,274 469.5,272 468.6,270C467.7,268 466.9,266 466.1,264C465.2,262 464.4,260 463.6,258C462.8,256 461.9,254 461.1,252C460.2,250 459.4,248 458.5,246C457.6,244 456.8,242 455.9,240C455,238 454.2,236 453.3,234C452.4,232 451.5,230 450.6,228C449.7,226 448.7,224 447.7,222C446.8,220 445.8,218 444.9,216C443.9,214 443,212 442.1,210C441.2,208 440.3,206 439.5,204C438.6,202 437.8,200 436.9,198C436.1,196 435.3,194 434.5,192C433.8,190 433.1,188 432.4,186C431.7,184 431.1,182 430.5,180C430,178 429.4,176 428.9,174C428.4,172 427.8,169 427.5,168 Z" fill="#3018b0" fill-opacity="0.9" />
</g>
<g filter="url(#blur05)">
<path d="M386.2,128C386.5,129 387.6,132 388.3,134C389,136 389.7,138 390.4,140C391,142 391.6,144 392.1,146C392.6,148 393.1,150 393.6,152C394.1,154 394.6,156 395.1,158C395.7,160 396.2,162 396.7,164C397.3,166 397.8,168 398.3,170C398.8,172 399.3,174 399.9,176C400.4,178 401,180 401.6,182C402.1,184 402.6,186 403.2,188C403.8,190 404.4,192 405.2,194C406,196 406.9,198 408,200C409.1,202 410.5,204 411.8,206C413,208 414.2,210 415.4,212C416.6,214 417.9,216 419.1,218C420.3,220 421.6,222 422.8,224C424,226 425.3,228 426.5,230C427.7,232 428.9,234 430.1,236C431.3,238 432.4,240 433.6,242C434.8,244 436,246 437.2,248C438.4,250 439.6,252 440.9,254C442.2,256 443.5,258 444.9,260C446.3,262 447.7,264 449.1,266C450.4,268 451.8,270 453,272C454.2,274 455.3,276.3 456.1,278C456.9,279.7 457.7,281.3 458,282 L465,282C464.7,281.3 463.9,279.7 463.1,278C462.3,276.3 461.2,274 460,272C458.8,270 457.4,268 456.1,266C454.7,264 453.3,262 451.9,260C450.5,258 449.2,256 447.9,254C446.6,252 445.4,250 444.2,248C443,246 441.8,244 440.6,242C439.4,240 438.3,238 437.1,236C435.9,234 434.7,232 433.5,230C432.3,228 431,226 429.8,224C428.6,222 427.3,220 426.1,218C424.9,216 423.6,214 422.4,212C421.2,210 420,208 418.8,206C417.5,204 416.1,202 415,200C413.9,198 413,196 412.2,194C411.4,192 410.8,190 410.2,188C409.6,186 409.1,184 408.6,182C408,180 407.4,178 406.9,176C406.3,174 405.8,172 405.3,170C404.8,168 404.3,166 403.7,164C403.2,162 402.7,160 402.1,158C401.6,156 401.1,154 400.6,152C400.1,150 399.6,148 399.1,146C398.6,144 398,142 397.4,140C396.7,138 396,136 395.3,134C394.6,132 393.5,129 393.2,128 Z" fill="#d02818" fill-opacity="0.8" />
</g>
<g filter="url(#blur05)">
<path d="M385.2,128C385.5,129 386.6,132 387.3,134C388,136 388.7,138 389.4,140C390,142 390.6,144 391.1,146C391.6,148 392.1,150 392.6,152C393.1,154 393.6,156 394.1,158C394.7,160 395.2,162 395.7,164C396.3,166 396.8,168 397.3,170C397.8,172 398.3,174 398.9,176C399.4,178 400,180 400.6,182C401.1,184 401.6,186 402.2,188C402.8,190 403.4,192 404.2,194C405,196 405.9,198 407,200C408.1,202 409.5,204 410.8,206C412,208 413.2,210 414.4,212C415.6,214 416.9,216 418.1,218C419.3,220 420.6,222 421.8,224C423,226 424.3,228 425.5,230C426.7,232 427.9,234 429.1,236C430.3,238 431.4,240 432.6,242C433.8,244 435,246 436.2,248C437.4,250 438.6,252 439.9,254C441.2,256 442.5,258 443.9,260C445.3,262 446.7,264 448.1,266C449.4,268 450.8,270 452,272C453.2,274 454.3,276.3 455.1,278C455.9,279.7 456.7,281.3 457,282 L461.5,282C461.2,281.3 460.4,279.7 459.6,278C458.8,276.3 457.7,274 456.5,272C455.3,270 453.9,268 452.6,266C451.2,264 449.8,262 448.4,260C447,258 445.7,256 444.4,254C443.1,252 441.9,250 440.7,248C439.5,246 438.3,244 437.1,242C435.9,240 434.8,238 433.6,236C432.4,234 431.2,232 430,230C428.8,228 427.5,226 426.3,224C425.1,222 423.8,220 422.6,218C421.4,216 420.1,214 418.9,212C417.7,210 416.5,208 415.3,206C414,204 412.6,202 411.5,200C410.4,198 409.5,196 408.7,194C407.9,192 407.3,190 406.7,188C406.1,186 405.6,184 405.1,182C404.5,180 403.9,178 403.4,176C402.8,174 402.3,172 401.8,170C401.3,168 400.8,166 400.2,164C399.7,162 399.2,160 398.6,158C398.1,156 397.6,154 397.1,152C396.6,150 396.1,148 395.6,146C395.1,144 394.5,142 393.9,140C393.2,138 392.5,136 391.8,134C391.1,132 390,129 389.7,128 Z" fill="#ffb030" fill-opacity="1" />
</g>
<g filter="url(#speck)">
<path d="M385.2,128C385.5,129 386.6,132 387.3,134C388,136 388.7,138 389.4,140C390,142 390.6,144 391.1,146C391.6,148 392.1,150 392.6,152C393.1,154 393.6,156 394.1,158C394.7,160 395.2,162 395.7,164C396.3,166 396.8,168 397.3,170C397.8,172 398.3,174 398.9,176C399.4,178 400,180 400.6,182C401.1,184 401.6,186 402.2,188C402.8,190 403.4,192 404.2,194C405,196 405.9,198 407,200C408.1,202 409.5,204 410.8,206C412,208 413.2,210 414.4,212C415.6,214 416.9,216 418.1,218C419.3,220 420.6,222 421.8,224C423,226 424.3,228 425.5,230C426.7,232 427.9,234 429.1,236C430.3,238 431.4,240 432.6,242C433.8,244 435,246 436.2,248C437.4,250 438.6,252 439.9,254C441.2,256 442.5,258 443.9,260C445.3,262 446.7,264 448.1,266C449.4,268 450.8,270 452,272C453.2,274 454.3,276.3 455.1,278C455.9,279.7 456.7,281.3 457,282 L461.5,282C461.2,281.3 460.4,279.7 459.6,278C458.8,276.3 457.7,274 456.5,272C455.3,270 453.9,268 452.6,266C451.2,264 449.8,262 448.4,260C447,258 445.7,256 444.4,254C443.1,252 441.9,250 440.7,248C439.5,246 438.3,244 437.1,242C435.9,240 434.8,238 433.6,236C432.4,234 431.2,232 430,230C428.8,228 427.5,226 426.3,224C425.1,222 423.8,220 422.6,218C421.4,216 420.1,214 418.9,212C417.7,210 416.5,208 415.3,206C414,204 412.6,202 411.5,200C410.4,198 409.5,196 408.7,194C407.9,192 407.3,190 406.7,188C406.1,186 405.6,184 405.1,182C404.5,180 403.9,178 403.4,176C402.8,174 402.3,172 401.8,170C401.3,168 400.8,166 400.2,164C399.7,162 399.2,160 398.6,158C398.1,156 397.6,154 397.1,152C396.6,150 396.1,148 395.6,146C395.1,144 394.5,142 393.9,140C393.2,138 392.5,136 391.8,134C391.1,132 390,129 389.7,128 Z" fill="#000" fill-opacity="1" />
</g>
</g>
<clipPath id="clipe"><rect x="35.5" y="299.2" width="101.7" height="254.3"/></clipPath><g clip-path="url(#clipe)">
<rect x="35.5" y="299.2" width="101.7" height="254.3" fill="url(#gBrown)"/>
<g filter="url(#blur8)">
<path d="M-72,380C-72.5,381 -74,384 -74.8,386C-75.6,388 -76.4,390 -77,392C-77.6,394 -77.9,396 -78.2,398C-78.5,400 -78.8,402 -79,404C-79.2,406 -79.4,408 -79.5,410C-79.6,412 -79.8,414 -79.9,416C-79.9,418 -80,420 -80,422C-80,424 -80,426 -80,428C-80,430 -80,432 -79.9,434C-79.9,436 -79.8,438 -79.7,440C-79.6,442 -79.5,444 -79.3,446C-79.2,448 -79,450 -78.8,452C-78.7,454 -78.6,456 -78.4,458C-78.1,460 -77.9,462 -77.3,464C-76.7,466 -75.6,468 -74.6,470C-73.5,472 -72.1,474 -71.1,476C-70.1,478 -69.5,480 -68.7,482C-67.9,484 -67.3,486 -66.5,488C-65.8,490 -65,492 -64.2,494C-63.4,496 -62.6,498 -61.8,500C-61,502 -60.1,504 -59.2,506C-58.3,508 -57.4,510 -56.4,512C-55.4,514 -54.3,516 -53.3,518C-52.2,520 -51.1,522 -50,524C-48.9,526 -47.7,528 -46.5,530C-45.3,532 -44,534 -42.9,536C-41.7,538 -40.6,540 -39.6,542C-38.6,544 -37.7,546 -36.8,548C-35.8,550 -35,552 -34,554C-33,556 -32,558 -31,560C-30,562 -29,564 -28,566C-27,568 -25.8,570.5 -25,572C-24.2,573.5 -23.8,574.5 -23.5,575 L132.5,575C132.2,574.5 131.8,573.5 131,572C130.2,570.5 129,568 128,566C127,564 126,562 125,560C124,558 123,556 122,554C121,552 120.2,550 119.2,548C118.3,546 117.4,544 116.4,542C115.4,540 114.3,538 113.1,536C112,534 110.7,532 109.5,530C108.3,528 107.1,526 106,524C104.9,522 103.8,520 102.7,518C101.7,516 100.6,514 99.6,512C98.6,510 97.7,508 96.8,506C95.9,504 95,502 94.2,500C93.4,498 92.6,496 91.8,494C91,492 90.2,490 89.5,488C88.7,486 88.1,484 87.3,482C86.5,480 85.9,478 84.9,476C83.9,474 82.5,472 81.4,470C80.4,468 79.3,466 78.7,464C78.1,462 77.9,460 77.6,458C77.4,456 77.3,454 77.2,452C77,450 76.8,448 76.7,446C76.5,444 76.4,442 76.3,440C76.2,438 76.1,436 76.1,434C76,432 76,430 76,428C76,426 76,424 76,422C76,420 76.1,418 76.1,416C76.2,414 76.4,412 76.5,410C76.6,408 76.8,406 77,404C77.2,402 77.5,400 77.8,398C78.1,396 78.4,394 79,392C79.6,390 80.4,388 81.2,386C82,384 83.5,381 84,380 Z" fill="#b23c12" fill-opacity="0.9" />
</g>
<g filter="url(#blur4)">
<path d="M85.2,410C84.6,411 82.7,414 81.4,416C80,418 78.6,420 77.3,422C76.1,424 75,426 74,428C73,430 72.3,432 71.6,434C70.9,436 70.3,438 69.7,440C69.2,442 68.7,444 68.4,446C68,448 67.7,450 67.4,452C67.2,454 67.1,456 67,458C66.9,460 66.8,462 66.8,464C66.8,466 66.9,468 67,470C67.1,472 67.3,474 67.5,476C67.8,478 68.1,480 68.5,482C68.8,484 69.2,486 69.6,488C70,490 70.4,492 70.9,494C71.3,496 71.8,498 72.3,500C72.8,502 73.4,504 73.9,506C74.4,508 75,510 75.6,512C76.1,514 76.7,516 77.3,518C77.9,520 78.6,522 79.2,524C79.8,526 80.4,528 81,530C81.6,532 82.1,534 82.7,536C83.3,538 83.8,540 84.4,542C84.9,544 85.5,546 86.1,548C86.7,550 87.2,552 88,554C88.8,556 90.3,558.7 90.9,560C91.6,561.3 91.8,561.7 92,562 L133,562C132.8,561.7 132.7,561.3 132,560C131.3,558.7 130,556 129,554C128,552 127.2,550 126.2,548C125.3,546 124.4,544 123.4,542C122.4,540 121.3,538 120.1,536C119,534 117.7,532 116.5,530C115.3,528 114.1,526 113,524C111.9,522 110.8,520 109.7,518C108.7,516 107.6,514 106.6,512C105.6,510 104.7,508 103.8,506C102.9,504 102,502 101.2,500C100.4,498 99.6,496 98.8,494C98,492 97.2,490 96.5,488C95.7,486 95.1,484 94.3,482C93.5,480 92.9,478 91.9,476C90.9,474 89.5,472 88.4,470C87.4,468 86.3,466 85.7,464C85.1,462 84.9,460 84.6,458C84.4,456 84.3,454 84.2,452C84,450 83.8,448 83.7,446C83.5,444 83.4,442 83.3,440C83.2,438 83.1,436 83.1,434C83,432 83,430 83,428C83,426 83,424 83,422C83,420 83.1,418 83.1,416C83.2,414 83.4,411 83.5,410 Z" fill="#3c8a2c" fill-opacity="0.88" />
</g>
<g filter="url(#blur05)">
<path d="M134.4,291.2C133.9,292.2 132.5,295.2 131.5,297.2C130.4,299.2 129.3,301.2 128.2,303.2C127,305.2 125.7,307.2 124.6,309.2C123.4,311.2 122.2,313.2 121,315.2C119.9,317.2 118.8,319.2 117.7,321.2C116.6,323.2 115.6,325.2 114.5,327.2C113.4,329.2 112.2,331.2 111.1,333.2C110,335.2 108.9,337.2 107.9,339.2C106.8,341.2 105.7,343.2 104.7,345.2C103.7,347.2 102.6,349.2 101.7,351.2C100.7,353.2 99.7,355.2 98.8,357.2C97.9,359.2 97.1,361.2 96.2,363.2C95.3,365.2 94.4,367.2 93.5,369.2C92.5,371.2 91.4,373.2 90.4,375.2C89.4,377.2 88.4,379.2 87.4,381.2C86.5,383.2 85.5,385.2 84.7,387.2C83.9,389.2 83.2,391.2 82.7,393.2C82.2,395.2 81.9,397.2 81.6,399.2C81.3,401.2 81.1,403.2 80.9,405.2C80.7,407.2 80.5,409.2 80.4,411.2C80.3,413.2 80.2,415.2 80.1,417.2C80,419.2 80,421.2 80,423.2C80,425.2 80,427.2 80,429.2C80,431.2 80.1,433.2 80.1,435.2C80.2,437.2 80.3,439.2 80.4,441.2C80.5,443.2 80.6,445.2 80.8,447.2C80.9,449.2 81.1,451.2 81.2,453.2C81.4,455.2 81.5,457.2 81.8,459.2C82.1,461.2 82.3,463.2 83.1,465.2C83.8,467.2 85.1,469.2 86.2,471.2C87.3,473.2 88.5,475.2 89.4,477.2C90.3,479.2 91,481.2 91.7,483.2C92.5,485.2 93.2,487.2 93.9,489.2C94.7,491.2 95.5,493.2 96.3,495.2C97.1,497.2 97.9,499.2 98.7,501.2C99.6,503.2 100.4,505.2 101.3,507.2C102.3,509.2 103.2,511.2 104.2,513.2C105.2,515.2 106.3,517.2 107.4,519.2C108.5,521.2 109.5,523.2 110.7,525.2C111.8,527.2 113.1,529.2 114.3,531.2C115.4,533.2 116.7,535.2 117.8,537.2C119,539.2 120,541.2 121,543.2C122,545.2 122.9,547.2 123.8,549.2C124.7,551.2 125.6,553.2 126.6,555.2C127.6,557.2 129.1,560.2 129.6,561.2C130.1,562.2 129.7,561.5 129.7,561.5 L229.6,561.5C229.5,561.5 230.8,562.2 229.1,561.2C227.4,560.2 222.7,557.2 219.5,555.2C216.3,553.2 213.1,551.2 209.9,549.2C206.7,547.2 203.5,545.2 200.3,543.2C197.1,541.2 193.9,539.2 190.7,537.2C187.5,535.2 184.3,533.2 181.1,531.2C177.9,529.2 174.7,527.2 171.5,525.2C168.3,523.2 165.1,521.2 161.9,519.2C158.7,517.2 155.5,515.2 152.3,513.2C149.2,511.2 145.6,509.2 143,507.2C140.4,505.2 138.8,503.2 136.7,501.2C134.6,499.2 132.2,497.2 130.4,495.2C128.6,493.2 127.1,491.2 125.6,489.2C124.1,487.2 122.8,485.2 121.4,483.2C120.1,481.2 118.9,479.2 117.4,477.2C115.8,475.2 113.6,473.2 112.2,471.2C110.8,469.2 109.7,467.2 109,465.2C108.2,463.2 108.1,461.2 107.7,459.2C107.3,457.2 107,455.2 106.6,453.2C106.2,451.2 105.7,449.2 105.3,447.2C104.9,445.2 104.5,443.2 104.2,441.2C103.9,439.2 103.6,437.2 103.3,435.2C103.1,433.2 102.8,431.2 102.7,429.2C102.5,427.2 102.4,425.2 102.3,423.2C102.2,421.2 102.1,419.2 102.1,417.2C102.1,415.2 102.1,413.2 102.2,411.2C102.2,409.2 102.4,407.2 102.6,405.2C102.8,403.2 103.1,401.2 103.4,399.2C103.7,397.2 104.1,395.2 104.5,393.2C105,391.2 105.5,389.2 106.1,387.2C106.7,385.2 107.4,383.2 108.2,381.2C109,379.2 109.8,377.2 111,375.2C112.2,373.2 113.8,371.2 115.2,369.2C116.7,367.2 118,365.2 119.5,363.2C120.9,361.2 122.5,359.2 124.1,357.2C125.7,355.2 127.3,353.2 128.9,351.2C130.5,349.2 132,347.2 133.6,345.2C135.2,343.2 136.9,341.2 138.7,339.2C140.5,337.2 142.9,335.2 144.5,333.2C146.1,331.2 146.9,329.2 148.5,327.2C150.1,325.2 152.2,323.2 154,321.2C155.9,319.2 157.7,317.2 159.5,315.2C161.4,313.2 163.2,311.2 165,309.2C166.8,307.2 168.6,305.2 170.5,303.2C172.3,301.2 174.1,299.2 175.9,297.2C177.7,295.2 180.5,292.2 181.4,291.2 Z" fill="#f4ae36" fill-opacity="1" />
</g>
<g filter="url(#blur1)">
<path d="M151.3,291.2C150.7,292.2 148.8,295.2 147.5,297.2C146.1,299.2 144.8,301.2 143.4,303.2C142,305.2 140.5,307.2 139.1,309.2C137.7,311.2 136.3,313.2 134.9,315.2C133.5,317.2 132.2,319.2 130.8,321.2C129.4,323.2 128,325.2 126.7,327.2C125.4,329.2 124.4,331.2 123.1,333.2C121.9,335.2 120.3,337.2 119,339.2C117.6,341.2 116.4,343.2 115.1,345.2C113.9,347.2 112.7,349.2 111.5,351.2C110.3,353.2 109.1,355.2 107.9,357.2C106.8,359.2 105.7,361.2 104.6,363.2C103.5,365.2 102.4,367.2 101.3,369.2C100.2,371.2 98.9,373.2 97.8,375.2C96.7,377.2 95.8,379.2 94.9,381.2C94,383.2 93.1,385.2 92.4,387.2C91.7,389.2 91,391.2 90.6,393.2C90.1,395.2 89.8,397.2 89.5,399.2C89.2,401.2 88.9,403.2 88.7,405.2C88.5,407.2 88.4,409.2 88.2,411.2C88.1,413.2 88,415.2 88,417.2C88,419.2 88,421.2 88,423.2C88,425.2 88.1,427.2 88.2,429.2C88.2,431.2 88.3,433.2 88.5,435.2C88.6,437.2 88.8,439.2 88.9,441.2C89.1,443.2 89.4,445.2 89.6,447.2C89.8,449.2 90.1,451.2 90.4,453.2C90.6,455.2 90.8,457.2 91.1,459.2C91.5,461.2 91.6,463.2 92.4,465.2C93.1,467.2 94.4,469.2 95.6,471.2C96.7,473.2 98.3,475.2 99.5,477.2C100.6,479.2 101.5,481.2 102.4,483.2C103.4,485.2 104.3,487.2 105.3,489.2C106.4,491.2 107.4,493.2 108.6,495.2C109.7,497.2 111.1,499.2 112.4,501.2C113.7,503.2 114.8,505.2 116.3,507.2C117.9,509.2 119.8,511.2 121.5,513.2C123.3,515.2 125.2,517.2 127,519.2C128.9,521.2 130.7,523.2 132.6,525.2C134.5,527.2 136.4,529.2 138.3,531.2C140.2,533.2 142.2,535.2 144.1,537.2C146,539.2 147.8,541.2 149.6,543.2C151.4,545.2 153,547.2 154.8,549.2C156.5,551.2 158.3,553.2 160,555.2C161.8,557.2 164.5,560.2 165.4,561.2C166.4,562.2 165.7,561.5 165.7,561.5 L191.7,561.5C191.6,561.5 192.5,562.2 191.3,561.2C190.1,560.2 186.6,557.2 184.2,555.2C181.9,553.2 179.5,551.2 177.2,549.2C174.9,547.2 172.5,545.2 170.2,543.2C167.8,541.2 165.4,539.2 163,537.2C160.6,535.2 158.1,533.2 155.7,531.2C153.3,529.2 150.8,527.2 148.4,525.2C146,523.2 143.6,521.2 141.2,519.2C138.8,517.2 136.4,515.2 134,513.2C131.7,511.2 129.1,509.2 127.2,507.2C125.2,505.2 123.9,503.2 122.2,501.2C120.6,499.2 118.9,497.2 117.4,495.2C116,493.2 114.8,491.2 113.6,489.2C112.4,487.2 111.3,485.2 110.2,483.2C109,481.2 108.1,479.2 106.8,477.2C105.4,475.2 103.6,473.2 102.3,471.2C101.1,469.2 99.9,467.2 99.1,465.2C98.4,463.2 98.2,461.2 97.8,459.2C97.5,457.2 97.3,455.2 97,453.2C96.6,451.2 96.3,449.2 96,447.2C95.7,445.2 95.4,443.2 95.1,441.2C94.9,439.2 94.7,437.2 94.5,435.2C94.3,433.2 94.2,431.2 94.1,429.2C93.9,427.2 93.8,425.2 93.8,423.2C93.7,421.2 93.7,419.2 93.7,417.2C93.7,415.2 93.8,413.2 93.9,411.2C94,409.2 94.2,407.2 94.4,405.2C94.6,403.2 94.8,401.2 95.1,399.2C95.4,397.2 95.8,395.2 96.2,393.2C96.7,391.2 97.3,389.2 97.9,387.2C98.6,385.2 99.4,383.2 100.3,381.2C101.2,379.2 102,377.2 103.2,375.2C104.3,373.2 105.7,371.2 107,369.2C108.2,367.2 109.4,365.2 110.6,363.2C111.9,361.2 113.2,359.2 114.5,357.2C115.8,355.2 117.2,353.2 118.5,351.2C119.9,349.2 121.2,347.2 122.6,345.2C124,343.2 125.5,341.2 127,339.2C128.5,337.2 130.4,335.2 131.8,333.2C133.2,331.2 134.2,329.2 135.6,327.2C137,325.2 138.7,323.2 140.2,321.2C141.8,319.2 143.4,317.2 144.9,315.2C146.5,313.2 148.1,311.2 149.6,309.2C151.2,307.2 152.8,305.2 154.4,303.2C155.9,301.2 157.5,299.2 159,297.2C160.5,295.2 162.8,292.2 163.5,291.2 Z" fill="#e2581e" fill-opacity="0.8" />
<path d="M165.4,291.2C164.6,292.2 162.4,295.2 160.8,297.2C159.2,299.2 157.7,301.2 156.1,303.2C154.5,305.2 152.9,307.2 151.2,309.2C149.6,311.2 148,313.2 146.5,315.2C144.9,317.2 143.3,319.2 141.7,321.2C140.1,323.2 138.4,325.2 136.9,327.2C135.5,329.2 134.6,331.2 133.2,333.2C131.7,335.2 129.8,337.2 128.2,339.2C126.7,341.2 125.2,343.2 123.8,345.2C122.3,347.2 121,349.2 119.6,351.2C118.3,353.2 116.8,355.2 115.5,357.2C114.2,359.2 112.8,361.2 111.5,363.2C110.3,365.2 109.1,367.2 107.8,369.2C106.6,371.2 105.1,373.2 104,375.2C102.9,377.2 102,379.2 101.1,381.2C100.3,383.2 99.5,385.2 98.8,387.2C98.1,389.2 97.6,391.2 97.1,393.2C96.6,395.2 96.3,397.2 96,399.2C95.7,401.2 95.4,403.2 95.2,405.2C95,407.2 94.9,409.2 94.8,411.2C94.7,413.2 94.6,415.2 94.6,417.2C94.6,419.2 94.6,421.2 94.7,423.2C94.7,425.2 94.8,427.2 95,429.2C95.1,431.2 95.2,433.2 95.4,435.2C95.6,437.2 95.8,439.2 96.1,441.2C96.3,443.2 96.7,445.2 97,447.2C97.3,449.2 97.6,451.2 98,453.2C98.3,455.2 98.5,457.2 98.9,459.2C99.2,461.2 99.4,463.2 100.2,465.2C100.9,467.2 102.1,469.2 103.4,471.2C104.7,473.2 106.5,475.2 107.9,477.2C109.2,479.2 110.2,481.2 111.3,483.2C112.5,485.2 113.6,487.2 114.8,489.2C116.1,491.2 117.3,493.2 118.8,495.2C120.3,497.2 122.1,499.2 123.8,501.2C125.4,503.2 126.8,505.2 128.8,507.2C130.9,509.2 133.6,511.2 136,513.2C138.4,515.2 140.9,517.2 143.4,519.2C145.9,521.2 148.3,523.2 150.8,525.2C153.3,527.2 155.9,529.2 158.4,531.2C160.9,533.2 163.4,535.2 165.9,537.2C168.4,539.2 170.9,541.2 173.4,543.2C175.8,545.2 178.2,547.2 180.6,549.2C183.1,551.2 185.5,553.2 187.9,555.2C190.4,557.2 194,560.2 195.3,561.2C196.6,562.2 195.6,561.5 195.7,561.5 L229.6,561.5C229.5,561.5 230.8,562.2 229.1,561.2C227.4,560.2 222.7,557.2 219.5,555.2C216.3,553.2 213.1,551.2 209.9,549.2C206.7,547.2 203.5,545.2 200.3,543.2C197.1,541.2 193.9,539.2 190.7,537.2C187.5,535.2 184.3,533.2 181.1,531.2C177.9,529.2 174.7,527.2 171.5,525.2C168.3,523.2 165.1,521.2 161.9,519.2C158.7,517.2 155.5,515.2 152.3,513.2C149.2,511.2 145.6,509.2 143,507.2C140.4,505.2 138.8,503.2 136.7,501.2C134.6,499.2 132.2,497.2 130.4,495.2C128.6,493.2 127.1,491.2 125.6,489.2C124.1,487.2 122.8,485.2 121.4,483.2C120.1,481.2 118.9,479.2 117.4,477.2C115.8,475.2 113.6,473.2 112.2,471.2C110.8,469.2 109.7,467.2 109,465.2C108.2,463.2 108.1,461.2 107.7,459.2C107.3,457.2 107,455.2 106.6,453.2C106.2,451.2 105.7,449.2 105.3,447.2C104.9,445.2 104.5,443.2 104.2,441.2C103.9,439.2 103.6,437.2 103.3,435.2C103.1,433.2 102.8,431.2 102.7,429.2C102.5,427.2 102.4,425.2 102.3,423.2C102.2,421.2 102.1,419.2 102.1,417.2C102.1,415.2 102.1,413.2 102.2,411.2C102.2,409.2 102.4,407.2 102.6,405.2C102.8,403.2 103.1,401.2 103.4,399.2C103.7,397.2 104.1,395.2 104.5,393.2C105,391.2 105.5,389.2 106.1,387.2C106.7,385.2 107.4,383.2 108.2,381.2C109,379.2 109.8,377.2 111,375.2C112.2,373.2 113.8,371.2 115.2,369.2C116.7,367.2 118,365.2 119.5,363.2C120.9,361.2 122.5,359.2 124.1,357.2C125.7,355.2 127.3,353.2 128.9,351.2C130.5,349.2 132,347.2 133.6,345.2C135.2,343.2 136.9,341.2 138.7,339.2C140.5,337.2 142.9,335.2 144.5,333.2C146.1,331.2 146.9,329.2 148.5,327.2C150.1,325.2 152.2,323.2 154,321.2C155.9,319.2 157.7,317.2 159.5,315.2C161.4,313.2 163.2,311.2 165,309.2C166.8,307.2 168.6,305.2 170.5,303.2C172.3,301.2 174.1,299.2 175.9,297.2C177.7,295.2 180.5,292.2 181.4,291.2 Z" fill="#fcd432" fill-opacity="0.95" />
</g>
<path d="M142.5,291C142.3,291.3 141.7,292.3 141.4,293C141,293.7 140.6,294.3 140.3,295C139.9,295.7 139.5,296.3 139.1,297C138.8,297.7 138.4,298.3 138,299C137.6,299.7 137.2,300.3 136.7,301C136.3,301.7 135.9,302.3 135.5,303C135.1,303.7 134.6,304.3 134.2,305C133.7,305.7 133.3,306.3 132.9,307C132.4,307.7 132,308.3 131.6,309C131.1,309.7 130.7,310.3 130.3,311C129.8,311.7 129.4,312.3 129,313C128.6,313.7 128.1,314.3 127.7,315C127.3,315.7 126.9,316.3 126.5,317C126.1,317.7 125.7,318.3 125.3,319C124.8,319.7 124.4,320.3 124,321C123.6,321.7 123.2,322.3 122.8,323C122.4,323.7 122,324.3 121.6,325C121.2,325.7 120.8,326.3 120.4,327C120,327.7 119.6,328.3 119.2,329C118.8,329.7 118.4,330.3 118,331C117.7,331.7 117.3,332.3 116.9,333C116.5,333.7 116.1,334.3 115.7,335C115.3,335.7 114.9,336.3 114.5,337C114.1,337.7 113.6,338.3 113.2,339C112.8,339.7 112.4,340.3 112,341C111.6,341.7 111.2,342.3 110.9,343C110.5,343.7 110.1,344.3 109.7,345C109.4,345.7 109,346.3 108.6,347C108.2,347.7 107.9,348.3 107.5,349C107.1,349.7 106.8,350.3 106.4,351C106,351.7 105.7,352.3 105.3,353C105,353.7 104.6,354.3 104.2,355C103.9,355.7 103.5,356.3 103.2,357C102.9,357.7 102.5,358.3 102.2,359C101.9,359.7 101.5,360.3 101.2,361C100.9,361.7 100.6,362.3 100.2,363C99.9,363.7 99.6,364.3 99.3,365C99,365.7 98.6,366.3 98.3,367C98,367.7 97.6,368.3 97.3,369C96.9,369.7 96.6,370.3 96.2,371C95.8,371.7 95.4,372.3 95.1,373C94.7,373.7 94.3,374.3 94,375C93.6,375.7 93.3,376.3 93,377C92.6,377.7 92.3,378.3 92,379C91.7,379.7 91.4,380.3 91.1,381C90.8,381.7 90.4,382.3 90.1,383C89.8,383.7 89.5,384.3 89.2,385C88.9,385.7 88.7,386.3 88.4,387C88.1,387.7 87.9,388.3 87.6,389C87.4,389.7 87.2,390.3 87,391C86.8,391.7 86.6,392.3 86.5,393C86.3,393.7 86.2,394.3 86,395C85.9,395.7 85.8,396.3 85.7,397C85.6,397.7 85.4,398.3 85.3,399C85.2,399.7 85.2,400.3 85.1,401C85,401.7 84.9,402.3 84.8,403C84.8,403.7 84.7,404.3 84.6,405C84.6,405.7 84.5,406.3 84.4,407C84.4,407.7 84.3,408.3 84.3,409C84.2,409.7 84.2,410.3 84.1,411C84.1,411.7 84,412.3 84,413C84,413.7 83.9,414.3 83.9,415C83.9,415.7 83.9,416.3 83.8,417C83.8,417.7 83.8,418.3 83.8,419C83.8,419.7 83.8,420.3 83.8,421C83.8,421.7 83.8,422.3 83.8,423C83.8,423.7 83.8,424.3 83.8,425C83.8,425.7 83.8,426.3 83.8,427C83.8,427.7 83.8,428.3 83.8,429C83.9,429.7 83.9,430.3 83.9,431C83.9,431.7 83.9,432.3 84,433C84,433.7 84,434.3 84.1,435C84.1,435.7 84.1,436.3 84.2,437C84.2,437.7 84.2,438.3 84.3,439C84.3,439.7 84.4,440.3 84.4,441C84.5,441.7 84.5,442.3 84.6,443C84.6,443.7 84.7,444.3 84.7,445C84.8,445.7 84.9,446.3 84.9,447C85,447.7 85.1,448.3 85.1,449C85.2,449.7 85.3,450.3 85.3,451C85.4,451.7 85.5,452.3 85.5,453C85.6,453.7 85.7,454.3 85.7,455C85.8,455.7 85.9,456.3 85.9,457C86,457.7 86.1,458.3 86.2,459C86.3,459.7 86.4,460.3 86.5,461C86.6,461.7 86.7,462.3 86.9,463C87,463.7 87.2,464.3 87.4,465C87.6,465.7 87.9,466.3 88.2,467C88.5,467.7 88.8,468.3 89.2,469C89.6,469.7 90.1,470.3 90.5,471C90.9,471.7 91.4,472.3 91.8,473C92.2,473.7 92.7,474.3 93.1,475C93.4,475.7 93.8,476.3 94.1,477C94.4,477.7 94.7,478.3 95,479C95.3,479.7 95.6,480.3 95.9,481C96.2,481.7 96.4,482.3 96.7,483C97,483.7 97.3,484.3 97.5,485C97.8,485.7 98.1,486.3 98.4,487C98.7,487.7 98.9,488.3 99.2,489C99.5,489.7 99.8,490.3 100.1,491C100.4,491.7 100.7,492.3 101,493C101.3,493.7 101.7,494.3 102,495C102.3,495.7 102.6,496.3 103,497C103.3,497.7 103.6,498.3 104,499C104.3,499.7 104.7,500.3 105.1,501C105.4,501.7 105.8,502.3 106.2,503C106.5,503.7 106.9,504.3 107.2,505C107.6,505.7 107.9,506.3 108.3,507C108.7,507.7 109.1,508.3 109.5,509C110,509.7 110.4,510.3 110.9,511C111.3,511.7 111.8,512.3 112.3,513C112.7,513.7 113.2,514.3 113.7,515C114.1,515.7 114.6,516.3 115.1,517C115.6,517.7 116,518.3 116.5,519C117,519.7 117.5,520.3 117.9,521C118.4,521.7 118.9,522.3 119.4,523C119.9,523.7 120.4,524.3 120.9,525C121.4,525.7 121.9,526.3 122.4,527C122.9,527.7 123.4,528.3 123.9,529C124.4,529.7 124.9,530.3 125.5,531C126,531.7 126.5,532.3 127,533C127.5,533.7 128.1,534.3 128.6,535C129.1,535.7 129.6,536.3 130.1,537C130.6,537.7 131.1,538.3 131.6,539C132,539.7 132.5,540.3 133,541C133.5,541.7 133.9,542.3 134.4,543C134.8,543.7 135.3,544.3 135.7,545C136.1,545.7 136.6,546.3 137,547C137.4,547.7 137.9,548.3 138.3,549C138.7,549.7 139.2,550.3 139.6,551C140,551.7 140.5,552.3 140.9,553C141.3,553.7 141.8,554.3 142.2,555C142.7,555.7 143.2,556.3 143.6,557C144.1,557.7 144.8,558.7 145,559" fill="none" stroke="#d24a1c" stroke-width="5" stroke-dasharray="1.3 2.4" opacity="0.6" filter="url(#blur05)"/>
<path d="M158,291C157.8,291.3 157.1,292.3 156.6,293C156.2,293.7 155.7,294.3 155.2,295C154.8,295.7 154.3,296.3 153.8,297C153.4,297.7 152.9,298.3 152.4,299C151.9,299.7 151.4,300.3 150.9,301C150.5,301.7 150,302.3 149.5,303C149,303.7 148.5,304.3 148,305C147.5,305.7 146.9,306.3 146.4,307C145.9,307.7 145.4,308.3 144.9,309C144.4,309.7 143.9,310.3 143.4,311C142.9,311.7 142.4,312.3 141.9,313C141.4,313.7 140.9,314.3 140.4,315C140,315.7 139.5,316.3 139,317C138.5,317.7 138,318.3 137.5,319C137,319.7 136.5,320.3 136,321C135.5,321.7 135,322.3 134.5,323C134.1,323.7 133.6,324.3 133.1,325C132.6,325.7 132.1,326.3 131.6,327C131.2,327.7 130.7,328.3 130.2,329C129.8,329.7 129.4,330.3 129,331C128.7,331.7 128.3,332.3 127.9,333C127.5,333.7 127.1,334.3 126.6,335C126.1,335.7 125.6,336.3 125,337C124.5,337.7 124,338.3 123.5,339C122.9,339.7 122.4,340.3 122,341C121.5,341.7 121,342.3 120.6,343C120.1,343.7 119.7,344.3 119.3,345C118.9,345.7 118.4,346.3 118,347C117.6,347.7 117.1,348.3 116.7,349C116.3,349.7 115.8,350.3 115.4,351C115,351.7 114.5,352.3 114.1,353C113.7,353.7 113.3,354.3 112.8,355C112.4,355.7 112,356.3 111.6,357C111.2,357.7 110.7,358.3 110.3,359C109.9,359.7 109.5,360.3 109.1,361C108.7,361.7 108.3,362.3 107.9,363C107.6,363.7 107.2,364.3 106.8,365C106.4,365.7 106,366.3 105.7,367C105.3,367.7 104.9,368.3 104.5,369C104.1,369.7 103.6,370.3 103.2,371C102.8,371.7 102.4,372.3 102,373C101.6,373.7 101.2,374.3 100.8,375C100.4,375.7 100.1,376.3 99.7,377C99.4,377.7 99.1,378.3 98.8,379C98.5,379.7 98.2,380.3 97.9,381C97.6,381.7 97.3,382.3 97,383C96.8,383.7 96.5,384.3 96.2,385C96,385.7 95.7,386.3 95.4,387C95.2,387.7 95,388.3 94.7,389C94.5,389.7 94.3,390.3 94.1,391C94,391.7 93.8,392.3 93.7,393C93.5,393.7 93.4,394.3 93.2,395C93.1,395.7 93,396.3 92.9,397C92.8,397.7 92.7,398.3 92.5,399C92.4,399.7 92.3,400.3 92.3,401C92.2,401.7 92.1,402.3 92,403C91.9,403.7 91.9,404.3 91.8,405C91.7,405.7 91.7,406.3 91.6,407C91.5,407.7 91.5,408.3 91.4,409C91.4,409.7 91.3,410.3 91.3,411C91.3,411.7 91.2,412.3 91.2,413C91.2,413.7 91.1,414.3 91.1,415C91.1,415.7 91.1,416.3 91.1,417C91.1,417.7 91.1,418.3 91.1,419C91.1,419.7 91.1,420.3 91.1,421C91.1,421.7 91.1,422.3 91.1,423C91.1,423.7 91.1,424.3 91.2,425C91.2,425.7 91.2,426.3 91.2,427C91.3,427.7 91.3,428.3 91.3,429C91.4,429.7 91.4,430.3 91.4,431C91.5,431.7 91.5,432.3 91.6,433C91.6,433.7 91.6,434.3 91.7,435C91.8,435.7 91.8,436.3 91.9,437C91.9,437.7 92,438.3 92.1,439C92.1,439.7 92.2,440.3 92.3,441C92.3,441.7 92.4,442.3 92.5,443C92.6,443.7 92.7,444.3 92.7,445C92.8,445.7 92.9,446.3 93,447C93.1,447.7 93.2,448.3 93.3,449C93.4,449.7 93.5,450.3 93.6,451C93.7,451.7 93.8,452.3 93.9,453C94,453.7 94.1,454.3 94.2,455C94.3,455.7 94.3,456.3 94.4,457C94.5,457.7 94.6,458.3 94.7,459C94.8,459.7 94.9,460.3 95,461C95.1,461.7 95.3,462.3 95.4,463C95.6,463.7 95.7,464.3 95.9,465C96.2,465.7 96.4,466.3 96.7,467C97,467.7 97.3,468.3 97.7,469C98.1,469.7 98.6,470.3 99.1,471C99.5,471.7 100.1,472.3 100.6,473C101.1,473.7 101.6,474.3 102.1,475C102.5,475.7 102.9,476.3 103.3,477C103.7,477.7 104,478.3 104.4,479C104.8,479.7 105.1,480.3 105.5,481C105.8,481.7 106.1,482.3 106.5,483C106.8,483.7 107.2,484.3 107.5,485C107.9,485.7 108.2,486.3 108.6,487C108.9,487.7 109.3,488.3 109.7,489C110,489.7 110.4,490.3 110.8,491C111.2,491.7 111.6,492.3 112,493C112.4,493.7 112.8,494.3 113.2,495C113.6,495.7 114.1,496.3 114.5,497C115,497.7 115.4,498.3 115.9,499C116.4,499.7 117,500.3 117.5,501C118.1,501.7 118.6,502.3 119.1,503C119.7,503.7 120.1,504.3 120.6,505C121.1,505.7 121.5,506.3 122,507C122.6,507.7 123.2,508.3 123.8,509C124.4,509.7 125.2,510.3 125.9,511C126.6,511.7 127.4,512.3 128.1,513C128.8,513.7 129.5,514.3 130.2,515C130.9,515.7 131.6,516.3 132.3,517C133,517.7 133.7,518.3 134.4,519C135.1,519.7 135.9,520.3 136.6,521C137.3,521.7 138,522.3 138.7,523C139.4,523.7 140.2,524.3 140.9,525C141.6,525.7 142.3,526.3 143.1,527C143.8,527.7 144.5,528.3 145.3,529C146,529.7 146.7,530.3 147.5,531C148.2,531.7 148.9,532.3 149.7,533C150.4,533.7 151.1,534.3 151.9,535C152.6,535.7 153.3,536.3 154.1,537C154.8,537.7 155.5,538.3 156.2,539C156.9,539.7 157.7,540.3 158.4,541C159.1,541.7 159.8,542.3 160.5,543C161.2,543.7 161.8,544.3 162.5,545C163.2,545.7 163.9,546.3 164.6,547C165.3,547.7 166,548.3 166.6,549C167.3,549.7 168,550.3 168.7,551C169.4,551.7 170.1,552.3 170.8,553C171.5,553.7 172.1,554.3 172.8,555C173.5,555.7 174.2,556.3 174.9,557C175.6,557.7 176.7,558.7 177,559" fill="none" stroke="#ffc838" stroke-width="5" stroke-dasharray="1.4 2.6" opacity="0.55" filter="url(#blur05)"/>
<g filter="url(#speckB)" opacity="0.6">
<path d="M134.4,291.2C133.9,292.2 132.5,295.2 131.5,297.2C130.4,299.2 129.3,301.2 128.2,303.2C127,305.2 125.7,307.2 124.6,309.2C123.4,311.2 122.2,313.2 121,315.2C119.9,317.2 118.8,319.2 117.7,321.2C116.6,323.2 115.6,325.2 114.5,327.2C113.4,329.2 112.2,331.2 111.1,333.2C110,335.2 108.9,337.2 107.9,339.2C106.8,341.2 105.7,343.2 104.7,345.2C103.7,347.2 102.6,349.2 101.7,351.2C100.7,353.2 99.7,355.2 98.8,357.2C97.9,359.2 97.1,361.2 96.2,363.2C95.3,365.2 94.4,367.2 93.5,369.2C92.5,371.2 91.4,373.2 90.4,375.2C89.4,377.2 88.4,379.2 87.4,381.2C86.5,383.2 85.5,385.2 84.7,387.2C83.9,389.2 83.2,391.2 82.7,393.2C82.2,395.2 81.9,397.2 81.6,399.2C81.3,401.2 81.1,403.2 80.9,405.2C80.7,407.2 80.5,409.2 80.4,411.2C80.3,413.2 80.2,415.2 80.1,417.2C80,419.2 80,421.2 80,423.2C80,425.2 80,427.2 80,429.2C80,431.2 80.1,433.2 80.1,435.2C80.2,437.2 80.3,439.2 80.4,441.2C80.5,443.2 80.6,445.2 80.8,447.2C80.9,449.2 81.1,451.2 81.2,453.2C81.4,455.2 81.5,457.2 81.8,459.2C82.1,461.2 82.3,463.2 83.1,465.2C83.8,467.2 85.1,469.2 86.2,471.2C87.3,473.2 88.5,475.2 89.4,477.2C90.3,479.2 91,481.2 91.7,483.2C92.5,485.2 93.2,487.2 93.9,489.2C94.7,491.2 95.5,493.2 96.3,495.2C97.1,497.2 97.9,499.2 98.7,501.2C99.6,503.2 100.4,505.2 101.3,507.2C102.3,509.2 103.2,511.2 104.2,513.2C105.2,515.2 106.3,517.2 107.4,519.2C108.5,521.2 109.5,523.2 110.7,525.2C111.8,527.2 113.1,529.2 114.3,531.2C115.4,533.2 116.7,535.2 117.8,537.2C119,539.2 120,541.2 121,543.2C122,545.2 122.9,547.2 123.8,549.2C124.7,551.2 125.6,553.2 126.6,555.2C127.6,557.2 129.1,560.2 129.6,561.2C130.1,562.2 129.7,561.5 129.7,561.5 L199.6,561.5C199.6,561.5 200.6,562.2 199.3,561.2C197.9,560.2 194.2,557.2 191.6,555.2C189.1,553.2 186.6,551.2 184.1,549.2C181.6,547.2 179.1,545.2 176.5,543.2C174,541.2 171.4,539.2 168.9,537.2C166.3,535.2 163.7,533.2 161.1,531.2C158.5,529.2 155.8,527.2 153.3,525.2C150.7,523.2 148.1,521.2 145.6,519.2C143,517.2 140.4,515.2 137.9,513.2C135.4,511.2 132.6,509.2 130.5,507.2C128.4,505.2 127,503.2 125.3,501.2C123.6,499.2 121.7,497.2 120.2,495.2C118.6,493.2 117.4,491.2 116.1,489.2C114.8,487.2 113.7,485.2 112.5,483.2C111.4,481.2 110.3,479.2 109,477.2C107.6,475.2 105.7,473.2 104.4,471.2C103.1,469.2 101.9,467.2 101.2,465.2C100.4,463.2 100.3,461.2 99.9,459.2C99.6,457.2 99.3,455.2 99,453.2C98.6,451.2 98.3,449.2 97.9,447.2C97.6,445.2 97.3,443.2 97,441.2C96.8,439.2 96.6,437.2 96.4,435.2C96.2,433.2 96,431.2 95.9,429.2C95.7,427.2 95.6,425.2 95.6,423.2C95.5,421.2 95.5,419.2 95.5,417.2C95.5,415.2 95.5,413.2 95.6,411.2C95.7,409.2 95.9,407.2 96.1,405.2C96.3,403.2 96.6,401.2 96.9,399.2C97.2,397.2 97.5,395.2 98,393.2C98.4,391.2 99,389.2 99.7,387.2C100.3,385.2 101.1,383.2 102,381.2C102.8,379.2 103.7,377.2 104.8,375.2C105.9,373.2 107.4,371.2 108.7,369.2C110,367.2 111.2,365.2 112.5,363.2C113.8,361.2 115.1,359.2 116.5,357.2C117.9,355.2 119.3,353.2 120.7,351.2C122.1,349.2 123.5,347.2 124.9,345.2C126.4,343.2 127.9,341.2 129.5,339.2C131.1,337.2 133,335.2 134.5,333.2C136,331.2 136.9,329.2 138.3,327.2C139.7,325.2 141.5,323.2 143.1,321.2C144.8,319.2 146.4,317.2 148,315.2C149.6,313.2 151.2,311.2 152.9,309.2C154.5,307.2 156.1,305.2 157.8,303.2C159.4,301.2 161,299.2 162.6,297.2C164.2,295.2 166.5,292.2 167.3,291.2 Z" fill="#000" fill-opacity="1" />
</g>
<path d="M135.5,291C135.3,291.5 134.5,293 134,294C133.5,295 133.1,296 132.6,297C132.1,298 131.5,299 131,300C130.5,301 129.9,302 129.3,303C128.7,304 128.1,305 127.5,306C126.9,307 126.3,308 125.7,309C125.1,310 124.5,311 123.9,312C123.3,313 122.7,314 122.2,315C121.6,316 121,317 120.5,318C119.9,319 119.4,320 118.8,321C118.3,322 117.7,323 117.2,324C116.7,325 116.1,326 115.6,327C115,328 114.5,329 113.9,330C113.4,331 112.8,332 112.2,333C111.7,334 111.1,335 110.6,336C110,337 109.5,338 109,339C108.4,340 107.9,341 107.4,342C106.8,343 106.3,344 105.8,345C105.3,346 104.8,347 104.3,348C103.8,349 103.2,350 102.8,351C102.3,352 101.8,353 101.3,354C100.8,355 100.3,356 99.9,357C99.4,358 99,359 98.6,360C98.1,361 97.7,362 97.3,363C96.8,364 96.4,365 96,366C95.5,367 95,368 94.6,369C94.1,370 93.6,371 93.1,372C92.5,373 92,374 91.5,375C91,376 90.4,377 90,378C89.5,379 89,380 88.5,381C88.1,382 87.6,383 87.1,384C86.6,385 86.2,386 85.7,387C85.3,388 84.9,389 84.6,390C84.3,391 84,392 83.8,393C83.5,394 83.3,395 83.1,396C82.9,397 82.8,398 82.6,399C82.5,400 82.4,401 82.2,402C82.1,403 82,404 81.9,405C81.8,406 81.7,407 81.7,408C81.6,409 81.5,410 81.4,411C81.4,412 81.3,413 81.2,414C81.2,415 81.1,416 81.1,417C81.1,418 81,419 81,420C81,421 81,422 81,423C81,424 81,425 81,426C81,427 81,428 81,429C81,430 81,431 81,432C81.1,433 81.1,434 81.1,435C81.1,436 81.2,437 81.2,438C81.3,439 81.3,440 81.4,441C81.4,442 81.5,443 81.5,444C81.6,445 81.7,446 81.8,447C81.8,448 81.9,449 82,450C82.1,451 82.2,452 82.2,453C82.3,454 82.4,455 82.5,456C82.5,457 82.6,458 82.8,459C82.9,460 83,461 83.2,462C83.5,463 83.7,464 84,465C84.3,466 84.8,467 85.3,468C85.8,469 86.5,470 87.1,471C87.7,472 88.3,473 88.9,474C89.4,475 89.9,476 90.3,477C90.8,478 91.2,479 91.6,480C91.9,481 92.3,482 92.7,483C93,484 93.4,485 93.8,486C94.1,487 94.5,488 94.8,489C95.2,490 95.6,491 96,492C96.4,493 96.8,494 97.2,495C97.6,496 98,497 98.4,498C98.8,499 99.2,500 99.6,501C100,502 100.5,503 100.9,504C101.3,505 101.8,506 102.2,507C102.7,508 103.2,509 103.7,510C104.1,511 104.6,512 105.1,513C105.6,514 106.2,515 106.7,516C107.2,517 107.7,518 108.3,519C108.8,520 109.4,521 109.9,522C110.4,523 111,524 111.6,525C112.1,526 112.7,527 113.3,528C113.9,529 114.5,530 115.1,531C115.7,532 116.4,533 117,534C117.6,535 118.2,536 118.7,537C119.3,538 119.9,539 120.4,540C120.9,541 121.4,542 121.9,543C122.4,544 122.9,545 123.3,546C123.8,547 124.2,548 124.7,549C125.1,550 125.6,551 126.1,552C126.5,553 127,554 127.5,555C128,556 128.7,557.5 129,558" fill="none" stroke="#ffe890" stroke-width="1.5" stroke-dasharray="1.5 1.8" opacity="0.8"/>
<g filter="url(#blur05)">
<path d="M93.8,385C93.5,386 92.5,389 92,391C91.5,393 91.2,395 90.8,397C90.4,399 90.1,401 89.9,403C89.6,405 89.4,407 89.3,409C89.1,411 89.1,413 89.1,415C89,417 89.1,419 89.2,421C89.2,423 89.3,425 89.5,427C89.6,429 89.8,431 90.1,433C90.3,435 90.5,437 90.8,439C91.1,441 91.5,443.2 91.9,445C92.2,446.8 92.7,449.2 92.9,450 L97.9,450C97.7,449.2 97.2,446.8 96.9,445C96.5,443.2 96.1,441 95.8,439C95.5,437 95.3,435 95.1,433C94.8,431 94.6,429 94.5,427C94.3,425 94.2,423 94.2,421C94.1,419 94,417 94.1,415C94.1,413 94.1,411 94.3,409C94.4,407 94.6,405 94.9,403C95.1,401 95.4,399 95.8,397C96.2,395 96.5,393 97,391C97.5,389 98.5,386 98.8,385 Z" fill="#1e6a3a" fill-opacity="0.9" />
</g>
<g filter="url(#blur05)">
<path d="M85,440C85.2,441 85.7,444 86.1,446C86.5,448 86.9,450 87.3,452C87.7,454 88.1,456 88.5,458C88.9,460 89,462 89.6,464C90.2,466 90.9,468 92.2,470C93.6,472 95.9,474 97.5,476C99.1,478 100.3,480 101.6,482C103,484 104.3,486 105.8,488C107.2,490 108.6,492 110.4,494C112.1,496 114.1,498 116.2,500C118.3,502 120.3,504 122.8,506C125.3,508 128.3,510 131.4,512C134.4,514 138.9,516.7 141,518C143.1,519.3 143.7,519.7 144.2,520 L150.2,520C149.7,519.7 149.1,519.3 147,518C144.9,516.7 140.4,514 137.4,512C134.3,510 131.3,508 128.8,506C126.3,504 124.3,502 122.2,500C120.1,498 118.1,496 116.4,494C114.6,492 113.2,490 111.8,488C110.3,486 109,484 107.6,482C106.3,480 105.1,478 103.5,476C101.9,474 99.6,472 98.2,470C96.9,468 96.2,466 95.6,464C95,462 94.9,460 94.5,458C94.1,456 93.7,454 93.3,452C92.9,450 92.5,448 92.1,446C91.7,444 91.2,441 91,440 Z" fill="#108070" fill-opacity="0.95" />
</g>
<g filter="url(#blur05)">
<path d="M90.7,438C90.9,439 91.3,442 91.7,444C92,446 92.5,448 92.9,450C93.3,452 93.8,454 94.2,456C94.5,458 94.7,460 95.2,462C95.7,464 95.9,466 97,468C98.1,470 100.3,472 101.8,474C103.4,476 104.9,478 106.3,480C107.7,482 109,484 110.4,486C111.8,488 113.1,490 114.8,492C116.4,494 118,496 120,498C122,500 124.6,502 126.9,504C129.3,506 131.5,508.2 134,510C136.6,511.8 140.8,514.2 142.2,515 L147.2,515C145.8,514.2 141.6,511.8 139,510C136.5,508.2 134.3,506 131.9,504C129.6,502 127,500 125,498C123,496 121.4,494 119.8,492C118.1,490 116.8,488 115.4,486C114,484 112.7,482 111.3,480C109.9,478 108.4,476 106.8,474C105.3,472 103.1,470 102,468C100.9,466 100.7,464 100.2,462C99.7,460 99.5,458 99.2,456C98.8,454 98.3,452 97.9,450C97.5,448 97,446 96.7,444C96.3,442 95.9,439 95.7,438 Z" fill="#121848" fill-opacity="1" />
</g>
<g filter="url(#blur05)">
<path d="M73.6,458C73.8,459 74.1,462 74.7,464C75.3,466 76.4,468 77.4,470C78.5,472 79.9,474 80.9,476C81.9,478 82.5,480 83.3,482C84.1,484 84.7,486 85.5,488C86.2,490 87,492 87.8,494C88.6,496 89.4,498 90.2,500C91,502 91.9,504 92.8,506C93.7,508 94.6,510 95.6,512C96.6,514 97.7,516 98.7,518C99.8,520 100.9,522 102,524C103.1,526 104.3,528 105.5,530C106.7,532 108,534 109.1,536C110.3,538 111.6,540.5 112.4,542C113.2,543.5 113.6,544.5 113.9,545 L115.9,545C115.6,544.5 115.2,543.5 114.4,542C113.6,540.5 112.3,538 111.1,536C110,534 108.7,532 107.5,530C106.3,528 105.1,526 104,524C102.9,522 101.8,520 100.7,518C99.7,516 98.6,514 97.6,512C96.6,510 95.7,508 94.8,506C93.9,504 93,502 92.2,500C91.4,498 90.6,496 89.8,494C89,492 88.2,490 87.5,488C86.7,486 86.1,484 85.3,482C84.5,480 83.9,478 82.9,476C81.9,474 80.5,472 79.4,470C78.4,468 77.3,466 76.7,464C76.1,462 75.8,459 75.6,458 Z" fill="#0c5a5a" fill-opacity="0.7" />
</g>
<path d="M150,318C148.3,319.8 142.2,326.3 140,329C137.8,331.7 138.6,332 136.9,334C135.2,336 132.1,338.7 130,341C128,343.3 126.4,345.5 124.6,347.8C122.8,350.1 121,352.3 119.2,354.6C117.4,356.9 115.4,359.2 113.7,361.5C112,363.8 110.5,366.1 108.9,368.3C107.3,370.6 105.5,372.6 104.1,375C102.7,377.4 101.6,379.9 100.5,383C99.4,386.1 98.4,389 97.5,393.3C96.6,397.6 95.7,403.6 95.3,408.7C94.9,413.8 95,418.9 95.3,424C95.6,429.1 96.1,434.3 96.9,439.4C97.7,444.5 98.9,449.9 99.9,454.7C100.9,459.5 101.4,464.4 103,468C104.6,471.6 107.5,473.3 109.5,476C111.5,478.7 113.2,481.4 115,484C116.8,486.6 118.4,489 120.2,491.3C122,493.6 124,495.9 126,498C128.1,500.1 130.7,501.9 132.5,503.6C134.3,505.3 134.9,506.4 137,508C139.1,509.6 143.7,512.2 145,513 L600,513.0 L600,318.0 Z" fill="#fffa00" filter="url(#blur05)"/>
</g>
<clipPath id="clipf"><rect x="143.6" y="300.5" width="102.1" height="253.0"/></clipPath><g clip-path="url(#clipf)">
<rect x="143.6" y="300.5" width="102.1" height="253.0" fill="url(#gBrown)"/>
<g filter="url(#blur8)">
<path d="M28.8,380C28.7,381 28.5,384 28.3,386C28.2,388 28.1,390 28,392C27.9,394 27.8,396 27.7,398C27.6,400 27.5,402 27.3,404C27.2,406 27,408 26.8,410C26.6,412 26.4,414 26.3,416C26.2,418 26.1,420 26.1,422C26.2,424 26.3,426 26.5,428C26.6,430 26.8,432 27.1,434C27.4,436 27.7,438 28.1,440C28.5,442 29,444 29.6,446C30.1,448 30.8,450 31.6,452C32.4,454 33.4,456 34.4,458C35.5,460 36.7,462 37.9,464C39.1,466 40.5,468 41.7,470C43,472 44.3,474 45.6,476C46.8,478 48,480 49.2,482C50.5,484 51.7,486 53,488C54.3,490 55.6,492 56.8,494C58,496 59.3,498 60.4,500C61.5,502 62.5,504 63.5,506C64.4,508 65.2,510 66,512C66.8,514 67.4,516 68.1,518C68.8,520 69.4,522 70,524C70.7,526 71.3,528 72,530C72.7,532 73.3,534 74,536C74.7,538 75.3,540 75.9,542C76.6,544 77.2,546 77.9,548C78.6,550 79.2,552 80,554C80.8,556 82,558 83,560C84,562 85,564 86,566C87,568 88.2,570.5 89,572C89.8,573.5 90.2,574.5 90.5,575 L246.5,575C246.2,574.5 245.8,573.5 245,572C244.2,570.5 243,568 242,566C241,564 240,562 239,560C238,558 236.8,556 236,554C235.2,552 234.6,550 233.9,548C233.2,546 232.6,544 231.9,542C231.3,540 230.7,538 230,536C229.3,534 228.7,532 228,530C227.3,528 226.7,526 226,524C225.4,522 224.8,520 224.1,518C223.4,516 222.8,514 222,512C221.2,510 220.4,508 219.5,506C218.5,504 217.5,502 216.4,500C215.3,498 214,496 212.8,494C211.6,492 210.3,490 209,488C207.7,486 206.5,484 205.2,482C204,480 202.8,478 201.6,476C200.3,474 199,472 197.7,470C196.5,468 195.1,466 193.9,464C192.7,462 191.5,460 190.4,458C189.4,456 188.4,454 187.6,452C186.8,450 186.1,448 185.6,446C185,444 184.5,442 184.1,440C183.7,438 183.4,436 183.1,434C182.8,432 182.6,430 182.5,428C182.3,426 182.2,424 182.1,422C182.1,420 182.2,418 182.3,416C182.4,414 182.6,412 182.8,410C183,408 183.2,406 183.3,404C183.5,402 183.6,400 183.7,398C183.8,396 183.9,394 184,392C184.1,390 184.2,388 184.3,386C184.5,384 184.7,381 184.8,380 Z" fill="#8c5a18" fill-opacity="0.9" />
</g>
<g filter="url(#blur4)">
<path d="M178,398C177,399 173.9,402 171.8,404C169.8,406 167.5,408 165.8,410C164.1,412 162.6,414 161.4,416C160.3,418 159.5,420 158.7,422C157.9,424 157.2,426 156.6,428C156.1,430 155.6,432 155.2,434C154.7,436 154.3,438 154,440C153.7,442 153.3,444 153.1,446C152.8,448 152.7,450 152.5,452C152.4,454 152.3,456 152.2,458C152.1,460 152.1,462 152,464C152,466 152,468 152,470C152,472 152,474 152.1,476C152.2,478 152.3,480 152.4,482C152.5,484 152.7,486 152.9,488C153,490 153.2,492 153.4,494C153.6,496 153.8,498 154,500C154.2,502 154.4,504 154.7,506C154.9,508 155.1,510 155.4,512C155.7,514 156,516 156.2,518C156.5,520 156.8,522 157.1,524C157.4,526 157.7,528 158,530C158.3,532 158.6,534 158.9,536C159.2,538 159.5,540 159.9,542C160.2,544 160.6,546 160.9,548C161.3,550 161.6,552 162,554C162.4,556 163.1,558.7 163.5,560C163.8,561.3 163.9,561.7 164,562 L232,562C231.8,561.7 231.6,561.3 231,560C230.3,558.7 228.8,556 228,554C227.2,552 226.6,550 225.9,548C225.2,546 224.6,544 223.9,542C223.3,540 222.7,538 222,536C221.3,534 220.7,532 220,530C219.3,528 218.7,526 218,524C217.4,522 216.8,520 216.1,518C215.4,516 214.8,514 214,512C213.2,510 212.4,508 211.5,506C210.5,504 209.5,502 208.4,500C207.3,498 206,496 204.8,494C203.6,492 202.3,490 201,488C199.7,486 198.5,484 197.2,482C196,480 194.8,478 193.6,476C192.3,474 191,472 189.7,470C188.5,468 187.1,466 185.9,464C184.7,462 183.5,460 182.4,458C181.4,456 180.4,454 179.6,452C178.8,450 178.1,448 177.6,446C177,444 176.5,442 176.1,440C175.7,438 175.4,436 175.1,434C174.8,432 174.6,430 174.5,428C174.3,426 174.2,424 174.1,422C174.1,420 174.2,418 174.3,416C174.4,414 174.6,412 174.8,410C175,408 175.2,406 175.3,404C175.5,402 175.6,399 175.7,398 Z" fill="#c23e16" fill-opacity="0.8" />
</g>
<g filter="url(#blur15)">
<path d="M184,398C183.7,399 183.1,402 182.4,404C181.7,406 180.8,408 180,410C179.2,412 178.2,414 177.4,416C176.6,418 175.8,420 175.2,422C174.6,424 174.2,426 173.8,428C173.4,430 173.1,432 172.8,434C172.6,436 172.4,438 172.3,440C172.2,442 172.2,444 172.5,446C172.7,448 173,450 173.6,452C174.2,454 175,456 176,458C177,460 178.2,462 179.5,464C180.7,466 182.2,468 183.5,470C184.8,472 186.3,474 187.5,476C188.8,478 190,480 191.2,482C192.5,484 193.7,486 195,488C196.3,490 197.6,492 198.8,494C200,496 201.3,498 202.4,500C203.5,502 204.5,504 205.5,506C206.4,508 207.2,510 208,512C208.8,514 209.4,516 210.1,518C210.8,520 211.4,522 212,524C212.7,526 213.3,528 214,530C214.7,532 215.3,534 216,536C216.7,538 217.3,540 217.9,542C218.6,544 219.2,546 219.9,548C220.6,550 221.2,552 222,554C222.8,556 224.3,558.7 225,560C225.6,561.3 225.8,561.7 226,562 L243,562C242.8,561.7 242.6,561.3 242,560C241.3,558.7 239.8,556 239,554C238.2,552 237.6,550 236.9,548C236.2,546 235.6,544 234.9,542C234.3,540 233.7,538 233,536C232.3,534 231.7,532 231,530C230.3,528 229.7,526 229,524C228.4,522 227.8,520 227.1,518C226.4,516 225.8,514 225,512C224.2,510 223.4,508 222.5,506C221.5,504 220.5,502 219.4,500C218.3,498 217,496 215.8,494C214.6,492 213.3,490 212,488C210.7,486 209.5,484 208.2,482C207,480 205.8,478 204.6,476C203.3,474 202,472 200.7,470C199.5,468 198.1,466 196.9,464C195.7,462 194.5,460 193.4,458C192.4,456 191.4,454 190.6,452C189.8,450 189.1,448 188.6,446C188,444 187.5,442 187.1,440C186.7,438 186.4,436 186.1,434C185.8,432 185.6,430 185.5,428C185.3,426 185.2,424 185.1,422C185.1,420 185.2,418 185.3,416C185.4,414 185.6,412 185.8,410C186,408 186.2,406 186.3,404C186.5,402 186.6,399 186.7,398 Z" fill="#2a9040" fill-opacity="1" />
</g>
<g filter="url(#blur05)">
<path d="M237.8,292.5C237.3,293.5 236,296.5 234.9,298.5C233.9,300.5 232.6,302.5 231.4,304.5C230.2,306.5 228.9,308.5 227.6,310.5C226.3,312.5 225,314.5 223.6,316.5C222.2,318.5 220.8,320.5 219.4,322.5C218,324.5 216.5,326.5 215.1,328.5C213.7,330.5 212.3,332.5 211.1,334.5C209.8,336.5 208.7,338.5 207.6,340.5C206.4,342.5 205.5,344.5 204.2,346.5C202.8,348.5 201.5,350.5 199.8,352.5C198.1,354.5 195.4,356.5 193.9,358.5C192.5,360.5 191.9,362.5 191.2,364.5C190.5,366.5 190.1,368.5 189.7,370.5C189.4,372.5 189.2,374.5 189,376.5C188.8,378.5 188.7,380.5 188.6,382.5C188.5,384.5 188.3,386.5 188.2,388.5C188,390.5 188,392.5 187.9,394.5C187.8,396.5 187.7,398.5 187.6,400.5C187.4,402.5 187.3,404.5 187.1,406.5C186.9,408.5 186.7,410.5 186.6,412.5C186.4,414.5 186.3,416.5 186.2,418.5C186.1,420.5 186.1,422.5 186.2,424.5C186.3,426.5 186.5,428.5 186.7,430.5C186.9,432.5 187.2,434.5 187.5,436.5C187.8,438.5 188.2,440.5 188.6,442.5C189.1,444.5 189.7,446.5 190.3,448.5C191,450.5 191.8,452.5 192.7,454.5C193.6,456.5 194.7,458.5 195.8,460.5C196.9,462.5 198.2,464.5 199.5,466.5C200.7,468.5 202.1,470.5 203.3,472.5C204.6,474.5 205.9,476.5 207.1,478.5C208.3,480.5 209.5,482.5 210.8,484.5C212,486.5 213.3,488.5 214.6,490.5C215.9,492.5 217.2,494.5 218.3,496.5C219.5,498.5 220.7,500.5 221.7,502.5C222.8,504.5 223.7,506.5 224.6,508.5C225.4,510.5 226.2,512.5 226.9,514.5C227.6,516.5 228.2,518.5 228.9,520.5C229.6,522.5 230.2,524.5 230.8,526.5C231.5,528.5 232.2,530.5 232.9,532.5C233.5,534.5 234.2,536.5 234.8,538.5C235.4,540.5 236.1,542.5 236.7,544.5C237.4,546.5 238,548.5 238.7,550.5C239.5,552.5 240.3,554.7 241.1,556.5C241.9,558.3 243.3,560.7 243.7,561.5 L331.7,561.5C330.6,560.7 327.4,558.3 325,556.5C322.6,554.7 319.7,552.5 317,550.5C314.3,548.5 311.7,546.5 309,544.5C306.3,542.5 303.7,540.5 301,538.5C298.3,536.5 295.7,534.5 293,532.5C290.3,530.5 287.7,528.5 285,526.5C282.3,524.5 279.7,522.5 277,520.5C274.3,518.5 271.7,516.5 269,514.5C266.3,512.5 264,510.5 261.1,508.5C258.2,506.5 254.5,504.5 251.5,502.5C248.5,500.5 245.5,498.5 243.2,496.5C240.9,494.5 239.4,492.5 237.6,490.5C235.9,488.5 234.4,486.5 232.8,484.5C231.3,482.5 229.9,480.5 228.6,478.5C227.3,476.5 226.1,474.5 225,472.5C223.8,470.5 222.8,468.5 221.7,466.5C220.6,464.5 219.5,462.5 218.4,460.5C217.4,458.5 216.5,456.5 215.6,454.5C214.8,452.5 214,450.5 213.3,448.5C212.7,446.5 212,444.5 211.6,442.5C211.2,440.5 211,438.5 210.9,436.5C210.8,434.5 210.8,432.5 210.8,430.5C210.9,428.5 211,426.5 211.1,424.5C211.2,422.5 211.3,420.5 211.4,418.5C211.5,416.5 211.6,414.5 211.7,412.5C211.8,410.5 212,408.5 212.2,406.5C212.3,404.5 212.5,402.5 212.7,400.5C212.8,398.5 213,396.5 213.2,394.5C213.4,392.5 213.6,390.5 213.9,388.5C214.2,386.5 214.4,384.5 215,382.5C215.5,380.5 216.1,378.5 217,376.5C218,374.5 219.2,372.5 220.5,370.5C221.8,368.5 223.3,366.5 224.8,364.5C226.3,362.5 228,360.5 229.6,358.5C231.3,356.5 233,354.5 234.5,352.5C236.1,350.5 237.2,348.5 238.9,346.5C240.7,344.5 242,342.5 245.2,340.5C248.3,338.5 254.4,336.5 257.7,334.5C261,332.5 262.6,330.5 265,328.5C267.3,326.5 269.6,324.5 272,322.5C274.4,320.5 276.8,318.5 279.2,316.5C281.6,314.5 284,312.5 286.4,310.5C288.8,308.5 291.2,306.5 293.6,304.5C296,302.5 298.4,300.5 300.8,298.5C303.2,296.5 306.8,293.5 308,292.5 Z" fill="#f4ae36" fill-opacity="1" />
</g>
<g filter="url(#blur1)">
<path d="M263,292.5C262.3,293.5 260.2,296.5 258.6,298.5C257.1,300.5 255.4,302.5 253.8,304.5C252.1,306.5 250.4,308.5 248.7,310.5C247.1,312.5 245.4,314.5 243.6,316.5C241.9,318.5 240.1,320.5 238.3,322.5C236.6,324.5 234.8,326.5 233,328.5C231.3,330.5 229.8,332.5 227.8,334.5C225.9,336.5 223,338.5 221.1,340.5C219.2,342.5 218.1,344.5 216.7,346.5C215.2,348.5 213.9,350.5 212.3,352.5C210.6,354.5 208.3,356.5 206.8,358.5C205.3,360.5 204.3,362.5 203.3,364.5C202.3,366.5 201.5,368.5 200.8,370.5C200.1,372.5 199.6,374.5 199.1,376.5C198.7,378.5 198.4,380.5 198.1,382.5C197.8,384.5 197.6,386.5 197.4,388.5C197.2,390.5 197.1,392.5 197,394.5C196.8,396.5 196.7,398.5 196.6,400.5C196.5,402.5 196.3,404.5 196.1,406.5C196,408.5 195.8,410.5 195.6,412.5C195.5,414.5 195.3,416.5 195.2,418.5C195.2,420.5 195.1,422.5 195.2,424.5C195.2,426.5 195.3,428.5 195.4,430.5C195.5,432.5 195.6,434.5 195.9,436.5C196.2,438.5 196.5,440.5 196.9,442.5C197.4,444.5 197.9,446.5 198.6,448.5C199.3,450.5 200,452.5 200.9,454.5C201.8,456.5 202.9,458.5 204,460.5C205,462.5 206.3,464.5 207.5,466.5C208.7,468.5 209.9,470.5 211.1,472.5C212.4,474.5 213.6,476.5 214.8,478.5C216.1,480.5 217.4,482.5 218.7,484.5C220.1,486.5 221.5,488.5 222.9,490.5C224.3,492.5 225.7,494.5 227.3,496.5C228.9,498.5 230.7,500.5 232.5,502.5C234.2,504.5 236.1,506.5 237.7,508.5C239.3,510.5 240.6,512.5 242.1,514.5C243.5,516.5 244.8,518.5 246.2,520.5C247.6,522.5 248.9,524.5 250.3,526.5C251.7,528.5 253.1,530.5 254.5,532.5C255.9,534.5 257.3,536.5 258.6,538.5C260,540.5 261.4,542.5 262.7,544.5C264.1,546.5 265.5,548.5 266.9,550.5C268.3,552.5 269.9,554.7 271.3,556.5C272.7,558.3 274.7,560.7 275.4,561.5 L298.3,561.5C297.4,560.7 295,558.3 293.1,556.5C291.3,554.7 289.2,552.5 287.3,550.5C285.3,548.5 283.4,546.5 281.5,544.5C279.6,542.5 277.7,540.5 275.8,538.5C273.9,536.5 272,534.5 270.1,532.5C268.2,530.5 266.3,528.5 264.4,526.5C262.5,524.5 260.6,522.5 258.7,520.5C256.8,518.5 254.9,516.5 253,514.5C251.1,512.5 249.3,510.5 247.2,508.5C245.1,506.5 242.4,504.5 240.2,502.5C238,500.5 235.6,498.5 233.7,496.5C231.9,494.5 230.4,492.5 228.9,490.5C227.3,488.5 225.9,486.5 224.5,484.5C223.1,482.5 221.7,480.5 220.4,478.5C219.2,476.5 218,474.5 216.8,472.5C215.6,470.5 214.4,468.5 213.2,466.5C212.1,464.5 210.9,462.5 209.8,460.5C208.8,458.5 207.8,456.5 206.9,454.5C206,452.5 205.3,450.5 204.6,448.5C203.9,446.5 203.3,444.5 202.9,442.5C202.5,440.5 202.2,438.5 202,436.5C201.8,434.5 201.7,432.5 201.7,430.5C201.6,428.5 201.6,426.5 201.6,424.5C201.7,422.5 201.7,420.5 201.8,418.5C201.9,416.5 202,414.5 202.2,412.5C202.3,410.5 202.5,408.5 202.6,406.5C202.8,404.5 203,402.5 203.1,400.5C203.3,398.5 203.4,396.5 203.6,394.5C203.7,392.5 203.9,390.5 204.1,388.5C204.3,386.5 204.6,384.5 205,382.5C205.3,380.5 205.7,378.5 206.4,376.5C207,374.5 207.9,372.5 208.8,370.5C209.7,368.5 210.8,366.5 212,364.5C213.2,362.5 214.5,360.5 216.1,358.5C217.6,356.5 219.7,354.5 221.3,352.5C222.9,350.5 224.1,348.5 225.7,346.5C227.3,344.5 228.5,342.5 230.9,340.5C233.3,338.5 237.4,336.5 240,334.5C242.5,332.5 244,330.5 246,328.5C248,326.5 250,324.5 252,322.5C254,320.5 256.1,318.5 258.1,316.5C260.1,314.5 262.1,312.5 264,310.5C266,308.5 268,306.5 270,304.5C271.9,302.5 273.9,300.5 275.8,298.5C277.7,296.5 280.4,293.5 281.3,292.5 Z" fill="#e2581e" fill-opacity="0.8" />
<path d="M284.1,292.5C283.2,293.5 280.3,296.5 278.4,298.5C276.5,300.5 274.4,302.5 272.4,304.5C270.4,306.5 268.4,308.5 266.4,310.5C264.4,312.5 262.3,314.5 260.3,316.5C258.2,318.5 256.2,320.5 254.1,322.5C252.1,324.5 250.1,326.5 248,328.5C246,330.5 244.4,332.5 241.8,334.5C239.2,336.5 234.8,338.5 232.4,340.5C229.9,342.5 228.7,344.5 227.1,346.5C225.5,348.5 224.3,350.5 222.7,352.5C221.1,354.5 219.1,356.5 217.5,358.5C215.9,360.5 214.6,362.5 213.4,364.5C212.1,366.5 211,368.5 210,370.5C209.1,372.5 208.2,374.5 207.5,376.5C206.8,378.5 206.4,380.5 206,382.5C205.6,384.5 205.4,386.5 205.1,388.5C204.9,390.5 204.7,392.5 204.6,394.5C204.4,396.5 204.3,398.5 204.1,400.5C204,402.5 203.8,404.5 203.6,406.5C203.5,408.5 203.3,410.5 203.2,412.5C203,414.5 202.9,416.5 202.8,418.5C202.7,420.5 202.7,422.5 202.6,424.5C202.6,426.5 202.6,428.5 202.6,430.5C202.7,432.5 202.7,434.5 202.9,436.5C203.1,438.5 203.4,440.5 203.8,442.5C204.2,444.5 204.8,446.5 205.5,448.5C206.2,450.5 207,452.5 207.8,454.5C208.7,456.5 209.7,458.5 210.8,460.5C211.8,462.5 213,464.5 214.1,466.5C215.3,468.5 216.4,470.5 217.6,472.5C218.8,474.5 220,476.5 221.3,478.5C222.6,480.5 223.9,482.5 225.3,484.5C226.8,486.5 228.2,488.5 229.8,490.5C231.4,492.5 232.8,494.5 234.7,496.5C236.7,498.5 239.1,500.5 241.4,502.5C243.7,504.5 246.5,506.5 248.7,508.5C250.9,510.5 252.7,512.5 254.7,514.5C256.7,516.5 258.7,518.5 260.6,520.5C262.6,522.5 264.6,524.5 266.6,526.5C268.6,528.5 270.6,530.5 272.5,532.5C274.5,534.5 276.5,536.5 278.5,538.5C280.5,540.5 282.4,542.5 284.4,544.5C286.4,546.5 288.4,548.5 290.4,550.5C292.4,552.5 294.6,554.7 296.5,556.5C298.4,558.3 300.9,560.7 301.8,561.5 L331.7,561.5C330.6,560.7 327.4,558.3 325,556.5C322.6,554.7 319.7,552.5 317,550.5C314.3,548.5 311.7,546.5 309,544.5C306.3,542.5 303.7,540.5 301,538.5C298.3,536.5 295.7,534.5 293,532.5C290.3,530.5 287.7,528.5 285,526.5C282.3,524.5 279.7,522.5 277,520.5C274.3,518.5 271.7,516.5 269,514.5C266.3,512.5 264,510.5 261.1,508.5C258.2,506.5 254.5,504.5 251.5,502.5C248.5,500.5 245.5,498.5 243.2,496.5C240.9,494.5 239.4,492.5 237.6,490.5C235.9,488.5 234.4,486.5 232.8,484.5C231.3,482.5 229.9,480.5 228.6,478.5C227.3,476.5 226.1,474.5 225,472.5C223.8,470.5 222.8,468.5 221.7,466.5C220.6,464.5 219.5,462.5 218.4,460.5C217.4,458.5 216.5,456.5 215.6,454.5C214.8,452.5 214,450.5 213.3,448.5C212.7,446.5 212,444.5 211.6,442.5C211.2,440.5 211,438.5 210.9,436.5C210.8,434.5 210.8,432.5 210.8,430.5C210.9,428.5 211,426.5 211.1,424.5C211.2,422.5 211.3,420.5 211.4,418.5C211.5,416.5 211.6,414.5 211.7,412.5C211.8,410.5 212,408.5 212.2,406.5C212.3,404.5 212.5,402.5 212.7,400.5C212.8,398.5 213,396.5 213.2,394.5C213.4,392.5 213.6,390.5 213.9,388.5C214.2,386.5 214.4,384.5 215,382.5C215.5,380.5 216.1,378.5 217,376.5C218,374.5 219.2,372.5 220.5,370.5C221.8,368.5 223.3,366.5 224.8,364.5C226.3,362.5 228,360.5 229.6,358.5C231.3,356.5 233,354.5 234.5,352.5C236.1,350.5 237.2,348.5 238.9,346.5C240.7,344.5 242,342.5 245.2,340.5C248.3,338.5 254.4,336.5 257.7,334.5C261,332.5 262.6,330.5 265,328.5C267.3,326.5 269.6,324.5 272,322.5C274.4,320.5 276.8,318.5 279.2,316.5C281.6,314.5 284,312.5 286.4,310.5C288.8,308.5 291.2,306.5 293.6,304.5C296,302.5 298.4,300.5 300.8,298.5C303.2,296.5 306.8,293.5 308,292.5 Z" fill="#fcd432" fill-opacity="0.95" />
</g>
<path d="M250,292C249.8,292.3 249.2,293.3 248.8,294C248.4,294.7 248,295.3 247.6,296C247.3,296.7 246.9,297.3 246.4,298C246,298.7 245.6,299.3 245.1,300C244.7,300.7 244.2,301.3 243.7,302C243.3,302.7 242.8,303.3 242.3,304C241.8,304.7 241.4,305.3 240.9,306C240.4,306.7 239.9,307.3 239.4,308C238.9,308.7 238.4,309.3 237.9,310C237.4,310.7 236.9,311.3 236.4,312C235.9,312.7 235.4,313.3 234.9,314C234.4,314.7 233.9,315.3 233.4,316C232.9,316.7 232.4,317.3 231.9,318C231.4,318.7 230.9,319.3 230.3,320C229.8,320.7 229.3,321.3 228.7,322C228.2,322.7 227.7,323.3 227.1,324C226.6,324.7 226.1,325.3 225.5,326C225,326.7 224.5,327.3 224,328C223.4,328.7 222.9,329.3 222.4,330C221.9,330.7 221.4,331.3 220.9,332C220.4,332.7 219.9,333.3 219.4,334C218.8,334.7 218.3,335.3 217.7,336C217.2,336.7 216.6,337.3 216,338C215.4,338.7 214.9,339.3 214.4,340C213.8,340.7 213.3,341.3 212.9,342C212.4,342.7 212,343.3 211.6,344C211.2,344.7 210.8,345.3 210.4,346C210,346.7 209.6,347.3 209.1,348C208.7,348.7 208.3,349.3 207.8,350C207.3,350.7 206.8,351.3 206.2,352C205.5,352.7 204.8,353.3 204.1,354C203.4,354.7 202.6,355.3 201.9,356C201.3,356.7 200.8,357.3 200.3,358C199.9,358.7 199.5,359.3 199.1,360C198.7,360.7 198.4,361.3 198,362C197.7,362.7 197.4,363.3 197.1,364C196.8,364.7 196.5,365.3 196.3,366C196.1,366.7 195.8,367.3 195.6,368C195.4,368.7 195.3,369.3 195.1,370C194.9,370.7 194.7,371.3 194.6,372C194.4,372.7 194.3,373.3 194.2,374C194.1,374.7 194,375.3 193.8,376C193.7,376.7 193.7,377.3 193.6,378C193.5,378.7 193.4,379.3 193.3,380C193.3,380.7 193.2,381.3 193.1,382C193.1,382.7 193,383.3 192.9,384C192.9,384.7 192.8,385.3 192.7,386C192.7,386.7 192.6,387.3 192.6,388C192.5,388.7 192.5,389.3 192.4,390C192.4,390.7 192.3,391.3 192.3,392C192.3,392.7 192.2,393.3 192.2,394C192.2,394.7 192.1,395.3 192.1,396C192,396.7 192,397.3 192,398C191.9,398.7 191.9,399.3 191.9,400C191.8,400.7 191.8,401.3 191.7,402C191.7,402.7 191.6,403.3 191.6,404C191.5,404.7 191.5,405.3 191.4,406C191.4,406.7 191.3,407.3 191.2,408C191.2,408.7 191.1,409.3 191.1,410C191,410.7 190.9,411.3 190.9,412C190.8,412.7 190.8,413.3 190.7,414C190.7,414.7 190.6,415.3 190.6,416C190.6,416.7 190.5,417.3 190.5,418C190.5,418.7 190.4,419.3 190.4,420C190.4,420.7 190.4,421.3 190.4,422C190.4,422.7 190.4,423.3 190.4,424C190.4,424.7 190.5,425.3 190.5,426C190.5,426.7 190.6,427.3 190.6,428C190.7,428.7 190.7,429.3 190.8,430C190.8,430.7 190.9,431.3 190.9,432C191,432.7 191.1,433.3 191.1,434C191.2,434.7 191.3,435.3 191.4,436C191.5,436.7 191.6,437.3 191.7,438C191.8,438.7 191.9,439.3 192,440C192.2,440.7 192.3,441.3 192.4,442C192.6,442.7 192.7,443.3 192.9,444C193.1,444.7 193.3,445.3 193.5,446C193.7,446.7 193.9,447.3 194.1,448C194.3,448.7 194.5,449.3 194.8,450C195,450.7 195.2,451.3 195.5,452C195.8,452.7 196.1,453.3 196.4,454C196.6,454.7 197,455.3 197.3,456C197.6,456.7 197.9,457.3 198.3,458C198.6,458.7 199,459.3 199.4,460C199.8,460.7 200.1,461.3 200.5,462C200.9,462.7 201.3,463.3 201.7,464C202.1,464.7 202.5,465.3 202.9,466C203.4,466.7 203.8,467.3 204.2,468C204.6,468.7 205,469.3 205.4,470C205.9,470.7 206.3,471.3 206.7,472C207.1,472.7 207.6,473.3 208,474C208.4,474.7 208.8,475.3 209.2,476C209.6,476.7 210,477.3 210.5,478C210.9,478.7 211.3,479.3 211.7,480C212.1,480.7 212.5,481.3 212.9,482C213.3,482.7 213.8,483.3 214.2,484C214.6,484.7 215.1,485.3 215.5,486C216,486.7 216.4,487.3 216.8,488C217.3,488.7 217.7,489.3 218.2,490C218.6,490.7 219.1,491.3 219.5,492C220,492.7 220.4,493.3 220.9,494C221.3,494.7 221.8,495.3 222.2,496C222.7,496.7 223.1,497.3 223.6,498C224,498.7 224.5,499.3 225,500C225.4,500.7 225.9,501.3 226.4,502C226.9,502.7 227.5,503.3 228,504C228.5,504.7 228.9,505.3 229.3,506C229.7,506.7 230.1,507.3 230.5,508C230.9,508.7 231.3,509.3 231.6,510C232,510.7 232.4,511.3 232.7,512C233.1,512.7 233.4,513.3 233.8,514C234.1,514.7 234.5,515.3 234.8,516C235.2,516.7 235.5,517.3 235.8,518C236.2,518.7 236.5,519.3 236.8,520C237.2,520.7 237.5,521.3 237.8,522C238.1,522.7 238.5,523.3 238.8,524C239.1,524.7 239.5,525.3 239.8,526C240.1,526.7 240.4,527.3 240.8,528C241.1,528.7 241.5,529.3 241.8,530C242.1,530.7 242.5,531.3 242.8,532C243.2,532.7 243.5,533.3 243.8,534C244.2,534.7 244.5,535.3 244.8,536C245.2,536.7 245.5,537.3 245.8,538C246.1,538.7 246.5,539.3 246.8,540C247.1,540.7 247.4,541.3 247.8,542C248.1,542.7 248.4,543.3 248.8,544C249.1,544.7 249.4,545.3 249.8,546C250.1,546.7 250.4,547.3 250.8,548C251.1,548.7 251.4,549.3 251.8,550C252.1,550.7 252.5,551.3 252.8,552C253.2,552.7 253.5,553.3 253.9,554C254.3,554.7 254.6,555.3 255,556C255.5,556.7 255.9,557.3 256.3,558C256.8,558.7 257.5,559.7 257.7,560" fill="none" stroke="#d24a1c" stroke-width="5" stroke-dasharray="1.3 2.4" opacity="0.6" filter="url(#blur05)"/>
<path d="M273.3,292C273,292.3 272.2,293.3 271.6,294C271.1,294.7 270.5,295.3 270,296C269.4,296.7 268.9,297.3 268.3,298C267.7,298.7 267.1,299.3 266.6,300C266,300.7 265.4,301.3 264.8,302C264.2,302.7 263.6,303.3 262.9,304C262.3,304.7 261.7,305.3 261.1,306C260.5,306.7 259.9,307.3 259.3,308C258.7,308.7 258.1,309.3 257.4,310C256.8,310.7 256.2,311.3 255.6,312C255,312.7 254.4,313.3 253.7,314C253.1,314.7 252.5,315.3 251.9,316C251.2,316.7 250.6,317.3 250,318C249.4,318.7 248.7,319.3 248.1,320C247.5,320.7 246.8,321.3 246.2,322C245.5,322.7 244.9,323.3 244.3,324C243.6,324.7 243,325.3 242.3,326C241.7,326.7 241.1,327.3 240.5,328C239.9,328.7 239.3,329.3 238.6,330C238,330.7 237.4,331.3 236.8,332C236.2,332.7 235.6,333.3 234.9,334C234.1,334.7 233.4,335.3 232.5,336C231.6,336.7 230.5,337.3 229.6,338C228.7,338.7 227.8,339.3 227,340C226.2,340.7 225.4,341.3 224.8,342C224.2,342.7 223.7,343.3 223.2,344C222.7,344.7 222.3,345.3 221.9,346C221.4,346.7 221,347.3 220.6,348C220.1,348.7 219.7,349.3 219.2,350C218.7,350.7 218.2,351.3 217.6,352C217,352.7 216.3,353.3 215.7,354C215,354.7 214.4,355.3 213.8,356C213.2,356.7 212.6,357.3 212.1,358C211.6,358.7 211.2,359.3 210.8,360C210.3,360.7 209.9,361.3 209.5,362C209.1,362.7 208.7,363.3 208.3,364C207.9,364.7 207.5,365.3 207.2,366C206.8,366.7 206.5,367.3 206.2,368C205.9,368.7 205.6,369.3 205.3,370C205,370.7 204.8,371.3 204.5,372C204.3,372.7 204,373.3 203.8,374C203.6,374.7 203.4,375.3 203.2,376C203,376.7 202.8,377.3 202.6,378C202.5,378.7 202.4,379.3 202.2,380C202.1,380.7 202,381.3 201.9,382C201.8,382.7 201.7,383.3 201.6,384C201.5,384.7 201.4,385.3 201.3,386C201.2,386.7 201.1,387.3 201.1,388C201,388.7 200.9,389.3 200.9,390C200.8,390.7 200.8,391.3 200.7,392C200.7,392.7 200.6,393.3 200.6,394C200.5,394.7 200.5,395.3 200.4,396C200.4,396.7 200.3,397.3 200.3,398C200.2,398.7 200.2,399.3 200.1,400C200.1,400.7 200.1,401.3 200,402C200,402.7 199.9,403.3 199.8,404C199.8,404.7 199.7,405.3 199.7,406C199.6,406.7 199.6,407.3 199.5,408C199.5,408.7 199.4,409.3 199.3,410C199.3,410.7 199.2,411.3 199.2,412C199.1,412.7 199.1,413.3 199,414C199,414.7 198.9,415.3 198.9,416C198.9,416.7 198.8,417.3 198.8,418C198.8,418.7 198.7,419.3 198.7,420C198.7,420.7 198.7,421.3 198.7,422C198.7,422.7 198.7,423.3 198.6,424C198.6,424.7 198.7,425.3 198.7,426C198.7,426.7 198.7,427.3 198.7,428C198.7,428.7 198.7,429.3 198.8,430C198.8,430.7 198.8,431.3 198.8,432C198.9,432.7 198.9,433.3 199,434C199,434.7 199.1,435.3 199.1,436C199.2,436.7 199.3,437.3 199.4,438C199.4,438.7 199.5,439.3 199.6,440C199.8,440.7 199.9,441.3 200,442C200.2,442.7 200.3,443.3 200.5,444C200.7,444.7 200.8,445.3 201,446C201.2,446.7 201.4,447.3 201.7,448C201.9,448.7 202.1,449.3 202.4,450C202.6,450.7 202.9,451.3 203.1,452C203.4,452.7 203.6,453.3 203.9,454C204.2,454.7 204.5,455.3 204.8,456C205.1,456.7 205.5,457.3 205.8,458C206.2,458.7 206.5,459.3 206.9,460C207.2,460.7 207.6,461.3 208,462C208.3,462.7 208.7,463.3 209.1,464C209.5,464.7 209.9,465.3 210.3,466C210.7,466.7 211.1,467.3 211.5,468C211.9,468.7 212.3,469.3 212.7,470C213.1,470.7 213.5,471.3 213.9,472C214.3,472.7 214.7,473.3 215.1,474C215.5,474.7 215.9,475.3 216.3,476C216.7,476.7 217.1,477.3 217.5,478C218,478.7 218.4,479.3 218.8,480C219.2,480.7 219.7,481.3 220.1,482C220.6,482.7 221,483.3 221.5,484C221.9,484.7 222.4,485.3 222.9,486C223.3,486.7 223.8,487.3 224.3,488C224.8,488.7 225.3,489.3 225.8,490C226.2,490.7 226.7,491.3 227.3,492C227.8,492.7 228.3,493.3 228.8,494C229.3,494.7 229.8,495.3 230.4,496C230.9,496.7 231.5,497.3 232,498C232.6,498.7 233.2,499.3 233.8,500C234.5,500.7 235.1,501.3 235.9,502C236.7,502.7 238,503.3 238.8,504C239.6,504.7 240.1,505.3 240.7,506C241.3,506.7 241.8,507.3 242.4,508C243,508.7 243.5,509.3 244.1,510C244.7,510.7 245.3,511.3 245.8,512C246.4,512.7 247,513.3 247.5,514C248.1,514.7 248.7,515.3 249.2,516C249.8,516.7 250.3,517.3 250.9,518C251.4,518.7 252,519.3 252.5,520C253.1,520.7 253.6,521.3 254.2,522C254.7,522.7 255.3,523.3 255.8,524C256.4,524.7 256.9,525.3 257.5,526C258.1,526.7 258.6,527.3 259.2,528C259.7,528.7 260.3,529.3 260.8,530C261.4,530.7 262,531.3 262.5,532C263.1,532.7 263.6,533.3 264.2,534C264.7,534.7 265.3,535.3 265.8,536C266.4,536.7 266.9,537.3 267.5,538C268,538.7 268.6,539.3 269.1,540C269.7,540.7 270.2,541.3 270.8,542C271.3,542.7 271.9,543.3 272.4,544C273,544.7 273.6,545.3 274.1,546C274.7,546.7 275.2,547.3 275.8,548C276.3,548.7 276.9,549.3 277.4,550C278,550.7 278.6,551.3 279.1,552C279.7,552.7 280.3,553.3 280.8,554C281.4,554.7 282,555.3 282.6,556C283.2,556.7 283.8,557.3 284.4,558C285.1,558.7 286,559.7 286.3,560" fill="none" stroke="#ffc838" stroke-width="5" stroke-dasharray="1.4 2.6" opacity="0.55" filter="url(#blur05)"/>
<g filter="url(#speckB)" opacity="0.6">
<path d="M237.8,292.5C237.3,293.5 236,296.5 234.9,298.5C233.9,300.5 232.6,302.5 231.4,304.5C230.2,306.5 228.9,308.5 227.6,310.5C226.3,312.5 225,314.5 223.6,316.5C222.2,318.5 220.8,320.5 219.4,322.5C218,324.5 216.5,326.5 215.1,328.5C213.7,330.5 212.3,332.5 211.1,334.5C209.8,336.5 208.7,338.5 207.6,340.5C206.4,342.5 205.5,344.5 204.2,346.5C202.8,348.5 201.5,350.5 199.8,352.5C198.1,354.5 195.4,356.5 193.9,358.5C192.5,360.5 191.9,362.5 191.2,364.5C190.5,366.5 190.1,368.5 189.7,370.5C189.4,372.5 189.2,374.5 189,376.5C188.8,378.5 188.7,380.5 188.6,382.5C188.5,384.5 188.3,386.5 188.2,388.5C188,390.5 188,392.5 187.9,394.5C187.8,396.5 187.7,398.5 187.6,400.5C187.4,402.5 187.3,404.5 187.1,406.5C186.9,408.5 186.7,410.5 186.6,412.5C186.4,414.5 186.3,416.5 186.2,418.5C186.1,420.5 186.1,422.5 186.2,424.5C186.3,426.5 186.5,428.5 186.7,430.5C186.9,432.5 187.2,434.5 187.5,436.5C187.8,438.5 188.2,440.5 188.6,442.5C189.1,444.5 189.7,446.5 190.3,448.5C191,450.5 191.8,452.5 192.7,454.5C193.6,456.5 194.7,458.5 195.8,460.5C196.9,462.5 198.2,464.5 199.5,466.5C200.7,468.5 202.1,470.5 203.3,472.5C204.6,474.5 205.9,476.5 207.1,478.5C208.3,480.5 209.5,482.5 210.8,484.5C212,486.5 213.3,488.5 214.6,490.5C215.9,492.5 217.2,494.5 218.3,496.5C219.5,498.5 220.7,500.5 221.7,502.5C222.8,504.5 223.7,506.5 224.6,508.5C225.4,510.5 226.2,512.5 226.9,514.5C227.6,516.5 228.2,518.5 228.9,520.5C229.6,522.5 230.2,524.5 230.8,526.5C231.5,528.5 232.2,530.5 232.9,532.5C233.5,534.5 234.2,536.5 234.8,538.5C235.4,540.5 236.1,542.5 236.7,544.5C237.4,546.5 238,548.5 238.7,550.5C239.5,552.5 240.3,554.7 241.1,556.5C241.9,558.3 243.3,560.7 243.7,561.5 L305.3,561.5C304.4,560.7 301.8,558.3 299.8,556.5C297.9,554.7 295.6,552.5 293.5,550.5C291.4,548.5 289.4,546.5 287.3,544.5C285.3,542.5 283.2,540.5 281.1,538.5C279.1,536.5 277,534.5 275,532.5C272.9,530.5 270.8,528.5 268.7,526.5C266.7,524.5 264.6,522.5 262.6,520.5C260.5,518.5 258.4,516.5 256.4,514.5C254.3,512.5 252.4,510.5 250.1,508.5C247.8,506.5 245,504.5 242.6,502.5C240.2,500.5 237.7,498.5 235.7,496.5C233.8,494.5 232.3,492.5 230.7,490.5C229.2,488.5 227.7,486.5 226.2,484.5C224.8,482.5 223.4,480.5 222.2,478.5C220.9,476.5 219.7,474.5 218.5,472.5C217.3,470.5 216.1,468.5 215,466.5C213.9,464.5 212.7,462.5 211.7,460.5C210.6,458.5 209.6,456.5 208.7,454.5C207.9,452.5 207.1,450.5 206.4,448.5C205.8,446.5 205.2,444.5 204.7,442.5C204.3,440.5 204.1,438.5 203.9,436.5C203.7,434.5 203.6,432.5 203.6,430.5C203.6,428.5 203.6,426.5 203.6,424.5C203.7,422.5 203.7,420.5 203.8,418.5C203.9,416.5 204,414.5 204.2,412.5C204.3,410.5 204.5,408.5 204.6,406.5C204.8,404.5 205,402.5 205.1,400.5C205.3,398.5 205.4,396.5 205.6,394.5C205.8,392.5 205.9,390.5 206.2,388.5C206.4,386.5 206.7,384.5 207.1,382.5C207.5,380.5 207.9,378.5 208.6,376.5C209.3,374.5 210.3,372.5 211.3,370.5C212.3,368.5 213.4,366.5 214.7,364.5C216,362.5 217.4,360.5 218.9,358.5C220.5,356.5 222.5,354.5 224.1,352.5C225.7,350.5 226.9,348.5 228.5,346.5C230.1,344.5 231.4,342.5 233.9,340.5C236.4,338.5 241,336.5 243.7,334.5C246.4,332.5 247.9,330.5 250,328.5C252.1,326.5 254.1,324.5 256.2,322.5C258.3,320.5 260.4,318.5 262.5,316.5C264.6,314.5 266.7,312.5 268.7,310.5C270.8,308.5 272.9,306.5 274.9,304.5C277,302.5 279,300.5 281,298.5C283,296.5 285.9,293.5 286.9,292.5 Z" fill="#000" fill-opacity="1" />
</g>
<path d="M239,292C238.8,292.5 238.1,294 237.6,295C237.1,296 236.7,297 236.2,298C235.7,299 235.1,300 234.5,301C233.9,302 233.3,303 232.7,304C232.1,305 231.5,306 230.8,307C230.2,308 229.5,309 228.9,310C228.2,311 227.6,312 226.9,313C226.3,314 225.6,315 224.9,316C224.3,317 223.6,318 222.9,319C222.2,320 221.5,321 220.8,322C220,323 219.3,324 218.6,325C217.9,326 217.2,327 216.5,328C215.7,329 215,330 214.4,331C213.7,332 213,333 212.4,334C211.7,335 211.1,336 210.6,337C210,338 209.4,339 208.9,340C208.3,341 207.8,342 207.2,343C206.6,344 206.1,345 205.5,346C204.8,347 204.3,348 203.6,349C202.9,350 202.2,351 201.3,352C200.3,353 198.9,354 197.9,355C196.9,356 196,357 195.2,358C194.5,359 194.1,360 193.6,361C193.1,362 192.7,363 192.3,364C192,365 191.7,366 191.4,367C191.2,368 191,369 190.8,370C190.6,371 190.5,372 190.4,373C190.2,374 190.1,375 190,376C190,377 189.9,378 189.8,379C189.8,380 189.7,381 189.6,382C189.6,383 189.5,384 189.4,385C189.3,386 189.3,387 189.2,388C189.1,389 189.1,390 189,391C189,392 188.9,393 188.9,394C188.8,395 188.8,396 188.7,397C188.7,398 188.7,399 188.6,400C188.5,401 188.5,402 188.4,403C188.3,404 188.2,405 188.2,406C188.1,407 188,408 187.9,409C187.8,410 187.7,411 187.6,412C187.5,413 187.4,414 187.4,415C187.3,416 187.3,417 187.2,418C187.2,419 187.1,420 187.1,421C187.1,422 187.1,423 187.2,424C187.2,425 187.3,426 187.4,427C187.5,428 187.5,429 187.7,430C187.8,431 187.9,432 188,433C188.1,434 188.2,435 188.4,436C188.6,437 188.7,438 188.9,439C189.1,440 189.3,441 189.5,442C189.8,443 190,444 190.3,445C190.5,446 190.8,447 191.2,448C191.5,449 191.8,450 192.2,451C192.6,452 193,453 193.4,454C193.9,455 194.4,456 194.9,457C195.4,458 196,459 196.5,460C197.1,461 197.7,462 198.3,463C198.9,464 199.5,465 200.2,466C200.8,467 201.4,468 202.1,469C202.7,470 203.4,471 204,472C204.7,473 205.3,474 205.9,475C206.6,476 207.2,477 207.8,478C208.4,479 209,480 209.6,481C210.2,482 210.8,483 211.5,484C212.1,485 212.7,486 213.4,487C214,488 214.7,489 215.3,490C215.9,491 216.6,492 217.2,493C217.8,494 218.4,495 219,496C219.6,497 220.2,498 220.8,499C221.4,500 221.9,501 222.5,502C223,503 223.5,504 224,505C224.5,506 224.9,507 225.4,508C225.8,509 226.2,510 226.6,511C227,512 227.4,513 227.7,514C228.1,515 228.4,516 228.8,517C229.1,518 229.4,519 229.7,520C230.1,521 230.4,522 230.7,523C231,524 231.3,525 231.7,526C232,527 232.3,528 232.7,529C233,530 233.3,531 233.7,532C234,533 234.3,534 234.7,535C235,536 235.3,537 235.6,538C236,539 236.3,540 236.6,541C236.9,542 237.2,543 237.6,544C237.9,545 238.2,546 238.5,547C238.9,548 239.2,549 239.6,550C239.9,551 240.2,552 240.6,553C241,554 241.4,555 241.9,556C242.3,557 243.2,558.5 243.4,559" fill="none" stroke="#ffe890" stroke-width="1.5" stroke-dasharray="1.5 1.8" opacity="0.8"/>
<ellipse cx="204" cy="366" rx="3.5" ry="7.5" transform="rotate(-20 204 366)" fill="#2a7a3a" filter="url(#blur05)"/>
<g filter="url(#blur1)">
<path d="M184.5,405C184.3,406 183.5,409 182.9,411C182.4,413 181.8,415 181.3,417C180.8,419 180.3,421 180,423C179.6,425 179.5,427 179.3,429C179.1,431 178.9,433 178.8,435C178.8,437 178.7,439 178.8,441C178.9,443 179,445 179.4,447C179.7,449 180.2,451 180.9,453C181.6,455 182.6,457 183.7,459C184.7,461 186,463 187.2,465C188.5,467 189.9,469 191.2,471C192.6,473 193.9,475 195.2,477C196.4,479 197.6,481 198.8,483C200.1,485 201.4,487 202.6,489C203.9,491 205.2,493 206.4,495C207.6,497 208.8,499 209.9,501C211,503 212,505 212.9,507C213.8,509 214.6,511 215.4,513C216.1,515 216.8,517 217.4,519C218.1,521 218.7,523 219.3,525C220,527 220.7,529 221.3,531C222,533 222.7,535 223.3,537C224,539 224.6,541 225.2,543C225.9,545 226.5,547 227.2,549C227.9,551 228.5,553 229.4,555C230.3,557 231.9,559.8 232.5,561C233.1,562.2 232.9,561.8 233,562 L245,562C244.9,561.8 245.1,562.2 244.5,561C243.9,559.8 242.3,557 241.4,555C240.5,553 239.9,551 239.2,549C238.5,547 237.9,545 237.2,543C236.6,541 236,539 235.3,537C234.7,535 234,533 233.3,531C232.7,529 232,527 231.3,525C230.7,523 230.1,521 229.4,519C228.8,517 228.1,515 227.4,513C226.6,511 225.8,509 224.9,507C224,505 223,503 221.9,501C220.8,499 219.6,497 218.4,495C217.2,493 215.9,491 214.6,489C213.4,487 212.1,485 210.8,483C209.6,481 208.4,479 207.2,477C205.9,475 204.7,473 203.4,471C202.1,469 200.8,467 199.5,465C198.3,463 197.1,461 196,459C194.9,457 193.9,455 193,453C192.2,451 191.5,449 190.8,447C190.2,445 189.7,443 189.3,441C188.9,439 188.5,437 188.3,435C188,433 187.7,431 187.6,429C187.4,427 187.2,425 187.2,423C187.1,421 187.2,419 187.3,417C187.4,415 187.5,413 187.7,411C187.9,409 188.2,406 188.2,405 Z" fill="#0c6a6a" fill-opacity="1" />
</g>
<g filter="url(#blur05)">
<path d="M179.7,430C179.8,431 180.1,434 180.4,436C180.7,438 181.1,440 181.5,442C182,444 182.5,446 183.2,448C183.8,450 184.6,452 185.4,454C186.3,456 187.4,458 188.5,460C189.6,462 190.9,464 192.2,466C193.4,468 194.8,470 196,472C197.3,474 198.6,476 199.8,478C201,480 202.2,482 203.5,484C204.7,486 206,488 207.3,490C208.5,492 209.8,494 211,496C212.2,498 213.4,500 214.5,502C215.5,504 216.5,506 217.4,508C218.2,510 219,512 219.7,514C220.4,516 221.1,518 221.7,520C222.4,522 223,524 223.7,526C224.3,528 225,530 225.7,532C226.3,534 227,536 227.6,538C228.3,540 228.9,542 229.6,544C230.2,546 230.8,548 231.6,550C232.3,552 233,554 233.9,556C234.8,558 236.5,561 237,562 L240,562C239.5,561 237.8,558 236.9,556C236,554 235.3,552 234.6,550C233.8,548 233.2,546 232.6,544C231.9,542 231.3,540 230.6,538C230,536 229.3,534 228.7,532C228,530 227.3,528 226.7,526C226,524 225.4,522 224.7,520C224.1,518 223.4,516 222.7,514C222,512 221.2,510 220.4,508C219.5,506 218.5,504 217.5,502C216.4,500 215.2,498 214,496C212.8,494 211.5,492 210.3,490C209,488 207.7,486 206.5,484C205.2,482 204,480 202.8,478C201.6,476 200.3,474 199,472C197.8,470 196.4,468 195.2,466C193.9,464 192.6,462 191.5,460C190.4,458 189.3,456 188.4,454C187.6,452 186.8,450 186.2,448C185.5,446 185,444 184.5,442C184.1,440 183.7,438 183.4,436C183.1,434 182.8,431 182.7,430 Z" fill="#101c48" fill-opacity="1" />
</g>
<g filter="url(#blur05)">
<path d="M192.1,440C192.3,441 193,444 193.6,446C194.1,448 194.8,450 195.6,452C196.4,454 197.4,456 198.4,458C199.5,460 200.7,462 201.9,464C203.1,466 204.5,468 205.7,470C207,472 208.3,474 209.6,476C210.8,478 212,480 213.2,482C214.5,484 215.7,486 217,488C218.3,490 219.6,492 220.8,494C222,496 223.3,498 224.4,500C225.5,502 226.5,504 227.5,506C228.4,508 229.2,510 230,512C230.8,514 231.4,516 232.1,518C232.8,520 233.4,522 234,524C234.7,526 235.3,528 236,530C236.7,532 237.3,534 238,536C238.7,538 239.3,540 239.9,542C240.6,544 241.2,546 241.9,548C242.6,550 243.2,552 244,554C244.8,556 246.3,558.7 247,560C247.6,561.3 247.8,561.7 248,562 L250.5,562C250.3,561.7 250.1,561.3 249.5,560C248.8,558.7 247.3,556 246.5,554C245.7,552 245.1,550 244.4,548C243.7,546 243.1,544 242.4,542C241.8,540 241.2,538 240.5,536C239.8,534 239.2,532 238.5,530C237.8,528 237.2,526 236.5,524C235.9,522 235.3,520 234.6,518C233.9,516 233.3,514 232.5,512C231.7,510 230.9,508 230,506C229,504 228,502 226.9,500C225.8,498 224.5,496 223.3,494C222.1,492 220.8,490 219.5,488C218.2,486 217,484 215.7,482C214.5,480 213.3,478 212.1,476C210.8,474 209.5,472 208.2,470C207,468 205.6,466 204.4,464C203.2,462 202,460 200.9,458C199.9,456 198.9,454 198.1,452C197.3,450 196.6,448 196.1,446C195.5,444 194.8,441 194.6,440 Z" fill="#142050" fill-opacity="0.9" />
</g>
<g filter="url(#blur05)">
<path d="M202.2,460C202.7,461 204.3,464 205.4,466C206.5,468 207.6,470 208.7,472C209.9,474 211,476 212.3,478C213.6,480 215,482 216.5,484C218,486 219.5,488 221.2,490C222.9,492 224.5,494 226.7,496C228.8,498 231.4,500 234.3,502C237.3,504 241.4,506 244.5,508C247.5,510 250.8,512.8 252.3,514C253.9,515.2 253.4,514.8 253.7,515 L259.7,515C259.4,514.8 259.9,515.2 258.3,514C256.8,512.8 253.5,510 250.5,508C247.4,506 243.3,504 240.3,502C237.4,500 234.8,498 232.7,496C230.5,494 228.9,492 227.2,490C225.5,488 224,486 222.5,484C221,482 219.6,480 218.3,478C217,476 215.9,474 214.7,472C213.6,470 212.5,468 211.4,466C210.3,464 208.7,461 208.2,460 Z" fill="#141a50" fill-opacity="0.9" />
</g>
<path d="M262,325C260,326.7 252.8,333 250,335C247.2,337 247.7,335.8 245.3,337C243,338.2 238.6,339.7 235.9,342C233.2,344.3 231.3,347.8 229,350.7C226.7,353.6 224.3,356.4 222,359.3C219.7,362.2 217.2,365.1 215.2,368C213.2,370.9 211.3,373.7 210,376.6C208.7,379.5 208.1,381.3 207.4,385.2C206.7,389.1 206.2,393.9 205.7,400C205.2,406.1 204.4,415.3 204.2,422C203.9,428.7 203.5,434.7 204.2,440C204.9,445.3 206.5,449.1 208.3,453.7C210.1,458.2 212.6,462.8 215.1,467.3C217.6,471.9 220.1,476.4 223.3,481C226.5,485.6 231.1,491.2 234.3,494.6C237.5,498 240.1,499.9 242.4,501.5C244.7,503.1 245.7,502.6 248,504C250.3,505.4 254.7,509 256,510 L600,510.0 L600,325.0 Z" fill="#fffa00" filter="url(#blur05)"/>
</g>
<clipPath id="clipg"><rect x="258.1" y="299.5" width="102.0" height="254.0"/></clipPath><g clip-path="url(#clipg)">
<rect x="258.1" y="299.5" width="102.0" height="254.0" fill="url(#gBrown)"/>
<g filter="url(#blur8)">
<path d="M142.4,380C139.5,381 127.8,384 125,386C122.2,388 125.3,390 125.7,392C126.1,394 127.1,396 127.7,398C128.2,400 128.7,402 129,404C129.4,406 129.8,408 130,410C130.2,412 130.3,414 130.4,416C130.6,418 130.6,420 130.7,422C130.8,424 130.8,426 130.9,428C130.9,430 131,432 131,434C131.1,436 131.2,438 131.3,440C131.4,442 131.5,444 131.7,446C131.9,448 132.1,450 132.4,452C132.7,454 133.1,456 133.5,458C134,460 134.5,462 135.1,464C135.6,466 136.3,468 136.9,470C137.5,472 138.2,474 138.8,476C139.4,478 140,480 140.6,482C141.2,484 141.8,486 142.5,488C143.1,490 143.7,492 144.4,494C145.1,496 145.7,498 146.4,500C147.1,502 147.8,504 148.6,506C149.3,508 150,510 150.8,512C151.6,514 152.4,516 153.2,518C154,520 154.8,522 155.6,524C156.4,526 157.2,528 158,530C158.8,532 159.6,534 160.4,536C161.3,538 162.1,540 162.9,542C163.7,544 164.6,546 165.4,548C166.3,550 167.1,552 168,554C168.9,556 170,558 171,560C172,562 173,564 174,566C175,568 176.2,570.5 177,572C177.8,573.5 178.2,574.5 178.5,575 L334.5,575C334.2,574.5 333.8,573.5 333,572C332.2,570.5 331,568 330,566C329,564 328,562 327,560C326,558 324.9,556 324,554C323.1,552 322.3,550 321.4,548C320.6,546 319.7,544 318.9,542C318.1,540 317.3,538 316.4,536C315.6,534 314.8,532 314,530C313.2,528 312.4,526 311.6,524C310.8,522 310,520 309.2,518C308.4,516 307.6,514 306.8,512C306,510 305.3,508 304.6,506C303.8,504 303.1,502 302.4,500C301.7,498 301.1,496 300.4,494C299.7,492 299.1,490 298.5,488C297.8,486 297.2,484 296.6,482C296,480 295.4,478 294.8,476C294.2,474 293.5,472 292.9,470C292.3,468 291.6,466 291.1,464C290.5,462 290,460 289.5,458C289.1,456 288.7,454 288.4,452C288.1,450 287.9,448 287.7,446C287.5,444 287.4,442 287.3,440C287.2,438 287.1,436 287,434C287,432 286.9,430 286.9,428C286.8,426 286.8,424 286.7,422C286.6,420 286.6,418 286.4,416C286.3,414 286.2,412 286,410C285.8,408 285.4,406 285,404C284.7,402 284.2,400 283.7,398C283.1,396 282.1,394 281.7,392C281.3,390 278.2,388 281,386C283.8,384 295.5,381 298.4,380 Z" fill="#ae4012" fill-opacity="0.9" />
</g>
<g filter="url(#blur4)">
<path d="M293.1,410C292.5,411 290.8,414 289.7,416C288.5,418 287.2,420 286.1,422C284.9,424 283.8,426 282.9,428C281.9,430 281.2,432 280.5,434C279.7,436 279,438 278.4,440C277.8,442 277.3,444 276.9,446C276.5,448 276.2,450 276,452C275.8,454 275.8,456 275.8,458C275.8,460 275.9,462 276,464C276.2,466 276.4,468 276.6,470C276.8,472 277.1,474 277.4,476C277.7,478 278,480 278.3,482C278.7,484 279.1,486 279.6,488C280,490 280.5,492 281,494C281.6,496 282.1,498 282.7,500C283.2,502 283.7,504 284.3,506C284.8,508 285.3,510 285.9,512C286.5,514 287.1,516 287.6,518C288.2,520 288.8,522 289.3,524C289.9,526 290.5,528 291,530C291.5,532 292,534 292.5,536C293,538 293.5,540 294,542C294.4,544 294.9,546 295.4,548C295.9,550 296.4,552 297,554C297.6,556 298.7,558.7 299.2,560C299.7,561.3 299.9,561.7 300,562 L335,562C334.8,561.7 334.6,561.3 334,560C333.3,558.7 331.9,556 331,554C330.1,552 329.3,550 328.4,548C327.6,546 326.7,544 325.9,542C325.1,540 324.3,538 323.4,536C322.6,534 321.8,532 321,530C320.2,528 319.4,526 318.6,524C317.8,522 317,520 316.2,518C315.4,516 314.6,514 313.8,512C313,510 312.3,508 311.6,506C310.8,504 310.1,502 309.4,500C308.7,498 308.1,496 307.4,494C306.7,492 306.1,490 305.5,488C304.8,486 304.2,484 303.6,482C303,480 302.4,478 301.8,476C301.2,474 300.5,472 299.9,470C299.3,468 298.6,466 298.1,464C297.5,462 297,460 296.5,458C296.1,456 295.7,454 295.4,452C295.1,450 294.9,448 294.7,446C294.5,444 294.4,442 294.3,440C294.2,438 294.1,436 294,434C294,432 293.9,430 293.9,428C293.8,426 293.8,424 293.7,422C293.6,420 293.6,418 293.4,416C293.3,414 293.1,411 293,410 Z" fill="#3c8a2c" fill-opacity="0.88" />
</g>
<g filter="url(#blur05)">
<path d="M349.4,291.5C349.1,292.5 348.2,295.5 347.2,297.5C346.2,299.5 344.8,301.5 343.4,303.5C342.1,305.5 340.5,307.5 339,309.5C337.6,311.5 336.1,313.5 334.8,315.5C333.4,317.5 332.2,319.5 331,321.5C329.7,323.5 328.5,325.5 327.4,327.5C326.2,329.5 325.1,331.5 324,333.5C322.9,335.5 321.8,337.5 320.8,339.5C319.8,341.5 318.8,343.5 317.8,345.5C316.9,347.5 315.9,349.5 315,351.5C314.2,353.5 313.3,355.5 312.5,357.5C311.7,359.5 311,361.5 310.2,363.5C309.5,365.5 308.6,367.5 308,369.5C307.4,371.5 308,373.5 306.5,375.5C305.1,377.5 303.2,379.5 299.5,381.5C295.8,383.5 286.5,385.5 284.3,387.5C282.2,389.5 285.9,391.5 286.5,393.5C287.1,395.5 287.5,397.5 288,399.5C288.5,401.5 289,403.5 289.3,405.5C289.7,407.5 289.9,409.5 290.1,411.5C290.3,413.5 290.4,415.5 290.5,417.5C290.6,419.5 290.7,421.5 290.8,423.5C290.8,425.5 290.9,427.5 290.9,429.5C291,431.5 291,433.5 291.1,435.5C291.2,437.5 291.2,439.5 291.4,441.5C291.5,443.5 291.6,445.5 291.9,447.5C292.1,449.5 292.3,451.5 292.6,453.5C293,455.5 293.4,457.5 293.9,459.5C294.4,461.5 294.9,463.5 295.5,465.5C296.1,467.5 296.7,469.5 297.4,471.5C298,473.5 298.6,475.5 299.2,477.5C299.9,479.5 300.4,481.5 301.1,483.5C301.7,485.5 302.3,487.5 302.9,489.5C303.6,491.5 304.2,493.5 304.9,495.5C305.6,497.5 306.3,499.5 307,501.5C307.7,503.5 308.4,505.5 309.1,507.5C309.9,509.5 310.6,511.5 311.4,513.5C312.2,515.5 313,517.5 313.8,519.5C314.6,521.5 315.4,523.5 316.2,525.5C317,527.5 317.8,529.5 318.6,531.5C319.4,533.5 320.2,535.5 321,537.5C321.9,539.5 322.7,541.5 323.5,543.5C324.4,545.5 325.2,547.5 326.1,549.5C326.9,551.5 327.7,553.5 328.7,555.5C329.6,557.5 331.2,560.5 331.7,561.5 L436.8,561.5C435.6,560.5 432,557.5 429.6,555.5C427.2,553.5 424.8,551.5 422.4,549.5C420,547.5 417.6,545.5 415.2,543.5C412.8,541.5 410.4,539.5 408,537.5C405.6,535.5 403.2,533.5 400.8,531.5C398.4,529.5 396,527.5 393.6,525.5C391.2,523.5 388.8,521.5 386.4,519.5C384,517.5 381.6,515.5 379.2,513.5C376.8,511.5 374.6,509.5 372,507.5C369.5,505.5 366.9,503.5 364,501.5C361.1,499.5 357.2,497.5 354.4,495.5C351.6,493.5 349,491.5 347.1,489.5C345.1,487.5 343.9,485.5 342.5,483.5C341.2,481.5 340,479.5 339,477.5C337.9,475.5 336.9,473.5 335.9,471.5C335,469.5 334.2,467.5 333.4,465.5C332.6,463.5 332,461.5 331.4,459.5C330.8,457.5 330.2,455.5 329.7,453.5C329.2,451.5 328.7,449.5 328.3,447.5C327.9,445.5 327.6,443.5 327.2,441.5C326.8,439.5 326.5,437.5 326.1,435.5C325.7,433.5 325,431.5 324.7,429.5C324.4,427.5 324.4,425.5 324.5,423.5C324.5,421.5 324.6,419.5 324.8,417.5C324.9,415.5 325.1,413.5 325.3,411.5C325.5,409.5 325.8,407.5 326,405.5C326.3,403.5 326.5,401.5 326.8,399.5C327,397.5 327.2,395.5 327.5,393.5C327.9,391.5 328.2,389.5 328.7,387.5C329.2,385.5 329.8,383.5 330.5,381.5C331.1,379.5 331.9,377.5 332.7,375.5C333.5,373.5 334.3,371.5 335.4,369.5C336.5,367.5 337.9,365.5 339.4,363.5C340.9,361.5 342.8,359.5 344.5,357.5C346.1,355.5 347.9,353.5 349.4,351.5C350.9,349.5 352.2,347.5 353.6,345.5C354.9,343.5 356.1,341.5 357.5,339.5C358.9,337.5 360,335.5 362,333.5C364,331.5 367.1,329.5 369.6,327.5C372.2,325.5 374.6,323.5 377.1,321.5C379.6,319.5 382.1,317.5 384.6,315.5C387.1,313.5 389.6,311.5 392.1,309.5C394.6,307.5 397.1,305.5 399.6,303.5C402.1,301.5 404.6,299.5 407.1,297.5C409.6,295.5 413.4,292.5 414.6,291.5 Z" fill="#f4ae36" fill-opacity="1" />
</g>
<g filter="url(#blur1)">
<path d="M372.9,291.5C372.2,292.5 370.3,295.5 368.8,297.5C367.2,299.5 365.4,301.5 363.7,303.5C361.9,305.5 360,307.5 358.2,309.5C356.3,311.5 354.5,313.5 352.7,315.5C350.9,317.5 349.3,319.5 347.6,321.5C345.9,323.5 344.2,325.5 342.6,327.5C340.9,329.5 339.1,331.5 337.7,333.5C336.3,335.5 335.2,337.5 334,339.5C332.9,341.5 331.8,343.5 330.7,345.5C329.6,347.5 328.5,349.5 327.4,351.5C326.3,353.5 325.1,355.5 324,357.5C322.9,359.5 321.8,361.5 320.7,363.5C319.7,365.5 318.7,367.5 317.9,369.5C317.1,371.5 317.2,373.5 316,375.5C314.7,377.5 313.3,379.5 310.7,381.5C308,383.5 301.9,385.5 300.3,387.5C298.7,389.5 301,391.5 301.3,393.5C301.5,395.5 301.7,397.5 302,399.5C302.2,401.5 302.4,403.5 302.5,405.5C302.7,407.5 302.8,409.5 302.8,411.5C302.9,413.5 302.8,415.5 302.9,417.5C302.9,419.5 302.8,421.5 302.9,423.5C302.9,425.5 302.9,427.5 303.1,429.5C303.2,431.5 303.5,433.5 303.7,435.5C303.9,437.5 304.1,439.5 304.3,441.5C304.5,443.5 304.7,445.5 305,447.5C305.3,449.5 305.6,451.5 306,453.5C306.4,455.5 306.8,457.5 307.4,459.5C307.9,461.5 308.5,463.5 309.2,465.5C309.8,467.5 310.5,469.5 311.2,471.5C312,473.5 312.7,475.5 313.5,477.5C314.3,479.5 315.1,481.5 316,483.5C316.9,485.5 317.7,487.5 318.8,489.5C319.9,491.5 321.3,493.5 322.7,495.5C324.2,497.5 326,499.5 327.5,501.5C329,503.5 330.4,505.5 331.8,507.5C333.2,509.5 334.4,511.5 335.8,513.5C337.2,515.5 338.5,517.5 339.9,519.5C341.3,521.5 342.7,523.5 344.1,525.5C345.4,527.5 346.8,529.5 348.2,531.5C349.6,533.5 351,535.5 352.3,537.5C353.7,539.5 355.1,541.5 356.5,543.5C357.9,545.5 359.3,547.5 360.7,549.5C362.2,551.5 363.5,553.5 365,555.5C366.5,557.5 368.8,560.5 369.6,561.5 L396.9,561.5C395.9,560.5 393.1,557.5 391.3,555.5C389.4,553.5 387.6,551.5 385.8,549.5C384,547.5 382.2,545.5 380.4,543.5C378.6,541.5 376.8,539.5 375,537.5C373.2,535.5 371.4,533.5 369.6,531.5C367.8,529.5 366,527.5 364.2,525.5C362.4,523.5 360.6,521.5 358.8,519.5C357,517.5 355.2,515.5 353.4,513.5C351.7,511.5 350,509.5 348.1,507.5C346.3,505.5 344.4,503.5 342.3,501.5C340.2,499.5 337.6,497.5 335.6,495.5C333.6,493.5 331.8,491.5 330.3,489.5C328.8,487.5 327.8,485.5 326.8,483.5C325.7,481.5 324.8,479.5 323.9,477.5C322.9,475.5 322.1,473.5 321.3,471.5C320.5,469.5 319.7,467.5 319,465.5C318.3,463.5 317.7,461.5 317.1,459.5C316.6,457.5 316,455.5 315.6,453.5C315.1,451.5 314.8,449.5 314.5,447.5C314.1,445.5 313.9,443.5 313.6,441.5C313.3,439.5 313.1,437.5 312.8,435.5C312.5,433.5 312.1,431.5 311.9,429.5C311.7,427.5 311.7,425.5 311.6,423.5C311.6,421.5 311.7,419.5 311.8,417.5C311.8,415.5 311.9,413.5 312,411.5C312,409.5 312.1,407.5 312.1,405.5C312.1,403.5 312.1,401.5 312,399.5C312,397.5 312,395.5 311.9,393.5C311.9,391.5 310.7,389.5 311.8,387.5C313,385.5 316.9,383.5 318.7,381.5C320.5,379.5 321.7,377.5 322.8,375.5C323.8,373.5 324.1,371.5 325,369.5C325.9,367.5 327.1,365.5 328.3,363.5C329.5,361.5 331,359.5 332.3,357.5C333.7,355.5 335.1,353.5 336.3,351.5C337.6,349.5 338.8,347.5 340,345.5C341.2,343.5 342.3,341.5 343.6,339.5C344.8,337.5 345.9,335.5 347.6,333.5C349.2,331.5 351.6,329.5 353.6,327.5C355.6,325.5 357.6,323.5 359.6,321.5C361.6,319.5 363.6,317.5 365.7,315.5C367.7,313.5 369.9,311.5 372,309.5C374.1,307.5 376.2,305.5 378.3,303.5C380.3,301.5 382.4,299.5 384.4,297.5C386.3,295.5 388.9,292.5 389.9,291.5 Z" fill="#e2581e" fill-opacity="0.8" />
<path d="M392.5,291.5C391.5,292.5 388.7,295.5 386.8,297.5C384.8,299.5 382.6,301.5 380.5,303.5C378.4,305.5 376.2,307.5 374.1,309.5C371.9,311.5 369.8,313.5 367.7,315.5C365.6,317.5 363.5,319.5 361.4,321.5C359.4,323.5 357.3,325.5 355.3,327.5C353.2,329.5 350.8,331.5 349.1,333.5C347.4,335.5 346.3,337.5 345,339.5C343.8,341.5 342.6,343.5 341.4,345.5C340.2,347.5 339,349.5 337.7,351.5C336.4,353.5 335,355.5 333.6,357.5C332.2,359.5 330.7,361.5 329.5,363.5C328.2,365.5 327.1,367.5 326.1,369.5C325.2,371.5 324.8,373.5 323.8,375.5C322.8,377.5 321.6,379.5 319.9,381.5C318.2,383.5 314.7,385.5 313.6,387.5C312.5,389.5 313.6,391.5 313.6,393.5C313.6,395.5 313.6,397.5 313.6,399.5C313.6,401.5 313.6,403.5 313.6,405.5C313.5,407.5 313.4,409.5 313.4,411.5C313.3,413.5 313.2,415.5 313.1,417.5C313.1,419.5 313,421.5 313,423.5C313,425.5 313,427.5 313.2,429.5C313.4,431.5 313.9,433.5 314.2,435.5C314.5,437.5 314.7,439.5 315,441.5C315.3,443.5 315.6,445.5 315.9,447.5C316.3,449.5 316.6,451.5 317.1,453.5C317.5,455.5 318.1,457.5 318.6,459.5C319.2,461.5 319.8,463.5 320.5,465.5C321.2,467.5 322,469.5 322.8,471.5C323.6,473.5 324.5,475.5 325.4,477.5C326.4,479.5 327.3,481.5 328.4,483.5C329.5,485.5 330.5,487.5 332.1,489.5C333.6,491.5 335.5,493.5 337.6,495.5C339.7,497.5 342.4,499.5 344.6,501.5C346.8,503.5 348.7,505.5 350.6,507.5C352.6,509.5 354.3,511.5 356.1,513.5C358,515.5 359.8,517.5 361.7,519.5C363.6,521.5 365.4,523.5 367.3,525.5C369.1,527.5 371,529.5 372.9,531.5C374.7,533.5 376.6,535.5 378.4,537.5C380.3,539.5 382.2,541.5 384,543.5C385.9,545.5 387.8,547.5 389.6,549.5C391.5,551.5 393.4,553.5 395.3,555.5C397.2,557.5 400.1,560.5 401.1,561.5 L436.8,561.5C435.6,560.5 432,557.5 429.6,555.5C427.2,553.5 424.8,551.5 422.4,549.5C420,547.5 417.6,545.5 415.2,543.5C412.8,541.5 410.4,539.5 408,537.5C405.6,535.5 403.2,533.5 400.8,531.5C398.4,529.5 396,527.5 393.6,525.5C391.2,523.5 388.8,521.5 386.4,519.5C384,517.5 381.6,515.5 379.2,513.5C376.8,511.5 374.6,509.5 372,507.5C369.5,505.5 366.9,503.5 364,501.5C361.1,499.5 357.2,497.5 354.4,495.5C351.6,493.5 349,491.5 347.1,489.5C345.1,487.5 343.9,485.5 342.5,483.5C341.2,481.5 340,479.5 339,477.5C337.9,475.5 336.9,473.5 335.9,471.5C335,469.5 334.2,467.5 333.4,465.5C332.6,463.5 332,461.5 331.4,459.5C330.8,457.5 330.2,455.5 329.7,453.5C329.2,451.5 328.7,449.5 328.3,447.5C327.9,445.5 327.6,443.5 327.2,441.5C326.8,439.5 326.5,437.5 326.1,435.5C325.7,433.5 325,431.5 324.7,429.5C324.4,427.5 324.4,425.5 324.5,423.5C324.5,421.5 324.6,419.5 324.8,417.5C324.9,415.5 325.1,413.5 325.3,411.5C325.5,409.5 325.8,407.5 326,405.5C326.3,403.5 326.5,401.5 326.8,399.5C327,397.5 327.2,395.5 327.5,393.5C327.9,391.5 328.2,389.5 328.7,387.5C329.2,385.5 329.8,383.5 330.5,381.5C331.1,379.5 331.9,377.5 332.7,375.5C333.5,373.5 334.3,371.5 335.4,369.5C336.5,367.5 337.9,365.5 339.4,363.5C340.9,361.5 342.8,359.5 344.5,357.5C346.1,355.5 347.9,353.5 349.4,351.5C350.9,349.5 352.2,347.5 353.6,345.5C354.9,343.5 356.1,341.5 357.5,339.5C358.9,337.5 360,335.5 362,333.5C364,331.5 367.1,329.5 369.6,327.5C372.2,325.5 374.6,323.5 377.1,321.5C379.6,319.5 382.1,317.5 384.6,315.5C387.1,313.5 389.6,311.5 392.1,309.5C394.6,307.5 397.1,305.5 399.6,303.5C402.1,301.5 404.6,299.5 407.1,297.5C409.6,295.5 413.4,292.5 414.6,291.5 Z" fill="#fcd432" fill-opacity="0.95" />
</g>
<path d="M360.8,291C360.6,291.3 360.1,292.3 359.8,293C359.5,293.7 359.1,294.3 358.8,295C358.4,295.7 358.1,296.3 357.7,297C357.3,297.7 356.9,298.3 356.4,299C355.9,299.7 355.4,300.3 354.9,301C354.4,301.7 353.9,302.3 353.4,303C352.9,303.7 352.3,304.3 351.8,305C351.2,305.7 350.7,306.3 350.1,307C349.6,307.7 349,308.3 348.5,309C347.9,309.7 347.4,310.3 346.8,311C346.3,311.7 345.7,312.3 345.2,313C344.7,313.7 344.1,314.3 343.6,315C343.1,315.7 342.6,316.3 342.1,317C341.6,317.7 341.1,318.3 340.6,319C340.1,319.7 339.6,320.3 339.2,321C338.7,321.7 338.2,322.3 337.7,323C337.3,323.7 336.8,324.3 336.3,325C335.8,325.7 335.4,326.3 334.9,327C334.4,327.7 334,328.3 333.5,329C333,329.7 332.6,330.3 332.1,331C331.6,331.7 331.2,332.3 330.8,333C330.3,333.7 330,334.3 329.6,335C329.2,335.7 328.8,336.3 328.4,337C328.1,337.7 327.7,338.3 327.3,339C327,339.7 326.6,340.3 326.2,341C325.9,341.7 325.5,342.3 325.2,343C324.8,343.7 324.5,344.3 324.2,345C323.8,345.7 323.5,346.3 323.1,347C322.8,347.7 322.5,348.3 322.1,349C321.8,349.7 321.5,350.3 321.1,351C320.8,351.7 320.5,352.3 320.1,353C319.8,353.7 319.5,354.3 319.2,355C318.8,355.7 318.5,356.3 318.2,357C317.9,357.7 317.6,358.3 317.3,359C316.9,359.7 316.6,360.3 316.3,361C316,361.7 315.7,362.3 315.4,363C315.1,363.7 314.8,364.3 314.5,365C314.2,365.7 313.9,366.3 313.6,367C313.3,367.7 313.1,368.3 312.8,369C312.6,369.7 312.5,370.3 312.3,371C312.1,371.7 312,372.3 311.8,373C311.6,373.7 311.5,374.3 311.2,375C310.9,375.7 310.7,376.3 310.2,377C309.8,377.7 309.3,378.3 308.6,379C307.8,379.7 306.8,380.3 305.7,381C304.5,381.7 303.6,382.3 301.8,383C300,383.7 296.4,384.3 294.7,385C293.1,385.7 292.5,386.3 292,387C291.5,387.7 291.8,388.3 291.9,389C291.9,389.7 292.2,390.3 292.4,391C292.7,391.7 293,392.3 293.3,393C293.5,393.7 293.7,394.3 293.9,395C294,395.7 294.1,396.3 294.2,397C294.3,397.7 294.4,398.3 294.5,399C294.6,399.7 294.8,400.3 294.9,401C295,401.7 295.1,402.3 295.2,403C295.3,403.7 295.4,404.3 295.5,405C295.6,405.7 295.7,406.3 295.8,407C295.8,407.7 295.9,408.3 296,409C296,409.7 296.1,410.3 296.1,411C296.1,411.7 296.2,412.3 296.2,413C296.2,413.7 296.2,414.3 296.3,415C296.3,415.7 296.3,416.3 296.3,417C296.4,417.7 296.4,418.3 296.4,419C296.4,419.7 296.4,420.3 296.4,421C296.4,421.7 296.5,422.3 296.5,423C296.5,423.7 296.5,424.3 296.5,425C296.5,425.7 296.5,426.3 296.6,427C296.6,427.7 296.6,428.3 296.6,429C296.7,429.7 296.7,430.3 296.7,431C296.8,431.7 296.8,432.3 296.9,433C296.9,433.7 297,434.3 297,435C297,435.7 297.1,436.3 297.1,437C297.2,437.7 297.2,438.3 297.3,439C297.3,439.7 297.4,440.3 297.4,441C297.5,441.7 297.5,442.3 297.6,443C297.6,443.7 297.7,444.3 297.8,445C297.8,445.7 297.9,446.3 298,447C298.1,447.7 298.1,448.3 298.2,449C298.3,449.7 298.4,450.3 298.5,451C298.6,451.7 298.7,452.3 298.8,453C299,453.7 299.1,454.3 299.2,455C299.4,455.7 299.5,456.3 299.7,457C299.8,457.7 300,458.3 300.1,459C300.3,459.7 300.5,460.3 300.6,461C300.8,461.7 301,462.3 301.2,463C301.4,463.7 301.6,464.3 301.8,465C302,465.7 302.2,466.3 302.4,467C302.6,467.7 302.8,468.3 303.1,469C303.3,469.7 303.5,470.3 303.7,471C304,471.7 304.2,472.3 304.4,473C304.7,473.7 304.9,474.3 305.1,475C305.4,475.7 305.6,476.3 305.8,477C306,477.7 306.3,478.3 306.5,479C306.7,479.7 307,480.3 307.2,481C307.4,481.7 307.7,482.3 307.9,483C308.2,483.7 308.4,484.3 308.7,485C308.9,485.7 309.2,486.3 309.4,487C309.7,487.7 309.9,488.3 310.2,489C310.5,489.7 310.8,490.3 311.1,491C311.4,491.7 311.7,492.3 312.1,493C312.4,493.7 312.7,494.3 313.1,495C313.4,495.7 313.7,496.3 314.1,497C314.4,497.7 314.8,498.3 315.2,499C315.6,499.7 316,500.3 316.4,501C316.7,501.7 317.1,502.3 317.5,503C317.8,503.7 318.2,504.3 318.5,505C318.9,505.7 319.2,506.3 319.6,507C319.9,507.7 320.2,508.3 320.6,509C320.9,509.7 321.3,510.3 321.6,511C322,511.7 322.3,512.3 322.7,513C323,513.7 323.4,514.3 323.7,515C324.1,515.7 324.4,516.3 324.8,517C325.1,517.7 325.5,518.3 325.8,519C326.2,519.7 326.6,520.3 326.9,521C327.3,521.7 327.6,522.3 328,523C328.3,523.7 328.7,524.3 329.1,525C329.4,525.7 329.8,526.3 330.2,527C330.5,527.7 330.9,528.3 331.2,529C331.6,529.7 331.9,530.3 332.3,531C332.7,531.7 333,532.3 333.4,533C333.8,533.7 334.1,534.3 334.5,535C334.8,535.7 335.2,536.3 335.6,537C335.9,537.7 336.3,538.3 336.6,539C337,539.7 337.4,540.3 337.7,541C338.1,541.7 338.5,542.3 338.8,543C339.2,543.7 339.6,544.3 339.9,545C340.3,545.7 340.7,546.3 341,547C341.4,547.7 341.8,548.3 342.2,549C342.5,549.7 342.9,550.3 343.3,551C343.6,551.7 344,552.3 344.4,553C344.8,553.7 345.2,554.3 345.5,555C345.9,555.7 346.3,556.3 346.8,557C347.2,557.7 347.8,558.7 348,559" fill="none" stroke="#d24a1c" stroke-width="5" stroke-dasharray="1.3 2.4" opacity="0.6" filter="url(#blur05)"/>
<path d="M382.4,291C382.2,291.3 381.4,292.3 380.8,293C380.3,293.7 379.8,294.3 379.2,295C378.7,295.7 378.2,296.3 377.6,297C377,297.7 376.4,298.3 375.8,299C375.2,299.7 374.6,300.3 373.9,301C373.3,301.7 372.7,302.3 372,303C371.4,303.7 370.7,304.3 370.1,305C369.4,305.7 368.7,306.3 368.1,307C367.4,307.7 366.7,308.3 366.1,309C365.4,309.7 364.8,310.3 364.1,311C363.4,311.7 362.8,312.3 362.1,313C361.5,313.7 360.8,314.3 360.2,315C359.5,315.7 358.9,316.3 358.3,317C357.6,317.7 357,318.3 356.4,319C355.8,319.7 355.1,320.3 354.5,321C353.9,321.7 353.3,322.3 352.6,323C352,323.7 351.4,324.3 350.8,325C350.2,325.7 349.6,326.3 349,327C348.3,327.7 347.7,328.3 347.1,329C346.5,329.7 345.7,330.3 345.1,331C344.5,331.7 343.9,332.3 343.4,333C342.8,333.7 342.4,334.3 342,335C341.5,335.7 341.1,336.3 340.7,337C340.3,337.7 339.9,338.3 339.5,339C339.1,339.7 338.7,340.3 338.3,341C337.9,341.7 337.5,342.3 337.1,343C336.7,343.7 336.4,344.3 336,345C335.6,345.7 335.2,346.3 334.8,347C334.5,347.7 334.1,348.3 333.7,349C333.3,349.7 332.9,350.3 332.5,351C332.1,351.7 331.7,352.3 331.3,353C330.9,353.7 330.5,354.3 330.1,355C329.6,355.7 329.2,356.3 328.8,357C328.4,357.7 328,358.3 327.6,359C327.2,359.7 326.8,360.3 326.4,361C326,361.7 325.5,362.3 325.1,363C324.7,363.7 324.3,364.3 323.9,365C323.5,365.7 323.2,366.3 322.8,367C322.5,367.7 322.2,368.3 321.9,369C321.7,369.7 321.4,370.3 321.2,371C321,371.7 320.8,372.3 320.5,373C320.3,373.7 320.1,374.3 319.8,375C319.6,375.7 319.3,376.3 318.9,377C318.6,377.7 318.2,378.3 317.6,379C317.1,379.7 316.4,380.3 315.6,381C314.8,381.7 314.2,382.3 313,383C311.8,383.7 309.6,384.3 308.5,385C307.4,385.7 307,386.3 306.6,387C306.3,387.7 306.4,388.3 306.4,389C306.3,389.7 306.5,390.3 306.6,391C306.7,391.7 306.8,392.3 306.9,393C307,393.7 307.1,394.3 307.2,395C307.2,395.7 307.2,396.3 307.2,397C307.3,397.7 307.3,398.3 307.4,399C307.4,399.7 307.4,400.3 307.5,401C307.5,401.7 307.5,402.3 307.6,403C307.6,403.7 307.6,404.3 307.7,405C307.7,405.7 307.7,406.3 307.7,407C307.7,407.7 307.8,408.3 307.8,409C307.8,409.7 307.7,410.3 307.7,411C307.7,411.7 307.7,412.3 307.7,413C307.7,413.7 307.7,414.3 307.7,415C307.7,415.7 307.7,416.3 307.7,417C307.7,417.7 307.6,418.3 307.6,419C307.6,419.7 307.6,420.3 307.6,421C307.6,421.7 307.6,422.3 307.6,423C307.6,423.7 307.6,424.3 307.6,425C307.6,425.7 307.6,426.3 307.6,427C307.7,427.7 307.7,428.3 307.8,429C307.8,429.7 307.9,430.3 308,431C308.1,431.7 308.2,432.3 308.2,433C308.3,433.7 308.4,434.3 308.5,435C308.6,435.7 308.7,436.3 308.8,437C308.9,437.7 308.9,438.3 309,439C309.1,439.7 309.2,440.3 309.2,441C309.3,441.7 309.4,442.3 309.5,443C309.6,443.7 309.6,444.3 309.7,445C309.8,445.7 309.9,446.3 310,447C310.1,447.7 310.2,448.3 310.3,449C310.4,449.7 310.5,450.3 310.7,451C310.8,451.7 310.9,452.3 311,453C311.2,453.7 311.3,454.3 311.5,455C311.6,455.7 311.8,456.3 312,457C312.1,457.7 312.3,458.3 312.5,459C312.7,459.7 312.9,460.3 313.1,461C313.2,461.7 313.4,462.3 313.7,463C313.9,463.7 314.1,464.3 314.3,465C314.5,465.7 314.7,466.3 315,467C315.2,467.7 315.4,468.3 315.7,469C315.9,469.7 316.2,470.3 316.5,471C316.7,471.7 317,472.3 317.2,473C317.5,473.7 317.8,474.3 318.1,475C318.3,475.7 318.6,476.3 318.9,477C319.2,477.7 319.4,478.3 319.7,479C320,479.7 320.3,480.3 320.6,481C320.9,481.7 321.2,482.3 321.5,483C321.9,483.7 322.2,484.3 322.5,485C322.9,485.7 323.2,486.3 323.6,487C323.9,487.7 324.3,488.3 324.7,489C325.1,489.7 325.5,490.3 326,491C326.5,491.7 327,492.3 327.6,493C328.1,493.7 328.7,494.3 329.2,495C329.8,495.7 330.3,496.3 330.9,497C331.6,497.7 332.2,498.3 332.9,499C333.6,499.7 334.3,500.3 335,501C335.6,501.7 336.3,502.3 336.9,503C337.5,503.7 338.1,504.3 338.6,505C339.1,505.7 339.7,506.3 340.2,507C340.7,507.7 341.2,508.3 341.7,509C342.3,509.7 342.8,510.3 343.3,511C343.8,511.7 344.4,512.3 344.9,513C345.4,513.7 346,514.3 346.5,515C347,515.7 347.6,516.3 348.1,517C348.6,517.7 349.1,518.3 349.7,519C350.2,519.7 350.7,520.3 351.3,521C351.8,521.7 352.3,522.3 352.9,523C353.4,523.7 354,524.3 354.5,525C355,525.7 355.6,526.3 356.1,527C356.6,527.7 357.2,528.3 357.7,529C358.2,529.7 358.8,530.3 359.3,531C359.8,531.7 360.4,532.3 360.9,533C361.4,533.7 362,534.3 362.5,535C363,535.7 363.6,536.3 364.1,537C364.7,537.7 365.2,538.3 365.7,539C366.3,539.7 366.8,540.3 367.3,541C367.9,541.7 368.4,542.3 369,543C369.5,543.7 370,544.3 370.6,545C371.1,545.7 371.7,546.3 372.2,547C372.7,547.7 373.3,548.3 373.8,549C374.4,549.7 374.9,550.3 375.4,551C376,551.7 376.5,552.3 377.1,553C377.6,553.7 378.2,554.3 378.7,555C379.3,555.7 379.8,556.3 380.4,557C381,557.7 381.8,558.7 382.1,559" fill="none" stroke="#ffc838" stroke-width="5" stroke-dasharray="1.4 2.6" opacity="0.55" filter="url(#blur05)"/>
<g filter="url(#speckB)" opacity="0.6">
<path d="M349.4,291.5C349.1,292.5 348.2,295.5 347.2,297.5C346.2,299.5 344.8,301.5 343.4,303.5C342.1,305.5 340.5,307.5 339,309.5C337.6,311.5 336.1,313.5 334.8,315.5C333.4,317.5 332.2,319.5 331,321.5C329.7,323.5 328.5,325.5 327.4,327.5C326.2,329.5 325.1,331.5 324,333.5C322.9,335.5 321.8,337.5 320.8,339.5C319.8,341.5 318.8,343.5 317.8,345.5C316.9,347.5 315.9,349.5 315,351.5C314.2,353.5 313.3,355.5 312.5,357.5C311.7,359.5 311,361.5 310.2,363.5C309.5,365.5 308.6,367.5 308,369.5C307.4,371.5 308,373.5 306.5,375.5C305.1,377.5 303.2,379.5 299.5,381.5C295.8,383.5 286.5,385.5 284.3,387.5C282.2,389.5 285.9,391.5 286.5,393.5C287.1,395.5 287.5,397.5 288,399.5C288.5,401.5 289,403.5 289.3,405.5C289.7,407.5 289.9,409.5 290.1,411.5C290.3,413.5 290.4,415.5 290.5,417.5C290.6,419.5 290.7,421.5 290.8,423.5C290.8,425.5 290.9,427.5 290.9,429.5C291,431.5 291,433.5 291.1,435.5C291.2,437.5 291.2,439.5 291.4,441.5C291.5,443.5 291.6,445.5 291.9,447.5C292.1,449.5 292.3,451.5 292.6,453.5C293,455.5 293.4,457.5 293.9,459.5C294.4,461.5 294.9,463.5 295.5,465.5C296.1,467.5 296.7,469.5 297.4,471.5C298,473.5 298.6,475.5 299.2,477.5C299.9,479.5 300.4,481.5 301.1,483.5C301.7,485.5 302.3,487.5 302.9,489.5C303.6,491.5 304.2,493.5 304.9,495.5C305.6,497.5 306.3,499.5 307,501.5C307.7,503.5 308.4,505.5 309.1,507.5C309.9,509.5 310.6,511.5 311.4,513.5C312.2,515.5 313,517.5 313.8,519.5C314.6,521.5 315.4,523.5 316.2,525.5C317,527.5 317.8,529.5 318.6,531.5C319.4,533.5 320.2,535.5 321,537.5C321.9,539.5 322.7,541.5 323.5,543.5C324.4,545.5 325.2,547.5 326.1,549.5C326.9,551.5 327.7,553.5 328.7,555.5C329.6,557.5 331.2,560.5 331.7,561.5 L405.3,561.5C404.3,560.5 401.3,557.5 399.3,555.5C397.4,553.5 395.4,551.5 393.5,549.5C391.6,547.5 389.6,545.5 387.7,543.5C385.8,541.5 383.8,539.5 381.9,537.5C380,535.5 378.1,533.5 376.1,531.5C374.2,529.5 372.3,527.5 370.4,525.5C368.5,523.5 366.5,521.5 364.6,519.5C362.7,517.5 360.8,515.5 358.9,513.5C357,511.5 355.2,509.5 353.2,507.5C351.2,505.5 349.2,503.5 346.9,501.5C344.6,499.5 341.7,497.5 339.6,495.5C337.4,493.5 335.4,491.5 333.8,489.5C332.2,487.5 331.2,485.5 330.1,483.5C328.9,481.5 328,479.5 327,477.5C326.1,475.5 325.2,473.5 324.4,471.5C323.5,469.5 322.7,467.5 322,465.5C321.3,463.5 320.7,461.5 320.1,459.5C319.6,457.5 319,455.5 318.6,453.5C318.1,451.5 317.7,449.5 317.4,447.5C317,445.5 316.8,443.5 316.5,441.5C316.2,439.5 315.9,437.5 315.6,435.5C315.3,433.5 314.8,431.5 314.6,429.5C314.4,427.5 314.4,425.5 314.3,423.5C314.3,421.5 314.4,419.5 314.5,417.5C314.6,415.5 314.7,413.5 314.8,411.5C314.9,409.5 315,407.5 315,405.5C315.1,403.5 315.1,401.5 315.1,399.5C315.2,397.5 315.2,395.5 315.2,393.5C315.3,391.5 314.4,389.5 315.4,387.5C316.4,385.5 319.6,383.5 321.2,381.5C322.8,379.5 323.8,377.5 324.8,375.5C325.9,373.5 326.2,371.5 327.2,369.5C328.2,367.5 329.4,365.5 330.7,363.5C331.9,361.5 333.5,359.5 334.9,357.5C336.3,355.5 337.8,353.5 339.1,351.5C340.4,349.5 341.6,347.5 342.8,345.5C344.1,343.5 345.2,341.5 346.5,339.5C347.8,337.5 348.9,335.5 350.6,333.5C352.3,331.5 354.8,329.5 357,327.5C359.1,325.5 361.2,323.5 363.3,321.5C365.4,319.5 367.5,317.5 369.7,315.5C371.8,313.5 374,311.5 376.2,309.5C378.4,307.5 380.6,305.5 382.8,303.5C384.9,301.5 387.1,299.5 389.1,297.5C391.2,295.5 394.1,292.5 395.1,291.5 Z" fill="#000" fill-opacity="1" />
</g>
<path d="M350.6,291C350.4,291.5 350,293 349.6,294C349.2,295 348.9,296 348.4,297C348,298 347.4,299 346.8,300C346.2,301 345.5,302 344.8,303C344.1,304 343.4,305 342.6,306C341.9,307 341.2,308 340.4,309C339.7,310 338.9,311 338.2,312C337.5,313 336.8,314 336.1,315C335.4,316 334.8,317 334.1,318C333.5,319 332.9,320 332.3,321C331.6,322 331,323 330.4,324C329.8,325 329.2,326 328.7,327C328.1,328 327.5,329 326.9,330C326.4,331 325.8,332 325.3,333C324.7,334 324.2,335 323.6,336C323.1,337 322.6,338 322.1,339C321.5,340 321,341 320.5,342C320,343 319.5,344 319.1,345C318.6,346 318.1,347 317.6,348C317.2,349 316.7,350 316.3,351C315.8,352 315.4,353 315,354C314.5,355 314.1,356 313.7,357C313.3,358 312.9,359 312.5,360C312.2,361 311.8,362 311.4,363C311,364 310.6,365 310.3,366C309.9,367 309.5,368 309.2,369C308.9,370 308.8,371 308.5,372C308.3,373 308.2,374 307.7,375C307.3,376 307,377 306,378C305,379 303.7,380 301.6,381C299.4,382 295.9,383 293.2,384C290.5,385 286.7,386 285.5,387C284.2,388 285.4,389 285.7,390C286,391 286.8,392 287.2,393C287.7,394 287.9,395 288.2,396C288.5,397 288.7,398 288.9,399C289.1,400 289.4,401 289.6,402C289.8,403 290,404 290.2,405C290.4,406 290.6,407 290.8,408C290.9,409 291,410 291.1,411C291.2,412 291.3,413 291.3,414C291.4,415 291.4,416 291.5,417C291.6,418 291.6,419 291.6,420C291.7,421 291.7,422 291.7,423C291.8,424 291.8,425 291.8,426C291.8,427 291.9,428 291.9,429C291.9,430 291.9,431 292,432C292,433 292,434 292.1,435C292.1,436 292.1,437 292.2,438C292.2,439 292.3,440 292.3,441C292.4,442 292.5,443 292.5,444C292.6,445 292.7,446 292.8,447C292.9,448 293,449 293.1,450C293.3,451 293.4,452 293.6,453C293.7,454 293.9,455 294.1,456C294.3,457 294.5,458 294.8,459C295,460 295.3,461 295.5,462C295.8,463 296.1,464 296.4,465C296.7,466 297,467 297.3,468C297.6,469 297.9,470 298.2,471C298.5,472 298.8,473 299.1,474C299.5,475 299.8,476 300.1,477C300.4,478 300.7,479 301,480C301.3,481 301.6,482 301.9,483C302.2,484 302.5,485 302.8,486C303.1,487 303.5,488 303.8,489C304.1,490 304.4,491 304.7,492C305.1,493 305.4,494 305.7,495C306.1,496 306.4,497 306.7,498C307.1,499 307.4,500 307.8,501C308.1,502 308.5,503 308.8,504C309.2,505 309.6,506 309.9,507C310.3,508 310.7,509 311,510C311.4,511 311.8,512 312.2,513C312.6,514 313,515 313.4,516C313.8,517 314.2,518 314.6,519C315,520 315.4,521 315.8,522C316.2,523 316.6,524 317,525C317.4,526 317.8,527 318.2,528C318.6,529 319,530 319.4,531C319.8,532 320.2,533 320.6,534C321,535 321.4,536 321.8,537C322.3,538 322.7,539 323.1,540C323.5,541 323.9,542 324.3,543C324.7,544 325.1,545 325.6,546C326,547 326.4,548 326.8,549C327.3,550 327.7,551 328.1,552C328.6,553 329,554 329.5,555C329.9,556 330.7,557.5 330.9,558" fill="none" stroke="#ffe890" stroke-width="1.5" stroke-dasharray="1.5 1.8" opacity="0.8"/>
<g filter="url(#blur1)">
<path d="M296,372C296.6,373 298.9,376 299.5,378C300.1,380 299.8,382 299.5,384C299.1,386 297.9,388 297.5,390C297,392 296.7,394 296.5,396C296.3,398 296.3,400.5 296.2,402C296.1,403.5 296,404.5 296,405 L303,405C303,404.5 303.1,403.5 303.2,402C303.3,400.5 303.5,398 303.7,396C303.8,394 304,392 304.2,390C304.3,388 304.5,386 304.6,384C304.8,382 305,380 305.2,378C305.4,376 305.9,373 306,372 Z" fill="#2a8a3a" fill-opacity="1" />
</g>
<circle cx="299" cy="395" r="2.5" fill="#101840"/>
<g filter="url(#blur05)">
<path d="M295,400C295.2,401 295.8,404 296.1,406C296.5,408 296.9,410 297.3,412C297.6,414 298,416 298.4,418C298.8,420 299.3,422 299.8,424C300.2,426 300.8,428 301.3,430C301.9,432 302.5,434 303,436C303.6,438 304.3,440 304.9,442C305.5,444 306.1,446 306.8,448C307.4,450 308,452 308.6,454C309.2,456 309.9,458 310.5,460C311.1,462 311.7,464 312.4,466C313,468 313.6,470 314.3,472C314.9,474 315.6,476 316.3,478C317,480 317.7,482 318.4,484C319.1,486 319.7,488 320.4,490C321.1,492 321.8,494 322.6,496C323.4,498 324.2,500 325.1,502C326.1,504 327.1,506 328.2,508C329.3,510 330.6,512 331.9,514C333.2,516 334.6,518 335.9,520C337.3,522 338.6,524 339.9,526C341.2,528 342.4,530 343.6,532C344.7,534 345.8,536 346.9,538C348.1,540 349.1,542 350.2,544C351.3,546 352.3,548 353.4,550C354.5,552 355.6,554 356.7,556C357.8,558 359.4,561 360,562 L364.5,562C363.9,561 362.3,558 361.2,556C360.1,554 359,552 357.9,550C356.8,548 355.8,546 354.7,544C353.6,542 352.6,540 351.4,538C350.3,536 349.2,534 348.1,532C346.9,530 345.7,528 344.4,526C343.1,524 341.8,522 340.4,520C339.1,518 337.7,516 336.4,514C335.1,512 333.8,510 332.7,508C331.6,506 330.6,504 329.6,502C328.7,500 327.9,498 327.1,496C326.3,494 325.6,492 324.9,490C324.2,488 323.6,486 322.9,484C322.2,482 321.5,480 320.8,478C320.1,476 319.4,474 318.8,472C318.1,470 317.5,468 316.9,466C316.2,464 315.6,462 315,460C314.4,458 313.7,456 313.1,454C312.5,452 311.9,450 311.3,448C310.6,446 310,444 309.4,442C308.8,440 308.1,438 307.5,436C307,434 306.4,432 305.8,430C305.3,428 304.7,426 304.3,424C303.8,422 303.3,420 302.9,418C302.5,416 302.1,414 301.8,412C301.4,410 301,408 300.6,406C300.3,404 299.7,401 299.5,400 Z" fill="#0a6a6a" fill-opacity="0.95" />
</g>
<g filter="url(#blur05)">
<path d="M299.8,420C300.1,421 300.7,424 301.3,426C301.8,428 302.3,430 302.9,432C303.4,434 304,436 304.6,438C305.3,440 305.9,442 306.5,444C307.1,446 307.8,448 308.4,450C309,452 309.6,454 310.2,456C310.9,458 311.5,460 312.1,462C312.7,464 313.3,466 314,468C314.6,470 315.3,472 315.9,474C316.6,476 317.3,478 318,480C318.7,482 319.4,484 320.1,486C320.7,488 321.4,490 322.1,492C322.9,494 323.6,496 324.4,498C325.2,500 326.1,502 327.1,504C328.1,506 329.2,508 330.4,510C331.6,512 332.9,514 334.2,516C335.5,518 337,520 338.3,522C339.6,524 340.9,526 342.2,528C343.4,530 344.6,532 345.7,534C346.9,536 347.9,538 349,540C350.1,542 351.2,544 352.3,546C353.4,548 354.4,550 355.5,552C356.6,554 357.9,556.3 358.8,558C359.7,559.7 360.6,561.3 361,562 L363.5,562C363.1,561.3 362.2,559.7 361.3,558C360.4,556.3 359.1,554 358,552C356.9,550 355.9,548 354.8,546C353.7,544 352.6,542 351.5,540C350.4,538 349.4,536 348.2,534C347.1,532 345.9,530 344.7,528C343.4,526 342.1,524 340.8,522C339.5,520 338,518 336.7,516C335.4,514 334.1,512 332.9,510C331.7,508 330.6,506 329.6,504C328.6,502 327.7,500 326.9,498C326.1,496 325.4,494 324.6,492C323.9,490 323.2,488 322.6,486C321.9,484 321.2,482 320.5,480C319.8,478 319.1,476 318.4,474C317.8,472 317.1,470 316.5,468C315.8,466 315.2,464 314.6,462C314,460 313.4,458 312.7,456C312.1,454 311.5,452 310.9,450C310.3,448 309.6,446 309,444C308.4,442 307.8,440 307.1,438C306.5,436 305.9,434 305.4,432C304.8,430 304.3,428 303.8,426C303.2,424 302.6,421 302.3,420 Z" fill="#101838" fill-opacity="1" />
</g>
<path d="M372,320C370.3,321.3 364.8,325.8 362,328C359.2,330.2 358.2,329.7 355,333.5C351.8,337.3 346.2,346.4 343,350.7C339.8,355 338.3,356.4 336,359.3C333.7,362.2 331.5,363.7 329.2,368C326.9,372.3 323.9,379.9 322.3,385.2C320.7,390.5 320.5,393.2 319.7,400C318.9,406.8 317.4,419.8 317.4,426C317.3,432.2 318.5,432.3 319.4,437C320.3,441.7 321.2,448.3 322.8,454C324.4,459.7 326.1,465.5 328.8,471.2C331.5,476.9 335.6,484 339,488.3C342.4,492.6 346.1,494.5 349.2,496.8C352.3,499.1 355.7,500.6 357.8,502C359.9,503.4 360.3,503.7 362,505C363.7,506.3 367,509.2 368,510 L600,510.0 L600,320.0 Z" fill="#fffa00" filter="url(#blur05)"/>
</g>
<clipPath id="cliph"><rect x="369.6" y="299.5" width="102.4" height="254.0"/></clipPath><g clip-path="url(#cliph)">
<rect x="369.6" y="299.5" width="102.4" height="254.0" fill="url(#gBrown)"/>
<g filter="url(#blur8)">
<path d="M250.6,380C250.5,381 250.1,384 250.1,386C250,388 250.1,390 250.2,392C250.3,394 250.5,396 250.5,398C250.5,400 250.5,402 250.4,404C250.3,406 250.2,408 250.1,410C250,412 249.9,414 249.8,416C249.7,418 249.6,420 249.6,422C249.5,424 249.5,426 249.5,428C249.6,430 249.7,432 249.9,434C250.1,436 250.5,438 250.9,440C251.3,442 251.8,444 252.2,446C252.6,448 253,450 253.5,452C254,454 254.5,456 255,458C255.6,460 256.1,462 256.7,464C257.3,466 257.9,468 258.5,470C259.1,472 259.7,474 260.5,476C261.2,478 262,480 262.8,482C263.7,484 264.6,486 265.5,488C266.4,490 267.2,492 268,494C268.8,496 269.6,498 270.3,500C271.1,502 271.9,504 272.7,506C273.5,508 274.3,510 275.2,512C276.1,514 277,516 278,518C278.9,520 279.9,522 280.9,524C281.9,526 282.9,528 283.8,530C284.8,532 285.8,534 286.7,536C287.7,538 288.6,540 289.5,542C290.4,544 291.3,546 292.3,548C293.3,550 294.2,552 295.3,554C296.3,556 297.6,558 298.8,560C300,562 301.2,564 302.4,566C303.5,568 305,570.5 305.9,572C306.8,573.5 307.4,574.5 307.6,575 L463.6,575C463.4,574.5 462.8,573.5 461.9,572C461,570.5 459.5,568 458.4,566C457.2,564 456,562 454.8,560C453.6,558 452.3,556 451.3,554C450.2,552 449.3,550 448.3,548C447.3,546 446.4,544 445.5,542C444.6,540 443.7,538 442.7,536C441.8,534 440.8,532 439.8,530C438.9,528 437.9,526 436.9,524C435.9,522 434.9,520 434,518C433,516 432.1,514 431.2,512C430.3,510 429.5,508 428.7,506C427.9,504 427.1,502 426.3,500C425.6,498 424.8,496 424,494C423.2,492 422.4,490 421.5,488C420.6,486 419.7,484 418.8,482C418,480 417.2,478 416.5,476C415.7,474 415.1,472 414.5,470C413.9,468 413.3,466 412.7,464C412.1,462 411.6,460 411,458C410.5,456 410,454 409.5,452C409,450 408.6,448 408.2,446C407.8,444 407.3,442 406.9,440C406.5,438 406.1,436 405.9,434C405.7,432 405.6,430 405.5,428C405.5,426 405.5,424 405.6,422C405.6,420 405.7,418 405.8,416C405.9,414 406,412 406.1,410C406.2,408 406.3,406 406.4,404C406.5,402 406.5,400 406.5,398C406.5,396 406.3,394 406.2,392C406.1,390 406,388 406.1,386C406.1,384 406.5,381 406.6,380 Z" fill="#ac4012" fill-opacity="0.9" />
</g>
<g filter="url(#blur4)">
<path d="M402,405C401.6,406 400.3,409 399.5,411C398.6,413 397.7,415 396.9,417C396.1,419 395.3,421 394.6,423C394,425 393.4,427 392.9,429C392.3,431 391.8,433 391.4,435C391,437 390.7,439 390.4,441C390.2,443 390,445 389.9,447C389.8,449 389.8,451 389.8,453C389.9,455 390.1,457 390.2,459C390.4,461 390.7,463 391,465C391.3,467 391.7,469 392.1,471C392.5,473 393.1,475 393.6,477C394.1,479 394.7,481 395.4,483C396,485 396.7,487 397.4,489C398.1,491 398.9,493 399.7,495C400.5,497 401.4,499 402.2,501C403.1,503 404,505 404.9,507C405.9,509 406.9,511 407.9,513C408.9,515 409.9,517 410.9,519C412,521 413,523 414,525C415,527 416,529 416.9,531C417.9,533 418.9,535 419.9,537C420.8,539 421.8,541 422.9,543C424,545 425.3,547 426.6,549C427.9,551 429.4,553 430.6,555C431.7,557 432.9,559.8 433.5,561C434.1,562.2 433.9,561.8 434,562 L463,562C462.9,561.8 463.1,562.2 462.4,561C461.7,559.8 459.9,557 458.8,555C457.7,553 456.8,551 455.8,549C454.8,547 453.9,545 453,543C452,541 451.1,539 450.2,537C449.2,535 448.3,533 447.3,531C446.3,529 445.4,527 444.4,525C443.4,523 442.4,521 441.5,519C440.5,517 439.6,515 438.7,513C437.8,511 436.9,509 436.1,507C435.3,505 434.5,503 433.7,501C433,499 432.2,497 431.4,495C430.6,493 429.8,491 428.9,489C428.1,487 427.1,485 426.3,483C425.4,481 424.6,479 423.8,477C423.1,475 422.4,473 421.8,471C421.2,469 420.6,467 420,465C419.4,463 418.8,461 418.3,459C417.8,457 417.2,455 416.8,453C416.3,451 415.8,449 415.4,447C415,445 414.5,443 414.1,441C413.7,439 413.3,437 413,435C412.8,433 412.6,431 412.6,429C412.5,427 412.5,425 412.6,423C412.6,421 412.7,419 412.8,417C412.9,415 413,413 413.1,411C413.2,409 413.3,406 413.4,405 Z" fill="#3c8a2c" fill-opacity="0.88" />
</g>
<g filter="url(#blur05)">
<path d="M449.4,291.5C449,292.5 447.8,295.5 447,297.5C446.1,299.5 445.1,301.5 444.2,303.5C443.3,305.5 442.4,307.5 441.3,309.5C440.3,311.5 439.3,313.5 438.1,315.5C437,317.5 435.7,319.5 434.4,321.5C433.1,323.5 431.7,325.5 430.2,327.5C428.8,329.5 427.5,331.5 425.7,333.5C423.9,335.5 421.1,337.5 419.4,339.5C417.7,341.5 416.5,343.5 415.3,345.5C414.1,347.5 413.2,349.5 412.3,351.5C411.5,353.5 410.6,355.5 410.3,357.5C410.1,359.5 410.6,361.5 410.9,363.5C411.1,365.5 411.8,367.5 411.9,369.5C411.9,371.5 411.5,373.5 411.3,375.5C411,377.5 410.6,379.5 410.4,381.5C410.2,383.5 410.1,385.5 410.1,387.5C410,389.5 410.2,391.5 410.3,393.5C410.4,395.5 410.5,397.5 410.5,399.5C410.5,401.5 410.4,403.5 410.3,405.5C410.3,407.5 410.2,409.5 410.1,411.5C410,413.5 409.8,415.5 409.7,417.5C409.7,419.5 409.6,421.5 409.5,423.5C409.5,425.5 409.5,427.5 409.6,429.5C409.7,431.5 409.8,433.5 410.1,435.5C410.4,437.5 410.8,439.5 411.2,441.5C411.6,443.5 412.1,445.5 412.5,447.5C412.9,449.5 413.4,451.5 413.9,453.5C414.4,455.5 414.9,457.5 415.4,459.5C416,461.5 416.6,463.5 417.1,465.5C417.7,467.5 418.3,469.5 419,471.5C419.6,473.5 420.2,475.5 421,477.5C421.8,479.5 422.6,481.5 423.5,483.5C424.3,485.5 425.3,487.5 426.2,489.5C427,491.5 427.8,493.5 428.6,495.5C429.4,497.5 430.1,499.5 430.9,501.5C431.7,503.5 432.5,505.5 433.3,507.5C434.1,509.5 435,511.5 435.9,513.5C436.8,515.5 437.8,517.5 438.7,519.5C439.7,521.5 440.6,523.5 441.6,525.5C442.6,527.5 443.6,529.5 444.6,531.5C445.5,533.5 446.5,535.5 447.4,537.5C448.4,539.5 449.3,541.5 450.2,543.5C451.1,545.5 452,547.5 453,549.5C454,551.5 455,553.5 456.1,555.5C457.2,557.5 459.1,560.5 459.7,561.5 L532.5,561.5C531.5,560.5 528.5,557.5 526.5,555.5C524.5,553.5 522.5,551.5 520.5,549.5C518.5,547.5 516.5,545.5 514.5,543.5C512.5,541.5 510.5,539.5 508.5,537.5C506.5,535.5 504.5,533.5 502.5,531.5C500.5,529.5 498.5,527.5 496.5,525.5C494.5,523.5 492.5,521.5 490.5,519.5C488.5,517.5 486.5,515.5 484.5,513.5C482.5,511.5 480.5,509.5 478.6,507.5C476.6,505.5 474.6,503.5 472.6,501.5C470.7,499.5 468.7,497.5 466.7,495.5C464.7,493.5 462.5,491.5 460.7,489.5C458.9,487.5 457.4,485.5 455.9,483.5C454.4,481.5 452.9,479.5 451.5,477.5C450.2,475.5 448.9,473.5 447.8,471.5C446.7,469.5 445.7,467.5 444.8,465.5C443.9,463.5 443.2,461.5 442.5,459.5C441.7,457.5 441.1,455.5 440.4,453.5C439.8,451.5 439.2,449.5 438.7,447.5C438.2,445.5 437.7,443.5 437.3,441.5C436.8,439.5 436.5,437.5 436.1,435.5C435.8,433.5 435.5,431.5 435.3,429.5C435,427.5 434.8,425.5 434.7,423.5C434.7,421.5 434.7,419.5 435,417.5C435.3,415.5 436.1,413.5 436.6,411.5C437.1,409.5 437.5,407.5 438,405.5C438.5,403.5 439,401.5 439.5,399.5C440.1,397.5 440.8,395.5 441.5,393.5C442.2,391.5 442.9,389.5 443.8,387.5C444.8,385.5 445.8,383.5 447,381.5C448.3,379.5 449.9,377.5 451.4,375.5C452.9,373.5 454.3,371.5 456.2,369.5C458,367.5 460.2,365.5 462.4,363.5C464.6,361.5 467.2,359.5 469.5,357.5C471.7,355.5 473.6,353.5 475.8,351.5C478.1,349.5 480.4,347.5 482.8,345.5C485.1,343.5 487.6,341.5 490,339.5C492.4,337.5 494.7,335.5 497.1,333.5C499.5,331.5 501.8,329.5 504.2,327.5C506.6,325.5 509,323.5 511.3,321.5C513.7,319.5 516.1,317.5 518.5,315.5C520.8,313.5 523.2,311.5 525.6,309.5C528,307.5 530.3,305.5 532.7,303.5C535.1,301.5 537.5,299.5 539.8,297.5C542.2,295.5 545.8,292.5 547,291.5 Z" fill="#f4ae36" fill-opacity="1" />
</g>
<g filter="url(#blur1)">
<path d="M484.5,291.5C483.8,292.5 481.8,295.5 480.4,297.5C479,299.5 477.5,301.5 476.1,303.5C474.6,305.5 473.2,307.5 471.7,309.5C470.2,311.5 468.6,313.5 467,315.5C465.4,317.5 463.8,319.5 462.1,321.5C460.4,323.5 458.6,325.5 456.9,327.5C455.1,329.5 453.4,331.5 451.4,333.5C449.4,335.5 446.8,337.5 444.8,339.5C442.8,341.5 441.2,343.5 439.6,345.5C438,347.5 436.5,349.5 435.2,351.5C433.9,353.5 432.6,355.5 431.6,357.5C430.7,359.5 430.1,361.5 429.4,363.5C428.8,365.5 428.4,367.5 427.8,369.5C427.2,371.5 426.4,373.5 425.7,375.5C425,377.5 424.2,379.5 423.6,381.5C423,383.5 422.6,385.5 422.2,387.5C421.9,389.5 421.7,391.5 421.5,393.5C421.3,395.5 421.2,397.5 421,399.5C420.8,401.5 420.5,403.5 420.3,405.5C420.1,407.5 419.9,409.5 419.6,411.5C419.4,413.5 419,415.5 418.8,417.5C418.7,419.5 418.6,421.5 418.6,423.5C418.6,425.5 418.7,427.5 418.8,429.5C419,431.5 419.2,433.5 419.5,435.5C419.8,437.5 420.2,439.5 420.6,441.5C421,443.5 421.5,445.5 421.9,447.5C422.4,449.5 422.9,451.5 423.4,453.5C424,455.5 424.6,457.5 425.2,459.5C425.8,461.5 426.4,463.5 427.1,465.5C427.8,467.5 428.5,469.5 429.3,471.5C430.1,473.5 431,475.5 432,477.5C433,479.5 434,481.5 435.1,483.5C436.2,485.5 437.4,487.5 438.6,489.5C439.8,491.5 441.1,493.5 442.3,495.5C443.5,497.5 444.7,499.5 445.9,501.5C447.2,503.5 448.4,505.5 449.6,507.5C450.8,509.5 452.1,511.5 453.4,513.5C454.7,515.5 456,517.5 457.4,519.5C458.7,521.5 460,523.5 461.4,525.5C462.7,527.5 464.1,529.5 465.4,531.5C466.8,533.5 468.1,535.5 469.4,537.5C470.7,539.5 472,541.5 473.3,543.5C474.7,545.5 476,547.5 477.3,549.5C478.7,551.5 480,553.5 481.4,555.5C482.9,557.5 485.2,560.5 485.9,561.5 L504.8,561.5C504,560.5 501.4,557.5 499.7,555.5C498.1,553.5 496.5,551.5 494.9,549.5C493.2,547.5 491.7,545.5 490.1,543.5C488.5,541.5 486.9,539.5 485.3,537.5C483.7,535.5 482.1,533.5 480.5,531.5C478.9,529.5 477.3,527.5 475.6,525.5C474,523.5 472.4,521.5 470.8,519.5C469.2,517.5 467.6,515.5 466,513.5C464.5,511.5 462.9,509.5 461.4,507.5C459.8,505.5 458.3,503.5 456.8,501.5C455.3,499.5 453.8,497.5 452.2,495.5C450.7,493.5 449,491.5 447.6,489.5C446.1,487.5 444.8,485.5 443.6,483.5C442.3,481.5 441.1,479.5 439.9,477.5C438.8,475.5 437.8,473.5 436.8,471.5C435.9,469.5 435.1,467.5 434.3,465.5C433.5,463.5 432.8,461.5 432.2,459.5C431.5,457.5 430.9,455.5 430.3,453.5C429.8,451.5 429.2,449.5 428.7,447.5C428.2,445.5 427.8,443.5 427.4,441.5C427,439.5 426.6,437.5 426.3,435.5C425.9,433.5 425.7,431.5 425.5,429.5C425.3,427.5 425.2,425.5 425.2,423.5C425.1,421.5 425.2,419.5 425.4,417.5C425.6,415.5 426.2,413.5 426.5,411.5C426.9,409.5 427.2,407.5 427.5,405.5C427.8,403.5 428.2,401.5 428.5,399.5C428.9,397.5 429.2,395.5 429.6,393.5C430,391.5 430.4,389.5 431,387.5C431.6,385.5 432.3,383.5 433.1,381.5C434,379.5 435.1,377.5 436.1,375.5C437.2,373.5 438.2,371.5 439.3,369.5C440.4,367.5 441.5,365.5 442.8,363.5C444.1,361.5 445.5,359.5 447,357.5C448.5,355.5 450,353.5 451.7,351.5C453.4,349.5 455.2,347.5 457.2,345.5C459.1,343.5 461,341.5 463.2,339.5C465.3,337.5 467.8,335.5 470,333.5C472.1,331.5 474.1,329.5 476.1,327.5C478.1,325.5 480.1,323.5 482.1,321.5C484.1,319.5 486,317.5 487.9,315.5C489.8,313.5 491.7,311.5 493.6,309.5C495.4,307.5 497.3,305.5 499.1,303.5C500.9,301.5 502.8,299.5 504.6,297.5C506.4,295.5 509,292.5 509.9,291.5 Z" fill="#e2581e" fill-opacity="0.8" />
<path d="M513.8,291.5C512.9,292.5 510.1,295.5 508.3,297.5C506.4,299.5 504.5,301.5 502.6,303.5C500.7,305.5 498.9,307.5 496.9,309.5C495,311.5 493.1,313.5 491.1,315.5C489.2,317.5 487.2,319.5 485.2,321.5C483.2,323.5 481.1,325.5 479.1,327.5C477,329.5 475,331.5 472.8,333.5C470.6,335.5 468.1,337.5 466,339.5C463.8,341.5 461.8,343.5 459.9,345.5C457.9,347.5 456,349.5 454.2,351.5C452.5,353.5 450.9,355.5 449.4,357.5C447.8,359.5 446.2,361.5 444.9,363.5C443.5,365.5 442.3,367.5 441.1,369.5C439.9,371.5 438.8,373.5 437.7,375.5C436.6,377.5 435.5,379.5 434.6,381.5C433.7,383.5 433,385.5 432.3,387.5C431.7,389.5 431.3,391.5 430.9,393.5C430.4,395.5 430,397.5 429.7,399.5C429.3,401.5 429,403.5 428.6,405.5C428.3,407.5 427.9,409.5 427.6,411.5C427.2,413.5 426.6,415.5 426.4,417.5C426.2,419.5 426.2,421.5 426.2,423.5C426.2,425.5 426.3,427.5 426.5,429.5C426.7,431.5 427,433.5 427.3,435.5C427.6,437.5 428,439.5 428.4,441.5C428.8,443.5 429.3,445.5 429.8,447.5C430.3,449.5 430.8,451.5 431.4,453.5C432,455.5 432.6,457.5 433.3,459.5C433.9,461.5 434.6,463.5 435.4,465.5C436.2,467.5 437,469.5 438,471.5C438.9,473.5 440,475.5 441.2,477.5C442.3,479.5 443.6,481.5 444.9,483.5C446.2,485.5 447.5,487.5 448.9,489.5C450.4,491.5 452.2,493.5 453.7,495.5C455.3,497.5 456.9,499.5 458.5,501.5C460,503.5 461.6,505.5 463.2,507.5C464.8,509.5 466.4,511.5 468,513.5C469.6,515.5 471.2,517.5 472.9,519.5C474.5,521.5 476.2,523.5 477.8,525.5C479.5,527.5 481.2,529.5 482.8,531.5C484.4,533.5 486.1,535.5 487.7,537.5C489.4,539.5 491,541.5 492.6,543.5C494.3,545.5 495.9,547.5 497.6,549.5C499.2,551.5 500.9,553.5 502.6,555.5C504.3,557.5 506.9,560.5 507.7,561.5 L532.5,561.5C531.5,560.5 528.5,557.5 526.5,555.5C524.5,553.5 522.5,551.5 520.5,549.5C518.5,547.5 516.5,545.5 514.5,543.5C512.5,541.5 510.5,539.5 508.5,537.5C506.5,535.5 504.5,533.5 502.5,531.5C500.5,529.5 498.5,527.5 496.5,525.5C494.5,523.5 492.5,521.5 490.5,519.5C488.5,517.5 486.5,515.5 484.5,513.5C482.5,511.5 480.5,509.5 478.6,507.5C476.6,505.5 474.6,503.5 472.6,501.5C470.7,499.5 468.7,497.5 466.7,495.5C464.7,493.5 462.5,491.5 460.7,489.5C458.9,487.5 457.4,485.5 455.9,483.5C454.4,481.5 452.9,479.5 451.5,477.5C450.2,475.5 448.9,473.5 447.8,471.5C446.7,469.5 445.7,467.5 444.8,465.5C443.9,463.5 443.2,461.5 442.5,459.5C441.7,457.5 441.1,455.5 440.4,453.5C439.8,451.5 439.2,449.5 438.7,447.5C438.2,445.5 437.7,443.5 437.3,441.5C436.8,439.5 436.5,437.5 436.1,435.5C435.8,433.5 435.5,431.5 435.3,429.5C435,427.5 434.8,425.5 434.7,423.5C434.7,421.5 434.7,419.5 435,417.5C435.3,415.5 436.1,413.5 436.6,411.5C437.1,409.5 437.5,407.5 438,405.5C438.5,403.5 439,401.5 439.5,399.5C440.1,397.5 440.8,395.5 441.5,393.5C442.2,391.5 442.9,389.5 443.8,387.5C444.8,385.5 445.8,383.5 447,381.5C448.3,379.5 449.9,377.5 451.4,375.5C452.9,373.5 454.3,371.5 456.2,369.5C458,367.5 460.2,365.5 462.4,363.5C464.6,361.5 467.2,359.5 469.5,357.5C471.7,355.5 473.6,353.5 475.8,351.5C478.1,349.5 480.4,347.5 482.8,345.5C485.1,343.5 487.6,341.5 490,339.5C492.4,337.5 494.7,335.5 497.1,333.5C499.5,331.5 501.8,329.5 504.2,327.5C506.6,325.5 509,323.5 511.3,321.5C513.7,319.5 516.1,317.5 518.5,315.5C520.8,313.5 523.2,311.5 525.6,309.5C528,307.5 530.3,305.5 532.7,303.5C535.1,301.5 537.5,299.5 539.8,297.5C542.2,295.5 545.8,292.5 547,291.5 Z" fill="#fcd432" fill-opacity="0.95" />
</g>
<path d="M466.2,291C466.1,291.3 465.5,292.3 465.2,293C464.8,293.7 464.5,294.3 464.1,295C463.8,295.7 463.4,296.3 463,297C462.7,297.7 462.3,298.3 461.9,299C461.5,299.7 461.1,300.3 460.7,301C460.3,301.7 459.9,302.3 459.5,303C459.2,303.7 458.8,304.3 458.4,305C458,305.7 457.6,306.3 457.2,307C456.8,307.7 456.4,308.3 456,309C455.6,309.7 455.1,310.3 454.7,311C454.3,311.7 453.9,312.3 453.4,313C453,313.7 452.6,314.3 452.1,315C451.7,315.7 451.2,316.3 450.7,317C450.3,317.7 449.8,318.3 449.3,319C448.8,319.7 448.3,320.3 447.8,321C447.3,321.7 446.8,322.3 446.3,323C445.8,323.7 445.3,324.3 444.8,325C444.3,325.7 443.7,326.3 443.2,327C442.7,327.7 442.1,328.3 441.6,329C441.1,329.7 440.5,330.3 439.9,331C439.4,331.7 438.9,332.3 438.3,333C437.7,333.7 437.1,334.3 436.4,335C435.7,335.7 434.8,336.3 434.1,337C433.4,337.7 432.6,338.3 431.9,339C431.2,339.7 430.7,340.3 430.1,341C429.6,341.7 429.1,342.3 428.6,343C428.1,343.7 427.6,344.3 427.1,345C426.7,345.7 426.2,346.3 425.8,347C425.4,347.7 425,348.3 424.6,349C424.2,349.7 423.8,350.3 423.4,351C423,351.7 422.7,352.3 422.3,353C422,353.7 421.7,354.3 421.4,355C421.1,355.7 420.8,356.3 420.6,357C420.3,357.7 420.1,358.3 419.9,359C419.8,359.7 419.6,360.3 419.6,361C419.5,361.7 419.6,362.3 419.6,363C419.6,363.7 419.7,364.3 419.7,365C419.8,365.7 419.8,366.3 419.8,367C419.7,367.7 419.6,368.3 419.5,369C419.4,369.7 419.2,370.3 419.1,371C419,371.7 418.8,372.3 418.7,373C418.5,373.7 418.4,374.3 418.2,375C418,375.7 417.9,376.3 417.7,377C417.5,377.7 417.4,378.3 417.2,379C417.1,379.7 416.9,380.3 416.7,381C416.6,381.7 416.5,382.3 416.3,383C416.2,383.7 416.1,384.3 416,385C416,385.7 415.9,386.3 415.8,387C415.8,387.7 415.7,388.3 415.7,389C415.7,389.7 415.7,390.3 415.6,391C415.6,391.7 415.6,392.3 415.6,393C415.6,393.7 415.6,394.3 415.6,395C415.6,395.7 415.6,396.3 415.5,397C415.5,397.7 415.5,398.3 415.5,399C415.4,399.7 415.4,400.3 415.4,401C415.3,401.7 415.3,402.3 415.2,403C415.2,403.7 415.1,404.3 415.1,405C415,405.7 415,406.3 414.9,407C414.9,407.7 414.8,408.3 414.8,409C414.7,409.7 414.7,410.3 414.6,411C414.6,411.7 414.5,412.3 414.4,413C414.4,413.7 414.3,414.3 414.2,415C414.2,415.7 414.1,416.3 414.1,417C414,417.7 414,418.3 413.9,419C413.9,419.7 413.9,420.3 413.9,421C413.9,421.7 413.8,422.3 413.8,423C413.8,423.7 413.8,424.3 413.8,425C413.8,425.7 413.8,426.3 413.9,427C413.9,427.7 413.9,428.3 413.9,429C413.9,429.7 414,430.3 414,431C414.1,431.7 414.1,432.3 414.2,433C414.3,433.7 414.4,434.3 414.5,435C414.6,435.7 414.7,436.3 414.8,437C414.9,437.7 415,438.3 415.2,439C415.3,439.7 415.4,440.3 415.6,441C415.7,441.7 415.8,442.3 416,443C416.1,443.7 416.3,444.3 416.4,445C416.6,445.7 416.7,446.3 416.8,447C417,447.7 417.1,448.3 417.3,449C417.5,449.7 417.6,450.3 417.8,451C417.9,451.7 418.1,452.3 418.3,453C418.4,453.7 418.6,454.3 418.8,455C419,455.7 419.2,456.3 419.3,457C419.5,457.7 419.7,458.3 419.9,459C420.1,459.7 420.3,460.3 420.5,461C420.7,461.7 420.9,462.3 421.1,463C421.3,463.7 421.5,464.3 421.7,465C421.9,465.7 422.1,466.3 422.3,467C422.5,467.7 422.8,468.3 423,469C423.2,469.7 423.4,470.3 423.7,471C423.9,471.7 424.2,472.3 424.4,473C424.7,473.7 424.9,474.3 425.2,475C425.4,475.7 425.7,476.3 426,477C426.3,477.7 426.5,478.3 426.8,479C427.1,479.7 427.5,480.3 427.8,481C428.1,481.7 428.4,482.3 428.7,483C429.1,483.7 429.4,484.3 429.7,485C430.1,485.7 430.4,486.3 430.8,487C431.1,487.7 431.4,488.3 431.8,489C432.1,489.7 432.5,490.3 432.8,491C433.1,491.7 433.5,492.3 433.8,493C434.2,493.7 434.5,494.3 434.8,495C435.2,495.7 435.5,496.3 435.8,497C436.1,497.7 436.5,498.3 436.8,499C437.1,499.7 437.4,500.3 437.8,501C438.1,501.7 438.4,502.3 438.8,503C439.1,503.7 439.4,504.3 439.7,505C440.1,505.7 440.4,506.3 440.7,507C441.1,507.7 441.4,508.3 441.8,509C442.1,509.7 442.5,510.3 442.8,511C443.2,511.7 443.5,512.3 443.9,513C444.2,513.7 444.6,514.3 445,515C445.4,515.7 445.7,516.3 446.1,517C446.5,517.7 446.8,518.3 447.2,519C447.6,519.7 448,520.3 448.4,521C448.7,521.7 449.1,522.3 449.5,523C449.9,523.7 450.3,524.3 450.7,525C451,525.7 451.4,526.3 451.8,527C452.2,527.7 452.6,528.3 453,529C453.4,529.7 453.7,530.3 454.1,531C454.5,531.7 454.9,532.3 455.3,533C455.6,533.7 456,534.3 456.4,535C456.8,535.7 457.1,536.3 457.5,537C457.9,537.7 458.3,538.3 458.6,539C459,539.7 459.4,540.3 459.7,541C460.1,541.7 460.5,542.3 460.8,543C461.2,543.7 461.6,544.3 462,545C462.3,545.7 462.7,546.3 463.1,547C463.4,547.7 463.8,548.3 464.2,549C464.6,549.7 465,550.3 465.4,551C465.7,551.7 466.1,552.3 466.5,553C466.9,553.7 467.3,554.3 467.7,555C468.2,555.7 468.6,556.3 469,557C469.5,557.7 470.2,558.7 470.4,559" fill="none" stroke="#d24a1c" stroke-width="5" stroke-dasharray="1.3 2.4" opacity="0.6" filter="url(#blur05)"/>
<path d="M498.6,291C498.3,291.3 497.5,292.3 497,293C496.5,293.7 495.9,294.3 495.4,295C494.9,295.7 494.4,296.3 493.8,297C493.3,297.7 492.7,298.3 492.2,299C491.6,299.7 491.1,300.3 490.5,301C490,301.7 489.4,302.3 488.9,303C488.3,303.7 487.8,304.3 487.2,305C486.7,305.7 486.1,306.3 485.6,307C485,307.7 484.4,308.3 483.9,309C483.3,309.7 482.8,310.3 482.2,311C481.6,311.7 481.1,312.3 480.5,313C479.9,313.7 479.3,314.3 478.7,315C478.1,315.7 477.6,316.3 477,317C476.4,317.7 475.8,318.3 475.1,319C474.5,319.7 473.9,320.3 473.3,321C472.7,321.7 472.1,322.3 471.5,323C470.8,323.7 470.2,324.3 469.6,325C469,325.7 468.3,326.3 467.7,327C467.1,327.7 466.4,328.3 465.8,329C465.1,329.7 464.5,330.3 463.8,331C463.2,331.7 462.6,332.3 461.9,333C461.2,333.7 460.5,334.3 459.8,335C459.1,335.7 458.3,336.3 457.5,337C456.7,337.7 455.9,338.3 455.2,339C454.5,339.7 453.9,340.3 453.2,341C452.6,341.7 452,342.3 451.3,343C450.7,343.7 450.1,344.3 449.5,345C448.9,345.7 448.3,346.3 447.7,347C447.2,347.7 446.6,348.3 446.1,349C445.5,349.7 445,350.3 444.5,351C444,351.7 443.5,352.3 443,353C442.5,353.7 442,354.3 441.6,355C441.1,355.7 440.6,356.3 440.2,357C439.8,357.7 439.3,358.3 438.9,359C438.5,359.7 438.1,360.3 437.8,361C437.4,361.7 437.1,362.3 436.8,363C436.5,363.7 436.3,364.3 436,365C435.7,365.7 435.5,366.3 435.2,367C434.9,367.7 434.6,368.3 434.2,369C433.9,369.7 433.6,370.3 433.3,371C433,371.7 432.7,372.3 432.4,373C432.1,373.7 431.8,374.3 431.5,375C431.2,375.7 430.9,376.3 430.6,377C430.3,377.7 430,378.3 429.8,379C429.5,379.7 429.2,380.3 428.9,381C428.7,381.7 428.4,382.3 428.2,383C427.9,383.7 427.7,384.3 427.6,385C427.4,385.7 427.2,386.3 427.1,387C426.9,387.7 426.8,388.3 426.6,389C426.5,389.7 426.4,390.3 426.3,391C426.2,391.7 426.1,392.3 426,393C425.9,393.7 425.8,394.3 425.7,395C425.6,395.7 425.5,396.3 425.4,397C425.3,397.7 425.2,398.3 425.1,399C425,399.7 424.9,400.3 424.8,401C424.7,401.7 424.6,402.3 424.5,403C424.4,403.7 424.3,404.3 424.3,405C424.2,405.7 424.1,406.3 424,407C423.9,407.7 423.8,408.3 423.7,409C423.6,409.7 423.5,410.3 423.4,411C423.3,411.7 423.2,412.3 423.1,413C423,413.7 422.8,414.3 422.7,415C422.6,415.7 422.5,416.3 422.4,417C422.3,417.7 422.3,418.3 422.2,419C422.2,419.7 422.2,420.3 422.1,421C422.1,421.7 422.1,422.3 422.1,423C422.1,423.7 422.2,424.3 422.2,425C422.2,425.7 422.2,426.3 422.3,427C422.3,427.7 422.3,428.3 422.4,429C422.4,429.7 422.5,430.3 422.5,431C422.6,431.7 422.7,432.3 422.8,433C422.9,433.7 422.9,434.3 423.1,435C423.2,435.7 423.3,436.3 423.4,437C423.5,437.7 423.6,438.3 423.7,439C423.9,439.7 424,440.3 424.1,441C424.3,441.7 424.4,442.3 424.6,443C424.7,443.7 424.9,444.3 425,445C425.2,445.7 425.3,446.3 425.5,447C425.6,447.7 425.8,448.3 426,449C426.1,449.7 426.3,450.3 426.5,451C426.7,451.7 426.8,452.3 427,453C427.2,453.7 427.4,454.3 427.6,455C427.8,455.7 428,456.3 428.2,457C428.4,457.7 428.6,458.3 428.8,459C429,459.7 429.2,460.3 429.4,461C429.6,461.7 429.9,462.3 430.1,463C430.3,463.7 430.6,464.3 430.8,465C431,465.7 431.3,466.3 431.5,467C431.8,467.7 432,468.3 432.3,469C432.6,469.7 432.9,470.3 433.1,471C433.4,471.7 433.7,472.3 434,473C434.4,473.7 434.7,474.3 435,475C435.3,475.7 435.7,476.3 436,477C436.4,477.7 436.7,478.3 437.1,479C437.4,479.7 437.8,480.3 438.2,481C438.6,481.7 439,482.3 439.4,483C439.8,483.7 440.2,484.3 440.6,485C441,485.7 441.4,486.3 441.8,487C442.2,487.7 442.6,488.3 443.1,489C443.5,489.7 444,490.3 444.4,491C444.9,491.7 445.4,492.3 445.9,493C446.3,493.7 446.8,494.3 447.3,495C447.8,495.7 448.2,496.3 448.7,497C449.2,497.7 449.6,498.3 450.1,499C450.5,499.7 451,500.3 451.4,501C451.9,501.7 452.4,502.3 452.8,503C453.3,503.7 453.7,504.3 454.2,505C454.7,505.7 455.1,506.3 455.6,507C456,507.7 456.5,508.3 457,509C457.4,509.7 457.9,510.3 458.4,511C458.9,511.7 459.3,512.3 459.8,513C460.3,513.7 460.8,514.3 461.3,515C461.8,515.7 462.3,516.3 462.8,517C463.2,517.7 463.7,518.3 464.2,519C464.7,519.7 465.2,520.3 465.7,521C466.2,521.7 466.7,522.3 467.2,523C467.7,523.7 468.2,524.3 468.7,525C469.2,525.7 469.7,526.3 470.2,527C470.7,527.7 471.2,528.3 471.7,529C472.2,529.7 472.7,530.3 473.2,531C473.7,531.7 474.1,532.3 474.6,533C475.1,533.7 475.6,534.3 476.1,535C476.6,535.7 477.1,536.3 477.6,537C478.1,537.7 478.6,538.3 479.1,539C479.5,539.7 480,540.3 480.5,541C481,541.7 481.5,542.3 482,543C482.5,543.7 483,544.3 483.4,545C483.9,545.7 484.4,546.3 484.9,547C485.4,547.7 485.9,548.3 486.4,549C486.9,549.7 487.4,550.3 487.9,551C488.4,551.7 488.9,552.3 489.4,553C489.9,553.7 490.4,554.3 490.9,555C491.4,555.7 491.9,556.3 492.5,557C493,557.7 493.8,558.7 494.1,559" fill="none" stroke="#ffc838" stroke-width="5" stroke-dasharray="1.4 2.6" opacity="0.55" filter="url(#blur05)"/>
<g filter="url(#speckB)" opacity="0.6">
<path d="M449.4,291.5C449,292.5 447.8,295.5 447,297.5C446.1,299.5 445.1,301.5 444.2,303.5C443.3,305.5 442.4,307.5 441.3,309.5C440.3,311.5 439.3,313.5 438.1,315.5C437,317.5 435.7,319.5 434.4,321.5C433.1,323.5 431.7,325.5 430.2,327.5C428.8,329.5 427.5,331.5 425.7,333.5C423.9,335.5 421.1,337.5 419.4,339.5C417.7,341.5 416.5,343.5 415.3,345.5C414.1,347.5 413.2,349.5 412.3,351.5C411.5,353.5 410.6,355.5 410.3,357.5C410.1,359.5 410.6,361.5 410.9,363.5C411.1,365.5 411.8,367.5 411.9,369.5C411.9,371.5 411.5,373.5 411.3,375.5C411,377.5 410.6,379.5 410.4,381.5C410.2,383.5 410.1,385.5 410.1,387.5C410,389.5 410.2,391.5 410.3,393.5C410.4,395.5 410.5,397.5 410.5,399.5C410.5,401.5 410.4,403.5 410.3,405.5C410.3,407.5 410.2,409.5 410.1,411.5C410,413.5 409.8,415.5 409.7,417.5C409.7,419.5 409.6,421.5 409.5,423.5C409.5,425.5 409.5,427.5 409.6,429.5C409.7,431.5 409.8,433.5 410.1,435.5C410.4,437.5 410.8,439.5 411.2,441.5C411.6,443.5 412.1,445.5 412.5,447.5C412.9,449.5 413.4,451.5 413.9,453.5C414.4,455.5 414.9,457.5 415.4,459.5C416,461.5 416.6,463.5 417.1,465.5C417.7,467.5 418.3,469.5 419,471.5C419.6,473.5 420.2,475.5 421,477.5C421.8,479.5 422.6,481.5 423.5,483.5C424.3,485.5 425.3,487.5 426.2,489.5C427,491.5 427.8,493.5 428.6,495.5C429.4,497.5 430.1,499.5 430.9,501.5C431.7,503.5 432.5,505.5 433.3,507.5C434.1,509.5 435,511.5 435.9,513.5C436.8,515.5 437.8,517.5 438.7,519.5C439.7,521.5 440.6,523.5 441.6,525.5C442.6,527.5 443.6,529.5 444.6,531.5C445.5,533.5 446.5,535.5 447.4,537.5C448.4,539.5 449.3,541.5 450.2,543.5C451.1,545.5 452,547.5 453,549.5C454,551.5 455,553.5 456.1,555.5C457.2,557.5 459.1,560.5 459.7,561.5 L510.7,561.5C509.8,560.5 507.1,557.5 505.4,555.5C503.6,553.5 502,551.5 500.3,549.5C498.6,547.5 496.9,545.5 495.2,543.5C493.5,541.5 491.9,539.5 490.2,537.5C488.5,535.5 486.8,533.5 485.1,531.5C483.4,529.5 481.7,527.5 480,525.5C478.3,523.5 476.6,521.5 475,519.5C473.3,517.5 471.6,515.5 469.9,513.5C468.3,511.5 466.6,509.5 465,507.5C463.4,505.5 461.7,503.5 460.1,501.5C458.5,499.5 456.9,497.5 455.3,495.5C453.6,493.5 451.8,491.5 450.3,489.5C448.8,487.5 447.5,485.5 446.2,483.5C444.8,481.5 443.6,479.5 442.4,477.5C441.2,475.5 440.1,473.5 439.1,471.5C438.2,469.5 437.3,467.5 436.5,465.5C435.7,463.5 435,461.5 434.4,459.5C433.7,457.5 433.1,455.5 432.5,453.5C431.9,451.5 431.3,449.5 430.8,447.5C430.3,445.5 429.9,443.5 429.5,441.5C429,439.5 428.7,437.5 428.3,435.5C428,433.5 427.7,431.5 427.5,429.5C427.4,427.5 427.2,425.5 427.2,423.5C427.2,421.5 427.2,419.5 427.4,417.5C427.7,415.5 428.3,413.5 428.6,411.5C429,409.5 429.4,407.5 429.7,405.5C430.1,403.5 430.4,401.5 430.8,399.5C431.2,397.5 431.7,395.5 432.1,393.5C432.6,391.5 433,389.5 433.7,387.5C434.3,385.5 435.1,383.5 436.1,381.5C437,379.5 438.2,377.5 439.3,375.5C440.5,373.5 441.6,371.5 442.9,369.5C444.1,367.5 445.4,365.5 446.9,363.5C448.4,361.5 450.1,359.5 451.7,357.5C453.4,355.5 455,353.5 456.8,351.5C458.6,349.5 460.6,347.5 462.6,345.5C464.6,343.5 466.6,341.5 468.8,339.5C471,337.5 473.5,335.5 475.7,333.5C477.9,331.5 479.9,329.5 482,327.5C484.1,325.5 486.2,323.5 488.3,321.5C490.3,319.5 492.4,317.5 494.4,315.5C496.4,313.5 498.4,311.5 500.3,309.5C502.3,307.5 504.2,305.5 506.2,303.5C508.1,301.5 510.1,299.5 512,297.5C513.9,295.5 516.7,292.5 517.7,291.5 Z" fill="#000" fill-opacity="1" />
</g>
<path d="M450.6,291C450.4,291.5 449.8,293 449.4,294C449,295 448.6,296 448.2,297C447.8,298 447.3,299 446.8,300C446.4,301 445.9,302 445.4,303C445,304 444.5,305 444,306C443.6,307 443.1,308 442.6,309C442.1,310 441.6,311 441.1,312C440.5,313 440,314 439.4,315C438.8,316 438.2,317 437.6,318C437,319 436.4,320 435.7,321C435,322 434.4,323 433.7,324C433,325 432.3,326 431.6,327C430.9,328 430.1,329 429.4,330C428.6,331 428,332 427.1,333C426.2,334 425.2,335 424.2,336C423.2,337 421.8,338 420.9,339C419.9,340 419.2,341 418.5,342C417.8,343 417.2,344 416.6,345C416,346 415.5,347 415,348C414.5,349 414,350 413.5,351C413.1,352 412.7,353 412.3,354C412,355 411.6,356 411.4,357C411.2,358 411,359 411.1,360C411.1,361 411.5,362 411.7,363C412,364 412.4,365 412.6,366C412.8,367 412.9,368 412.9,369C412.9,370 412.8,371 412.7,372C412.6,373 412.5,374 412.3,375C412.2,376 412,377 411.9,378C411.7,379 411.6,380 411.5,381C411.4,382 411.2,383 411.2,384C411.1,385 411.1,386 411.1,387C411,388 411.1,389 411.1,390C411.1,391 411.2,392 411.3,393C411.3,394 411.4,395 411.4,396C411.5,397 411.5,398 411.5,399C411.5,400 411.5,401 411.5,402C411.4,403 411.4,404 411.4,405C411.3,406 411.3,407 411.2,408C411.2,409 411.1,410 411.1,411C411,412 411,413 410.9,414C410.9,415 410.8,416 410.8,417C410.7,418 410.7,419 410.6,420C410.6,421 410.6,422 410.6,423C410.5,424 410.5,425 410.5,426C410.5,427 410.5,428 410.6,429C410.6,430 410.6,431 410.7,432C410.8,433 410.9,434 411,435C411.2,436 411.4,437 411.5,438C411.7,439 411.9,440 412.1,441C412.3,442 412.6,443 412.8,444C413,445 413.2,446 413.4,447C413.6,448 413.8,449 414.1,450C414.3,451 414.5,452 414.8,453C415,454 415.3,455 415.5,456C415.8,457 416,458 416.3,459C416.6,460 416.9,461 417.1,462C417.4,463 417.7,464 418,465C418.3,466 418.6,467 418.9,468C419.2,469 419.5,470 419.8,471C420.1,472 420.4,473 420.8,474C421.1,475 421.5,476 421.8,477C422.2,478 422.6,479 423,480C423.4,481 423.8,482 424.3,483C424.7,484 425.1,485 425.6,486C426,487 426.5,488 426.9,489C427.4,490 427.8,491 428.2,492C428.6,493 429,494 429.4,495C429.8,496 430.2,497 430.6,498C431,499 431.3,500 431.7,501C432.1,502 432.5,503 432.9,504C433.3,505 433.7,506 434.1,507C434.5,508 434.9,509 435.3,510C435.8,511 436.2,512 436.7,513C437.1,514 437.6,515 438,516C438.5,517 439,518 439.5,519C439.9,520 440.4,521 440.9,522C441.4,523 441.9,524 442.4,525C442.9,526 443.4,527 443.9,528C444.3,529 444.8,530 445.3,531C445.8,532 446.3,533 446.8,534C447.2,535 447.7,536 448.2,537C448.6,538 449.1,539 449.6,540C450,541 450.5,542 451,543C451.4,544 451.9,545 452.4,546C452.8,547 453.3,548 453.8,549C454.3,550 454.7,551 455.2,552C455.7,553 456.2,554 456.8,555C457.4,556 458.3,557.5 458.6,558" fill="none" stroke="#ffe890" stroke-width="1.5" stroke-dasharray="1.5 1.8" opacity="0.8"/>
<g filter="url(#blur1)">
<path d="M418.4,338C418.2,339 417.5,342 417.1,344C416.7,346 416.2,348 416,350C415.8,352 415.8,354 415.8,356C415.9,358 416,360 416.1,362C416.2,364 416.4,366 416.6,368C416.7,370 416.9,372 417,374C417,376 417,378 417,380C417,382 416.9,384 416.9,386C417,388 417,390 417.1,392C417.2,394 417.4,396 417.6,398C417.8,400 418.1,403 418.2,404 L424.8,404C424.9,403 425.2,400 425.3,398C425.5,396 425.7,394 425.8,392C426,390 426.1,388 426.3,386C426.4,384 426.5,382 426.7,380C426.8,378 426.9,376 427.1,374C427.2,372 427.3,370 427.4,368C427.6,366 427.7,364 427.8,362C428,360 428.3,358 428.5,356C428.7,354 429.1,352 429,350C428.9,348 428.3,346 427.9,344C427.5,342 426.8,339 426.6,338 Z" fill="#2a8a3a" fill-opacity="1" />
</g>
<circle cx="427" cy="349" r="3" fill="#101840" filter="url(#blur05)"/>
<g filter="url(#blur05)">
<path d="M421,336C420.5,337 418.8,340 417.8,342C416.8,344 415.8,346 415,348C414.2,350 413.5,352 413,354C412.5,356 412,358 412,360C411.9,362 412.7,364 412.9,366C413,368 412.9,370 412.8,372C412.6,374 412.3,376 412.1,378C411.9,380 411.7,382 411.6,384C411.5,386 411.5,388 411.5,390C411.6,392 411.7,394 411.8,396C411.9,398 412,400 412.1,402C412.2,404 412.2,406 412.3,408C412.4,410 412.5,412 412.6,414C412.7,416 412.8,418 413,420C413.2,422 413.3,424 413.5,426C413.7,428 413.9,430 414.2,432C414.4,434 414.7,436.7 414.8,438C414.9,439.3 415,439.7 415,440 L419,440C419,439.7 418.9,439.3 418.8,438C418.7,436.7 418.4,434 418.2,432C417.9,430 417.7,428 417.5,426C417.3,424 417.2,422 417,420C416.8,418 416.7,416 416.6,414C416.5,412 416.4,410 416.3,408C416.2,406 416.2,404 416.1,402C416,400 415.9,398 415.8,396C415.7,394 415.6,392 415.5,390C415.5,388 415.5,386 415.6,384C415.7,382 415.9,380 416.1,378C416.3,376 416.6,374 416.8,372C416.9,370 417,368 416.9,366C416.7,364 415.9,362 416,360C416,358 416.5,356 417,354C417.5,352 418.2,350 419,348C419.8,346 420.8,344 421.8,342C422.8,340 424.5,337 425,336 Z" fill="#fce050" fill-opacity="0.95" />
</g>
<g filter="url(#blur2)">
<path d="M382.1,412C382.4,413 383.5,416 384.2,418C384.9,420 385.6,422 386.1,424C386.7,426 387.2,428 387.8,430C388.3,432 388.7,434 389.2,436C389.8,438 390.3,440 390.8,442C391.3,444 391.9,446 392.4,448C392.9,450 393.4,452 394,454C394.5,456 395,458 395.6,460C396.1,462 396.7,464 397.2,466C397.8,468 398.3,470 399,472C399.6,474 400.3,476 401.2,478C402.1,480 403.4,482 404.5,484C405.7,486 407.1,488 408.3,490C409.5,492 410.8,494 412,496C413.2,498 414.5,500 415.7,502C417,504 418.2,506 419.5,508C420.7,510 421.9,512 423.1,514C424.3,516 425.4,518 426.6,520C427.8,522 428.9,524 430.1,526C431.3,528 432.4,530 433.6,532C434.9,534 436.1,536 437.5,538C438.8,540 440.2,542 441.6,544C443,546 444.5,548 445.8,550C447,552 448.3,554 449.4,556C450.4,558 451.6,561 452,562 L465,562C464.6,561 463.4,558 462.4,556C461.3,554 460,552 458.8,550C457.5,548 456,546 454.6,544C453.2,542 451.8,540 450.5,538C449.1,536 447.9,534 446.6,532C445.4,530 444.3,528 443.1,526C441.9,524 440.8,522 439.6,520C438.4,518 437.3,516 436.1,514C434.9,512 433.7,510 432.5,508C431.2,506 430,504 428.7,502C427.5,500 426.2,498 425,496C423.8,494 422.5,492 421.3,490C420.1,488 418.7,486 417.5,484C416.4,482 415.1,480 414.2,478C413.3,476 412.6,474 412,472C411.3,470 410.8,468 410.2,466C409.7,464 409.1,462 408.6,460C408,458 407.5,456 407,454C406.4,452 405.9,450 405.4,448C404.9,446 404.3,444 403.8,442C403.3,440 402.8,438 402.2,436C401.7,434 401.3,432 400.8,430C400.2,428 399.7,426 399.1,424C398.6,422 397.9,420 397.2,418C396.5,416 395.4,413 395.1,412 Z" fill="#2e8c34" fill-opacity="0.85" />
</g>
<g filter="url(#blur05)">
<path d="M396.9,420C397.2,421 398.2,424 398.7,426C399.3,428 399.7,430 400.2,432C400.8,434 401.2,436 401.8,438C402.3,440 402.8,442 403.3,444C403.9,446 404.4,448 404.9,450C405.4,452 405.9,454 406.5,456C407,458 407.6,460 408.1,462C408.7,464 409.2,466 409.8,468C410.4,470 410.9,472 411.6,474C412.4,476 413.2,478 414.2,480C415.2,482 416.6,484 417.8,486C419,488 420.3,490 421.5,492C422.8,494 424,496 425.2,498C426.5,500 427.7,502 429,504C430.2,506 431.5,508 432.7,510C433.9,512 435.1,514 436.3,516C437.5,518 438.6,520 439.8,522C440.9,524 442.1,526 443.3,528C444.4,530 445.6,532 446.9,534C448.1,536 449.5,538 450.8,540C452.2,542 453.6,544 455,546C456.4,548 457.9,550 459.1,552C460.3,554 461.4,556.3 462.3,558C463.1,559.7 463.7,561.3 464,562 L471,562C470.7,561.3 470.1,559.7 469.3,558C468.4,556.3 467.3,554 466.1,552C464.9,550 463.4,548 462,546C460.6,544 459.2,542 457.8,540C456.5,538 455.1,536 453.9,534C452.6,532 451.4,530 450.3,528C449.1,526 447.9,524 446.8,522C445.6,520 444.5,518 443.3,516C442.1,514 440.9,512 439.7,510C438.5,508 437.2,506 436,504C434.7,502 433.5,500 432.2,498C431,496 429.8,494 428.5,492C427.3,490 426,488 424.8,486C423.6,484 422.2,482 421.2,480C420.2,478 419.4,476 418.6,474C417.9,472 417.4,470 416.8,468C416.2,466 415.7,464 415.1,462C414.6,460 414,458 413.5,456C412.9,454 412.4,452 411.9,450C411.4,448 410.9,446 410.3,444C409.8,442 409.3,440 408.8,438C408.2,436 407.8,434 407.2,432C406.7,430 406.3,428 405.7,426C405.2,424 404.2,421 403.9,420 Z" fill="#0a7070" fill-opacity="0.95" />
</g>
<g filter="url(#blur05)">
<path d="M404.3,440C404.5,441 405.3,444 405.9,446C406.4,448 406.9,450 407.4,452C408,454 408.5,456 409,458C409.6,460 410.1,462 410.7,464C411.3,466 411.8,468 412.4,470C413,472 413.6,474 414.4,476C415.2,478 416.2,480 417.3,482C418.4,484 419.8,486 421.1,488C422.3,490 423.5,492 424.8,494C426,496 427.2,498 428.5,500C429.7,502 431,504 432.2,506C433.5,508 434.7,510 435.9,512C437.1,514 438.3,516 439.4,518C440.6,520 441.8,522 442.9,524C444.1,526 445.2,528 446.4,530C447.6,532 448.8,534 450.1,536C451.4,538 452.8,540 454.2,542C455.6,544 457.1,546 458.4,548C459.8,550 461.2,552 462.3,554C463.4,556 464.5,558.7 465.1,560C465.7,561.3 465.9,561.7 466,562 L469,562C468.9,561.7 468.7,561.3 468.1,560C467.5,558.7 466.4,556 465.3,554C464.2,552 462.8,550 461.4,548C460.1,546 458.6,544 457.2,542C455.8,540 454.4,538 453.1,536C451.8,534 450.6,532 449.4,530C448.2,528 447.1,526 445.9,524C444.8,522 443.6,520 442.4,518C441.3,516 440.1,514 438.9,512C437.7,510 436.5,508 435.2,506C434,504 432.7,502 431.5,500C430.2,498 429,496 427.8,494C426.5,492 425.3,490 424.1,488C422.8,486 421.4,484 420.3,482C419.2,480 418.2,478 417.4,476C416.6,474 416,472 415.4,470C414.8,468 414.3,466 413.7,464C413.1,462 412.6,460 412,458C411.5,456 411,454 410.4,452C409.9,450 409.4,448 408.9,446C408.3,444 407.5,441 407.3,440 Z" fill="#101838" fill-opacity="1" />
</g>
<g filter="url(#blur05)">
<path d="M423.9,455C424.3,456 425.2,459 426,461C426.8,463 427.5,465 428.5,467C429.4,469 430.5,471 431.7,473C432.8,475 434.2,477 435.6,479C437,481 438.5,483 440,485C441.6,487 443.2,489 445.1,491C446.9,493 449.2,495 451.2,497C453.2,499 455.2,501 457.1,503C459.1,505 461.1,507 463,509C465,511 467.2,513.2 469,515C470.8,516.8 473.2,519.2 474,520 L479,520C478.2,519.2 475.8,516.8 474,515C472.2,513.2 470,511 468,509C466.1,507 464.1,505 462.1,503C460.2,501 458.2,499 456.2,497C454.2,495 451.9,493 450.1,491C448.2,489 446.6,487 445,485C443.5,483 442,481 440.6,479C439.2,477 437.8,475 436.7,473C435.5,471 434.4,469 433.5,467C432.5,465 431.8,463 431,461C430.2,459 429.3,456 428.9,455 Z" fill="#0a7070" fill-opacity="0.9" />
</g>
<path d="M480,342C478.4,343.3 473.5,347.3 470.5,350C467.5,352.7 465.1,355.2 461.9,358C458.7,360.8 454.5,364 451.5,367C448.5,370 446.2,373 444,376C441.8,379 439.8,381.3 438,385C436.2,388.7 434.3,393.8 433,398C431.7,402.2 430.9,406.3 430,410C429.1,413.7 427.8,415.5 427.7,420C427.6,424.5 428.4,431.3 429.4,437C430.4,442.7 431.8,448.3 433.6,454C435.5,459.7 437.4,465.3 440.5,471C443.6,476.7 449,483.7 452.4,488C455.8,492.3 458.1,493.8 460.9,496.7C463.7,499.6 466.9,502.8 469.4,505.3C471.9,507.9 473.9,509.9 476,512C478.1,514.1 481,517 482,518 L600,518.0 L600,342.0 Z" fill="#fffa00" filter="url(#blur05)"/>
</g>
<linearGradient id="cbN" x1="0" y1="0" x2="0" y2="1">
<stop offset="0" stop-color="#fffff4"/>
<stop offset="0.1" stop-color="#ffffa0"/>
<stop offset="0.2" stop-color="#fcf530"/>
<stop offset="0.255" stop-color="#f2e600"/>
<stop offset="0.285" stop-color="#b0a000"/>
<stop offset="0.32" stop-color="#a08000"/>
<stop offset="0.37" stop-color="#f08c00"/>
<stop offset="0.44" stop-color="#fa780a"/>
<stop offset="0.52" stop-color="#f0320a"/>
<stop offset="0.575" stop-color="#dc0000"/>
<stop offset="0.63" stop-color="#820014"/>
<stop offset="0.69" stop-color="#3c0064"/>
<stop offset="0.745" stop-color="#1e14b4"/>
<stop offset="0.80" stop-color="#0a1ef0"/>
<stop offset="0.875" stop-color="#0a0a78"/>
<stop offset="0.95" stop-color="#05051e"/>
<stop offset="1" stop-color="#000000"/>
</linearGradient>
<linearGradient id="cbB" x1="0" y1="0" x2="0" y2="1">
<stop offset="0" stop-color="#fff000"/>
<stop offset="0.14" stop-color="#f0aa00"/>
<stop offset="0.26" stop-color="#e6780a"/>
<stop offset="0.34" stop-color="#dc460a"/>
<stop offset="0.375" stop-color="#c81400"/>
<stop offset="0.45" stop-color="#962800"/>
<stop offset="0.51" stop-color="#3c7814"/>
<stop offset="0.57" stop-color="#148c28"/>
<stop offset="0.69" stop-color="#006e6e"/>
<stop offset="0.765" stop-color="#0a285a"/>
<stop offset="0.86" stop-color="#0a0a28"/>
<stop offset="1" stop-color="#000000"/>
</linearGradient>
<rect x="484.5" y="24" width="12.5" height="238" fill="url(#cbN)"/>
<rect x="484.8" y="311" width="12.5" height="229" fill="url(#cbB)"/>
<path d="M497,29.2 h6 M497,35.0 h6 M497,40.9 h6 M497,46.8 h6 M497,52.6 h6 M497,58.5 h6 M497,64.3 h6 M497,70.1 h6 M497,76.0 h6 M497,81.8 h6 M497,87.7 h6 M497,93.5 h6 M497,99.4 h6 M497,105.2 h6 M497,111.1 h6 M497,116.9 h6 M497,122.8 h6 M497,128.6 h6 M497,134.5 h6 M497,140.3 h6 M497,146.2 h6 M497,152.0 h6 M497,157.9 h6 M497,163.7 h6 M497,169.6 h6 M497,175.4 h6 M497,181.3 h6 M497,187.1 h6 M497,193.0 h6 M497,198.8 h6 M497,204.7 h6 M497,210.5 h6 M497,216.4 h6 M497,222.2 h6 M497,228.1 h6 M497,233.9 h6 M497,239.8 h6 M497,245.6 h6 M497,251.5 h6 M497,257.3 h6 M492.8,86.5 h4 M492.8,145.5 h4 M497.5,312.5 h6 M497.5,318.1 h6 M497.5,323.7 h6 M497.5,329.3 h6 M497.5,334.9 h6 M497.5,340.5 h6 M497.5,346.1 h6 M497.5,351.7 h6 M497.5,357.3 h6 M497.5,362.9 h6 M497.5,368.5 h6 M497.5,374.1 h6 M497.5,379.7 h6 M497.5,385.3 h6 M497.5,390.9 h6 M497.5,396.5 h6 M497.5,402.1 h6 M497.5,407.7 h6 M497.5,413.3 h6 M497.5,418.9 h6 M497.5,424.5 h6 M497.5,430.1 h6 M497.5,435.7 h6 M497.5,441.3 h6 M497.5,446.9 h6 M497.5,452.5 h6 M497.5,458.1 h6 M497.5,463.7 h6 M497.5,469.3 h6 M497.5,474.9 h6 M497.5,480.5 h6 M497.5,486.1 h6 M497.5,491.7 h6 M497.5,497.3 h6 M497.5,502.9 h6 M497.5,508.5 h6 M497.5,514.1 h6 M497.5,519.7 h6 M497.5,525.3 h6 M497.5,530.9 h6 M497.5,536.5 h6 M492.7,368.5 h5" stroke="#333" stroke-width="1"/>
<text x="38.3" y="12.9" font-size="19.0" fill="#000" font-family='"Liberation Serif",serif' font-weight="normal" >a)</text>
<text x="158.3" y="12.5" font-size="19.0" fill="#000" font-family='"Liberation Serif",serif' font-weight="normal" >b)</text>
<text x="270.0" y="12.7" font-size="19.0" fill="#000" font-family='"Liberation Serif",serif' font-weight="normal" >c)</text>
<text x="380.3" y="12.5" font-size="19.0" fill="#000" font-family='"Liberation Serif",serif' font-weight="normal" >d)</text>
<text x="41.5" y="293.6" font-size="19.0" fill="#000" font-family='"Liberation Serif",serif' font-weight="normal" >e)</text>
<text x="160.0" y="293.6" font-size="19.0" fill="#000" font-family='"Liberation Serif",serif' font-weight="normal" >f)</text>
<text x="269.0" y="293.6" font-size="19.0" fill="#000" font-family='"Liberation Serif",serif' font-weight="normal" >g)</text>
<text x="380.4" y="293.8" font-size="19.0" fill="#000" font-family='"Liberation Serif",serif' font-weight="normal" >h)</text>
<text x="-1.6" y="35.8" font-size="14.5" fill="#000" font-family='"Liberation Serif",serif' font-weight="normal" >400</text>
<text x="3.6" y="266.8" font-size="14.5" fill="#000" font-family='"Liberation Serif",serif' font-weight="normal" >100</text>
<text x="4.0" y="317.0" font-size="14.5" fill="#000" font-family='"Liberation Serif",serif' font-weight="normal" >400</text>
<text x="3.9" y="547.8" font-size="14.5" fill="#000" font-family='"Liberation Serif",serif' font-weight="normal" >100</text>
<text transform="translate(16.8,145.3) rotate(-90)" text-anchor="middle" font-size="16" font-family='"Liberation Serif",serif' textLength="29.6" lengthAdjust="spacingAndGlyphs">Y(d<tspan font-size="9" dy="2">i</tspan><tspan dy="-2">)</tspan></text>
<text transform="translate(16.8,418.6) rotate(-90)" text-anchor="middle" font-size="16" font-family='"Liberation Serif",serif' textLength="29.6" lengthAdjust="spacingAndGlyphs">Y(d<tspan font-size="9" dy="2">i</tspan><tspan dy="-2">)</tspan></text>
<text x="37.3" y="576.2" font-size="14.3" fill="#000" font-family='"Liberation Serif",serif' font-weight="normal" >100</text>
<text x="112.8" y="576.2" font-size="14.3" fill="#000" font-family='"Liberation Serif",serif' font-weight="normal" >220</text>
<text x="71.8" y="583.6" font-size="14.5" font-family='"Liberation Serif",serif'>X(d<tspan font-size="9.5" dy="1.8">i</tspan><tspan dy="-1.8">)</tspan></text>
<text x="149.2" y="576.2" font-size="14.3" fill="#000" font-family='"Liberation Serif",serif' font-weight="normal" >100</text>
<text x="225.2" y="576.2" font-size="14.3" fill="#000" font-family='"Liberation Serif",serif' font-weight="normal" >220</text>
<text x="185.0" y="583.6" font-size="14.5" font-family='"Liberation Serif",serif'>X(d<tspan font-size="9.5" dy="1.8">i</tspan><tspan dy="-1.8">)</tspan></text>
<text x="259.6" y="576.2" font-size="14.3" fill="#000" font-family='"Liberation Serif",serif' font-weight="normal" >100</text>
<text x="335.8" y="576.2" font-size="14.3" fill="#000" font-family='"Liberation Serif",serif' font-weight="normal" >220</text>
<text x="293.9" y="583.6" font-size="14.5" font-family='"Liberation Serif",serif'>X(d<tspan font-size="9.5" dy="1.8">i</tspan><tspan dy="-1.8">)</tspan></text>
<text x="371.4" y="576.2" font-size="14.3" fill="#000" font-family='"Liberation Serif",serif' font-weight="normal" >100</text>
<text x="447.2" y="576.2" font-size="14.3" fill="#000" font-family='"Liberation Serif",serif' font-weight="normal" >220</text>
<text x="408.2" y="583.6" font-size="14.5" font-family='"Liberation Serif",serif'>X(d<tspan font-size="9.5" dy="1.8">i</tspan><tspan dy="-1.8">)</tspan></text>
<text x="485.0" y="17.9" font-size="17.5" fill="#000" font-family='"Liberation Serif",serif' font-weight="normal" >N</text>
<text x="511.6" y="35.3" font-size="13.5" fill="#000" font-family='"Liberation Serif",serif' font-weight="normal" >8</text>
<text x="511.6" y="269.1" font-size="13.5" fill="#000" font-family='"Liberation Serif",serif' font-weight="normal" >0</text>
<text x="485.0" y="297.3" font-size="16.0" fill="#000" font-family='"Liberation Serif",serif' font-weight="normal" >B</text>
<text x="495.6" y="305.0" font-size="16.0" fill="#000" font-family='"Liberation Serif",serif' font-weight="normal" >y</text>
<text x="511.5" y="316.0" font-size="12.0" fill="#000" font-family='"Liberation Serif",serif' font-weight="normal" >5</text>
<text x="509.0" y="543.0" font-size="12.0" fill="#000" font-family='"Liberation Serif",serif' font-weight="normal" >-5</text>
<text x="38.8" y="136.6" font-size="18.6" fill="#ffffff" font-family='"Liberation Serif",serif' font-weight="normal" textLength="36.4" lengthAdjust="spacingAndGlyphs" >WF1</text>
<text x="149.3" y="88.4" font-size="18.6" fill="#ffffff" font-family='"Liberation Serif",serif' font-weight="normal" textLength="37.9" lengthAdjust="spacingAndGlyphs" >WF1</text>
<text x="262.4" y="71.0" font-size="18.6" fill="#ffffff" font-family='"Liberation Serif",serif' font-weight="normal" textLength="36.4" lengthAdjust="spacingAndGlyphs" >WF1</text>
<text x="375.6" y="65.7" font-size="18.6" fill="#ffffff" font-family='"Liberation Serif",serif' font-weight="normal" textLength="36.8" lengthAdjust="spacingAndGlyphs" >WF1</text>
<text x="38.8" y="416.0" font-size="18.6" fill="#ffffff" font-family='"Liberation Serif",serif' font-weight="normal" textLength="36.4" lengthAdjust="spacingAndGlyphs" >WF1</text>
<text x="149.8" y="367.5" font-size="18.6" fill="#ffffff" font-family='"Liberation Serif",serif' font-weight="normal" textLength="37.3" lengthAdjust="spacingAndGlyphs" >WF1</text>
<text x="261.8" y="350.9" font-size="18.6" fill="#ffffff" font-family='"Liberation Serif",serif' font-weight="normal" textLength="36.8" lengthAdjust="spacingAndGlyphs" >WF1</text>
<text x="375.6" y="345.2" font-size="18.6" fill="#ffffff" font-family='"Liberation Serif",serif' font-weight="normal" textLength="36.8" lengthAdjust="spacingAndGlyphs" >WF1</text>
<text x="373.0" y="214.0" font-size="18.6" fill="#ffffff" font-family='"Liberation Serif",serif' font-weight="normal" textLength="37.0" lengthAdjust="spacingAndGlyphs" >WF2</text>
<text x="373.2" y="495.5" font-size="18.8" fill="#fffbe8" font-family='"Liberation Sans",sans-serif' font-weight="normal" textLength="35.4" lengthAdjust="spacingAndGlyphs" >WF2</text>
<text x="44.0" y="264.8" font-size="16.6" fill="#ffffff" font-family='"Liberation Sans",sans-serif' font-weight="normal" textLength="47.8" lengthAdjust="spacingAndGlyphs" >t=42.4</text>
<text x="156.0" y="264.8" font-size="16.6" fill="#ffffff" font-family='"Liberation Sans",sans-serif' font-weight="normal" textLength="47.8" lengthAdjust="spacingAndGlyphs" >t=47.2</text>
<text x="268.9" y="264.8" font-size="16.6" fill="#ffffff" font-family='"Liberation Sans",sans-serif' font-weight="normal" textLength="47.8" lengthAdjust="spacingAndGlyphs" >t=53.4</text>
<text x="378.9" y="264.8" font-size="16.6" fill="#ffffff" font-family='"Liberation Sans",sans-serif' font-weight="normal" textLength="47.8" lengthAdjust="spacingAndGlyphs" >t=60.8</text>
<text x="44.0" y="544.7" font-size="16.6" fill="#fff4e0" font-family='"Liberation Sans",sans-serif' font-weight="normal" textLength="47.8" lengthAdjust="spacingAndGlyphs" >t=42.4</text>
<text x="156.4" y="544.7" font-size="16.6" fill="#fff4e0" font-family='"Liberation Sans",sans-serif' font-weight="normal" textLength="47.8" lengthAdjust="spacingAndGlyphs" >t=47.2</text>
<text x="268.6" y="544.7" font-size="16.6" fill="#fff4e0" font-family='"Liberation Sans",sans-serif' font-weight="normal" textLength="47.8" lengthAdjust="spacingAndGlyphs" >t=53.4</text>
<text x="378.9" y="544.7" font-size="16.6" fill="#fff4e0" font-family='"Liberation Sans",sans-serif' font-weight="normal" textLength="47.8" lengthAdjust="spacingAndGlyphs" >t=60.8</text>
<path d="M57.5,144.2 L74.6,181.7 M67.4,176.3 L74.6,181.7 L75.2,172.7" stroke="#fff" stroke-width="2.4" fill="none" stroke-linecap="round" stroke-linejoin="round"/>
<path d="M168.8,98.2 L168.8,127.4 M164.5,119.5 L168.8,127.4 L173.1,119.5" stroke="#fff" stroke-width="2.4" fill="none" stroke-linecap="round" stroke-linejoin="round"/>
<path d="M280.8,78.7 L286.2,105.8 M280.4,98.9 L286.2,105.8 L288.9,97.2" stroke="#fff" stroke-width="2.4" fill="none" stroke-linecap="round" stroke-linejoin="round"/>
<path d="M399.3,71.0 L416.7,88.4 M408.1,85.9 L416.7,88.4 L414.2,79.8" stroke="#fff" stroke-width="2.4" fill="none" stroke-linecap="round" stroke-linejoin="round"/>
<path d="M57.5,423.5 L74.6,461.7 M67.4,456.3 L74.6,461.7 L75.3,452.7" stroke="#fff" stroke-width="2.4" fill="none" stroke-linecap="round" stroke-linejoin="round"/>
<path d="M168.5,377.8 L168.5,406.5 M164.2,398.6 L168.5,406.5 L172.8,398.6" stroke="#fff" stroke-width="2.4" fill="none" stroke-linecap="round" stroke-linejoin="round"/>
<path d="M280.1,357.4 L286.0,384.9 M280.1,378.1 L286.0,384.9 L288.6,376.3" stroke="#fff" stroke-width="2.4" fill="none" stroke-linecap="round" stroke-linejoin="round"/>
<path d="M399.3,350.5 L416.7,367.9 M408.1,365.4 L416.7,367.9 L414.2,359.3" stroke="#fff" stroke-width="2.4" fill="none" stroke-linecap="round" stroke-linejoin="round"/>
</svg>
</body></html>
